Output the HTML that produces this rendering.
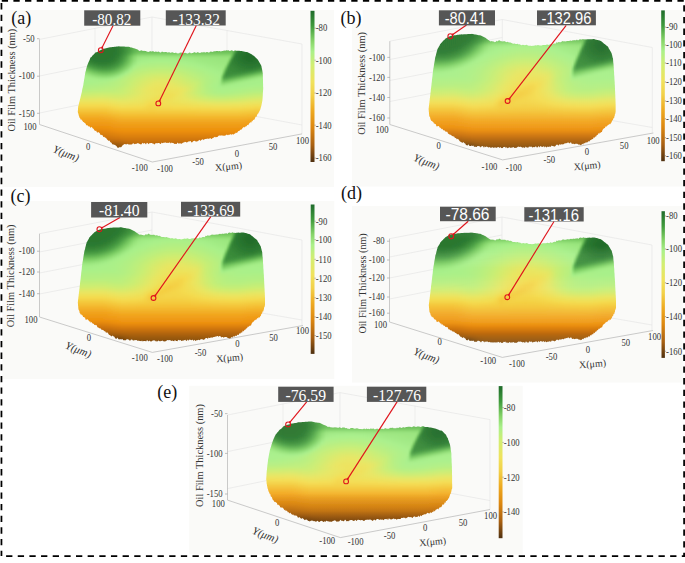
<!DOCTYPE html>
<html><head><meta charset="utf-8"><style>
html,body{margin:0;padding:0;background:#fff;}
svg{display:block;}
</style></head><body>
<svg width="685" height="563" viewBox="0 0 685 563">
<defs>
<clipPath id="clipshort"><path d="M77.8,111.8 L77.9,110.7 L78.0,109.1 L78.1,107.6 L78.2,106.2 L78.5,105.4 L78.8,104.2 L79.1,102.8 L79.5,101.4 L79.8,100.2 L80.1,99.0 L80.4,97.9 L80.7,96.5 L81.0,95.4 L81.3,94.0 L81.6,93.0 L81.9,91.7 L82.1,90.2 L82.4,88.8 L82.7,87.8 L83.0,86.2 L83.3,84.9 L83.5,83.4 L83.7,82.3 L83.9,81.1 L84.1,79.8 L84.4,78.3 L84.6,77.1 L84.8,75.6 L85.0,74.4 L85.2,73.0 L85.5,71.8 L85.9,70.4 L86.2,69.1 L86.5,67.9 L86.9,66.6 L87.2,65.4 L87.7,64.3 L88.1,63.3 L88.6,62.1 L89.1,61.1 L89.6,60.0 L90.0,58.7 L90.5,57.5 L91.5,56.9 L92.5,55.5 L93.4,54.8 L94.4,53.8 L95.4,52.5 L96.5,52.3 L97.6,51.7 L98.7,51.0 L99.8,50.5 L101.9,49.5 L102.9,49.1 L103.9,48.8 L105.0,48.6 L106.0,48.2 L107.0,48.0 L108.0,47.7 L109.0,47.4 L110.1,47.2 L111.2,47.2 L112.3,47.0 L113.4,47.0 L114.5,46.7 L115.6,46.7 L116.7,46.5 L117.8,46.4 L118.9,46.3 L120.0,46.4 L121.1,46.4 L122.1,46.5 L123.2,46.6 L124.3,46.6 L125.4,46.7 L126.4,46.7 L127.5,46.7 L128.6,46.8 L129.7,47.1 L130.7,47.4 L131.8,47.6 L132.9,48.0 L133.9,48.2 L135.0,48.6 L136.0,49.0 L137.0,49.3 L138.0,49.8 L139.0,50.7 L140.0,51.0 L141.0,50.3 L142.0,50.5 L143.0,51.0 L144.0,50.8 L145.0,51.1 L146.0,51.1 L147.0,51.7 L148.0,51.8 L149.0,51.9 L150.0,50.9 L151.0,51.5 L152.0,51.4 L153.0,50.9 L154.0,51.8 L155.0,52.0 L156.0,51.2 L157.0,52.2 L158.0,51.6 L159.0,51.8 L160.0,52.5 L161.0,52.4 L162.0,51.6 L163.0,52.0 L164.0,52.2 L165.0,52.1 L166.0,52.0 L167.0,52.2 L168.0,52.8 L169.0,52.0 L170.0,52.7 L171.0,52.7 L172.0,52.2 L173.0,52.6 L174.0,53.0 L175.0,52.9 L176.0,52.4 L177.0,53.5 L178.0,53.3 L179.0,53.6 L180.0,52.6 L181.0,52.8 L182.0,52.6 L183.0,53.5 L184.0,52.9 L185.0,52.8 L186.0,53.1 L187.0,53.6 L188.0,53.4 L189.0,52.7 L190.0,52.5 L191.0,53.4 L192.0,53.0 L193.0,53.1 L194.0,52.3 L195.0,52.2 L196.0,52.9 L197.0,52.6 L198.0,52.1 L199.0,53.1 L200.0,52.7 L201.0,52.8 L202.0,51.9 L203.0,52.8 L204.0,51.8 L205.0,52.7 L206.0,52.2 L207.0,52.0 L208.0,52.2 L209.0,52.7 L210.0,51.8 L211.1,51.6 L212.2,52.0 L213.3,51.5 L214.4,51.3 L215.4,51.2 L216.5,51.0 L217.6,51.1 L218.7,51.2 L219.8,51.1 L220.9,51.5 L222.0,50.9 L223.0,51.1 L224.1,50.6 L225.2,50.8 L226.3,50.3 L227.3,50.5 L228.4,50.2 L229.5,51.0 L230.6,50.8 L231.7,50.3 L232.8,50.7 L233.9,51.2 L234.9,50.2 L236.0,50.8 L237.1,50.7 L238.2,50.7 L239.3,50.8 L240.4,50.9 L241.5,51.1 L242.6,51.3 L243.8,51.6 L244.9,51.7 L246.0,52.0 L247.1,52.1 L248.1,52.6 L249.1,53.1 L250.1,53.6 L251.0,54.1 L252.0,54.6 L253.0,55.4 L254.0,55.8 L255.0,56.9 L255.9,57.8 L256.9,58.8 L257.9,59.7 L258.6,60.9 L259.2,61.9 L259.9,63.3 L260.5,64.3 L261.2,65.5 L261.5,66.5 L261.7,67.7 L262.0,69.1 L262.3,70.5 L262.5,71.7 L262.8,73.4 L262.8,74.4 L262.9,75.7 L262.9,76.9 L262.9,78.1 L263.0,79.2 L263.0,80.1 L263.0,81.8 L263.0,83.0 L263.1,84.1 L263.1,85.3 L263.1,86.6 L263.2,87.4 L263.2,89.0 L263.1,90.1 L263.0,91.2 L262.9,92.7 L262.8,94.2 L262.8,95.2 L262.7,96.8 L262.6,98.3 L262.5,99.3 L262.4,100.5 L262.1,102.0 L261.8,103.6 L261.5,105.1 L261.2,106.4 L260.9,106.7 L260.7,108.5 L260.4,108.4 L260.2,110.1 L259.9,110.5 L259.5,110.8 L259.1,112.3 L258.8,112.3 L258.3,113.6 L257.8,113.7 L257.3,114.4 L256.9,115.6 L256.4,117.0 L255.9,116.4 L255.4,117.3 L254.9,118.6 L254.3,119.7 L253.7,119.7 L253.1,120.0 L252.5,121.6 L252.0,120.6 L251.4,122.5 L250.8,122.2 L250.2,122.5 L249.6,123.1 L248.9,123.9 L248.2,125.3 L247.4,124.7 L246.7,125.9 L246.0,126.5 L245.3,126.5 L244.5,127.4 L243.8,127.0 L243.1,127.6 L242.4,128.3 L241.7,129.6 L240.9,129.6 L240.2,129.9 L239.5,130.8 L238.8,131.1 L238.1,131.3 L237.4,132.6 L236.6,132.9 L235.9,132.6 L235.2,133.6 L234.4,133.7 L233.6,134.5 L232.8,134.4 L232.0,133.8 L231.2,135.2 L230.5,133.9 L229.7,134.6 L228.9,135.3 L228.1,134.4 L227.3,135.2 L226.4,134.4 L225.5,135.6 L224.7,135.7 L223.8,135.5 L222.9,136.0 L222.0,135.1 L221.2,135.8 L220.3,135.6 L219.4,135.6 L218.5,135.8 L217.7,136.7 L216.8,137.3 L215.9,136.8 L215.1,137.4 L214.2,136.8 L213.4,138.0 L212.6,138.1 L211.8,138.9 L211.0,138.8 L210.2,138.1 L209.5,138.4 L208.7,139.1 L207.9,138.2 L207.1,139.1 L206.3,138.8 L205.5,138.9 L204.7,138.9 L203.8,140.2 L203.0,139.3 L202.2,139.6 L201.3,140.0 L200.5,140.9 L199.7,139.7 L198.9,140.4 L198.1,140.7 L197.2,141.4 L196.4,141.4 L195.6,141.6 L194.8,140.8 L193.9,141.1 L193.1,141.2 L192.3,142.2 L191.5,142.4 L190.6,141.1 L189.8,141.3 L189.0,141.5 L188.2,141.6 L187.4,142.2 L186.6,142.5 L185.7,142.0 L184.9,141.7 L184.1,142.5 L183.3,142.5 L182.5,143.0 L181.6,143.7 L180.8,143.4 L180.0,143.2 L179.2,143.4 L178.3,143.5 L177.5,142.5 L176.7,143.9 L175.8,143.7 L175.0,143.9 L174.2,143.8 L173.3,143.1 L172.5,143.1 L171.7,142.6 L170.8,143.6 L170.0,142.6 L169.2,142.6 L168.3,142.9 L167.5,142.8 L166.7,143.1 L165.8,142.6 L165.0,142.6 L164.2,142.8 L163.3,142.7 L162.5,143.2 L161.7,142.6 L160.8,144.1 L160.0,143.7 L159.2,142.9 L158.3,143.1 L157.5,143.2 L156.7,143.3 L155.8,142.9 L155.0,144.1 L154.2,144.4 L153.3,143.5 L152.5,143.5 L151.7,142.9 L150.8,142.9 L150.0,143.3 L149.2,143.2 L148.4,144.2 L147.6,143.0 L146.8,142.8 L146.0,144.4 L145.2,143.6 L144.4,143.0 L143.6,143.7 L142.8,142.8 L142.0,143.6 L141.2,144.4 L140.4,144.2 L139.6,143.9 L138.8,143.2 L138.0,143.4 L137.2,143.1 L136.3,144.1 L135.5,143.7 L134.7,144.2 L133.8,143.4 L133.0,143.3 L132.2,144.3 L131.3,144.6 L130.5,144.4 L129.7,144.4 L128.8,144.4 L128.0,144.3 L127.2,143.7 L126.4,144.4 L125.6,144.3 L124.8,144.0 L124.0,144.2 L123.2,145.1 L122.4,145.5 L121.6,146.7 L120.8,147.6 L120.0,146.8 L119.2,147.6 L118.3,147.8 L117.5,147.8 L116.8,146.4 L116.1,145.7 L115.4,145.3 L114.7,144.9 L114.0,144.5 L113.4,144.6 L112.8,144.6 L112.1,143.9 L111.5,142.7 L110.9,142.4 L110.2,142.1 L109.6,140.4 L109.0,140.8 L108.4,140.7 L107.7,140.0 L107.1,139.4 L106.4,138.5 L105.8,137.5 L105.1,138.0 L104.5,136.7 L103.8,137.0 L103.2,136.8 L102.5,135.3 L101.8,134.8 L101.0,135.3 L100.3,134.4 L99.6,132.9 L98.9,132.4 L98.1,131.9 L97.4,132.7 L96.7,132.0 L96.1,130.4 L95.4,131.1 L94.8,130.8 L94.1,129.8 L93.5,128.7 L92.8,128.6 L92.2,127.4 L91.5,126.7 L90.7,127.9 L90.0,126.9 L89.2,126.2 L88.5,126.5 L87.7,125.2 L87.0,125.5 L86.2,124.9 L85.5,123.5 L84.7,123.1 L84.2,122.6 L83.6,121.9 L83.1,121.9 L82.5,120.7 L82.0,120.4 L81.4,119.3 L80.9,120.1 L80.3,118.5 L79.8,118.1 L79.5,117.6 L79.3,117.3 L79.0,115.7 L78.8,115.8 L78.5,114.3 L78.3,113.6 L78.0,112.8 L77.8,112.0 Z"/></clipPath>
<clipPath id="clipe"><path d="M78.2,103.4 L78.3,102.5 L78.4,101.0 L78.5,99.7 L78.5,98.9 L78.6,97.4 L78.7,96.4 L78.8,95.0 L79.0,93.9 L79.1,92.4 L79.3,90.9 L79.4,89.5 L79.6,88.5 L79.7,87.2 L79.9,86.0 L80.0,84.3 L80.2,83.3 L80.5,81.8 L80.7,80.6 L81.0,79.1 L81.2,77.8 L81.5,76.6 L81.7,75.5 L82.0,73.8 L82.4,72.8 L82.7,71.8 L83.1,70.7 L83.5,69.1 L83.9,67.9 L84.2,67.1 L84.6,65.9 L85.1,64.6 L85.6,63.2 L86.0,62.6 L86.5,61.2 L87.0,60.3 L87.5,59.1 L88.4,58.2 L89.3,56.8 L90.1,56.1 L91.0,54.9 L91.9,54.0 L92.9,53.3 L94.0,52.4 L95.0,51.2 L96.0,50.4 L97.2,50.0 L98.3,49.6 L99.5,49.1 L101.7,48.6 L102.8,48.2 L103.8,48.0 L104.8,47.9 L105.9,47.6 L106.9,47.4 L107.9,47.3 L109.0,47.1 L110.0,46.7 L111.0,46.6 L112.1,46.6 L113.2,46.6 L114.2,46.4 L115.2,46.4 L116.3,46.4 L117.3,46.2 L118.4,46.1 L119.4,46.1 L120.5,46.0 L121.5,45.8 L122.6,45.8 L123.6,46.0 L124.7,46.1 L125.7,46.3 L126.8,46.6 L127.8,46.8 L128.9,47.0 L129.9,47.2 L131.0,47.2 L132.0,47.5 L133.0,47.9 L134.0,48.5 L135.0,48.9 L136.0,49.3 L137.0,49.7 L138.0,50.2 L139.0,50.6 L140.0,51.6 L141.0,50.8 L142.0,51.7 L143.0,51.7 L144.0,51.9 L145.0,52.0 L146.0,51.9 L147.0,51.7 L148.0,51.8 L149.1,51.9 L150.1,52.4 L151.2,51.7 L152.3,51.9 L153.3,52.6 L154.4,52.0 L155.5,51.9 L156.5,51.9 L157.6,52.6 L158.6,52.3 L159.7,53.2 L160.7,53.1 L161.7,53.3 L162.7,52.5 L163.8,52.3 L164.8,52.4 L165.8,52.9 L166.9,53.2 L167.9,52.9 L168.9,52.7 L169.9,53.0 L171.0,53.3 L172.0,53.4 L173.1,53.5 L174.1,53.6 L175.2,53.4 L176.2,52.8 L177.3,53.7 L178.3,53.0 L179.4,53.4 L180.5,53.2 L181.5,53.6 L182.6,53.0 L183.6,53.1 L184.7,53.1 L185.7,53.0 L186.8,53.9 L187.8,53.4 L188.8,53.1 L189.8,53.1 L190.9,53.8 L191.9,53.2 L192.9,52.8 L193.9,53.4 L194.9,53.2 L195.9,53.6 L197.0,52.5 L198.0,52.9 L199.0,53.2 L200.0,53.2 L201.0,53.2 L202.0,52.1 L203.0,52.3 L204.0,52.1 L205.0,52.1 L206.0,53.0 L207.0,52.4 L208.0,52.8 L209.0,52.0 L210.0,52.6 L211.0,52.0 L212.0,51.7 L213.0,52.2 L214.0,52.4 L215.0,51.3 L216.0,51.8 L217.0,51.8 L218.0,51.3 L219.0,51.4 L220.0,51.1 L221.0,51.1 L222.0,51.2 L223.0,51.5 L224.0,51.6 L225.0,51.0 L226.0,50.7 L227.0,51.1 L228.1,51.5 L229.1,50.9 L230.2,51.0 L231.2,50.8 L232.2,51.5 L233.3,51.2 L234.3,50.6 L235.4,50.6 L236.4,51.1 L237.5,51.3 L238.5,51.4 L239.6,51.5 L240.7,51.7 L241.7,51.9 L242.8,52.0 L243.9,52.2 L244.9,52.3 L246.0,52.6 L247.0,52.8 L248.0,53.2 L249.0,53.6 L250.0,53.9 L251.0,54.4 L252.0,54.8 L253.0,55.0 L254.0,55.2 L255.2,56.3 L256.3,57.6 L257.5,58.7 L258.1,59.3 L258.6,60.7 L259.2,61.9 L259.8,62.5 L260.2,64.2 L260.7,65.1 L261.1,66.6 L261.6,67.8 L262.0,69.1 L262.2,70.1 L262.4,71.4 L262.6,72.6 L262.7,73.8 L262.9,75.1 L263.1,76.2 L263.3,77.4 L263.4,78.4 L263.4,80.0 L263.4,81.2 L263.5,82.3 L263.6,83.8 L263.6,85.1 L263.6,86.2 L263.7,87.3 L263.8,88.7 L263.8,89.7 L263.9,91.0 L263.9,92.4 L263.9,93.5 L264.0,95.0 L264.0,96.2 L264.0,97.2 L264.0,98.8 L264.1,99.7 L264.1,101.4 L264.1,102.6 L264.1,103.7 L264.1,104.7 L264.1,106.2 L264.1,107.4 L264.2,108.9 L264.2,109.7 L264.2,111.4 L264.2,112.4 L264.0,113.5 L263.8,113.3 L263.6,114.3 L263.4,115.3 L263.1,116.9 L262.9,117.0 L262.7,118.3 L262.5,118.2 L262.1,119.0 L261.7,120.1 L261.3,121.5 L261.0,122.2 L260.6,122.9 L260.2,123.0 L259.8,124.1 L259.2,124.7 L258.6,125.3 L258.0,125.3 L257.3,127.3 L256.7,126.7 L256.1,128.7 L255.5,129.2 L254.9,128.3 L254.2,129.7 L253.6,130.9 L252.9,131.8 L252.3,131.5 L251.6,131.8 L251.0,132.3 L250.3,133.9 L249.5,133.0 L248.8,134.0 L248.1,133.6 L247.4,134.7 L246.6,135.8 L245.9,134.7 L245.2,136.3 L244.5,136.1 L243.7,137.1 L243.0,137.1 L242.2,136.6 L241.4,138.0 L240.6,137.6 L239.8,137.1 L239.0,137.3 L238.2,138.4 L237.5,138.6 L236.7,138.7 L235.9,138.7 L235.1,139.3 L234.3,139.5 L233.5,140.7 L232.7,139.4 L231.9,140.8 L231.0,141.0 L230.2,139.9 L229.4,141.4 L228.6,141.2 L227.8,141.6 L226.9,140.7 L226.1,141.0 L225.3,141.1 L224.5,142.3 L223.6,141.7 L222.8,141.4 L222.0,141.7 L221.2,141.5 L220.4,141.2 L219.6,141.4 L218.8,142.7 L218.0,141.8 L217.2,143.0 L216.4,141.9 L215.6,142.0 L214.8,142.5 L214.0,142.1 L213.2,142.5 L212.4,143.5 L211.6,143.5 L210.8,143.5 L210.0,143.2 L209.2,143.7 L208.3,143.8 L207.5,143.2 L206.7,143.6 L205.8,142.5 L205.0,143.7 L204.2,143.2 L203.3,143.8 L202.5,143.6 L201.7,143.1 L200.8,142.7 L200.0,144.3 L199.2,142.9 L198.3,143.6 L197.5,143.4 L196.7,143.4 L195.8,144.2 L195.0,144.6 L194.2,143.4 L193.4,144.1 L192.5,143.6 L191.7,144.1 L190.9,143.8 L190.1,143.5 L189.2,143.5 L188.4,143.6 L187.6,144.9 L186.8,144.2 L185.9,143.8 L185.1,145.0 L184.3,145.2 L183.5,144.3 L182.6,143.8 L181.8,143.9 L181.0,143.8 L180.2,144.2 L179.3,143.8 L178.5,144.1 L177.7,144.2 L176.8,144.7 L176.0,145.3 L175.2,145.0 L174.3,144.5 L173.5,144.5 L172.7,144.7 L171.8,144.5 L171.0,144.4 L170.2,144.0 L169.3,144.4 L168.5,145.5 L167.7,144.1 L166.8,144.8 L166.0,145.0 L165.2,145.4 L164.3,144.4 L163.5,144.5 L162.7,144.4 L161.8,144.7 L161.0,144.8 L160.2,145.7 L159.3,145.5 L158.5,145.6 L157.6,144.2 L156.8,144.2 L156.0,145.4 L155.1,145.7 L154.3,145.0 L153.5,145.2 L152.6,144.2 L151.8,144.9 L151.0,145.9 L150.1,145.7 L149.3,145.8 L148.4,146.0 L147.6,144.9 L146.7,144.6 L145.9,144.8 L145.1,145.4 L144.2,145.7 L143.4,146.2 L142.5,145.9 L141.7,145.8 L140.8,146.0 L140.0,145.5 L139.2,145.7 L138.3,144.9 L137.5,146.2 L136.7,145.3 L135.9,146.5 L135.0,146.0 L134.2,145.5 L133.4,145.2 L132.5,145.4 L131.7,146.1 L130.9,146.3 L130.1,145.3 L129.2,145.2 L128.4,146.0 L127.6,146.0 L126.8,145.6 L125.9,145.2 L125.1,145.7 L124.3,144.6 L123.5,145.0 L122.6,145.2 L121.8,145.9 L121.0,145.2 L120.2,145.4 L119.4,144.5 L118.6,143.9 L117.8,143.7 L117.0,144.7 L116.2,144.0 L115.4,143.1 L114.6,142.4 L113.8,143.0 L113.0,142.9 L112.2,142.2 L111.5,141.5 L110.7,141.9 L109.9,142.0 L109.1,140.4 L108.3,139.8 L107.6,139.9 L106.8,139.7 L106.0,139.8 L105.2,138.6 L104.5,139.2 L103.7,138.7 L103.0,137.9 L102.2,136.9 L101.5,137.8 L100.7,136.3 L100.0,136.8 L99.2,135.3 L98.5,134.8 L97.8,135.3 L97.1,134.0 L96.4,134.7 L95.8,133.4 L95.1,132.4 L94.4,132.0 L93.7,131.8 L93.0,131.8 L92.3,131.7 L91.6,129.8 L90.9,129.6 L90.2,128.8 L89.6,129.5 L88.9,127.5 L88.2,126.8 L87.5,126.3 L87.0,126.1 L86.5,126.3 L86.0,125.6 L85.5,124.6 L85.0,124.4 L84.5,123.6 L84.0,121.9 L83.5,121.0 L83.1,121.5 L82.7,120.4 L82.3,118.4 L81.8,118.7 L81.4,117.4 L81.0,116.6 L80.6,115.8 L80.2,114.7 L80.0,113.6 L79.8,113.3 L79.6,112.6 L79.5,112.8 L79.3,110.5 L79.1,111.1 L78.9,109.0 L78.8,108.4 L78.7,108.4 L78.6,107.5 L78.5,106.0 L78.4,104.5 L78.3,104.4 L78.2,103.6 Z"/></clipPath>
<filter id="vbshort" x="-5%" y="-5%" width="110%" height="110%"><feGaussianBlur stdDeviation="0.4 1.1"/></filter>
<linearGradient id="sshort0" gradientUnits="userSpaceOnUse" x1="74" y1="0" x2="268" y2="0"><stop offset="0.000" stop-color="#318034"/><stop offset="0.021" stop-color="#2b7930"/><stop offset="0.041" stop-color="#2a772f"/><stop offset="0.062" stop-color="#2a772f"/><stop offset="0.082" stop-color="#2a772f"/><stop offset="0.103" stop-color="#2a772f"/><stop offset="0.124" stop-color="#2a772f"/><stop offset="0.144" stop-color="#2a772f"/><stop offset="0.165" stop-color="#2a772f"/><stop offset="0.186" stop-color="#2a772f"/><stop offset="0.206" stop-color="#2a7830"/><stop offset="0.227" stop-color="#2e7c32"/><stop offset="0.247" stop-color="#378838"/><stop offset="0.268" stop-color="#439640"/><stop offset="0.289" stop-color="#51a549"/><stop offset="0.309" stop-color="#60b352"/><stop offset="0.330" stop-color="#67ba56"/><stop offset="0.351" stop-color="#67ba56"/><stop offset="0.371" stop-color="#67ba56"/><stop offset="0.392" stop-color="#67ba56"/><stop offset="0.412" stop-color="#67ba56"/><stop offset="0.433" stop-color="#67ba56"/><stop offset="0.454" stop-color="#67ba56"/><stop offset="0.474" stop-color="#67ba56"/><stop offset="0.495" stop-color="#67ba56"/><stop offset="0.515" stop-color="#67ba56"/><stop offset="0.536" stop-color="#67ba56"/><stop offset="0.557" stop-color="#67ba56"/><stop offset="0.577" stop-color="#67ba56"/><stop offset="0.598" stop-color="#67ba56"/><stop offset="0.619" stop-color="#67ba56"/><stop offset="0.639" stop-color="#67b956"/><stop offset="0.660" stop-color="#67b956"/><stop offset="0.680" stop-color="#67b956"/><stop offset="0.701" stop-color="#66b956"/><stop offset="0.722" stop-color="#66b956"/><stop offset="0.732" stop-color="#66b956"/><stop offset="0.742" stop-color="#66b956"/><stop offset="0.753" stop-color="#66b956"/><stop offset="0.763" stop-color="#66b956"/><stop offset="0.773" stop-color="#66b956"/><stop offset="0.784" stop-color="#66b956"/><stop offset="0.794" stop-color="#66b956"/><stop offset="0.804" stop-color="#66b956"/><stop offset="0.814" stop-color="#66b956"/><stop offset="0.825" stop-color="#66b956"/><stop offset="0.835" stop-color="#66b956"/><stop offset="0.845" stop-color="#5aad4e"/><stop offset="0.856" stop-color="#40923d"/><stop offset="0.876" stop-color="#307f33"/><stop offset="0.897" stop-color="#2e7d32"/><stop offset="0.918" stop-color="#2e7d32"/><stop offset="0.938" stop-color="#307f33"/><stop offset="0.959" stop-color="#328235"/><stop offset="0.979" stop-color="#358637"/><stop offset="1.000" stop-color="#388938"/></linearGradient>
<linearGradient id="sshort1" gradientUnits="userSpaceOnUse" x1="74" y1="0" x2="268" y2="0"><stop offset="0.000" stop-color="#328235"/><stop offset="0.021" stop-color="#2c7a31"/><stop offset="0.041" stop-color="#2a772f"/><stop offset="0.062" stop-color="#2a772f"/><stop offset="0.082" stop-color="#2a772f"/><stop offset="0.103" stop-color="#2a772f"/><stop offset="0.124" stop-color="#2a772f"/><stop offset="0.144" stop-color="#2a772f"/><stop offset="0.165" stop-color="#2a772f"/><stop offset="0.186" stop-color="#2a772f"/><stop offset="0.206" stop-color="#2a7730"/><stop offset="0.227" stop-color="#2d7c31"/><stop offset="0.247" stop-color="#368637"/><stop offset="0.268" stop-color="#41943f"/><stop offset="0.289" stop-color="#4fa347"/><stop offset="0.309" stop-color="#5fb251"/><stop offset="0.330" stop-color="#68ba56"/><stop offset="0.351" stop-color="#68bb57"/><stop offset="0.371" stop-color="#68bb57"/><stop offset="0.392" stop-color="#68bb57"/><stop offset="0.412" stop-color="#68bb57"/><stop offset="0.433" stop-color="#68bb57"/><stop offset="0.454" stop-color="#68bb57"/><stop offset="0.474" stop-color="#68bb57"/><stop offset="0.495" stop-color="#68bb57"/><stop offset="0.515" stop-color="#68bb57"/><stop offset="0.536" stop-color="#68bb57"/><stop offset="0.557" stop-color="#68bb57"/><stop offset="0.577" stop-color="#68bb57"/><stop offset="0.598" stop-color="#68bb57"/><stop offset="0.619" stop-color="#68bb57"/><stop offset="0.639" stop-color="#68ba57"/><stop offset="0.660" stop-color="#68ba56"/><stop offset="0.680" stop-color="#67ba56"/><stop offset="0.701" stop-color="#67ba56"/><stop offset="0.722" stop-color="#67ba56"/><stop offset="0.732" stop-color="#67ba56"/><stop offset="0.742" stop-color="#67ba56"/><stop offset="0.753" stop-color="#67ba56"/><stop offset="0.763" stop-color="#67ba56"/><stop offset="0.773" stop-color="#67ba56"/><stop offset="0.784" stop-color="#67ba56"/><stop offset="0.794" stop-color="#67ba56"/><stop offset="0.804" stop-color="#67ba56"/><stop offset="0.814" stop-color="#67ba56"/><stop offset="0.825" stop-color="#67ba56"/><stop offset="0.835" stop-color="#63b654"/><stop offset="0.845" stop-color="#479b42"/><stop offset="0.856" stop-color="#338335"/><stop offset="0.876" stop-color="#2d7b31"/><stop offset="0.897" stop-color="#2c7930"/><stop offset="0.918" stop-color="#2c7930"/><stop offset="0.938" stop-color="#2d7b31"/><stop offset="0.959" stop-color="#2f7e33"/><stop offset="0.979" stop-color="#338335"/><stop offset="1.000" stop-color="#378738"/></linearGradient>
<linearGradient id="sshort2" gradientUnits="userSpaceOnUse" x1="74" y1="0" x2="268" y2="0"><stop offset="0.000" stop-color="#358536"/><stop offset="0.021" stop-color="#2d7b31"/><stop offset="0.041" stop-color="#2a772f"/><stop offset="0.062" stop-color="#2a772f"/><stop offset="0.082" stop-color="#2a772f"/><stop offset="0.103" stop-color="#2a772f"/><stop offset="0.124" stop-color="#2a772f"/><stop offset="0.144" stop-color="#2a772f"/><stop offset="0.165" stop-color="#2a772f"/><stop offset="0.186" stop-color="#2a772f"/><stop offset="0.206" stop-color="#2a772f"/><stop offset="0.227" stop-color="#2d7b31"/><stop offset="0.247" stop-color="#358536"/><stop offset="0.268" stop-color="#40933e"/><stop offset="0.289" stop-color="#4ea246"/><stop offset="0.309" stop-color="#5fb251"/><stop offset="0.330" stop-color="#68bb57"/><stop offset="0.351" stop-color="#6abc58"/><stop offset="0.371" stop-color="#6abc58"/><stop offset="0.392" stop-color="#6abc58"/><stop offset="0.412" stop-color="#6abd58"/><stop offset="0.433" stop-color="#6abd58"/><stop offset="0.454" stop-color="#6abd58"/><stop offset="0.474" stop-color="#6abd58"/><stop offset="0.495" stop-color="#6abd58"/><stop offset="0.515" stop-color="#6abc58"/><stop offset="0.536" stop-color="#6abc58"/><stop offset="0.557" stop-color="#6abc58"/><stop offset="0.577" stop-color="#69bc58"/><stop offset="0.598" stop-color="#69bc57"/><stop offset="0.619" stop-color="#69bc57"/><stop offset="0.639" stop-color="#69bc57"/><stop offset="0.660" stop-color="#69bb57"/><stop offset="0.680" stop-color="#69bb57"/><stop offset="0.701" stop-color="#68bb57"/><stop offset="0.722" stop-color="#68bb57"/><stop offset="0.732" stop-color="#68bb57"/><stop offset="0.742" stop-color="#68bb57"/><stop offset="0.753" stop-color="#68bb57"/><stop offset="0.763" stop-color="#68bb57"/><stop offset="0.773" stop-color="#68bb57"/><stop offset="0.784" stop-color="#68bb57"/><stop offset="0.794" stop-color="#68bb57"/><stop offset="0.804" stop-color="#68bb57"/><stop offset="0.814" stop-color="#68bb57"/><stop offset="0.825" stop-color="#68bb57"/><stop offset="0.835" stop-color="#54a84a"/><stop offset="0.845" stop-color="#398a39"/><stop offset="0.856" stop-color="#2d7b31"/><stop offset="0.876" stop-color="#2a7830"/><stop offset="0.897" stop-color="#29762f"/><stop offset="0.918" stop-color="#29762f"/><stop offset="0.938" stop-color="#2a7830"/><stop offset="0.959" stop-color="#2d7b31"/><stop offset="0.979" stop-color="#318034"/><stop offset="1.000" stop-color="#358537"/></linearGradient>
<linearGradient id="sshort3" gradientUnits="userSpaceOnUse" x1="74" y1="0" x2="268" y2="0"><stop offset="0.000" stop-color="#388938"/><stop offset="0.021" stop-color="#2e7d32"/><stop offset="0.041" stop-color="#2b7830"/><stop offset="0.062" stop-color="#2a772f"/><stop offset="0.082" stop-color="#2a772f"/><stop offset="0.103" stop-color="#2a772f"/><stop offset="0.124" stop-color="#2a772f"/><stop offset="0.144" stop-color="#2a772f"/><stop offset="0.165" stop-color="#2a772f"/><stop offset="0.186" stop-color="#2a772f"/><stop offset="0.206" stop-color="#2a772f"/><stop offset="0.227" stop-color="#2d7b31"/><stop offset="0.247" stop-color="#348436"/><stop offset="0.268" stop-color="#40923e"/><stop offset="0.289" stop-color="#4da146"/><stop offset="0.309" stop-color="#5eb251"/><stop offset="0.330" stop-color="#69bc58"/><stop offset="0.351" stop-color="#6bbe59"/><stop offset="0.371" stop-color="#6bbe59"/><stop offset="0.392" stop-color="#6cbe59"/><stop offset="0.412" stop-color="#6cbe59"/><stop offset="0.433" stop-color="#6cbe59"/><stop offset="0.454" stop-color="#6cbe59"/><stop offset="0.474" stop-color="#6cbe59"/><stop offset="0.495" stop-color="#6cbe59"/><stop offset="0.515" stop-color="#6cbe59"/><stop offset="0.536" stop-color="#6bbe59"/><stop offset="0.557" stop-color="#6bbe59"/><stop offset="0.577" stop-color="#6bbd59"/><stop offset="0.598" stop-color="#6bbd58"/><stop offset="0.619" stop-color="#6abd58"/><stop offset="0.639" stop-color="#6abd58"/><stop offset="0.660" stop-color="#6abd58"/><stop offset="0.680" stop-color="#6abc58"/><stop offset="0.701" stop-color="#69bc58"/><stop offset="0.722" stop-color="#69bc58"/><stop offset="0.732" stop-color="#69bc58"/><stop offset="0.742" stop-color="#69bc57"/><stop offset="0.753" stop-color="#69bc57"/><stop offset="0.763" stop-color="#69bc57"/><stop offset="0.773" stop-color="#69bc57"/><stop offset="0.784" stop-color="#69bc57"/><stop offset="0.794" stop-color="#69bc57"/><stop offset="0.804" stop-color="#69bc57"/><stop offset="0.814" stop-color="#69bc57"/><stop offset="0.825" stop-color="#61b452"/><stop offset="0.835" stop-color="#43953f"/><stop offset="0.845" stop-color="#2e7c32"/><stop offset="0.856" stop-color="#2b7930"/><stop offset="0.876" stop-color="#28742e"/><stop offset="0.897" stop-color="#26722d"/><stop offset="0.918" stop-color="#26722d"/><stop offset="0.938" stop-color="#28742e"/><stop offset="0.959" stop-color="#2b7930"/><stop offset="0.979" stop-color="#2e7d32"/><stop offset="1.000" stop-color="#348436"/></linearGradient>
<linearGradient id="sshort4" gradientUnits="userSpaceOnUse" x1="74" y1="0" x2="268" y2="0"><stop offset="0.000" stop-color="#3e8f3c"/><stop offset="0.021" stop-color="#328235"/><stop offset="0.041" stop-color="#2c7a31"/><stop offset="0.062" stop-color="#2a772f"/><stop offset="0.082" stop-color="#2a772f"/><stop offset="0.103" stop-color="#2a772f"/><stop offset="0.124" stop-color="#2a772f"/><stop offset="0.144" stop-color="#2a772f"/><stop offset="0.165" stop-color="#2a772f"/><stop offset="0.186" stop-color="#2a772f"/><stop offset="0.206" stop-color="#2a7730"/><stop offset="0.227" stop-color="#2d7c31"/><stop offset="0.247" stop-color="#368637"/><stop offset="0.268" stop-color="#42953f"/><stop offset="0.289" stop-color="#53a74a"/><stop offset="0.309" stop-color="#66b956"/><stop offset="0.330" stop-color="#73c55d"/><stop offset="0.351" stop-color="#75c75f"/><stop offset="0.371" stop-color="#76c85f"/><stop offset="0.392" stop-color="#76c85f"/><stop offset="0.412" stop-color="#76c860"/><stop offset="0.433" stop-color="#76c860"/><stop offset="0.454" stop-color="#76c860"/><stop offset="0.474" stop-color="#76c860"/><stop offset="0.495" stop-color="#76c860"/><stop offset="0.515" stop-color="#76c85f"/><stop offset="0.536" stop-color="#76c85f"/><stop offset="0.557" stop-color="#75c75f"/><stop offset="0.577" stop-color="#75c75f"/><stop offset="0.598" stop-color="#74c75f"/><stop offset="0.619" stop-color="#74c65e"/><stop offset="0.639" stop-color="#74c65e"/><stop offset="0.660" stop-color="#73c65e"/><stop offset="0.680" stop-color="#73c55e"/><stop offset="0.701" stop-color="#73c55e"/><stop offset="0.722" stop-color="#73c55d"/><stop offset="0.732" stop-color="#73c55d"/><stop offset="0.742" stop-color="#73c55d"/><stop offset="0.753" stop-color="#72c55d"/><stop offset="0.763" stop-color="#72c55d"/><stop offset="0.773" stop-color="#72c55d"/><stop offset="0.784" stop-color="#72c55d"/><stop offset="0.794" stop-color="#72c55d"/><stop offset="0.804" stop-color="#72c55d"/><stop offset="0.814" stop-color="#71c45d"/><stop offset="0.825" stop-color="#54a84a"/><stop offset="0.835" stop-color="#358637"/><stop offset="0.845" stop-color="#2b7930"/><stop offset="0.856" stop-color="#29762f"/><stop offset="0.876" stop-color="#26722d"/><stop offset="0.897" stop-color="#246f2c"/><stop offset="0.918" stop-color="#246f2c"/><stop offset="0.938" stop-color="#26722d"/><stop offset="0.959" stop-color="#29762f"/><stop offset="0.979" stop-color="#2d7c31"/><stop offset="1.000" stop-color="#328235"/></linearGradient>
<linearGradient id="sshort5" gradientUnits="userSpaceOnUse" x1="74" y1="0" x2="268" y2="0"><stop offset="0.000" stop-color="#479b42"/><stop offset="0.021" stop-color="#398a39"/><stop offset="0.041" stop-color="#2e7d32"/><stop offset="0.062" stop-color="#2b7830"/><stop offset="0.082" stop-color="#2a772f"/><stop offset="0.103" stop-color="#2a772f"/><stop offset="0.124" stop-color="#2a772f"/><stop offset="0.144" stop-color="#2a772f"/><stop offset="0.165" stop-color="#2a772f"/><stop offset="0.186" stop-color="#2a772f"/><stop offset="0.206" stop-color="#2b7830"/><stop offset="0.227" stop-color="#2e7d32"/><stop offset="0.247" stop-color="#3a8b3a"/><stop offset="0.268" stop-color="#489c43"/><stop offset="0.289" stop-color="#60b352"/><stop offset="0.309" stop-color="#76c960"/><stop offset="0.330" stop-color="#86d66d"/><stop offset="0.351" stop-color="#8ad870"/><stop offset="0.371" stop-color="#8ad970"/><stop offset="0.392" stop-color="#8bd971"/><stop offset="0.412" stop-color="#8bd971"/><stop offset="0.433" stop-color="#8bda71"/><stop offset="0.454" stop-color="#8bda71"/><stop offset="0.474" stop-color="#8bda71"/><stop offset="0.495" stop-color="#8bd971"/><stop offset="0.515" stop-color="#8bd971"/><stop offset="0.536" stop-color="#8ad970"/><stop offset="0.557" stop-color="#8ad870"/><stop offset="0.577" stop-color="#89d86f"/><stop offset="0.598" stop-color="#89d86f"/><stop offset="0.619" stop-color="#88d76e"/><stop offset="0.639" stop-color="#88d76e"/><stop offset="0.660" stop-color="#87d66d"/><stop offset="0.680" stop-color="#87d66d"/><stop offset="0.701" stop-color="#86d66d"/><stop offset="0.722" stop-color="#86d56c"/><stop offset="0.732" stop-color="#86d56c"/><stop offset="0.742" stop-color="#86d56c"/><stop offset="0.753" stop-color="#86d56c"/><stop offset="0.763" stop-color="#86d56c"/><stop offset="0.773" stop-color="#85d56c"/><stop offset="0.784" stop-color="#85d56c"/><stop offset="0.794" stop-color="#85d56c"/><stop offset="0.804" stop-color="#85d56c"/><stop offset="0.814" stop-color="#73c65e"/><stop offset="0.825" stop-color="#459840"/><stop offset="0.835" stop-color="#2d7b31"/><stop offset="0.845" stop-color="#2a7830"/><stop offset="0.856" stop-color="#28752e"/><stop offset="0.876" stop-color="#25702c"/><stop offset="0.897" stop-color="#236d2b"/><stop offset="0.918" stop-color="#236d2b"/><stop offset="0.938" stop-color="#25702c"/><stop offset="0.959" stop-color="#28752e"/><stop offset="0.979" stop-color="#2c7b31"/><stop offset="1.000" stop-color="#318134"/></linearGradient>
<linearGradient id="sshort6" gradientUnits="userSpaceOnUse" x1="74" y1="0" x2="268" y2="0"><stop offset="0.000" stop-color="#58ab4c"/><stop offset="0.021" stop-color="#42953f"/><stop offset="0.041" stop-color="#358536"/><stop offset="0.062" stop-color="#2c7b31"/><stop offset="0.082" stop-color="#2a772f"/><stop offset="0.103" stop-color="#2a772f"/><stop offset="0.124" stop-color="#2a772f"/><stop offset="0.144" stop-color="#2a772f"/><stop offset="0.165" stop-color="#2a772f"/><stop offset="0.186" stop-color="#2a772f"/><stop offset="0.206" stop-color="#2c7930"/><stop offset="0.227" stop-color="#318134"/><stop offset="0.247" stop-color="#3e903c"/><stop offset="0.268" stop-color="#51a448"/><stop offset="0.289" stop-color="#6dbf5a"/><stop offset="0.309" stop-color="#86d66d"/><stop offset="0.330" stop-color="#98e37c"/><stop offset="0.351" stop-color="#9ce780"/><stop offset="0.371" stop-color="#9de780"/><stop offset="0.392" stop-color="#9ee881"/><stop offset="0.412" stop-color="#9ee881"/><stop offset="0.433" stop-color="#9ee882"/><stop offset="0.454" stop-color="#9ee882"/><stop offset="0.474" stop-color="#9ee882"/><stop offset="0.495" stop-color="#9ee881"/><stop offset="0.515" stop-color="#9ee881"/><stop offset="0.536" stop-color="#9de780"/><stop offset="0.557" stop-color="#9ce780"/><stop offset="0.577" stop-color="#9be67f"/><stop offset="0.598" stop-color="#9be67e"/><stop offset="0.619" stop-color="#9ae57e"/><stop offset="0.639" stop-color="#99e47d"/><stop offset="0.660" stop-color="#98e47c"/><stop offset="0.680" stop-color="#98e37c"/><stop offset="0.701" stop-color="#97e37b"/><stop offset="0.722" stop-color="#97e37b"/><stop offset="0.732" stop-color="#97e27b"/><stop offset="0.742" stop-color="#97e27b"/><stop offset="0.753" stop-color="#96e27b"/><stop offset="0.763" stop-color="#96e27b"/><stop offset="0.773" stop-color="#96e27a"/><stop offset="0.784" stop-color="#96e27a"/><stop offset="0.794" stop-color="#96e27a"/><stop offset="0.804" stop-color="#91de76"/><stop offset="0.814" stop-color="#61b452"/><stop offset="0.825" stop-color="#368637"/><stop offset="0.835" stop-color="#2c7a31"/><stop offset="0.845" stop-color="#2a7730"/><stop offset="0.856" stop-color="#28742e"/><stop offset="0.876" stop-color="#256f2c"/><stop offset="0.897" stop-color="#226c2a"/><stop offset="0.918" stop-color="#226c2a"/><stop offset="0.938" stop-color="#256f2c"/><stop offset="0.959" stop-color="#28742e"/><stop offset="0.979" stop-color="#2c7a31"/><stop offset="1.000" stop-color="#318134"/></linearGradient>
<linearGradient id="sshort7" gradientUnits="userSpaceOnUse" x1="74" y1="0" x2="268" y2="0"><stop offset="0.000" stop-color="#65b855"/><stop offset="0.021" stop-color="#4b9f45"/><stop offset="0.041" stop-color="#3c8e3b"/><stop offset="0.062" stop-color="#318034"/><stop offset="0.082" stop-color="#2c7a31"/><stop offset="0.103" stop-color="#2a7730"/><stop offset="0.124" stop-color="#2a772f"/><stop offset="0.144" stop-color="#2a772f"/><stop offset="0.165" stop-color="#2a772f"/><stop offset="0.186" stop-color="#2b7830"/><stop offset="0.206" stop-color="#2d7b31"/><stop offset="0.227" stop-color="#358536"/><stop offset="0.247" stop-color="#42943f"/><stop offset="0.268" stop-color="#57aa4c"/><stop offset="0.289" stop-color="#72c55d"/><stop offset="0.309" stop-color="#8cda72"/><stop offset="0.330" stop-color="#9ee881"/><stop offset="0.351" stop-color="#a2eb85"/><stop offset="0.371" stop-color="#a3ec86"/><stop offset="0.392" stop-color="#a4ed86"/><stop offset="0.412" stop-color="#a4ed87"/><stop offset="0.433" stop-color="#a5ee87"/><stop offset="0.454" stop-color="#a5ee87"/><stop offset="0.474" stop-color="#a5ee87"/><stop offset="0.495" stop-color="#a4ed87"/><stop offset="0.515" stop-color="#a4ed86"/><stop offset="0.536" stop-color="#a3ec86"/><stop offset="0.557" stop-color="#a2eb85"/><stop offset="0.577" stop-color="#a1eb84"/><stop offset="0.598" stop-color="#a0ea83"/><stop offset="0.619" stop-color="#9fe982"/><stop offset="0.639" stop-color="#9ee881"/><stop offset="0.660" stop-color="#9de780"/><stop offset="0.680" stop-color="#9ce780"/><stop offset="0.701" stop-color="#9be67f"/><stop offset="0.722" stop-color="#9be67f"/><stop offset="0.732" stop-color="#9be57e"/><stop offset="0.742" stop-color="#9ae57e"/><stop offset="0.753" stop-color="#9ae57e"/><stop offset="0.763" stop-color="#9ae57e"/><stop offset="0.773" stop-color="#9ae57e"/><stop offset="0.784" stop-color="#9ae57e"/><stop offset="0.794" stop-color="#9ae57d"/><stop offset="0.804" stop-color="#7bcd63"/><stop offset="0.814" stop-color="#459841"/><stop offset="0.825" stop-color="#2e7d32"/><stop offset="0.835" stop-color="#2c7b31"/><stop offset="0.845" stop-color="#2a7830"/><stop offset="0.856" stop-color="#28752e"/><stop offset="0.876" stop-color="#25702c"/><stop offset="0.897" stop-color="#236d2b"/><stop offset="0.918" stop-color="#236d2b"/><stop offset="0.938" stop-color="#25702c"/><stop offset="0.959" stop-color="#28752e"/><stop offset="0.979" stop-color="#2c7b31"/><stop offset="1.000" stop-color="#318134"/></linearGradient>
<linearGradient id="sshort8" gradientUnits="userSpaceOnUse" x1="74" y1="0" x2="268" y2="0"><stop offset="0.000" stop-color="#72c55d"/><stop offset="0.021" stop-color="#59ad4e"/><stop offset="0.041" stop-color="#459841"/><stop offset="0.062" stop-color="#388939"/><stop offset="0.082" stop-color="#2f7f33"/><stop offset="0.103" stop-color="#2c7a31"/><stop offset="0.124" stop-color="#2b7830"/><stop offset="0.144" stop-color="#2a7830"/><stop offset="0.165" stop-color="#2b7830"/><stop offset="0.186" stop-color="#2c7a31"/><stop offset="0.206" stop-color="#307f33"/><stop offset="0.227" stop-color="#398a39"/><stop offset="0.247" stop-color="#469a42"/><stop offset="0.268" stop-color="#5db150"/><stop offset="0.289" stop-color="#78ca61"/><stop offset="0.309" stop-color="#91de76"/><stop offset="0.330" stop-color="#a2eb85"/><stop offset="0.351" stop-color="#a6ee88"/><stop offset="0.371" stop-color="#a7ef89"/><stop offset="0.392" stop-color="#a8f08a"/><stop offset="0.412" stop-color="#a9f089"/><stop offset="0.433" stop-color="#a9f089"/><stop offset="0.454" stop-color="#a9f089"/><stop offset="0.474" stop-color="#a9f089"/><stop offset="0.495" stop-color="#a9f089"/><stop offset="0.515" stop-color="#a8f08a"/><stop offset="0.536" stop-color="#a7ef89"/><stop offset="0.557" stop-color="#a6ee88"/><stop offset="0.577" stop-color="#a5ed87"/><stop offset="0.598" stop-color="#a3ec86"/><stop offset="0.619" stop-color="#a2eb85"/><stop offset="0.639" stop-color="#a0ea83"/><stop offset="0.660" stop-color="#9fe982"/><stop offset="0.680" stop-color="#9ee881"/><stop offset="0.701" stop-color="#9de881"/><stop offset="0.722" stop-color="#9ce780"/><stop offset="0.732" stop-color="#9ce780"/><stop offset="0.742" stop-color="#9ce67f"/><stop offset="0.753" stop-color="#9be67f"/><stop offset="0.763" stop-color="#9be67f"/><stop offset="0.773" stop-color="#9be67f"/><stop offset="0.784" stop-color="#9be67f"/><stop offset="0.794" stop-color="#91de76"/><stop offset="0.804" stop-color="#5eb150"/><stop offset="0.814" stop-color="#378838"/><stop offset="0.825" stop-color="#2f7f33"/><stop offset="0.835" stop-color="#2d7c31"/><stop offset="0.845" stop-color="#2b7930"/><stop offset="0.856" stop-color="#29762f"/><stop offset="0.876" stop-color="#26722d"/><stop offset="0.897" stop-color="#246f2c"/><stop offset="0.918" stop-color="#246f2c"/><stop offset="0.938" stop-color="#26722d"/><stop offset="0.959" stop-color="#29762f"/><stop offset="0.979" stop-color="#2d7c31"/><stop offset="1.000" stop-color="#328235"/></linearGradient>
<linearGradient id="sshort9" gradientUnits="userSpaceOnUse" x1="74" y1="0" x2="268" y2="0"><stop offset="0.000" stop-color="#80d067"/><stop offset="0.021" stop-color="#68bb57"/><stop offset="0.041" stop-color="#51a548"/><stop offset="0.062" stop-color="#41943e"/><stop offset="0.082" stop-color="#378838"/><stop offset="0.103" stop-color="#318034"/><stop offset="0.124" stop-color="#2d7c32"/><stop offset="0.144" stop-color="#2d7b31"/><stop offset="0.165" stop-color="#2d7c31"/><stop offset="0.186" stop-color="#2f7f33"/><stop offset="0.206" stop-color="#368637"/><stop offset="0.227" stop-color="#3f913d"/><stop offset="0.247" stop-color="#4da146"/><stop offset="0.268" stop-color="#66b955"/><stop offset="0.289" stop-color="#80d067"/><stop offset="0.309" stop-color="#98e37c"/><stop offset="0.330" stop-color="#a7ef89"/><stop offset="0.351" stop-color="#aaf089"/><stop offset="0.371" stop-color="#abf088"/><stop offset="0.392" stop-color="#acf087"/><stop offset="0.412" stop-color="#adf087"/><stop offset="0.433" stop-color="#adf087"/><stop offset="0.454" stop-color="#adf086"/><stop offset="0.474" stop-color="#adf087"/><stop offset="0.495" stop-color="#adf087"/><stop offset="0.515" stop-color="#acf087"/><stop offset="0.536" stop-color="#abf088"/><stop offset="0.557" stop-color="#aaf089"/><stop offset="0.577" stop-color="#a9f08a"/><stop offset="0.598" stop-color="#a7ef89"/><stop offset="0.619" stop-color="#a5ee87"/><stop offset="0.639" stop-color="#a3ec86"/><stop offset="0.660" stop-color="#a2eb85"/><stop offset="0.680" stop-color="#a0ea83"/><stop offset="0.701" stop-color="#9fe982"/><stop offset="0.722" stop-color="#9ee881"/><stop offset="0.732" stop-color="#9ee881"/><stop offset="0.742" stop-color="#9de881"/><stop offset="0.753" stop-color="#9de780"/><stop offset="0.763" stop-color="#9de780"/><stop offset="0.773" stop-color="#9ce780"/><stop offset="0.784" stop-color="#9ce780"/><stop offset="0.794" stop-color="#7acc62"/><stop offset="0.804" stop-color="#469941"/><stop offset="0.814" stop-color="#348436"/><stop offset="0.825" stop-color="#318034"/><stop offset="0.835" stop-color="#2e7d32"/><stop offset="0.845" stop-color="#2d7b31"/><stop offset="0.856" stop-color="#2b7930"/><stop offset="0.876" stop-color="#28742e"/><stop offset="0.897" stop-color="#26722d"/><stop offset="0.918" stop-color="#26722d"/><stop offset="0.938" stop-color="#28742e"/><stop offset="0.959" stop-color="#2b7930"/><stop offset="0.979" stop-color="#2e7d32"/><stop offset="1.000" stop-color="#348436"/></linearGradient>
<linearGradient id="sshort10" gradientUnits="userSpaceOnUse" x1="74" y1="0" x2="268" y2="0"><stop offset="0.000" stop-color="#8cda72"/><stop offset="0.021" stop-color="#77ca60"/><stop offset="0.041" stop-color="#62b553"/><stop offset="0.062" stop-color="#4ca046"/><stop offset="0.082" stop-color="#41933e"/><stop offset="0.103" stop-color="#398a39"/><stop offset="0.124" stop-color="#348536"/><stop offset="0.144" stop-color="#328235"/><stop offset="0.165" stop-color="#338335"/><stop offset="0.186" stop-color="#368737"/><stop offset="0.206" stop-color="#3d8e3b"/><stop offset="0.227" stop-color="#469941"/><stop offset="0.247" stop-color="#58ab4d"/><stop offset="0.268" stop-color="#70c25c"/><stop offset="0.289" stop-color="#89d86f"/><stop offset="0.309" stop-color="#a0ea83"/><stop offset="0.330" stop-color="#acf088"/><stop offset="0.351" stop-color="#aef086"/><stop offset="0.371" stop-color="#aff085"/><stop offset="0.392" stop-color="#b0ef84"/><stop offset="0.412" stop-color="#b1ef84"/><stop offset="0.433" stop-color="#b2ef83"/><stop offset="0.454" stop-color="#b2ef83"/><stop offset="0.474" stop-color="#b2ef83"/><stop offset="0.495" stop-color="#b1ef84"/><stop offset="0.515" stop-color="#b0ef84"/><stop offset="0.536" stop-color="#aff085"/><stop offset="0.557" stop-color="#aef086"/><stop offset="0.577" stop-color="#acf087"/><stop offset="0.598" stop-color="#aaf088"/><stop offset="0.619" stop-color="#a9f089"/><stop offset="0.639" stop-color="#a7ef89"/><stop offset="0.660" stop-color="#a5ee87"/><stop offset="0.680" stop-color="#a3ec86"/><stop offset="0.701" stop-color="#a1eb84"/><stop offset="0.722" stop-color="#a0ea83"/><stop offset="0.732" stop-color="#a0e983"/><stop offset="0.742" stop-color="#9fe982"/><stop offset="0.753" stop-color="#9fe982"/><stop offset="0.763" stop-color="#9ee882"/><stop offset="0.773" stop-color="#9ee881"/><stop offset="0.784" stop-color="#92df77"/><stop offset="0.794" stop-color="#5fb251"/><stop offset="0.804" stop-color="#3a8c3a"/><stop offset="0.814" stop-color="#358537"/><stop offset="0.825" stop-color="#338335"/><stop offset="0.835" stop-color="#318034"/><stop offset="0.845" stop-color="#2e7d32"/><stop offset="0.856" stop-color="#2d7b31"/><stop offset="0.876" stop-color="#2a7830"/><stop offset="0.897" stop-color="#29762f"/><stop offset="0.918" stop-color="#29762f"/><stop offset="0.938" stop-color="#2a7830"/><stop offset="0.959" stop-color="#2d7b31"/><stop offset="0.979" stop-color="#318034"/><stop offset="1.000" stop-color="#358537"/></linearGradient>
<linearGradient id="sshort11" gradientUnits="userSpaceOnUse" x1="74" y1="0" x2="268" y2="0"><stop offset="0.000" stop-color="#97e37b"/><stop offset="0.021" stop-color="#87d66d"/><stop offset="0.041" stop-color="#72c55d"/><stop offset="0.062" stop-color="#5fb251"/><stop offset="0.082" stop-color="#4da146"/><stop offset="0.103" stop-color="#449640"/><stop offset="0.124" stop-color="#3e903c"/><stop offset="0.144" stop-color="#3b8d3b"/><stop offset="0.165" stop-color="#3c8d3b"/><stop offset="0.186" stop-color="#3f913d"/><stop offset="0.206" stop-color="#459841"/><stop offset="0.227" stop-color="#51a548"/><stop offset="0.247" stop-color="#65b855"/><stop offset="0.268" stop-color="#7bcd63"/><stop offset="0.289" stop-color="#94e079"/><stop offset="0.309" stop-color="#a8f08a"/><stop offset="0.330" stop-color="#b0f085"/><stop offset="0.351" stop-color="#b2ef83"/><stop offset="0.371" stop-color="#b4ef82"/><stop offset="0.392" stop-color="#b5ef81"/><stop offset="0.412" stop-color="#b6ef80"/><stop offset="0.433" stop-color="#b7ef80"/><stop offset="0.454" stop-color="#b7ef7f"/><stop offset="0.474" stop-color="#b7ef80"/><stop offset="0.495" stop-color="#b6ef80"/><stop offset="0.515" stop-color="#b5ef81"/><stop offset="0.536" stop-color="#b4ef82"/><stop offset="0.557" stop-color="#b2ef83"/><stop offset="0.577" stop-color="#b0f085"/><stop offset="0.598" stop-color="#aef086"/><stop offset="0.619" stop-color="#acf087"/><stop offset="0.639" stop-color="#aaf089"/><stop offset="0.660" stop-color="#a8f08a"/><stop offset="0.680" stop-color="#a6ee88"/><stop offset="0.701" stop-color="#a4ed87"/><stop offset="0.722" stop-color="#a3ec85"/><stop offset="0.732" stop-color="#a2eb85"/><stop offset="0.742" stop-color="#a1eb84"/><stop offset="0.753" stop-color="#a1ea84"/><stop offset="0.763" stop-color="#a0ea83"/><stop offset="0.773" stop-color="#9fe982"/><stop offset="0.784" stop-color="#7bcd63"/><stop offset="0.794" stop-color="#479a42"/><stop offset="0.804" stop-color="#388938"/><stop offset="0.814" stop-color="#378738"/><stop offset="0.825" stop-color="#358536"/><stop offset="0.835" stop-color="#338335"/><stop offset="0.845" stop-color="#318134"/><stop offset="0.856" stop-color="#2f7e33"/><stop offset="0.876" stop-color="#2d7b31"/><stop offset="0.897" stop-color="#2c7930"/><stop offset="0.918" stop-color="#2c7930"/><stop offset="0.938" stop-color="#2d7b31"/><stop offset="0.959" stop-color="#2f7f33"/><stop offset="0.979" stop-color="#358637"/><stop offset="1.000" stop-color="#3c8e3b"/></linearGradient>
<linearGradient id="sshort12" gradientUnits="userSpaceOnUse" x1="74" y1="0" x2="268" y2="0"><stop offset="0.000" stop-color="#9fe982"/><stop offset="0.021" stop-color="#94e078"/><stop offset="0.041" stop-color="#83d36a"/><stop offset="0.062" stop-color="#71c35c"/><stop offset="0.082" stop-color="#60b352"/><stop offset="0.103" stop-color="#52a649"/><stop offset="0.124" stop-color="#499d43"/><stop offset="0.144" stop-color="#469941"/><stop offset="0.165" stop-color="#469941"/><stop offset="0.186" stop-color="#499c43"/><stop offset="0.206" stop-color="#52a549"/><stop offset="0.227" stop-color="#60b352"/><stop offset="0.247" stop-color="#73c55e"/><stop offset="0.268" stop-color="#89d86f"/><stop offset="0.289" stop-color="#a0e983"/><stop offset="0.309" stop-color="#aff085"/><stop offset="0.330" stop-color="#b4ef82"/><stop offset="0.351" stop-color="#b7ef80"/><stop offset="0.371" stop-color="#b9ef7e"/><stop offset="0.392" stop-color="#bbef7d"/><stop offset="0.412" stop-color="#bcef7c"/><stop offset="0.433" stop-color="#bdef7b"/><stop offset="0.454" stop-color="#bdef7b"/><stop offset="0.474" stop-color="#bdef7b"/><stop offset="0.495" stop-color="#bcef7c"/><stop offset="0.515" stop-color="#bbef7d"/><stop offset="0.536" stop-color="#b9ef7e"/><stop offset="0.557" stop-color="#b7ef80"/><stop offset="0.577" stop-color="#b4ef82"/><stop offset="0.598" stop-color="#b2ef83"/><stop offset="0.619" stop-color="#aff085"/><stop offset="0.639" stop-color="#adf087"/><stop offset="0.660" stop-color="#abf088"/><stop offset="0.680" stop-color="#a9f089"/><stop offset="0.701" stop-color="#a7ef89"/><stop offset="0.722" stop-color="#a5ee87"/><stop offset="0.732" stop-color="#a4ed87"/><stop offset="0.742" stop-color="#a3ec86"/><stop offset="0.753" stop-color="#a3ec85"/><stop offset="0.763" stop-color="#a2eb85"/><stop offset="0.773" stop-color="#95e179"/><stop offset="0.784" stop-color="#61b452"/><stop offset="0.794" stop-color="#3d8f3c"/><stop offset="0.804" stop-color="#398a39"/><stop offset="0.814" stop-color="#388938"/><stop offset="0.825" stop-color="#378738"/><stop offset="0.835" stop-color="#358637"/><stop offset="0.845" stop-color="#348436"/><stop offset="0.856" stop-color="#328235"/><stop offset="0.876" stop-color="#307f33"/><stop offset="0.897" stop-color="#2e7d32"/><stop offset="0.918" stop-color="#2f7e33"/><stop offset="0.938" stop-color="#338335"/><stop offset="0.959" stop-color="#3a8b3a"/><stop offset="0.979" stop-color="#41943e"/><stop offset="1.000" stop-color="#499d43"/></linearGradient>
<linearGradient id="sshort13" gradientUnits="userSpaceOnUse" x1="74" y1="0" x2="268" y2="0"><stop offset="0.000" stop-color="#a2ec85"/><stop offset="0.021" stop-color="#9ee881"/><stop offset="0.041" stop-color="#92df77"/><stop offset="0.062" stop-color="#82d369"/><stop offset="0.082" stop-color="#73c55e"/><stop offset="0.103" stop-color="#66b956"/><stop offset="0.124" stop-color="#5cb050"/><stop offset="0.144" stop-color="#57aa4c"/><stop offset="0.165" stop-color="#56aa4c"/><stop offset="0.186" stop-color="#5aae4e"/><stop offset="0.206" stop-color="#63b654"/><stop offset="0.227" stop-color="#71c35c"/><stop offset="0.247" stop-color="#83d36a"/><stop offset="0.268" stop-color="#98e37c"/><stop offset="0.289" stop-color="#aaf088"/><stop offset="0.309" stop-color="#b5ef81"/><stop offset="0.330" stop-color="#b9ef7e"/><stop offset="0.351" stop-color="#bcef7c"/><stop offset="0.371" stop-color="#beef7b"/><stop offset="0.392" stop-color="#c1ee79"/><stop offset="0.412" stop-color="#c2ee78"/><stop offset="0.433" stop-color="#c3ee77"/><stop offset="0.454" stop-color="#c4ee77"/><stop offset="0.474" stop-color="#c3ee77"/><stop offset="0.495" stop-color="#c2ee78"/><stop offset="0.515" stop-color="#c1ee79"/><stop offset="0.536" stop-color="#beef7b"/><stop offset="0.557" stop-color="#bcef7c"/><stop offset="0.577" stop-color="#b9ef7e"/><stop offset="0.598" stop-color="#b6ef80"/><stop offset="0.619" stop-color="#b3ef83"/><stop offset="0.639" stop-color="#b0ef84"/><stop offset="0.660" stop-color="#adf086"/><stop offset="0.680" stop-color="#abf088"/><stop offset="0.701" stop-color="#a9f089"/><stop offset="0.722" stop-color="#a7f089"/><stop offset="0.732" stop-color="#a6ef89"/><stop offset="0.742" stop-color="#a5ee88"/><stop offset="0.753" stop-color="#a5ed87"/><stop offset="0.763" stop-color="#a4ed86"/><stop offset="0.773" stop-color="#83d36a"/><stop offset="0.784" stop-color="#4ca045"/><stop offset="0.794" stop-color="#3a8c3a"/><stop offset="0.804" stop-color="#3a8b3a"/><stop offset="0.814" stop-color="#398a39"/><stop offset="0.825" stop-color="#388939"/><stop offset="0.835" stop-color="#378838"/><stop offset="0.845" stop-color="#368737"/><stop offset="0.856" stop-color="#358637"/><stop offset="0.876" stop-color="#358536"/><stop offset="0.897" stop-color="#378738"/><stop offset="0.918" stop-color="#3b8c3a"/><stop offset="0.938" stop-color="#41943e"/><stop offset="0.959" stop-color="#499d43"/><stop offset="0.979" stop-color="#56a94b"/><stop offset="1.000" stop-color="#63b654"/></linearGradient>
<linearGradient id="sshort14" gradientUnits="userSpaceOnUse" x1="74" y1="0" x2="268" y2="0"><stop offset="0.000" stop-color="#a4ed86"/><stop offset="0.021" stop-color="#a4ed86"/><stop offset="0.041" stop-color="#9ee881"/><stop offset="0.062" stop-color="#93df77"/><stop offset="0.082" stop-color="#86d56c"/><stop offset="0.103" stop-color="#79cb62"/><stop offset="0.124" stop-color="#71c35c"/><stop offset="0.144" stop-color="#6bbe59"/><stop offset="0.165" stop-color="#6abd58"/><stop offset="0.186" stop-color="#6ec05a"/><stop offset="0.206" stop-color="#76c85f"/><stop offset="0.227" stop-color="#83d36a"/><stop offset="0.247" stop-color="#93e078"/><stop offset="0.268" stop-color="#a6ee88"/><stop offset="0.289" stop-color="#b2ef83"/><stop offset="0.309" stop-color="#baef7e"/><stop offset="0.330" stop-color="#beef7b"/><stop offset="0.351" stop-color="#c1ee79"/><stop offset="0.371" stop-color="#c4ee77"/><stop offset="0.392" stop-color="#c7ee75"/><stop offset="0.412" stop-color="#c9ee74"/><stop offset="0.433" stop-color="#caed73"/><stop offset="0.454" stop-color="#caed73"/><stop offset="0.474" stop-color="#caed73"/><stop offset="0.495" stop-color="#c9ee74"/><stop offset="0.515" stop-color="#c7ee75"/><stop offset="0.536" stop-color="#c4ee77"/><stop offset="0.557" stop-color="#c1ee79"/><stop offset="0.577" stop-color="#beef7b"/><stop offset="0.598" stop-color="#baef7e"/><stop offset="0.619" stop-color="#b7ef80"/><stop offset="0.639" stop-color="#b3ef82"/><stop offset="0.660" stop-color="#b0ef84"/><stop offset="0.680" stop-color="#aef086"/><stop offset="0.701" stop-color="#abf088"/><stop offset="0.722" stop-color="#a9f089"/><stop offset="0.732" stop-color="#a8f08a"/><stop offset="0.742" stop-color="#a8f08a"/><stop offset="0.753" stop-color="#a7ef89"/><stop offset="0.763" stop-color="#9fe982"/><stop offset="0.773" stop-color="#6dc05a"/><stop offset="0.784" stop-color="#41943f"/><stop offset="0.794" stop-color="#3b8c3a"/><stop offset="0.804" stop-color="#3b8c3a"/><stop offset="0.814" stop-color="#3a8b3a"/><stop offset="0.825" stop-color="#3a8c3a"/><stop offset="0.835" stop-color="#3b8c3a"/><stop offset="0.845" stop-color="#3c8d3b"/><stop offset="0.856" stop-color="#3d8e3b"/><stop offset="0.876" stop-color="#40923e"/><stop offset="0.897" stop-color="#459841"/><stop offset="0.918" stop-color="#4ca045"/><stop offset="0.938" stop-color="#58ac4d"/><stop offset="0.959" stop-color="#66b855"/><stop offset="0.979" stop-color="#72c45d"/><stop offset="1.000" stop-color="#7ecf66"/></linearGradient>
<linearGradient id="sshort15" gradientUnits="userSpaceOnUse" x1="74" y1="0" x2="268" y2="0"><stop offset="0.000" stop-color="#a5ee87"/><stop offset="0.021" stop-color="#a5ee88"/><stop offset="0.041" stop-color="#a5ed87"/><stop offset="0.062" stop-color="#9fe982"/><stop offset="0.082" stop-color="#96e27a"/><stop offset="0.103" stop-color="#8cda72"/><stop offset="0.124" stop-color="#84d46b"/><stop offset="0.144" stop-color="#7fd067"/><stop offset="0.165" stop-color="#7ecf66"/><stop offset="0.186" stop-color="#81d268"/><stop offset="0.206" stop-color="#89d86f"/><stop offset="0.227" stop-color="#95e179"/><stop offset="0.247" stop-color="#a4ec86"/><stop offset="0.268" stop-color="#b0f085"/><stop offset="0.289" stop-color="#b9ef7e"/><stop offset="0.309" stop-color="#beef7b"/><stop offset="0.330" stop-color="#c3ee78"/><stop offset="0.351" stop-color="#c6ee75"/><stop offset="0.371" stop-color="#caee73"/><stop offset="0.392" stop-color="#cded71"/><stop offset="0.412" stop-color="#cfec70"/><stop offset="0.433" stop-color="#d1ec6f"/><stop offset="0.454" stop-color="#d1ec6f"/><stop offset="0.474" stop-color="#d1ec6f"/><stop offset="0.495" stop-color="#cfec70"/><stop offset="0.515" stop-color="#cded71"/><stop offset="0.536" stop-color="#caee73"/><stop offset="0.557" stop-color="#c6ee75"/><stop offset="0.577" stop-color="#c2ee78"/><stop offset="0.598" stop-color="#beef7b"/><stop offset="0.619" stop-color="#baef7d"/><stop offset="0.639" stop-color="#b7ef80"/><stop offset="0.660" stop-color="#b3ef82"/><stop offset="0.680" stop-color="#b0f085"/><stop offset="0.701" stop-color="#adf086"/><stop offset="0.722" stop-color="#abf088"/><stop offset="0.732" stop-color="#aaf089"/><stop offset="0.742" stop-color="#a9f089"/><stop offset="0.753" stop-color="#a8f08a"/><stop offset="0.763" stop-color="#90dd75"/><stop offset="0.773" stop-color="#58ab4d"/><stop offset="0.784" stop-color="#3d8f3c"/><stop offset="0.794" stop-color="#3e903c"/><stop offset="0.804" stop-color="#3f913d"/><stop offset="0.814" stop-color="#41933e"/><stop offset="0.825" stop-color="#43953f"/><stop offset="0.835" stop-color="#459841"/><stop offset="0.845" stop-color="#479a42"/><stop offset="0.856" stop-color="#499d44"/><stop offset="0.876" stop-color="#53a649"/><stop offset="0.897" stop-color="#5eb150"/><stop offset="0.918" stop-color="#6abc58"/><stop offset="0.938" stop-color="#76c85f"/><stop offset="0.959" stop-color="#82d269"/><stop offset="0.979" stop-color="#8ddb72"/><stop offset="1.000" stop-color="#96e27b"/></linearGradient>
<linearGradient id="sshort16" gradientUnits="userSpaceOnUse" x1="74" y1="0" x2="268" y2="0"><stop offset="0.000" stop-color="#a6ee88"/><stop offset="0.021" stop-color="#a6ef88"/><stop offset="0.041" stop-color="#a6ef89"/><stop offset="0.062" stop-color="#a6ef88"/><stop offset="0.082" stop-color="#a2eb85"/><stop offset="0.103" stop-color="#9ce67f"/><stop offset="0.124" stop-color="#96e27a"/><stop offset="0.144" stop-color="#92df77"/><stop offset="0.165" stop-color="#92df77"/><stop offset="0.186" stop-color="#95e179"/><stop offset="0.206" stop-color="#9be67f"/><stop offset="0.227" stop-color="#a6ee88"/><stop offset="0.247" stop-color="#aff085"/><stop offset="0.268" stop-color="#b8ef7f"/><stop offset="0.289" stop-color="#beef7b"/><stop offset="0.309" stop-color="#c3ee78"/><stop offset="0.330" stop-color="#c7ee75"/><stop offset="0.351" stop-color="#cced72"/><stop offset="0.371" stop-color="#d0ec70"/><stop offset="0.392" stop-color="#d3eb6e"/><stop offset="0.412" stop-color="#d6eb6c"/><stop offset="0.433" stop-color="#d7ea6b"/><stop offset="0.454" stop-color="#d8ea6b"/><stop offset="0.474" stop-color="#d7ea6b"/><stop offset="0.495" stop-color="#d6eb6c"/><stop offset="0.515" stop-color="#d3eb6e"/><stop offset="0.536" stop-color="#d0ec70"/><stop offset="0.557" stop-color="#cced72"/><stop offset="0.577" stop-color="#c7ee75"/><stop offset="0.598" stop-color="#c3ee78"/><stop offset="0.619" stop-color="#beef7b"/><stop offset="0.639" stop-color="#baef7e"/><stop offset="0.660" stop-color="#b6ef81"/><stop offset="0.680" stop-color="#b2ef83"/><stop offset="0.701" stop-color="#aff085"/><stop offset="0.722" stop-color="#acf087"/><stop offset="0.732" stop-color="#abf088"/><stop offset="0.742" stop-color="#aaf088"/><stop offset="0.753" stop-color="#a8f08a"/><stop offset="0.763" stop-color="#7dce65"/><stop offset="0.773" stop-color="#4da146"/><stop offset="0.784" stop-color="#459841"/><stop offset="0.794" stop-color="#479b42"/><stop offset="0.804" stop-color="#4a9e44"/><stop offset="0.814" stop-color="#4fa347"/><stop offset="0.825" stop-color="#54a74a"/><stop offset="0.835" stop-color="#59ac4d"/><stop offset="0.845" stop-color="#5eb151"/><stop offset="0.856" stop-color="#64b754"/><stop offset="0.876" stop-color="#6fc15b"/><stop offset="0.897" stop-color="#7acc62"/><stop offset="0.918" stop-color="#86d56c"/><stop offset="0.938" stop-color="#91de76"/><stop offset="0.959" stop-color="#99e57d"/><stop offset="0.979" stop-color="#a0ea83"/><stop offset="1.000" stop-color="#a4ed86"/></linearGradient>
<linearGradient id="sshort17" gradientUnits="userSpaceOnUse" x1="74" y1="0" x2="268" y2="0"><stop offset="0.000" stop-color="#a7ef89"/><stop offset="0.021" stop-color="#a7ef89"/><stop offset="0.041" stop-color="#a7ef89"/><stop offset="0.062" stop-color="#a8f08a"/><stop offset="0.082" stop-color="#a8f08a"/><stop offset="0.103" stop-color="#a6ef89"/><stop offset="0.124" stop-color="#a4ed86"/><stop offset="0.144" stop-color="#a2eb85"/><stop offset="0.165" stop-color="#a2eb85"/><stop offset="0.186" stop-color="#a5ed87"/><stop offset="0.206" stop-color="#aaf089"/><stop offset="0.227" stop-color="#b0f085"/><stop offset="0.247" stop-color="#b6ef80"/><stop offset="0.268" stop-color="#bdef7c"/><stop offset="0.289" stop-color="#c2ee78"/><stop offset="0.309" stop-color="#c7ee75"/><stop offset="0.330" stop-color="#cced72"/><stop offset="0.351" stop-color="#d0ec6f"/><stop offset="0.371" stop-color="#d5eb6d"/><stop offset="0.392" stop-color="#d9ea6b"/><stop offset="0.412" stop-color="#dce969"/><stop offset="0.433" stop-color="#dde968"/><stop offset="0.454" stop-color="#dee968"/><stop offset="0.474" stop-color="#dde968"/><stop offset="0.495" stop-color="#dce969"/><stop offset="0.515" stop-color="#d9ea6b"/><stop offset="0.536" stop-color="#d5eb6d"/><stop offset="0.557" stop-color="#d0ec6f"/><stop offset="0.577" stop-color="#cbed72"/><stop offset="0.598" stop-color="#c7ee75"/><stop offset="0.619" stop-color="#c2ee78"/><stop offset="0.639" stop-color="#beef7b"/><stop offset="0.660" stop-color="#b8ef7f"/><stop offset="0.680" stop-color="#b4ef82"/><stop offset="0.701" stop-color="#b0f085"/><stop offset="0.722" stop-color="#adf086"/><stop offset="0.732" stop-color="#acf087"/><stop offset="0.742" stop-color="#abf088"/><stop offset="0.753" stop-color="#a5ed87"/><stop offset="0.763" stop-color="#7ccd64"/><stop offset="0.773" stop-color="#5aad4e"/><stop offset="0.784" stop-color="#58ab4d"/><stop offset="0.794" stop-color="#5db050"/><stop offset="0.804" stop-color="#63b654"/><stop offset="0.814" stop-color="#68bb57"/><stop offset="0.825" stop-color="#6ec15b"/><stop offset="0.835" stop-color="#74c65e"/><stop offset="0.845" stop-color="#79cb61"/><stop offset="0.856" stop-color="#7fd066"/><stop offset="0.876" stop-color="#8ad970"/><stop offset="0.897" stop-color="#94e079"/><stop offset="0.918" stop-color="#9ce780"/><stop offset="0.938" stop-color="#a2eb85"/><stop offset="0.959" stop-color="#a5ee88"/><stop offset="0.979" stop-color="#a6ee88"/><stop offset="1.000" stop-color="#a6ee88"/></linearGradient>
<linearGradient id="sshort18" gradientUnits="userSpaceOnUse" x1="74" y1="0" x2="268" y2="0"><stop offset="0.000" stop-color="#a8f08a"/><stop offset="0.021" stop-color="#a8f08a"/><stop offset="0.041" stop-color="#a8f08a"/><stop offset="0.062" stop-color="#a9f08a"/><stop offset="0.082" stop-color="#a9f089"/><stop offset="0.103" stop-color="#aaf089"/><stop offset="0.124" stop-color="#aaf088"/><stop offset="0.144" stop-color="#abf088"/><stop offset="0.165" stop-color="#acf088"/><stop offset="0.186" stop-color="#aef086"/><stop offset="0.206" stop-color="#b1ef84"/><stop offset="0.227" stop-color="#b6ef81"/><stop offset="0.247" stop-color="#bbef7d"/><stop offset="0.268" stop-color="#bfef7a"/><stop offset="0.289" stop-color="#c4ee76"/><stop offset="0.309" stop-color="#caee73"/><stop offset="0.330" stop-color="#cfec70"/><stop offset="0.351" stop-color="#d5eb6d"/><stop offset="0.371" stop-color="#d9ea6a"/><stop offset="0.392" stop-color="#dde968"/><stop offset="0.412" stop-color="#e1e866"/><stop offset="0.433" stop-color="#e3e765"/><stop offset="0.454" stop-color="#e3e765"/><stop offset="0.474" stop-color="#e3e765"/><stop offset="0.495" stop-color="#e1e866"/><stop offset="0.515" stop-color="#dde968"/><stop offset="0.536" stop-color="#d9ea6a"/><stop offset="0.557" stop-color="#d4eb6d"/><stop offset="0.577" stop-color="#cfec70"/><stop offset="0.598" stop-color="#cbed73"/><stop offset="0.619" stop-color="#c6ee75"/><stop offset="0.639" stop-color="#c2ee78"/><stop offset="0.660" stop-color="#bbef7d"/><stop offset="0.680" stop-color="#b4ef81"/><stop offset="0.701" stop-color="#b0ef84"/><stop offset="0.722" stop-color="#adf086"/><stop offset="0.732" stop-color="#acf087"/><stop offset="0.742" stop-color="#abf088"/><stop offset="0.753" stop-color="#a2eb85"/><stop offset="0.763" stop-color="#82d269"/><stop offset="0.773" stop-color="#6ec15b"/><stop offset="0.784" stop-color="#72c45d"/><stop offset="0.794" stop-color="#77c960"/><stop offset="0.804" stop-color="#7dce65"/><stop offset="0.814" stop-color="#83d36a"/><stop offset="0.825" stop-color="#88d76f"/><stop offset="0.835" stop-color="#8edb73"/><stop offset="0.845" stop-color="#93df77"/><stop offset="0.856" stop-color="#97e37b"/><stop offset="0.876" stop-color="#9fe982"/><stop offset="0.897" stop-color="#a4ed87"/><stop offset="0.918" stop-color="#a6ef89"/><stop offset="0.938" stop-color="#a7ef89"/><stop offset="0.959" stop-color="#a7ef89"/><stop offset="0.979" stop-color="#a7ef89"/><stop offset="1.000" stop-color="#a7ef89"/></linearGradient>
<linearGradient id="sshort19" gradientUnits="userSpaceOnUse" x1="74" y1="0" x2="268" y2="0"><stop offset="0.000" stop-color="#a8f08a"/><stop offset="0.021" stop-color="#a8f08a"/><stop offset="0.041" stop-color="#a9f089"/><stop offset="0.062" stop-color="#a9f089"/><stop offset="0.082" stop-color="#aaf089"/><stop offset="0.103" stop-color="#abf088"/><stop offset="0.124" stop-color="#acf087"/><stop offset="0.144" stop-color="#adf086"/><stop offset="0.165" stop-color="#aff085"/><stop offset="0.186" stop-color="#b2ef83"/><stop offset="0.206" stop-color="#b5ef81"/><stop offset="0.227" stop-color="#b8ef7f"/><stop offset="0.247" stop-color="#bcef7c"/><stop offset="0.268" stop-color="#c1ee79"/><stop offset="0.289" stop-color="#c7ee75"/><stop offset="0.309" stop-color="#cded71"/><stop offset="0.330" stop-color="#d2eb6e"/><stop offset="0.351" stop-color="#d8ea6b"/><stop offset="0.371" stop-color="#dde968"/><stop offset="0.392" stop-color="#e1e866"/><stop offset="0.412" stop-color="#e5e764"/><stop offset="0.433" stop-color="#e7e663"/><stop offset="0.454" stop-color="#e8e662"/><stop offset="0.474" stop-color="#e7e663"/><stop offset="0.495" stop-color="#e5e764"/><stop offset="0.515" stop-color="#e1e866"/><stop offset="0.536" stop-color="#dde968"/><stop offset="0.557" stop-color="#d8ea6b"/><stop offset="0.577" stop-color="#d3eb6e"/><stop offset="0.598" stop-color="#cfec70"/><stop offset="0.619" stop-color="#cbed73"/><stop offset="0.639" stop-color="#c6ee76"/><stop offset="0.660" stop-color="#bcef7c"/><stop offset="0.680" stop-color="#b5ef81"/><stop offset="0.701" stop-color="#b0ef84"/><stop offset="0.722" stop-color="#adf087"/><stop offset="0.732" stop-color="#acf088"/><stop offset="0.742" stop-color="#aaf088"/><stop offset="0.753" stop-color="#a1eb84"/><stop offset="0.763" stop-color="#8edc73"/><stop offset="0.773" stop-color="#87d66d"/><stop offset="0.784" stop-color="#8cda71"/><stop offset="0.794" stop-color="#91de76"/><stop offset="0.804" stop-color="#95e17a"/><stop offset="0.814" stop-color="#9ae57d"/><stop offset="0.825" stop-color="#9de881"/><stop offset="0.835" stop-color="#a1ea84"/><stop offset="0.845" stop-color="#a3ec86"/><stop offset="0.856" stop-color="#a5ee87"/><stop offset="0.876" stop-color="#a7ef89"/><stop offset="0.897" stop-color="#a7ef89"/><stop offset="0.918" stop-color="#a7ef89"/><stop offset="0.938" stop-color="#a7f089"/><stop offset="0.959" stop-color="#a7f089"/><stop offset="0.979" stop-color="#a7f089"/><stop offset="1.000" stop-color="#a7f089"/></linearGradient>
<linearGradient id="sshort20" gradientUnits="userSpaceOnUse" x1="74" y1="0" x2="268" y2="0"><stop offset="0.000" stop-color="#acf087"/><stop offset="0.021" stop-color="#acf087"/><stop offset="0.041" stop-color="#adf087"/><stop offset="0.062" stop-color="#adf086"/><stop offset="0.082" stop-color="#aef086"/><stop offset="0.103" stop-color="#aff085"/><stop offset="0.124" stop-color="#b0f085"/><stop offset="0.144" stop-color="#b1ef84"/><stop offset="0.165" stop-color="#b3ef83"/><stop offset="0.186" stop-color="#b4ef82"/><stop offset="0.206" stop-color="#b6ef80"/><stop offset="0.227" stop-color="#b9ef7e"/><stop offset="0.247" stop-color="#beef7b"/><stop offset="0.268" stop-color="#c3ee77"/><stop offset="0.289" stop-color="#c9ee74"/><stop offset="0.309" stop-color="#cfec70"/><stop offset="0.330" stop-color="#d5eb6d"/><stop offset="0.351" stop-color="#dbe96a"/><stop offset="0.371" stop-color="#e0e867"/><stop offset="0.392" stop-color="#e4e764"/><stop offset="0.412" stop-color="#e8e662"/><stop offset="0.433" stop-color="#e9e561"/><stop offset="0.454" stop-color="#e9e560"/><stop offset="0.474" stop-color="#e9e561"/><stop offset="0.495" stop-color="#e8e662"/><stop offset="0.515" stop-color="#e5e764"/><stop offset="0.536" stop-color="#e0e866"/><stop offset="0.557" stop-color="#dce969"/><stop offset="0.577" stop-color="#d8ea6b"/><stop offset="0.598" stop-color="#d3eb6e"/><stop offset="0.619" stop-color="#ceed71"/><stop offset="0.639" stop-color="#c6ee75"/><stop offset="0.660" stop-color="#bdef7c"/><stop offset="0.680" stop-color="#b4ef81"/><stop offset="0.701" stop-color="#b0f085"/><stop offset="0.722" stop-color="#acf087"/><stop offset="0.732" stop-color="#abf088"/><stop offset="0.742" stop-color="#a9f089"/><stop offset="0.753" stop-color="#a3ec86"/><stop offset="0.763" stop-color="#9ce67f"/><stop offset="0.773" stop-color="#9ce67f"/><stop offset="0.784" stop-color="#9fe982"/><stop offset="0.794" stop-color="#a2eb84"/><stop offset="0.804" stop-color="#a4ed86"/><stop offset="0.814" stop-color="#a5ee88"/><stop offset="0.825" stop-color="#a6ee88"/><stop offset="0.835" stop-color="#a6ef88"/><stop offset="0.845" stop-color="#a6ef89"/><stop offset="0.856" stop-color="#a7ef89"/><stop offset="0.876" stop-color="#a7ef89"/><stop offset="0.897" stop-color="#a8f08a"/><stop offset="0.918" stop-color="#a8f08a"/><stop offset="0.938" stop-color="#a9f089"/><stop offset="0.959" stop-color="#a9f089"/><stop offset="0.979" stop-color="#a9f089"/><stop offset="1.000" stop-color="#a9f089"/></linearGradient>
<linearGradient id="sshort21" gradientUnits="userSpaceOnUse" x1="74" y1="0" x2="268" y2="0"><stop offset="0.000" stop-color="#b0ef84"/><stop offset="0.021" stop-color="#b0ef84"/><stop offset="0.041" stop-color="#b1ef84"/><stop offset="0.062" stop-color="#b1ef84"/><stop offset="0.082" stop-color="#b2ef83"/><stop offset="0.103" stop-color="#b3ef83"/><stop offset="0.124" stop-color="#b4ef82"/><stop offset="0.144" stop-color="#b5ef81"/><stop offset="0.165" stop-color="#b7ef80"/><stop offset="0.186" stop-color="#b8ef7f"/><stop offset="0.206" stop-color="#baef7d"/><stop offset="0.227" stop-color="#bdef7c"/><stop offset="0.247" stop-color="#c1ee79"/><stop offset="0.268" stop-color="#c6ee75"/><stop offset="0.289" stop-color="#cced72"/><stop offset="0.309" stop-color="#d2ec6f"/><stop offset="0.330" stop-color="#d8ea6b"/><stop offset="0.351" stop-color="#dee968"/><stop offset="0.371" stop-color="#e3e765"/><stop offset="0.392" stop-color="#e8e662"/><stop offset="0.412" stop-color="#e9e560"/><stop offset="0.433" stop-color="#eae45e"/><stop offset="0.454" stop-color="#ebe45e"/><stop offset="0.474" stop-color="#eae45e"/><stop offset="0.495" stop-color="#eae560"/><stop offset="0.515" stop-color="#e8e661"/><stop offset="0.536" stop-color="#e6e763"/><stop offset="0.557" stop-color="#e2e765"/><stop offset="0.577" stop-color="#dee968"/><stop offset="0.598" stop-color="#d7ea6b"/><stop offset="0.619" stop-color="#cfec70"/><stop offset="0.639" stop-color="#c6ee75"/><stop offset="0.660" stop-color="#bdef7c"/><stop offset="0.680" stop-color="#b5ef81"/><stop offset="0.701" stop-color="#b0f085"/><stop offset="0.722" stop-color="#acf087"/><stop offset="0.732" stop-color="#abf088"/><stop offset="0.742" stop-color="#a9f089"/><stop offset="0.753" stop-color="#a8f08a"/><stop offset="0.763" stop-color="#a7ef89"/><stop offset="0.773" stop-color="#a7ef89"/><stop offset="0.784" stop-color="#a7ef89"/><stop offset="0.794" stop-color="#a7ef89"/><stop offset="0.804" stop-color="#a7ef89"/><stop offset="0.814" stop-color="#a7f08a"/><stop offset="0.825" stop-color="#a8f08a"/><stop offset="0.835" stop-color="#a8f08a"/><stop offset="0.845" stop-color="#a9f08a"/><stop offset="0.856" stop-color="#a9f089"/><stop offset="0.876" stop-color="#aaf089"/><stop offset="0.897" stop-color="#abf088"/><stop offset="0.918" stop-color="#acf087"/><stop offset="0.938" stop-color="#adf087"/><stop offset="0.959" stop-color="#adf087"/><stop offset="0.979" stop-color="#adf087"/><stop offset="1.000" stop-color="#adf087"/></linearGradient>
<linearGradient id="sshort22" gradientUnits="userSpaceOnUse" x1="74" y1="0" x2="268" y2="0"><stop offset="0.000" stop-color="#b4ef82"/><stop offset="0.021" stop-color="#b4ef82"/><stop offset="0.041" stop-color="#b5ef81"/><stop offset="0.062" stop-color="#b5ef81"/><stop offset="0.082" stop-color="#b6ef81"/><stop offset="0.103" stop-color="#b7ef80"/><stop offset="0.124" stop-color="#b8ef7f"/><stop offset="0.144" stop-color="#b9ef7e"/><stop offset="0.165" stop-color="#bbef7d"/><stop offset="0.186" stop-color="#bcef7c"/><stop offset="0.206" stop-color="#beef7b"/><stop offset="0.227" stop-color="#c1ee79"/><stop offset="0.247" stop-color="#c5ee76"/><stop offset="0.268" stop-color="#caee73"/><stop offset="0.289" stop-color="#cfec70"/><stop offset="0.309" stop-color="#d5eb6c"/><stop offset="0.330" stop-color="#dce969"/><stop offset="0.351" stop-color="#e2e866"/><stop offset="0.371" stop-color="#e7e663"/><stop offset="0.392" stop-color="#eae560"/><stop offset="0.412" stop-color="#ebe35d"/><stop offset="0.433" stop-color="#ece35c"/><stop offset="0.454" stop-color="#ece25b"/><stop offset="0.474" stop-color="#ece25c"/><stop offset="0.495" stop-color="#ece35c"/><stop offset="0.515" stop-color="#ebe45e"/><stop offset="0.536" stop-color="#eae45f"/><stop offset="0.557" stop-color="#e8e662"/><stop offset="0.577" stop-color="#e2e765"/><stop offset="0.598" stop-color="#daea6a"/><stop offset="0.619" stop-color="#d0ec70"/><stop offset="0.639" stop-color="#c6ee75"/><stop offset="0.660" stop-color="#beef7b"/><stop offset="0.680" stop-color="#b7ef80"/><stop offset="0.701" stop-color="#b2ef83"/><stop offset="0.722" stop-color="#aef086"/><stop offset="0.732" stop-color="#acf087"/><stop offset="0.742" stop-color="#abf088"/><stop offset="0.753" stop-color="#aaf088"/><stop offset="0.763" stop-color="#aaf089"/><stop offset="0.773" stop-color="#aaf089"/><stop offset="0.784" stop-color="#aaf089"/><stop offset="0.794" stop-color="#aaf089"/><stop offset="0.804" stop-color="#aaf089"/><stop offset="0.814" stop-color="#aaf088"/><stop offset="0.825" stop-color="#abf088"/><stop offset="0.835" stop-color="#abf088"/><stop offset="0.845" stop-color="#acf087"/><stop offset="0.856" stop-color="#acf087"/><stop offset="0.876" stop-color="#aef086"/><stop offset="0.897" stop-color="#aff085"/><stop offset="0.918" stop-color="#b0f085"/><stop offset="0.938" stop-color="#b0ef84"/><stop offset="0.959" stop-color="#b1ef84"/><stop offset="0.979" stop-color="#b1ef84"/><stop offset="1.000" stop-color="#b1ef84"/></linearGradient>
<linearGradient id="sshort23" gradientUnits="userSpaceOnUse" x1="74" y1="0" x2="268" y2="0"><stop offset="0.000" stop-color="#bbef7d"/><stop offset="0.021" stop-color="#bbef7d"/><stop offset="0.041" stop-color="#bbef7d"/><stop offset="0.062" stop-color="#bbef7d"/><stop offset="0.082" stop-color="#bcef7c"/><stop offset="0.103" stop-color="#bdef7c"/><stop offset="0.124" stop-color="#beef7b"/><stop offset="0.144" stop-color="#bfef7a"/><stop offset="0.165" stop-color="#c0ef7a"/><stop offset="0.186" stop-color="#c0ef7a"/><stop offset="0.206" stop-color="#c1ee79"/><stop offset="0.227" stop-color="#c4ee77"/><stop offset="0.247" stop-color="#c7ee74"/><stop offset="0.268" stop-color="#cced72"/><stop offset="0.289" stop-color="#d2ec6e"/><stop offset="0.309" stop-color="#d8ea6b"/><stop offset="0.330" stop-color="#dde968"/><stop offset="0.351" stop-color="#e3e765"/><stop offset="0.371" stop-color="#e8e662"/><stop offset="0.392" stop-color="#eae45f"/><stop offset="0.412" stop-color="#ece35d"/><stop offset="0.433" stop-color="#ede25b"/><stop offset="0.454" stop-color="#ede25a"/><stop offset="0.474" stop-color="#ede25a"/><stop offset="0.495" stop-color="#ede25a"/><stop offset="0.515" stop-color="#ede25b"/><stop offset="0.536" stop-color="#ece35c"/><stop offset="0.557" stop-color="#e9e560"/><stop offset="0.577" stop-color="#e3e765"/><stop offset="0.598" stop-color="#d9ea6b"/><stop offset="0.619" stop-color="#cfec70"/><stop offset="0.639" stop-color="#c6ee75"/><stop offset="0.660" stop-color="#bfef7a"/><stop offset="0.680" stop-color="#b8ef7f"/><stop offset="0.701" stop-color="#b3ef82"/><stop offset="0.722" stop-color="#aff085"/><stop offset="0.732" stop-color="#aef086"/><stop offset="0.742" stop-color="#adf087"/><stop offset="0.753" stop-color="#acf087"/><stop offset="0.763" stop-color="#acf087"/><stop offset="0.773" stop-color="#acf087"/><stop offset="0.784" stop-color="#acf087"/><stop offset="0.794" stop-color="#acf087"/><stop offset="0.804" stop-color="#adf087"/><stop offset="0.814" stop-color="#adf087"/><stop offset="0.825" stop-color="#aef086"/><stop offset="0.835" stop-color="#aef086"/><stop offset="0.845" stop-color="#aff085"/><stop offset="0.856" stop-color="#b0f085"/><stop offset="0.876" stop-color="#b1ef84"/><stop offset="0.897" stop-color="#b2ef83"/><stop offset="0.918" stop-color="#b4ef82"/><stop offset="0.938" stop-color="#b4ef82"/><stop offset="0.959" stop-color="#b5ef81"/><stop offset="0.979" stop-color="#b5ef81"/><stop offset="1.000" stop-color="#b5ef81"/></linearGradient>
<linearGradient id="sshort24" gradientUnits="userSpaceOnUse" x1="74" y1="0" x2="268" y2="0"><stop offset="0.000" stop-color="#c4ee77"/><stop offset="0.021" stop-color="#c4ee77"/><stop offset="0.041" stop-color="#c4ee77"/><stop offset="0.062" stop-color="#c5ee76"/><stop offset="0.082" stop-color="#c5ee76"/><stop offset="0.103" stop-color="#c6ee75"/><stop offset="0.124" stop-color="#c7ee75"/><stop offset="0.144" stop-color="#c8ee74"/><stop offset="0.165" stop-color="#c8ee74"/><stop offset="0.186" stop-color="#c8ee74"/><stop offset="0.206" stop-color="#c7ee74"/><stop offset="0.227" stop-color="#c8ee74"/><stop offset="0.247" stop-color="#caee73"/><stop offset="0.268" stop-color="#ceed71"/><stop offset="0.289" stop-color="#d3eb6e"/><stop offset="0.309" stop-color="#d8ea6b"/><stop offset="0.330" stop-color="#dde968"/><stop offset="0.351" stop-color="#e3e765"/><stop offset="0.371" stop-color="#e7e662"/><stop offset="0.392" stop-color="#e9e560"/><stop offset="0.412" stop-color="#ebe45e"/><stop offset="0.433" stop-color="#ece35c"/><stop offset="0.454" stop-color="#ede25b"/><stop offset="0.474" stop-color="#eee159"/><stop offset="0.495" stop-color="#eee159"/><stop offset="0.515" stop-color="#eee15a"/><stop offset="0.536" stop-color="#ece35d"/><stop offset="0.557" stop-color="#e8e662"/><stop offset="0.577" stop-color="#dfe867"/><stop offset="0.598" stop-color="#d6ea6c"/><stop offset="0.619" stop-color="#ceec71"/><stop offset="0.639" stop-color="#c7ee75"/><stop offset="0.660" stop-color="#c0ef7a"/><stop offset="0.680" stop-color="#baef7e"/><stop offset="0.701" stop-color="#b5ef81"/><stop offset="0.722" stop-color="#b1ef84"/><stop offset="0.732" stop-color="#b0ef84"/><stop offset="0.742" stop-color="#aff085"/><stop offset="0.753" stop-color="#aff085"/><stop offset="0.763" stop-color="#aef086"/><stop offset="0.773" stop-color="#aef086"/><stop offset="0.784" stop-color="#aff085"/><stop offset="0.794" stop-color="#aff085"/><stop offset="0.804" stop-color="#b0f085"/><stop offset="0.814" stop-color="#b0ef84"/><stop offset="0.825" stop-color="#b1ef84"/><stop offset="0.835" stop-color="#b2ef83"/><stop offset="0.845" stop-color="#b3ef83"/><stop offset="0.856" stop-color="#b4ef82"/><stop offset="0.876" stop-color="#b6ef80"/><stop offset="0.897" stop-color="#b8ef7f"/><stop offset="0.918" stop-color="#baef7d"/><stop offset="0.938" stop-color="#bcef7c"/><stop offset="0.959" stop-color="#bcef7c"/><stop offset="0.979" stop-color="#bdef7c"/><stop offset="1.000" stop-color="#bdef7c"/></linearGradient>
<linearGradient id="sshort25" gradientUnits="userSpaceOnUse" x1="74" y1="0" x2="268" y2="0"><stop offset="0.000" stop-color="#cded71"/><stop offset="0.021" stop-color="#cded71"/><stop offset="0.041" stop-color="#cded71"/><stop offset="0.062" stop-color="#ceed71"/><stop offset="0.082" stop-color="#ceed71"/><stop offset="0.103" stop-color="#cfec70"/><stop offset="0.124" stop-color="#d0ec70"/><stop offset="0.144" stop-color="#d1ec6f"/><stop offset="0.165" stop-color="#d0ec6f"/><stop offset="0.186" stop-color="#d0ec70"/><stop offset="0.206" stop-color="#cfec70"/><stop offset="0.227" stop-color="#cfec70"/><stop offset="0.247" stop-color="#d0ec6f"/><stop offset="0.268" stop-color="#d4eb6d"/><stop offset="0.289" stop-color="#d8ea6b"/><stop offset="0.309" stop-color="#dde968"/><stop offset="0.330" stop-color="#e1e866"/><stop offset="0.351" stop-color="#e6e763"/><stop offset="0.371" stop-color="#e9e561"/><stop offset="0.392" stop-color="#ebe45e"/><stop offset="0.412" stop-color="#ece35c"/><stop offset="0.433" stop-color="#eee15a"/><stop offset="0.454" stop-color="#efe057"/><stop offset="0.474" stop-color="#f0df56"/><stop offset="0.495" stop-color="#f0df56"/><stop offset="0.515" stop-color="#eee158"/><stop offset="0.536" stop-color="#ece35d"/><stop offset="0.557" stop-color="#e8e662"/><stop offset="0.577" stop-color="#e1e866"/><stop offset="0.598" stop-color="#daea6a"/><stop offset="0.619" stop-color="#d3eb6e"/><stop offset="0.639" stop-color="#cced72"/><stop offset="0.660" stop-color="#c6ee75"/><stop offset="0.680" stop-color="#c1ee79"/><stop offset="0.701" stop-color="#bcef7c"/><stop offset="0.722" stop-color="#b9ef7e"/><stop offset="0.732" stop-color="#b8ef7f"/><stop offset="0.742" stop-color="#b7ef7f"/><stop offset="0.753" stop-color="#b7ef80"/><stop offset="0.763" stop-color="#b7ef80"/><stop offset="0.773" stop-color="#b7ef80"/><stop offset="0.784" stop-color="#b7ef7f"/><stop offset="0.794" stop-color="#b8ef7f"/><stop offset="0.804" stop-color="#b8ef7f"/><stop offset="0.814" stop-color="#b9ef7e"/><stop offset="0.825" stop-color="#baef7e"/><stop offset="0.835" stop-color="#bbef7d"/><stop offset="0.845" stop-color="#bcef7d"/><stop offset="0.856" stop-color="#bdef7c"/><stop offset="0.876" stop-color="#bfef7a"/><stop offset="0.897" stop-color="#c1ee79"/><stop offset="0.918" stop-color="#c3ee77"/><stop offset="0.938" stop-color="#c5ee76"/><stop offset="0.959" stop-color="#c6ee76"/><stop offset="0.979" stop-color="#c6ee76"/><stop offset="1.000" stop-color="#c6ee76"/></linearGradient>
<linearGradient id="sshort26" gradientUnits="userSpaceOnUse" x1="74" y1="0" x2="268" y2="0"><stop offset="0.000" stop-color="#d7ea6c"/><stop offset="0.021" stop-color="#d7ea6c"/><stop offset="0.041" stop-color="#d7ea6b"/><stop offset="0.062" stop-color="#d7ea6b"/><stop offset="0.082" stop-color="#d8ea6b"/><stop offset="0.103" stop-color="#d8ea6b"/><stop offset="0.124" stop-color="#d9ea6a"/><stop offset="0.144" stop-color="#daea6a"/><stop offset="0.165" stop-color="#d9ea6a"/><stop offset="0.186" stop-color="#d7ea6b"/><stop offset="0.206" stop-color="#d6ea6c"/><stop offset="0.227" stop-color="#d6eb6c"/><stop offset="0.247" stop-color="#d7ea6c"/><stop offset="0.268" stop-color="#d9ea6a"/><stop offset="0.289" stop-color="#dde968"/><stop offset="0.309" stop-color="#e1e866"/><stop offset="0.330" stop-color="#e4e764"/><stop offset="0.351" stop-color="#e8e662"/><stop offset="0.371" stop-color="#eae45f"/><stop offset="0.392" stop-color="#ece35d"/><stop offset="0.412" stop-color="#ede15a"/><stop offset="0.433" stop-color="#efe057"/><stop offset="0.454" stop-color="#f1df55"/><stop offset="0.474" stop-color="#f1de54"/><stop offset="0.495" stop-color="#f0df56"/><stop offset="0.515" stop-color="#eee159"/><stop offset="0.536" stop-color="#ebe45e"/><stop offset="0.557" stop-color="#e8e662"/><stop offset="0.577" stop-color="#e3e765"/><stop offset="0.598" stop-color="#dde968"/><stop offset="0.619" stop-color="#d8ea6b"/><stop offset="0.639" stop-color="#d2eb6e"/><stop offset="0.660" stop-color="#cded71"/><stop offset="0.680" stop-color="#c9ee74"/><stop offset="0.701" stop-color="#c5ee76"/><stop offset="0.722" stop-color="#c2ee78"/><stop offset="0.732" stop-color="#c1ee79"/><stop offset="0.742" stop-color="#c1ee79"/><stop offset="0.753" stop-color="#c0ee79"/><stop offset="0.763" stop-color="#c0ee79"/><stop offset="0.773" stop-color="#c0ee79"/><stop offset="0.784" stop-color="#c1ee79"/><stop offset="0.794" stop-color="#c1ee79"/><stop offset="0.804" stop-color="#c2ee78"/><stop offset="0.814" stop-color="#c3ee78"/><stop offset="0.825" stop-color="#c3ee77"/><stop offset="0.835" stop-color="#c4ee77"/><stop offset="0.845" stop-color="#c5ee76"/><stop offset="0.856" stop-color="#c6ee75"/><stop offset="0.876" stop-color="#c8ee74"/><stop offset="0.897" stop-color="#cbed73"/><stop offset="0.918" stop-color="#cded71"/><stop offset="0.938" stop-color="#ceec71"/><stop offset="0.959" stop-color="#cfec70"/><stop offset="0.979" stop-color="#cfec70"/><stop offset="1.000" stop-color="#cfec70"/></linearGradient>
<linearGradient id="sshort27" gradientUnits="userSpaceOnUse" x1="74" y1="0" x2="268" y2="0"><stop offset="0.000" stop-color="#e2e866"/><stop offset="0.021" stop-color="#e2e865"/><stop offset="0.041" stop-color="#e2e865"/><stop offset="0.062" stop-color="#e2e765"/><stop offset="0.082" stop-color="#e3e765"/><stop offset="0.103" stop-color="#e3e765"/><stop offset="0.124" stop-color="#e4e764"/><stop offset="0.144" stop-color="#e4e764"/><stop offset="0.165" stop-color="#e3e765"/><stop offset="0.186" stop-color="#e1e866"/><stop offset="0.206" stop-color="#dfe867"/><stop offset="0.227" stop-color="#dde968"/><stop offset="0.247" stop-color="#dde968"/><stop offset="0.268" stop-color="#dfe867"/><stop offset="0.289" stop-color="#e2e866"/><stop offset="0.309" stop-color="#e5e764"/><stop offset="0.330" stop-color="#e8e662"/><stop offset="0.351" stop-color="#e9e560"/><stop offset="0.371" stop-color="#ebe35d"/><stop offset="0.392" stop-color="#ede25a"/><stop offset="0.412" stop-color="#f0e057"/><stop offset="0.433" stop-color="#f1de54"/><stop offset="0.454" stop-color="#f2de53"/><stop offset="0.474" stop-color="#f1df55"/><stop offset="0.495" stop-color="#efe058"/><stop offset="0.515" stop-color="#ede25b"/><stop offset="0.536" stop-color="#ebe45e"/><stop offset="0.557" stop-color="#e9e561"/><stop offset="0.577" stop-color="#e6e763"/><stop offset="0.598" stop-color="#e2e866"/><stop offset="0.619" stop-color="#dde968"/><stop offset="0.639" stop-color="#d9ea6a"/><stop offset="0.660" stop-color="#d5eb6d"/><stop offset="0.680" stop-color="#d1ec6f"/><stop offset="0.701" stop-color="#ceed71"/><stop offset="0.722" stop-color="#cced72"/><stop offset="0.732" stop-color="#cbed72"/><stop offset="0.742" stop-color="#caed73"/><stop offset="0.753" stop-color="#caed73"/><stop offset="0.763" stop-color="#caed73"/><stop offset="0.773" stop-color="#caed73"/><stop offset="0.784" stop-color="#cbed72"/><stop offset="0.794" stop-color="#cbed72"/><stop offset="0.804" stop-color="#cced72"/><stop offset="0.814" stop-color="#cced72"/><stop offset="0.825" stop-color="#cded71"/><stop offset="0.835" stop-color="#ceed71"/><stop offset="0.845" stop-color="#cfec70"/><stop offset="0.856" stop-color="#d0ec70"/><stop offset="0.876" stop-color="#d2eb6e"/><stop offset="0.897" stop-color="#d5eb6d"/><stop offset="0.918" stop-color="#d7ea6c"/><stop offset="0.938" stop-color="#d9ea6b"/><stop offset="0.959" stop-color="#d9ea6a"/><stop offset="0.979" stop-color="#d9ea6a"/><stop offset="1.000" stop-color="#d9ea6a"/></linearGradient>
<linearGradient id="sshort28" gradientUnits="userSpaceOnUse" x1="74" y1="0" x2="268" y2="0"><stop offset="0.000" stop-color="#eae45f"/><stop offset="0.021" stop-color="#eae45f"/><stop offset="0.041" stop-color="#eae45f"/><stop offset="0.062" stop-color="#eae45f"/><stop offset="0.082" stop-color="#eae45f"/><stop offset="0.103" stop-color="#eae45e"/><stop offset="0.124" stop-color="#ebe45e"/><stop offset="0.144" stop-color="#ebe45e"/><stop offset="0.165" stop-color="#eae45f"/><stop offset="0.186" stop-color="#e9e560"/><stop offset="0.206" stop-color="#e8e662"/><stop offset="0.227" stop-color="#e6e763"/><stop offset="0.247" stop-color="#e5e764"/><stop offset="0.268" stop-color="#e6e663"/><stop offset="0.289" stop-color="#e8e662"/><stop offset="0.309" stop-color="#e9e560"/><stop offset="0.330" stop-color="#eae45f"/><stop offset="0.351" stop-color="#ebe35d"/><stop offset="0.371" stop-color="#eee159"/><stop offset="0.392" stop-color="#f1df55"/><stop offset="0.412" stop-color="#f3dd52"/><stop offset="0.433" stop-color="#f3dd51"/><stop offset="0.454" stop-color="#f2dd53"/><stop offset="0.474" stop-color="#f1df55"/><stop offset="0.495" stop-color="#efe058"/><stop offset="0.515" stop-color="#ede25a"/><stop offset="0.536" stop-color="#ece35c"/><stop offset="0.557" stop-color="#ebe45e"/><stop offset="0.577" stop-color="#eae560"/><stop offset="0.598" stop-color="#e8e662"/><stop offset="0.619" stop-color="#e5e764"/><stop offset="0.639" stop-color="#e2e866"/><stop offset="0.660" stop-color="#dfe867"/><stop offset="0.680" stop-color="#dce969"/><stop offset="0.701" stop-color="#d9ea6a"/><stop offset="0.722" stop-color="#d8ea6b"/><stop offset="0.732" stop-color="#d7ea6c"/><stop offset="0.742" stop-color="#d7ea6c"/><stop offset="0.753" stop-color="#d7ea6c"/><stop offset="0.763" stop-color="#d7ea6c"/><stop offset="0.773" stop-color="#d7ea6c"/><stop offset="0.784" stop-color="#d7ea6c"/><stop offset="0.794" stop-color="#d7ea6b"/><stop offset="0.804" stop-color="#d8ea6b"/><stop offset="0.814" stop-color="#d8ea6b"/><stop offset="0.825" stop-color="#d9ea6b"/><stop offset="0.835" stop-color="#d9ea6a"/><stop offset="0.845" stop-color="#dae96a"/><stop offset="0.856" stop-color="#dbe969"/><stop offset="0.876" stop-color="#dde968"/><stop offset="0.897" stop-color="#e0e867"/><stop offset="0.918" stop-color="#e2e865"/><stop offset="0.938" stop-color="#e4e764"/><stop offset="0.959" stop-color="#e4e764"/><stop offset="0.979" stop-color="#e4e764"/><stop offset="1.000" stop-color="#e4e764"/></linearGradient>
<linearGradient id="sshort29" gradientUnits="userSpaceOnUse" x1="74" y1="0" x2="268" y2="0"><stop offset="0.000" stop-color="#efe057"/><stop offset="0.021" stop-color="#efe057"/><stop offset="0.041" stop-color="#efe057"/><stop offset="0.062" stop-color="#efe057"/><stop offset="0.082" stop-color="#efe057"/><stop offset="0.103" stop-color="#efe057"/><stop offset="0.124" stop-color="#efe057"/><stop offset="0.144" stop-color="#f0e057"/><stop offset="0.165" stop-color="#efe058"/><stop offset="0.186" stop-color="#eee15a"/><stop offset="0.206" stop-color="#ece35c"/><stop offset="0.227" stop-color="#ebe35d"/><stop offset="0.247" stop-color="#ebe45e"/><stop offset="0.268" stop-color="#ebe45e"/><stop offset="0.289" stop-color="#ebe35d"/><stop offset="0.309" stop-color="#ece25c"/><stop offset="0.330" stop-color="#ede25b"/><stop offset="0.351" stop-color="#eee159"/><stop offset="0.371" stop-color="#f1df55"/><stop offset="0.392" stop-color="#f4db4f"/><stop offset="0.412" stop-color="#f4db4f"/><stop offset="0.433" stop-color="#f4dc50"/><stop offset="0.454" stop-color="#f2dd53"/><stop offset="0.474" stop-color="#f1df55"/><stop offset="0.495" stop-color="#f0e057"/><stop offset="0.515" stop-color="#efe058"/><stop offset="0.536" stop-color="#eee159"/><stop offset="0.557" stop-color="#ede25a"/><stop offset="0.577" stop-color="#ece25b"/><stop offset="0.598" stop-color="#ebe35d"/><stop offset="0.619" stop-color="#eae45e"/><stop offset="0.639" stop-color="#e9e560"/><stop offset="0.660" stop-color="#e8e661"/><stop offset="0.680" stop-color="#e7e663"/><stop offset="0.701" stop-color="#e5e764"/><stop offset="0.722" stop-color="#e4e764"/><stop offset="0.732" stop-color="#e3e765"/><stop offset="0.742" stop-color="#e3e765"/><stop offset="0.753" stop-color="#e3e765"/><stop offset="0.763" stop-color="#e3e765"/><stop offset="0.773" stop-color="#e3e765"/><stop offset="0.784" stop-color="#e3e765"/><stop offset="0.794" stop-color="#e4e764"/><stop offset="0.804" stop-color="#e4e764"/><stop offset="0.814" stop-color="#e4e764"/><stop offset="0.825" stop-color="#e5e764"/><stop offset="0.835" stop-color="#e5e764"/><stop offset="0.845" stop-color="#e6e763"/><stop offset="0.856" stop-color="#e7e663"/><stop offset="0.876" stop-color="#e8e662"/><stop offset="0.897" stop-color="#e9e560"/><stop offset="0.918" stop-color="#eae45f"/><stop offset="0.938" stop-color="#ebe45e"/><stop offset="0.959" stop-color="#ebe35d"/><stop offset="0.979" stop-color="#ebe35d"/><stop offset="1.000" stop-color="#ebe35d"/></linearGradient>
<linearGradient id="sshort30" gradientUnits="userSpaceOnUse" x1="74" y1="0" x2="268" y2="0"><stop offset="0.000" stop-color="#f4dc50"/><stop offset="0.021" stop-color="#f4dc50"/><stop offset="0.041" stop-color="#f4dc50"/><stop offset="0.062" stop-color="#f4dc50"/><stop offset="0.082" stop-color="#f4dc50"/><stop offset="0.103" stop-color="#f4dc50"/><stop offset="0.124" stop-color="#f4db4f"/><stop offset="0.144" stop-color="#f4db4f"/><stop offset="0.165" stop-color="#f4dc51"/><stop offset="0.186" stop-color="#f2de53"/><stop offset="0.206" stop-color="#f1df55"/><stop offset="0.227" stop-color="#efe057"/><stop offset="0.247" stop-color="#efe158"/><stop offset="0.268" stop-color="#efe058"/><stop offset="0.289" stop-color="#efe057"/><stop offset="0.309" stop-color="#f0e057"/><stop offset="0.330" stop-color="#f0df56"/><stop offset="0.351" stop-color="#f1df55"/><stop offset="0.371" stop-color="#f4dc51"/><stop offset="0.392" stop-color="#f4d74b"/><stop offset="0.412" stop-color="#f4d94d"/><stop offset="0.433" stop-color="#f4db4f"/><stop offset="0.454" stop-color="#f3dd51"/><stop offset="0.474" stop-color="#f2dd53"/><stop offset="0.495" stop-color="#f2de53"/><stop offset="0.515" stop-color="#f1de54"/><stop offset="0.536" stop-color="#f1df55"/><stop offset="0.557" stop-color="#f0df55"/><stop offset="0.577" stop-color="#f0df56"/><stop offset="0.598" stop-color="#efe057"/><stop offset="0.619" stop-color="#eee158"/><stop offset="0.639" stop-color="#eee159"/><stop offset="0.660" stop-color="#ede25a"/><stop offset="0.680" stop-color="#ece25b"/><stop offset="0.701" stop-color="#ece35c"/><stop offset="0.722" stop-color="#ece35d"/><stop offset="0.732" stop-color="#ebe35d"/><stop offset="0.742" stop-color="#ebe35d"/><stop offset="0.753" stop-color="#ebe35d"/><stop offset="0.763" stop-color="#ebe35d"/><stop offset="0.773" stop-color="#ebe35d"/><stop offset="0.784" stop-color="#ebe35d"/><stop offset="0.794" stop-color="#ece35d"/><stop offset="0.804" stop-color="#ece35d"/><stop offset="0.814" stop-color="#ece35c"/><stop offset="0.825" stop-color="#ece35c"/><stop offset="0.835" stop-color="#ece35c"/><stop offset="0.845" stop-color="#ece35c"/><stop offset="0.856" stop-color="#ece25b"/><stop offset="0.876" stop-color="#ede25a"/><stop offset="0.897" stop-color="#eee159"/><stop offset="0.918" stop-color="#efe057"/><stop offset="0.938" stop-color="#f0df56"/><stop offset="0.959" stop-color="#f0df56"/><stop offset="0.979" stop-color="#f0df56"/><stop offset="1.000" stop-color="#f0df56"/></linearGradient>
<linearGradient id="sshort31" gradientUnits="userSpaceOnUse" x1="74" y1="0" x2="268" y2="0"><stop offset="0.000" stop-color="#f4d448"/><stop offset="0.021" stop-color="#f4d448"/><stop offset="0.041" stop-color="#f4d448"/><stop offset="0.062" stop-color="#f4d448"/><stop offset="0.082" stop-color="#f4d448"/><stop offset="0.103" stop-color="#f4d448"/><stop offset="0.124" stop-color="#f4d448"/><stop offset="0.144" stop-color="#f4d448"/><stop offset="0.165" stop-color="#f4d549"/><stop offset="0.186" stop-color="#f4d74b"/><stop offset="0.206" stop-color="#f4da4e"/><stop offset="0.227" stop-color="#f4dc50"/><stop offset="0.247" stop-color="#f3dd52"/><stop offset="0.268" stop-color="#f3dd52"/><stop offset="0.289" stop-color="#f3dd51"/><stop offset="0.309" stop-color="#f4dc51"/><stop offset="0.330" stop-color="#f4dc50"/><stop offset="0.351" stop-color="#f4db4f"/><stop offset="0.371" stop-color="#f4d84c"/><stop offset="0.392" stop-color="#f4d448"/><stop offset="0.412" stop-color="#f4d64a"/><stop offset="0.433" stop-color="#f4d84c"/><stop offset="0.454" stop-color="#f4da4e"/><stop offset="0.474" stop-color="#f4da4e"/><stop offset="0.495" stop-color="#f4da4e"/><stop offset="0.515" stop-color="#f4db4f"/><stop offset="0.536" stop-color="#f4db4f"/><stop offset="0.557" stop-color="#f4dc50"/><stop offset="0.577" stop-color="#f4dc50"/><stop offset="0.598" stop-color="#f3dd51"/><stop offset="0.619" stop-color="#f3dd52"/><stop offset="0.639" stop-color="#f2dd52"/><stop offset="0.660" stop-color="#f2de53"/><stop offset="0.680" stop-color="#f1de54"/><stop offset="0.701" stop-color="#f1de54"/><stop offset="0.722" stop-color="#f1df55"/><stop offset="0.732" stop-color="#f1df55"/><stop offset="0.742" stop-color="#f1df55"/><stop offset="0.753" stop-color="#f1df55"/><stop offset="0.763" stop-color="#f1df55"/><stop offset="0.773" stop-color="#f1df55"/><stop offset="0.784" stop-color="#f1df55"/><stop offset="0.794" stop-color="#f1df55"/><stop offset="0.804" stop-color="#f1df55"/><stop offset="0.814" stop-color="#f1de54"/><stop offset="0.825" stop-color="#f1de54"/><stop offset="0.835" stop-color="#f1de54"/><stop offset="0.845" stop-color="#f1de54"/><stop offset="0.856" stop-color="#f2de54"/><stop offset="0.876" stop-color="#f2dd52"/><stop offset="0.897" stop-color="#f3dd51"/><stop offset="0.918" stop-color="#f4dc50"/><stop offset="0.938" stop-color="#f4da4e"/><stop offset="0.959" stop-color="#f4da4e"/><stop offset="0.979" stop-color="#f4da4e"/><stop offset="1.000" stop-color="#f4da4e"/></linearGradient>
<linearGradient id="sshort32" gradientUnits="userSpaceOnUse" x1="74" y1="0" x2="268" y2="0"><stop offset="0.000" stop-color="#f4cc40"/><stop offset="0.021" stop-color="#f4cc40"/><stop offset="0.041" stop-color="#f4cc40"/><stop offset="0.062" stop-color="#f4cc40"/><stop offset="0.082" stop-color="#f4cc40"/><stop offset="0.103" stop-color="#f4cc40"/><stop offset="0.124" stop-color="#f4cc40"/><stop offset="0.144" stop-color="#f4cc40"/><stop offset="0.165" stop-color="#f4cd41"/><stop offset="0.186" stop-color="#f4d044"/><stop offset="0.206" stop-color="#f4d246"/><stop offset="0.227" stop-color="#f4d549"/><stop offset="0.247" stop-color="#f4d64a"/><stop offset="0.268" stop-color="#f4d64a"/><stop offset="0.289" stop-color="#f4d64a"/><stop offset="0.309" stop-color="#f4d64a"/><stop offset="0.330" stop-color="#f4d549"/><stop offset="0.351" stop-color="#f4d549"/><stop offset="0.371" stop-color="#f4d347"/><stop offset="0.392" stop-color="#f4d246"/><stop offset="0.412" stop-color="#f4d347"/><stop offset="0.433" stop-color="#f4d448"/><stop offset="0.454" stop-color="#f4d448"/><stop offset="0.474" stop-color="#f4d448"/><stop offset="0.495" stop-color="#f4d448"/><stop offset="0.515" stop-color="#f4d549"/><stop offset="0.536" stop-color="#f4d549"/><stop offset="0.557" stop-color="#f4d549"/><stop offset="0.577" stop-color="#f4d64a"/><stop offset="0.598" stop-color="#f4d64a"/><stop offset="0.619" stop-color="#f4d74b"/><stop offset="0.639" stop-color="#f4d74b"/><stop offset="0.660" stop-color="#f4d84c"/><stop offset="0.680" stop-color="#f4d84c"/><stop offset="0.701" stop-color="#f4d84c"/><stop offset="0.722" stop-color="#f4d94d"/><stop offset="0.732" stop-color="#f4d94d"/><stop offset="0.742" stop-color="#f4d94d"/><stop offset="0.753" stop-color="#f4d94d"/><stop offset="0.763" stop-color="#f4d94d"/><stop offset="0.773" stop-color="#f4d94d"/><stop offset="0.784" stop-color="#f4d94d"/><stop offset="0.794" stop-color="#f4d94d"/><stop offset="0.804" stop-color="#f4d94d"/><stop offset="0.814" stop-color="#f4d84c"/><stop offset="0.825" stop-color="#f4d84c"/><stop offset="0.835" stop-color="#f4d84c"/><stop offset="0.845" stop-color="#f4d84c"/><stop offset="0.856" stop-color="#f4d84c"/><stop offset="0.876" stop-color="#f4d64a"/><stop offset="0.897" stop-color="#f4d549"/><stop offset="0.918" stop-color="#f4d448"/><stop offset="0.938" stop-color="#f4d246"/><stop offset="0.959" stop-color="#f4d246"/><stop offset="0.979" stop-color="#f4d246"/><stop offset="1.000" stop-color="#f4d246"/></linearGradient>
<linearGradient id="sshort33" gradientUnits="userSpaceOnUse" x1="74" y1="0" x2="268" y2="0"><stop offset="0.000" stop-color="#f4c438"/><stop offset="0.021" stop-color="#f4c438"/><stop offset="0.041" stop-color="#f4c438"/><stop offset="0.062" stop-color="#f4c438"/><stop offset="0.082" stop-color="#f4c438"/><stop offset="0.103" stop-color="#f4c438"/><stop offset="0.124" stop-color="#f4c438"/><stop offset="0.144" stop-color="#f4c438"/><stop offset="0.165" stop-color="#f4c539"/><stop offset="0.186" stop-color="#f4c83c"/><stop offset="0.206" stop-color="#f4cb3f"/><stop offset="0.227" stop-color="#f4cd41"/><stop offset="0.247" stop-color="#f4cf43"/><stop offset="0.268" stop-color="#f4cf43"/><stop offset="0.289" stop-color="#f4cf43"/><stop offset="0.309" stop-color="#f4cf43"/><stop offset="0.330" stop-color="#f4ce42"/><stop offset="0.351" stop-color="#f4ce42"/><stop offset="0.371" stop-color="#f4ce42"/><stop offset="0.392" stop-color="#f4cd41"/><stop offset="0.412" stop-color="#f4cd41"/><stop offset="0.433" stop-color="#f4ce42"/><stop offset="0.454" stop-color="#f4ce42"/><stop offset="0.474" stop-color="#f4ce42"/><stop offset="0.495" stop-color="#f4ce42"/><stop offset="0.515" stop-color="#f4ce42"/><stop offset="0.536" stop-color="#f4ce42"/><stop offset="0.557" stop-color="#f4ce42"/><stop offset="0.577" stop-color="#f4cf43"/><stop offset="0.598" stop-color="#f4cf43"/><stop offset="0.619" stop-color="#f4cf43"/><stop offset="0.639" stop-color="#f4cf43"/><stop offset="0.660" stop-color="#f4d044"/><stop offset="0.680" stop-color="#f4d044"/><stop offset="0.701" stop-color="#f4d044"/><stop offset="0.722" stop-color="#f4d044"/><stop offset="0.732" stop-color="#f4d044"/><stop offset="0.742" stop-color="#f4d044"/><stop offset="0.753" stop-color="#f4d044"/><stop offset="0.763" stop-color="#f4d044"/><stop offset="0.773" stop-color="#f4d044"/><stop offset="0.784" stop-color="#f4d044"/><stop offset="0.794" stop-color="#f4d044"/><stop offset="0.804" stop-color="#f4d044"/><stop offset="0.814" stop-color="#f4d044"/><stop offset="0.825" stop-color="#f4d044"/><stop offset="0.835" stop-color="#f4d044"/><stop offset="0.845" stop-color="#f4d044"/><stop offset="0.856" stop-color="#f4cf43"/><stop offset="0.876" stop-color="#f4ce42"/><stop offset="0.897" stop-color="#f4cd41"/><stop offset="0.918" stop-color="#f4cb3f"/><stop offset="0.938" stop-color="#f4ca3e"/><stop offset="0.959" stop-color="#f4ca3e"/><stop offset="0.979" stop-color="#f4ca3e"/><stop offset="1.000" stop-color="#f4ca3e"/></linearGradient>
<linearGradient id="sshort34" gradientUnits="userSpaceOnUse" x1="74" y1="0" x2="268" y2="0"><stop offset="0.000" stop-color="#f3bc31"/><stop offset="0.021" stop-color="#f3bc31"/><stop offset="0.041" stop-color="#f3bc31"/><stop offset="0.062" stop-color="#f3bc31"/><stop offset="0.082" stop-color="#f3bc31"/><stop offset="0.103" stop-color="#f3bc31"/><stop offset="0.124" stop-color="#f3bc31"/><stop offset="0.144" stop-color="#f4bc32"/><stop offset="0.165" stop-color="#f4be33"/><stop offset="0.186" stop-color="#f4c035"/><stop offset="0.206" stop-color="#f4c337"/><stop offset="0.227" stop-color="#f4c539"/><stop offset="0.247" stop-color="#f4c73b"/><stop offset="0.268" stop-color="#f4c73b"/><stop offset="0.289" stop-color="#f4c73b"/><stop offset="0.309" stop-color="#f4c73b"/><stop offset="0.330" stop-color="#f4c73b"/><stop offset="0.351" stop-color="#f4c73b"/><stop offset="0.371" stop-color="#f4c73b"/><stop offset="0.392" stop-color="#f4c73b"/><stop offset="0.412" stop-color="#f4c73b"/><stop offset="0.433" stop-color="#f4c73b"/><stop offset="0.454" stop-color="#f4c73b"/><stop offset="0.474" stop-color="#f4c73b"/><stop offset="0.495" stop-color="#f4c73b"/><stop offset="0.515" stop-color="#f4c73b"/><stop offset="0.536" stop-color="#f4c73b"/><stop offset="0.557" stop-color="#f4c73b"/><stop offset="0.577" stop-color="#f4c73b"/><stop offset="0.598" stop-color="#f4c73b"/><stop offset="0.619" stop-color="#f4c73b"/><stop offset="0.639" stop-color="#f4c83c"/><stop offset="0.660" stop-color="#f4c83c"/><stop offset="0.680" stop-color="#f4c83c"/><stop offset="0.701" stop-color="#f4c83c"/><stop offset="0.722" stop-color="#f4c83c"/><stop offset="0.732" stop-color="#f4c83c"/><stop offset="0.742" stop-color="#f4c83c"/><stop offset="0.753" stop-color="#f4c83c"/><stop offset="0.763" stop-color="#f4c83c"/><stop offset="0.773" stop-color="#f4c83c"/><stop offset="0.784" stop-color="#f4c83c"/><stop offset="0.794" stop-color="#f4c83c"/><stop offset="0.804" stop-color="#f4c83c"/><stop offset="0.814" stop-color="#f4c83c"/><stop offset="0.825" stop-color="#f4c83c"/><stop offset="0.835" stop-color="#f4c83c"/><stop offset="0.845" stop-color="#f4c83c"/><stop offset="0.856" stop-color="#f4c73b"/><stop offset="0.876" stop-color="#f4c63a"/><stop offset="0.897" stop-color="#f4c539"/><stop offset="0.918" stop-color="#f4c338"/><stop offset="0.938" stop-color="#f4c237"/><stop offset="0.959" stop-color="#f4c236"/><stop offset="0.979" stop-color="#f4c236"/><stop offset="1.000" stop-color="#f4c236"/></linearGradient>
<linearGradient id="sshort35" gradientUnits="userSpaceOnUse" x1="74" y1="0" x2="268" y2="0"><stop offset="0.000" stop-color="#f3b42b"/><stop offset="0.021" stop-color="#f3b42b"/><stop offset="0.041" stop-color="#f3b42b"/><stop offset="0.062" stop-color="#f3b42b"/><stop offset="0.082" stop-color="#f3b42b"/><stop offset="0.103" stop-color="#f3b42b"/><stop offset="0.124" stop-color="#f3b42b"/><stop offset="0.144" stop-color="#f3b42b"/><stop offset="0.165" stop-color="#f3b62c"/><stop offset="0.186" stop-color="#f3b82e"/><stop offset="0.206" stop-color="#f3bb31"/><stop offset="0.227" stop-color="#f4bd33"/><stop offset="0.247" stop-color="#f4bf34"/><stop offset="0.268" stop-color="#f4c034"/><stop offset="0.289" stop-color="#f4c034"/><stop offset="0.309" stop-color="#f4c034"/><stop offset="0.330" stop-color="#f4bf34"/><stop offset="0.351" stop-color="#f4bf34"/><stop offset="0.371" stop-color="#f4bf34"/><stop offset="0.392" stop-color="#f4bf34"/><stop offset="0.412" stop-color="#f4bf34"/><stop offset="0.433" stop-color="#f4bf34"/><stop offset="0.454" stop-color="#f4bf34"/><stop offset="0.474" stop-color="#f4bf34"/><stop offset="0.495" stop-color="#f4bf34"/><stop offset="0.515" stop-color="#f4bf34"/><stop offset="0.536" stop-color="#f4bf34"/><stop offset="0.557" stop-color="#f4bf34"/><stop offset="0.577" stop-color="#f4bf34"/><stop offset="0.598" stop-color="#f4c034"/><stop offset="0.619" stop-color="#f4c034"/><stop offset="0.639" stop-color="#f4c035"/><stop offset="0.660" stop-color="#f4c035"/><stop offset="0.680" stop-color="#f4c035"/><stop offset="0.701" stop-color="#f4c035"/><stop offset="0.722" stop-color="#f4c035"/><stop offset="0.732" stop-color="#f4c035"/><stop offset="0.742" stop-color="#f4c035"/><stop offset="0.753" stop-color="#f4c035"/><stop offset="0.763" stop-color="#f4c035"/><stop offset="0.773" stop-color="#f4c035"/><stop offset="0.784" stop-color="#f4c035"/><stop offset="0.794" stop-color="#f4c035"/><stop offset="0.804" stop-color="#f4c035"/><stop offset="0.814" stop-color="#f4c035"/><stop offset="0.825" stop-color="#f4c035"/><stop offset="0.835" stop-color="#f4c035"/><stop offset="0.845" stop-color="#f4c035"/><stop offset="0.856" stop-color="#f4bf34"/><stop offset="0.876" stop-color="#f4be33"/><stop offset="0.897" stop-color="#f4bd32"/><stop offset="0.918" stop-color="#f3bb31"/><stop offset="0.938" stop-color="#f3ba30"/><stop offset="0.959" stop-color="#f3ba30"/><stop offset="0.979" stop-color="#f3ba30"/><stop offset="1.000" stop-color="#f3ba30"/></linearGradient>
<linearGradient id="sshort36" gradientUnits="userSpaceOnUse" x1="74" y1="0" x2="268" y2="0"><stop offset="0.000" stop-color="#f2ac24"/><stop offset="0.021" stop-color="#f2ac24"/><stop offset="0.041" stop-color="#f2ac24"/><stop offset="0.062" stop-color="#f2ac24"/><stop offset="0.082" stop-color="#f2ac24"/><stop offset="0.103" stop-color="#f2ac24"/><stop offset="0.124" stop-color="#f2ac24"/><stop offset="0.144" stop-color="#f3ac25"/><stop offset="0.165" stop-color="#f3ae26"/><stop offset="0.186" stop-color="#f3b028"/><stop offset="0.206" stop-color="#f3b32a"/><stop offset="0.227" stop-color="#f3b62c"/><stop offset="0.247" stop-color="#f3b72e"/><stop offset="0.268" stop-color="#f3b82e"/><stop offset="0.289" stop-color="#f3b82e"/><stop offset="0.309" stop-color="#f3b82e"/><stop offset="0.330" stop-color="#f3b82e"/><stop offset="0.351" stop-color="#f3b82e"/><stop offset="0.371" stop-color="#f3b82e"/><stop offset="0.392" stop-color="#f3b82e"/><stop offset="0.412" stop-color="#f3b82e"/><stop offset="0.433" stop-color="#f3b82e"/><stop offset="0.454" stop-color="#f3b82e"/><stop offset="0.474" stop-color="#f3b82e"/><stop offset="0.495" stop-color="#f3b82e"/><stop offset="0.515" stop-color="#f3b82e"/><stop offset="0.536" stop-color="#f3b82e"/><stop offset="0.557" stop-color="#f3b82e"/><stop offset="0.577" stop-color="#f3b82e"/><stop offset="0.598" stop-color="#f3b82e"/><stop offset="0.619" stop-color="#f3b82e"/><stop offset="0.639" stop-color="#f3b82e"/><stop offset="0.660" stop-color="#f3b82e"/><stop offset="0.680" stop-color="#f3b82e"/><stop offset="0.701" stop-color="#f3b82e"/><stop offset="0.722" stop-color="#f3b82e"/><stop offset="0.732" stop-color="#f3b82e"/><stop offset="0.742" stop-color="#f3b82e"/><stop offset="0.753" stop-color="#f3b82e"/><stop offset="0.763" stop-color="#f3b82e"/><stop offset="0.773" stop-color="#f3b82e"/><stop offset="0.784" stop-color="#f3b82e"/><stop offset="0.794" stop-color="#f3b82e"/><stop offset="0.804" stop-color="#f3b82e"/><stop offset="0.814" stop-color="#f3b82e"/><stop offset="0.825" stop-color="#f3b82e"/><stop offset="0.835" stop-color="#f3b82e"/><stop offset="0.845" stop-color="#f3b82e"/><stop offset="0.856" stop-color="#f3b72e"/><stop offset="0.876" stop-color="#f3b62d"/><stop offset="0.897" stop-color="#f3b52c"/><stop offset="0.918" stop-color="#f3b32b"/><stop offset="0.938" stop-color="#f3b22a"/><stop offset="0.959" stop-color="#f3b229"/><stop offset="0.979" stop-color="#f3b229"/><stop offset="1.000" stop-color="#f3b229"/></linearGradient>
<linearGradient id="sshort37" gradientUnits="userSpaceOnUse" x1="74" y1="0" x2="268" y2="0"><stop offset="0.000" stop-color="#f2a51e"/><stop offset="0.021" stop-color="#f2a51e"/><stop offset="0.041" stop-color="#f2a51e"/><stop offset="0.062" stop-color="#f2a51e"/><stop offset="0.082" stop-color="#f2a51e"/><stop offset="0.103" stop-color="#f2a51e"/><stop offset="0.124" stop-color="#f2a51e"/><stop offset="0.144" stop-color="#f2a51f"/><stop offset="0.165" stop-color="#f2a620"/><stop offset="0.186" stop-color="#f2a821"/><stop offset="0.206" stop-color="#f2ab24"/><stop offset="0.227" stop-color="#f3ae26"/><stop offset="0.247" stop-color="#f3af27"/><stop offset="0.268" stop-color="#f3b028"/><stop offset="0.289" stop-color="#f3b028"/><stop offset="0.309" stop-color="#f3b028"/><stop offset="0.330" stop-color="#f3b028"/><stop offset="0.351" stop-color="#f3b028"/><stop offset="0.371" stop-color="#f3b028"/><stop offset="0.392" stop-color="#f3b028"/><stop offset="0.412" stop-color="#f3b028"/><stop offset="0.433" stop-color="#f3b028"/><stop offset="0.454" stop-color="#f3b028"/><stop offset="0.474" stop-color="#f3b028"/><stop offset="0.495" stop-color="#f3b028"/><stop offset="0.515" stop-color="#f3b028"/><stop offset="0.536" stop-color="#f3b028"/><stop offset="0.557" stop-color="#f3b028"/><stop offset="0.577" stop-color="#f3b028"/><stop offset="0.598" stop-color="#f3b028"/><stop offset="0.619" stop-color="#f3b028"/><stop offset="0.639" stop-color="#f3b028"/><stop offset="0.660" stop-color="#f3b028"/><stop offset="0.680" stop-color="#f3b028"/><stop offset="0.701" stop-color="#f3b028"/><stop offset="0.722" stop-color="#f3b028"/><stop offset="0.732" stop-color="#f3b028"/><stop offset="0.742" stop-color="#f3b028"/><stop offset="0.753" stop-color="#f3b028"/><stop offset="0.763" stop-color="#f3b028"/><stop offset="0.773" stop-color="#f3b028"/><stop offset="0.784" stop-color="#f3b028"/><stop offset="0.794" stop-color="#f3b028"/><stop offset="0.804" stop-color="#f3b028"/><stop offset="0.814" stop-color="#f3b028"/><stop offset="0.825" stop-color="#f3b028"/><stop offset="0.835" stop-color="#f3b028"/><stop offset="0.845" stop-color="#f3b028"/><stop offset="0.856" stop-color="#f3af27"/><stop offset="0.876" stop-color="#f3ae26"/><stop offset="0.897" stop-color="#f3ad25"/><stop offset="0.918" stop-color="#f2ab24"/><stop offset="0.938" stop-color="#f2aa23"/><stop offset="0.959" stop-color="#f2aa23"/><stop offset="0.979" stop-color="#f2aa23"/><stop offset="1.000" stop-color="#f2aa23"/></linearGradient>
<linearGradient id="sshort38" gradientUnits="userSpaceOnUse" x1="74" y1="0" x2="268" y2="0"><stop offset="0.000" stop-color="#f1a01a"/><stop offset="0.021" stop-color="#f1a01a"/><stop offset="0.041" stop-color="#f1a01a"/><stop offset="0.062" stop-color="#f1a01a"/><stop offset="0.082" stop-color="#f1a01a"/><stop offset="0.103" stop-color="#f1a01a"/><stop offset="0.124" stop-color="#f1a01a"/><stop offset="0.144" stop-color="#f1a01b"/><stop offset="0.165" stop-color="#f1a11b"/><stop offset="0.186" stop-color="#f1a21c"/><stop offset="0.206" stop-color="#f2a41e"/><stop offset="0.227" stop-color="#f2a620"/><stop offset="0.247" stop-color="#f2a821"/><stop offset="0.268" stop-color="#f2a821"/><stop offset="0.289" stop-color="#f2a821"/><stop offset="0.309" stop-color="#f2a821"/><stop offset="0.330" stop-color="#f2a821"/><stop offset="0.351" stop-color="#f2a821"/><stop offset="0.371" stop-color="#f2a821"/><stop offset="0.392" stop-color="#f2a821"/><stop offset="0.412" stop-color="#f2a821"/><stop offset="0.433" stop-color="#f2a821"/><stop offset="0.454" stop-color="#f2a821"/><stop offset="0.474" stop-color="#f2a821"/><stop offset="0.495" stop-color="#f2a821"/><stop offset="0.515" stop-color="#f2a821"/><stop offset="0.536" stop-color="#f2a821"/><stop offset="0.557" stop-color="#f2a821"/><stop offset="0.577" stop-color="#f2a821"/><stop offset="0.598" stop-color="#f2a821"/><stop offset="0.619" stop-color="#f2a821"/><stop offset="0.639" stop-color="#f2a821"/><stop offset="0.660" stop-color="#f2a821"/><stop offset="0.680" stop-color="#f2a821"/><stop offset="0.701" stop-color="#f2a821"/><stop offset="0.722" stop-color="#f2a821"/><stop offset="0.732" stop-color="#f2a821"/><stop offset="0.742" stop-color="#f2a821"/><stop offset="0.753" stop-color="#f2a821"/><stop offset="0.763" stop-color="#f2a821"/><stop offset="0.773" stop-color="#f2a821"/><stop offset="0.784" stop-color="#f2a821"/><stop offset="0.794" stop-color="#f2a821"/><stop offset="0.804" stop-color="#f2a821"/><stop offset="0.814" stop-color="#f2a821"/><stop offset="0.825" stop-color="#f2a821"/><stop offset="0.835" stop-color="#f2a821"/><stop offset="0.845" stop-color="#f2a821"/><stop offset="0.856" stop-color="#f2a721"/><stop offset="0.876" stop-color="#f2a620"/><stop offset="0.897" stop-color="#f2a51f"/><stop offset="0.918" stop-color="#f2a41e"/><stop offset="0.938" stop-color="#f2a31e"/><stop offset="0.959" stop-color="#f2a31d"/><stop offset="0.979" stop-color="#f2a31d"/><stop offset="1.000" stop-color="#f2a31d"/></linearGradient>
<linearGradient id="sshort39" gradientUnits="userSpaceOnUse" x1="74" y1="0" x2="268" y2="0"><stop offset="0.000" stop-color="#f09b17"/><stop offset="0.021" stop-color="#f09b17"/><stop offset="0.041" stop-color="#f09b17"/><stop offset="0.062" stop-color="#f09b17"/><stop offset="0.082" stop-color="#f09b17"/><stop offset="0.103" stop-color="#f09b17"/><stop offset="0.124" stop-color="#f09b17"/><stop offset="0.144" stop-color="#f09b17"/><stop offset="0.165" stop-color="#f09c17"/><stop offset="0.186" stop-color="#f09d19"/><stop offset="0.206" stop-color="#f19f1a"/><stop offset="0.227" stop-color="#f1a11b"/><stop offset="0.247" stop-color="#f1a21c"/><stop offset="0.268" stop-color="#f1a21c"/><stop offset="0.289" stop-color="#f1a21c"/><stop offset="0.309" stop-color="#f1a21c"/><stop offset="0.330" stop-color="#f1a21c"/><stop offset="0.351" stop-color="#f1a21c"/><stop offset="0.371" stop-color="#f1a21c"/><stop offset="0.392" stop-color="#f1a21c"/><stop offset="0.412" stop-color="#f1a21c"/><stop offset="0.433" stop-color="#f1a21c"/><stop offset="0.454" stop-color="#f1a21c"/><stop offset="0.474" stop-color="#f1a21c"/><stop offset="0.495" stop-color="#f1a21c"/><stop offset="0.515" stop-color="#f1a21c"/><stop offset="0.536" stop-color="#f1a21c"/><stop offset="0.557" stop-color="#f1a21c"/><stop offset="0.577" stop-color="#f1a21c"/><stop offset="0.598" stop-color="#f1a21c"/><stop offset="0.619" stop-color="#f1a21c"/><stop offset="0.639" stop-color="#f1a21c"/><stop offset="0.660" stop-color="#f1a21c"/><stop offset="0.680" stop-color="#f1a21c"/><stop offset="0.701" stop-color="#f1a21c"/><stop offset="0.722" stop-color="#f1a21c"/><stop offset="0.732" stop-color="#f1a21c"/><stop offset="0.742" stop-color="#f1a21c"/><stop offset="0.753" stop-color="#f1a21c"/><stop offset="0.763" stop-color="#f1a21c"/><stop offset="0.773" stop-color="#f1a21c"/><stop offset="0.784" stop-color="#f1a21c"/><stop offset="0.794" stop-color="#f1a21c"/><stop offset="0.804" stop-color="#f1a21c"/><stop offset="0.814" stop-color="#f1a21c"/><stop offset="0.825" stop-color="#f1a21c"/><stop offset="0.835" stop-color="#f1a21c"/><stop offset="0.845" stop-color="#f1a21c"/><stop offset="0.856" stop-color="#f1a21c"/><stop offset="0.876" stop-color="#f1a11c"/><stop offset="0.897" stop-color="#f1a01b"/><stop offset="0.918" stop-color="#f19f1a"/><stop offset="0.938" stop-color="#f19f1a"/><stop offset="0.959" stop-color="#f09e19"/><stop offset="0.979" stop-color="#f09e19"/><stop offset="1.000" stop-color="#f09e19"/></linearGradient>
<linearGradient id="sshort40" gradientUnits="userSpaceOnUse" x1="74" y1="0" x2="268" y2="0"><stop offset="0.000" stop-color="#ee9613"/><stop offset="0.021" stop-color="#ee9613"/><stop offset="0.041" stop-color="#ee9613"/><stop offset="0.062" stop-color="#ee9613"/><stop offset="0.082" stop-color="#ee9613"/><stop offset="0.103" stop-color="#ee9613"/><stop offset="0.124" stop-color="#ee9613"/><stop offset="0.144" stop-color="#ee9613"/><stop offset="0.165" stop-color="#ef9714"/><stop offset="0.186" stop-color="#ef9915"/><stop offset="0.206" stop-color="#ef9a16"/><stop offset="0.227" stop-color="#f09c17"/><stop offset="0.247" stop-color="#f09d18"/><stop offset="0.268" stop-color="#f09d19"/><stop offset="0.289" stop-color="#f09d19"/><stop offset="0.309" stop-color="#f09d19"/><stop offset="0.330" stop-color="#f09d19"/><stop offset="0.351" stop-color="#f09d19"/><stop offset="0.371" stop-color="#f09d19"/><stop offset="0.392" stop-color="#f09d19"/><stop offset="0.412" stop-color="#f09d19"/><stop offset="0.433" stop-color="#f09d19"/><stop offset="0.454" stop-color="#f09d19"/><stop offset="0.474" stop-color="#f09d19"/><stop offset="0.495" stop-color="#f09d19"/><stop offset="0.515" stop-color="#f09d19"/><stop offset="0.536" stop-color="#f09d19"/><stop offset="0.557" stop-color="#f09d19"/><stop offset="0.577" stop-color="#f09d19"/><stop offset="0.598" stop-color="#f09d19"/><stop offset="0.619" stop-color="#f09d19"/><stop offset="0.639" stop-color="#f09d19"/><stop offset="0.660" stop-color="#f09d19"/><stop offset="0.680" stop-color="#f09d19"/><stop offset="0.701" stop-color="#f09d19"/><stop offset="0.722" stop-color="#f09d19"/><stop offset="0.732" stop-color="#f09d19"/><stop offset="0.742" stop-color="#f09d19"/><stop offset="0.753" stop-color="#f09d19"/><stop offset="0.763" stop-color="#f09d19"/><stop offset="0.773" stop-color="#f09d19"/><stop offset="0.784" stop-color="#f09d19"/><stop offset="0.794" stop-color="#f09d19"/><stop offset="0.804" stop-color="#f09d19"/><stop offset="0.814" stop-color="#f09d19"/><stop offset="0.825" stop-color="#f09d19"/><stop offset="0.835" stop-color="#f09d19"/><stop offset="0.845" stop-color="#f09d18"/><stop offset="0.856" stop-color="#f09d18"/><stop offset="0.876" stop-color="#f09c18"/><stop offset="0.897" stop-color="#f09b17"/><stop offset="0.918" stop-color="#ef9b16"/><stop offset="0.938" stop-color="#ef9a16"/><stop offset="0.959" stop-color="#ef9a16"/><stop offset="0.979" stop-color="#ef9a16"/><stop offset="1.000" stop-color="#ef9a16"/></linearGradient>
<linearGradient id="sshort41" gradientUnits="userSpaceOnUse" x1="74" y1="0" x2="268" y2="0"><stop offset="0.000" stop-color="#ed920f"/><stop offset="0.021" stop-color="#ed920f"/><stop offset="0.041" stop-color="#ed920f"/><stop offset="0.062" stop-color="#ed920f"/><stop offset="0.082" stop-color="#ed920f"/><stop offset="0.103" stop-color="#ed920f"/><stop offset="0.124" stop-color="#ed920f"/><stop offset="0.144" stop-color="#ed920f"/><stop offset="0.165" stop-color="#ed9310"/><stop offset="0.186" stop-color="#ee9411"/><stop offset="0.206" stop-color="#ee9612"/><stop offset="0.227" stop-color="#ef9714"/><stop offset="0.247" stop-color="#ef9814"/><stop offset="0.268" stop-color="#ef9915"/><stop offset="0.289" stop-color="#ef9915"/><stop offset="0.309" stop-color="#ef9915"/><stop offset="0.330" stop-color="#ef9915"/><stop offset="0.351" stop-color="#ef9915"/><stop offset="0.371" stop-color="#ef9915"/><stop offset="0.392" stop-color="#ef9915"/><stop offset="0.412" stop-color="#ef9915"/><stop offset="0.433" stop-color="#ef9915"/><stop offset="0.454" stop-color="#ef9915"/><stop offset="0.474" stop-color="#ef9915"/><stop offset="0.495" stop-color="#ef9915"/><stop offset="0.515" stop-color="#ef9915"/><stop offset="0.536" stop-color="#ef9915"/><stop offset="0.557" stop-color="#ef9915"/><stop offset="0.577" stop-color="#ef9915"/><stop offset="0.598" stop-color="#ef9915"/><stop offset="0.619" stop-color="#ef9915"/><stop offset="0.639" stop-color="#ef9915"/><stop offset="0.660" stop-color="#ef9915"/><stop offset="0.680" stop-color="#ef9915"/><stop offset="0.701" stop-color="#ef9915"/><stop offset="0.722" stop-color="#ef9915"/><stop offset="0.732" stop-color="#ef9915"/><stop offset="0.742" stop-color="#ef9915"/><stop offset="0.753" stop-color="#ef9915"/><stop offset="0.763" stop-color="#ef9915"/><stop offset="0.773" stop-color="#ef9915"/><stop offset="0.784" stop-color="#ef9915"/><stop offset="0.794" stop-color="#ef9915"/><stop offset="0.804" stop-color="#ef9915"/><stop offset="0.814" stop-color="#ef9915"/><stop offset="0.825" stop-color="#ef9915"/><stop offset="0.835" stop-color="#ef9915"/><stop offset="0.845" stop-color="#ef9815"/><stop offset="0.856" stop-color="#ef9814"/><stop offset="0.876" stop-color="#ef9814"/><stop offset="0.897" stop-color="#ee9713"/><stop offset="0.918" stop-color="#ee9612"/><stop offset="0.938" stop-color="#ee9512"/><stop offset="0.959" stop-color="#ee9512"/><stop offset="0.979" stop-color="#ee9512"/><stop offset="1.000" stop-color="#ee9512"/></linearGradient>
<linearGradient id="sshort42" gradientUnits="userSpaceOnUse" x1="74" y1="0" x2="268" y2="0"><stop offset="0.000" stop-color="#ea8d0c"/><stop offset="0.021" stop-color="#ea8d0c"/><stop offset="0.041" stop-color="#ea8d0c"/><stop offset="0.062" stop-color="#ea8d0c"/><stop offset="0.082" stop-color="#ea8d0c"/><stop offset="0.103" stop-color="#ea8d0c"/><stop offset="0.124" stop-color="#ea8d0c"/><stop offset="0.144" stop-color="#eb8d0c"/><stop offset="0.165" stop-color="#ec8e0c"/><stop offset="0.186" stop-color="#ec900d"/><stop offset="0.206" stop-color="#ed910f"/><stop offset="0.227" stop-color="#ed9310"/><stop offset="0.247" stop-color="#ee9411"/><stop offset="0.268" stop-color="#ee9411"/><stop offset="0.289" stop-color="#ee9411"/><stop offset="0.309" stop-color="#ee9411"/><stop offset="0.330" stop-color="#ee9411"/><stop offset="0.351" stop-color="#ee9411"/><stop offset="0.371" stop-color="#ee9411"/><stop offset="0.392" stop-color="#ee9411"/><stop offset="0.412" stop-color="#ee9411"/><stop offset="0.433" stop-color="#ee9411"/><stop offset="0.454" stop-color="#ee9411"/><stop offset="0.474" stop-color="#ee9411"/><stop offset="0.495" stop-color="#ee9411"/><stop offset="0.515" stop-color="#ee9411"/><stop offset="0.536" stop-color="#ee9411"/><stop offset="0.557" stop-color="#ee9411"/><stop offset="0.577" stop-color="#ee9411"/><stop offset="0.598" stop-color="#ee9411"/><stop offset="0.619" stop-color="#ee9411"/><stop offset="0.639" stop-color="#ee9411"/><stop offset="0.660" stop-color="#ee9411"/><stop offset="0.680" stop-color="#ee9411"/><stop offset="0.701" stop-color="#ee9411"/><stop offset="0.722" stop-color="#ee9411"/><stop offset="0.732" stop-color="#ee9411"/><stop offset="0.742" stop-color="#ee9411"/><stop offset="0.753" stop-color="#ee9411"/><stop offset="0.763" stop-color="#ee9411"/><stop offset="0.773" stop-color="#ee9411"/><stop offset="0.784" stop-color="#ee9411"/><stop offset="0.794" stop-color="#ee9411"/><stop offset="0.804" stop-color="#ee9411"/><stop offset="0.814" stop-color="#ee9411"/><stop offset="0.825" stop-color="#ee9411"/><stop offset="0.835" stop-color="#ee9411"/><stop offset="0.845" stop-color="#ee9411"/><stop offset="0.856" stop-color="#ee9411"/><stop offset="0.876" stop-color="#ed9310"/><stop offset="0.897" stop-color="#ed920f"/><stop offset="0.918" stop-color="#ed910f"/><stop offset="0.938" stop-color="#ed910e"/><stop offset="0.959" stop-color="#ed910e"/><stop offset="0.979" stop-color="#ed910e"/><stop offset="1.000" stop-color="#ed910e"/></linearGradient>
<linearGradient id="sshort43" gradientUnits="userSpaceOnUse" x1="74" y1="0" x2="268" y2="0"><stop offset="0.000" stop-color="#e3860d"/><stop offset="0.021" stop-color="#e3860d"/><stop offset="0.041" stop-color="#e3860d"/><stop offset="0.062" stop-color="#e3860d"/><stop offset="0.082" stop-color="#e3860d"/><stop offset="0.103" stop-color="#e3860d"/><stop offset="0.124" stop-color="#e3860d"/><stop offset="0.144" stop-color="#e3870d"/><stop offset="0.165" stop-color="#e5880d"/><stop offset="0.186" stop-color="#e78a0d"/><stop offset="0.206" stop-color="#ea8c0c"/><stop offset="0.227" stop-color="#ec8e0c"/><stop offset="0.247" stop-color="#ec8f0d"/><stop offset="0.268" stop-color="#ec8f0d"/><stop offset="0.289" stop-color="#ec8f0d"/><stop offset="0.309" stop-color="#ec8f0d"/><stop offset="0.330" stop-color="#ec8f0d"/><stop offset="0.351" stop-color="#ec8f0d"/><stop offset="0.371" stop-color="#ec8f0d"/><stop offset="0.392" stop-color="#ec8f0d"/><stop offset="0.412" stop-color="#ec8f0d"/><stop offset="0.433" stop-color="#ec8f0d"/><stop offset="0.454" stop-color="#ec8f0d"/><stop offset="0.474" stop-color="#ec8f0d"/><stop offset="0.495" stop-color="#ec8f0d"/><stop offset="0.515" stop-color="#ec8f0d"/><stop offset="0.536" stop-color="#ec8f0d"/><stop offset="0.557" stop-color="#ec8f0d"/><stop offset="0.577" stop-color="#ec8f0d"/><stop offset="0.598" stop-color="#ec8f0d"/><stop offset="0.619" stop-color="#ec8f0d"/><stop offset="0.639" stop-color="#ec8f0d"/><stop offset="0.660" stop-color="#ec8f0d"/><stop offset="0.680" stop-color="#ec8f0d"/><stop offset="0.701" stop-color="#ec8f0d"/><stop offset="0.722" stop-color="#ec8f0d"/><stop offset="0.732" stop-color="#ec8f0d"/><stop offset="0.742" stop-color="#ec8f0d"/><stop offset="0.753" stop-color="#ec8f0d"/><stop offset="0.763" stop-color="#ec8f0d"/><stop offset="0.773" stop-color="#ec8f0d"/><stop offset="0.784" stop-color="#ec8f0d"/><stop offset="0.794" stop-color="#ec8f0d"/><stop offset="0.804" stop-color="#ec8f0d"/><stop offset="0.814" stop-color="#ec8f0d"/><stop offset="0.825" stop-color="#ec8f0d"/><stop offset="0.835" stop-color="#ec8f0d"/><stop offset="0.845" stop-color="#ec8f0d"/><stop offset="0.856" stop-color="#ec8f0d"/><stop offset="0.876" stop-color="#ec8e0c"/><stop offset="0.897" stop-color="#eb8d0c"/><stop offset="0.918" stop-color="#ea8c0c"/><stop offset="0.938" stop-color="#e98c0c"/><stop offset="0.959" stop-color="#e98b0c"/><stop offset="0.979" stop-color="#e98b0c"/><stop offset="1.000" stop-color="#e98b0c"/></linearGradient>
<linearGradient id="sshort44" gradientUnits="userSpaceOnUse" x1="74" y1="0" x2="268" y2="0"><stop offset="0.000" stop-color="#dc810e"/><stop offset="0.021" stop-color="#dc810e"/><stop offset="0.041" stop-color="#dc810e"/><stop offset="0.062" stop-color="#dc810e"/><stop offset="0.082" stop-color="#dc810e"/><stop offset="0.103" stop-color="#dc810e"/><stop offset="0.124" stop-color="#dc810e"/><stop offset="0.144" stop-color="#dc810e"/><stop offset="0.165" stop-color="#de820e"/><stop offset="0.186" stop-color="#e0840d"/><stop offset="0.206" stop-color="#e2860d"/><stop offset="0.227" stop-color="#e5880d"/><stop offset="0.247" stop-color="#e6890d"/><stop offset="0.268" stop-color="#e78a0d"/><stop offset="0.289" stop-color="#e78a0d"/><stop offset="0.309" stop-color="#e78a0d"/><stop offset="0.330" stop-color="#e78a0d"/><stop offset="0.351" stop-color="#e78a0d"/><stop offset="0.371" stop-color="#e78a0d"/><stop offset="0.392" stop-color="#e78a0d"/><stop offset="0.412" stop-color="#e78a0d"/><stop offset="0.433" stop-color="#e78a0d"/><stop offset="0.454" stop-color="#e78a0d"/><stop offset="0.474" stop-color="#e78a0d"/><stop offset="0.495" stop-color="#e78a0d"/><stop offset="0.515" stop-color="#e78a0d"/><stop offset="0.536" stop-color="#e78a0d"/><stop offset="0.557" stop-color="#e78a0d"/><stop offset="0.577" stop-color="#e78a0d"/><stop offset="0.598" stop-color="#e78a0d"/><stop offset="0.619" stop-color="#e78a0d"/><stop offset="0.639" stop-color="#e78a0d"/><stop offset="0.660" stop-color="#e78a0d"/><stop offset="0.680" stop-color="#e78a0d"/><stop offset="0.701" stop-color="#e78a0d"/><stop offset="0.722" stop-color="#e78a0d"/><stop offset="0.732" stop-color="#e78a0d"/><stop offset="0.742" stop-color="#e78a0d"/><stop offset="0.753" stop-color="#e78a0d"/><stop offset="0.763" stop-color="#e78a0d"/><stop offset="0.773" stop-color="#e78a0d"/><stop offset="0.784" stop-color="#e78a0d"/><stop offset="0.794" stop-color="#e78a0d"/><stop offset="0.804" stop-color="#e78a0d"/><stop offset="0.814" stop-color="#e78a0d"/><stop offset="0.825" stop-color="#e78a0d"/><stop offset="0.835" stop-color="#e78a0d"/><stop offset="0.845" stop-color="#e7890d"/><stop offset="0.856" stop-color="#e6890d"/><stop offset="0.876" stop-color="#e5880d"/><stop offset="0.897" stop-color="#e4870d"/><stop offset="0.918" stop-color="#e3860d"/><stop offset="0.938" stop-color="#e2850d"/><stop offset="0.959" stop-color="#e1850d"/><stop offset="0.979" stop-color="#e1850d"/><stop offset="1.000" stop-color="#e1850d"/></linearGradient>
<linearGradient id="sshort45" gradientUnits="userSpaceOnUse" x1="74" y1="0" x2="268" y2="0"><stop offset="0.000" stop-color="#d57b0f"/><stop offset="0.021" stop-color="#d57b0f"/><stop offset="0.041" stop-color="#d57b0f"/><stop offset="0.062" stop-color="#d57b0f"/><stop offset="0.082" stop-color="#d57b0f"/><stop offset="0.103" stop-color="#d57b0f"/><stop offset="0.124" stop-color="#d57b0f"/><stop offset="0.144" stop-color="#d67b0e"/><stop offset="0.165" stop-color="#d77c0e"/><stop offset="0.186" stop-color="#d97e0e"/><stop offset="0.206" stop-color="#db800e"/><stop offset="0.227" stop-color="#de820e"/><stop offset="0.247" stop-color="#df830d"/><stop offset="0.268" stop-color="#e0840d"/><stop offset="0.289" stop-color="#e0840d"/><stop offset="0.309" stop-color="#e0840d"/><stop offset="0.330" stop-color="#e0840d"/><stop offset="0.351" stop-color="#e0840d"/><stop offset="0.371" stop-color="#e0840d"/><stop offset="0.392" stop-color="#e0840d"/><stop offset="0.412" stop-color="#e0840d"/><stop offset="0.433" stop-color="#e0840d"/><stop offset="0.454" stop-color="#e0840d"/><stop offset="0.474" stop-color="#e0840d"/><stop offset="0.495" stop-color="#e0840d"/><stop offset="0.515" stop-color="#e0840d"/><stop offset="0.536" stop-color="#e0840d"/><stop offset="0.557" stop-color="#e0840d"/><stop offset="0.577" stop-color="#e0840d"/><stop offset="0.598" stop-color="#e0840d"/><stop offset="0.619" stop-color="#e0840d"/><stop offset="0.639" stop-color="#e0840d"/><stop offset="0.660" stop-color="#e0840d"/><stop offset="0.680" stop-color="#e0840d"/><stop offset="0.701" stop-color="#e0840d"/><stop offset="0.722" stop-color="#e0840d"/><stop offset="0.732" stop-color="#e0840d"/><stop offset="0.742" stop-color="#e0840d"/><stop offset="0.753" stop-color="#e0840d"/><stop offset="0.763" stop-color="#e0840d"/><stop offset="0.773" stop-color="#e0840d"/><stop offset="0.784" stop-color="#e0840d"/><stop offset="0.794" stop-color="#e0840d"/><stop offset="0.804" stop-color="#e0840d"/><stop offset="0.814" stop-color="#e0840d"/><stop offset="0.825" stop-color="#e0840d"/><stop offset="0.835" stop-color="#e0840d"/><stop offset="0.845" stop-color="#df840d"/><stop offset="0.856" stop-color="#df830d"/><stop offset="0.876" stop-color="#de820e"/><stop offset="0.897" stop-color="#dd810e"/><stop offset="0.918" stop-color="#dc800e"/><stop offset="0.938" stop-color="#db800e"/><stop offset="0.959" stop-color="#db7f0e"/><stop offset="0.979" stop-color="#db7f0e"/><stop offset="1.000" stop-color="#db7f0e"/></linearGradient>
<linearGradient id="sshort46" gradientUnits="userSpaceOnUse" x1="74" y1="0" x2="268" y2="0"><stop offset="0.000" stop-color="#cf760f"/><stop offset="0.021" stop-color="#cf760f"/><stop offset="0.041" stop-color="#cf760f"/><stop offset="0.062" stop-color="#cf760f"/><stop offset="0.082" stop-color="#cf760f"/><stop offset="0.103" stop-color="#cf760f"/><stop offset="0.124" stop-color="#cf760f"/><stop offset="0.144" stop-color="#cf760f"/><stop offset="0.165" stop-color="#d0770f"/><stop offset="0.186" stop-color="#d2780f"/><stop offset="0.206" stop-color="#d47a0f"/><stop offset="0.227" stop-color="#d77c0e"/><stop offset="0.247" stop-color="#d87e0e"/><stop offset="0.268" stop-color="#d97e0e"/><stop offset="0.289" stop-color="#d97e0e"/><stop offset="0.309" stop-color="#d97e0e"/><stop offset="0.330" stop-color="#d97e0e"/><stop offset="0.351" stop-color="#d97e0e"/><stop offset="0.371" stop-color="#d97e0e"/><stop offset="0.392" stop-color="#d97e0e"/><stop offset="0.412" stop-color="#d97e0e"/><stop offset="0.433" stop-color="#d97e0e"/><stop offset="0.454" stop-color="#d97e0e"/><stop offset="0.474" stop-color="#d97e0e"/><stop offset="0.495" stop-color="#d97e0e"/><stop offset="0.515" stop-color="#d97e0e"/><stop offset="0.536" stop-color="#d97e0e"/><stop offset="0.557" stop-color="#d97e0e"/><stop offset="0.577" stop-color="#d97e0e"/><stop offset="0.598" stop-color="#d97e0e"/><stop offset="0.619" stop-color="#d97e0e"/><stop offset="0.639" stop-color="#d97e0e"/><stop offset="0.660" stop-color="#d97e0e"/><stop offset="0.680" stop-color="#d97e0e"/><stop offset="0.701" stop-color="#d97e0e"/><stop offset="0.722" stop-color="#d97e0e"/><stop offset="0.732" stop-color="#d97e0e"/><stop offset="0.742" stop-color="#d97e0e"/><stop offset="0.753" stop-color="#d97e0e"/><stop offset="0.763" stop-color="#d97e0e"/><stop offset="0.773" stop-color="#d97e0e"/><stop offset="0.784" stop-color="#d97e0e"/><stop offset="0.794" stop-color="#d97e0e"/><stop offset="0.804" stop-color="#d97e0e"/><stop offset="0.814" stop-color="#d97e0e"/><stop offset="0.825" stop-color="#d97e0e"/><stop offset="0.835" stop-color="#d97e0e"/><stop offset="0.845" stop-color="#d97e0e"/><stop offset="0.856" stop-color="#d87e0e"/><stop offset="0.876" stop-color="#d77d0e"/><stop offset="0.897" stop-color="#d67c0e"/><stop offset="0.918" stop-color="#d57b0f"/><stop offset="0.938" stop-color="#d47a0f"/><stop offset="0.959" stop-color="#d47a0f"/><stop offset="0.979" stop-color="#d47a0f"/><stop offset="1.000" stop-color="#d47a0f"/></linearGradient>
<linearGradient id="sshort47" gradientUnits="userSpaceOnUse" x1="74" y1="0" x2="268" y2="0"><stop offset="0.000" stop-color="#c77010"/><stop offset="0.021" stop-color="#c77010"/><stop offset="0.041" stop-color="#c77010"/><stop offset="0.062" stop-color="#c77010"/><stop offset="0.082" stop-color="#c77010"/><stop offset="0.103" stop-color="#c77010"/><stop offset="0.124" stop-color="#c77010"/><stop offset="0.144" stop-color="#c77010"/><stop offset="0.165" stop-color="#c97010"/><stop offset="0.186" stop-color="#ca7210"/><stop offset="0.206" stop-color="#cc7310"/><stop offset="0.227" stop-color="#ce750f"/><stop offset="0.247" stop-color="#d0770f"/><stop offset="0.268" stop-color="#d1780f"/><stop offset="0.289" stop-color="#d2780f"/><stop offset="0.309" stop-color="#d2780f"/><stop offset="0.330" stop-color="#d2780f"/><stop offset="0.351" stop-color="#d2780f"/><stop offset="0.371" stop-color="#d2780f"/><stop offset="0.392" stop-color="#d2780f"/><stop offset="0.412" stop-color="#d2780f"/><stop offset="0.433" stop-color="#d2780f"/><stop offset="0.454" stop-color="#d2780f"/><stop offset="0.474" stop-color="#d2780f"/><stop offset="0.495" stop-color="#d2780f"/><stop offset="0.515" stop-color="#d2780f"/><stop offset="0.536" stop-color="#d2780f"/><stop offset="0.557" stop-color="#d2780f"/><stop offset="0.577" stop-color="#d2780f"/><stop offset="0.598" stop-color="#d2780f"/><stop offset="0.619" stop-color="#d2780f"/><stop offset="0.639" stop-color="#d2780f"/><stop offset="0.660" stop-color="#d2780f"/><stop offset="0.680" stop-color="#d2780f"/><stop offset="0.701" stop-color="#d2780f"/><stop offset="0.722" stop-color="#d2780f"/><stop offset="0.732" stop-color="#d2780f"/><stop offset="0.742" stop-color="#d2780f"/><stop offset="0.753" stop-color="#d2780f"/><stop offset="0.763" stop-color="#d2780f"/><stop offset="0.773" stop-color="#d2780f"/><stop offset="0.784" stop-color="#d2780f"/><stop offset="0.794" stop-color="#d2780f"/><stop offset="0.804" stop-color="#d2780f"/><stop offset="0.814" stop-color="#d2780f"/><stop offset="0.825" stop-color="#d2780f"/><stop offset="0.835" stop-color="#d2780f"/><stop offset="0.845" stop-color="#d2780f"/><stop offset="0.856" stop-color="#d2780f"/><stop offset="0.876" stop-color="#d1770f"/><stop offset="0.897" stop-color="#cf760f"/><stop offset="0.918" stop-color="#ce750f"/><stop offset="0.938" stop-color="#cd740f"/><stop offset="0.959" stop-color="#cd740f"/><stop offset="0.979" stop-color="#cd740f"/><stop offset="1.000" stop-color="#cd740f"/></linearGradient>
<linearGradient id="sshort48" gradientUnits="userSpaceOnUse" x1="74" y1="0" x2="268" y2="0"><stop offset="0.000" stop-color="#bd6a10"/><stop offset="0.021" stop-color="#bd6a10"/><stop offset="0.041" stop-color="#bd6a10"/><stop offset="0.062" stop-color="#bd6a10"/><stop offset="0.082" stop-color="#bd6a10"/><stop offset="0.103" stop-color="#bd6a10"/><stop offset="0.124" stop-color="#bd6a10"/><stop offset="0.144" stop-color="#bc6a10"/><stop offset="0.165" stop-color="#bc6a10"/><stop offset="0.186" stop-color="#bd6a10"/><stop offset="0.206" stop-color="#bd6b10"/><stop offset="0.227" stop-color="#c06c10"/><stop offset="0.247" stop-color="#c46e10"/><stop offset="0.268" stop-color="#c87010"/><stop offset="0.289" stop-color="#ca7210"/><stop offset="0.309" stop-color="#cb7210"/><stop offset="0.330" stop-color="#cb7310"/><stop offset="0.351" stop-color="#cb7310"/><stop offset="0.371" stop-color="#cb7310"/><stop offset="0.392" stop-color="#cb7310"/><stop offset="0.412" stop-color="#cb7310"/><stop offset="0.433" stop-color="#cb7310"/><stop offset="0.454" stop-color="#cb7310"/><stop offset="0.474" stop-color="#cb7310"/><stop offset="0.495" stop-color="#cb7310"/><stop offset="0.515" stop-color="#cb7310"/><stop offset="0.536" stop-color="#cb7310"/><stop offset="0.557" stop-color="#cb7310"/><stop offset="0.577" stop-color="#cb7310"/><stop offset="0.598" stop-color="#cb7310"/><stop offset="0.619" stop-color="#cb7310"/><stop offset="0.639" stop-color="#cb7310"/><stop offset="0.660" stop-color="#cb7310"/><stop offset="0.680" stop-color="#cb7310"/><stop offset="0.701" stop-color="#cb7310"/><stop offset="0.722" stop-color="#cb7310"/><stop offset="0.732" stop-color="#cb7310"/><stop offset="0.742" stop-color="#cb7310"/><stop offset="0.753" stop-color="#cb7310"/><stop offset="0.763" stop-color="#cb7310"/><stop offset="0.773" stop-color="#cb7310"/><stop offset="0.784" stop-color="#cb7310"/><stop offset="0.794" stop-color="#cb7310"/><stop offset="0.804" stop-color="#cb7310"/><stop offset="0.814" stop-color="#cb7310"/><stop offset="0.825" stop-color="#cb7310"/><stop offset="0.835" stop-color="#cb7310"/><stop offset="0.845" stop-color="#cb7210"/><stop offset="0.856" stop-color="#cb7210"/><stop offset="0.876" stop-color="#ca7110"/><stop offset="0.897" stop-color="#c87010"/><stop offset="0.918" stop-color="#c76f10"/><stop offset="0.938" stop-color="#c56f10"/><stop offset="0.959" stop-color="#c56e10"/><stop offset="0.979" stop-color="#c56e10"/><stop offset="1.000" stop-color="#c56e10"/></linearGradient>
<linearGradient id="sshort49" gradientUnits="userSpaceOnUse" x1="74" y1="0" x2="268" y2="0"><stop offset="0.000" stop-color="#b16410"/><stop offset="0.021" stop-color="#b16410"/><stop offset="0.041" stop-color="#b16410"/><stop offset="0.062" stop-color="#b16410"/><stop offset="0.082" stop-color="#b16410"/><stop offset="0.103" stop-color="#b16410"/><stop offset="0.124" stop-color="#b06410"/><stop offset="0.144" stop-color="#af6310"/><stop offset="0.165" stop-color="#ae630f"/><stop offset="0.186" stop-color="#ac620f"/><stop offset="0.206" stop-color="#a9610f"/><stop offset="0.227" stop-color="#ab620f"/><stop offset="0.247" stop-color="#b26510"/><stop offset="0.268" stop-color="#b96910"/><stop offset="0.289" stop-color="#be6b10"/><stop offset="0.309" stop-color="#c16d10"/><stop offset="0.330" stop-color="#c26d10"/><stop offset="0.351" stop-color="#c26d10"/><stop offset="0.371" stop-color="#c26d10"/><stop offset="0.392" stop-color="#c26d10"/><stop offset="0.412" stop-color="#c26d10"/><stop offset="0.433" stop-color="#c26d10"/><stop offset="0.454" stop-color="#c26d10"/><stop offset="0.474" stop-color="#c26d10"/><stop offset="0.495" stop-color="#c26d10"/><stop offset="0.515" stop-color="#c26d10"/><stop offset="0.536" stop-color="#c26d10"/><stop offset="0.557" stop-color="#c26d10"/><stop offset="0.577" stop-color="#c26d10"/><stop offset="0.598" stop-color="#c26d10"/><stop offset="0.619" stop-color="#c26d10"/><stop offset="0.639" stop-color="#c26d10"/><stop offset="0.660" stop-color="#c26d10"/><stop offset="0.680" stop-color="#c26d10"/><stop offset="0.701" stop-color="#c26d10"/><stop offset="0.722" stop-color="#c26d10"/><stop offset="0.732" stop-color="#c26d10"/><stop offset="0.742" stop-color="#c26d10"/><stop offset="0.753" stop-color="#c26d10"/><stop offset="0.763" stop-color="#c26d10"/><stop offset="0.773" stop-color="#c26d10"/><stop offset="0.784" stop-color="#c26d10"/><stop offset="0.794" stop-color="#c26d10"/><stop offset="0.804" stop-color="#c26d10"/><stop offset="0.814" stop-color="#c26d10"/><stop offset="0.825" stop-color="#c26d10"/><stop offset="0.835" stop-color="#c26d10"/><stop offset="0.845" stop-color="#c26d10"/><stop offset="0.856" stop-color="#c16d10"/><stop offset="0.876" stop-color="#c06c10"/><stop offset="0.897" stop-color="#be6b10"/><stop offset="0.918" stop-color="#bc6a10"/><stop offset="0.938" stop-color="#bb6910"/><stop offset="0.959" stop-color="#ba6910"/><stop offset="0.979" stop-color="#ba6910"/><stop offset="1.000" stop-color="#ba6910"/></linearGradient>
<linearGradient id="sshort50" gradientUnits="userSpaceOnUse" x1="74" y1="0" x2="268" y2="0"><stop offset="0.000" stop-color="#a35d0f"/><stop offset="0.021" stop-color="#a35d0f"/><stop offset="0.041" stop-color="#a35d0f"/><stop offset="0.062" stop-color="#a35d0f"/><stop offset="0.082" stop-color="#a35d0f"/><stop offset="0.103" stop-color="#a25d0f"/><stop offset="0.124" stop-color="#a25d0f"/><stop offset="0.144" stop-color="#a05c0f"/><stop offset="0.165" stop-color="#9e5b0f"/><stop offset="0.186" stop-color="#9a590f"/><stop offset="0.206" stop-color="#97580f"/><stop offset="0.227" stop-color="#9a590f"/><stop offset="0.247" stop-color="#a35d0f"/><stop offset="0.268" stop-color="#ac620f"/><stop offset="0.289" stop-color="#b36510"/><stop offset="0.309" stop-color="#b66710"/><stop offset="0.330" stop-color="#b76810"/><stop offset="0.351" stop-color="#b86810"/><stop offset="0.371" stop-color="#b86810"/><stop offset="0.392" stop-color="#b86810"/><stop offset="0.412" stop-color="#b86810"/><stop offset="0.433" stop-color="#b86810"/><stop offset="0.454" stop-color="#b86810"/><stop offset="0.474" stop-color="#b86810"/><stop offset="0.495" stop-color="#b86810"/><stop offset="0.515" stop-color="#b86810"/><stop offset="0.536" stop-color="#b86810"/><stop offset="0.557" stop-color="#b86810"/><stop offset="0.577" stop-color="#b86810"/><stop offset="0.598" stop-color="#b86810"/><stop offset="0.619" stop-color="#b86810"/><stop offset="0.639" stop-color="#b86810"/><stop offset="0.660" stop-color="#b86810"/><stop offset="0.680" stop-color="#b86810"/><stop offset="0.701" stop-color="#b86810"/><stop offset="0.722" stop-color="#b86810"/><stop offset="0.732" stop-color="#b86810"/><stop offset="0.742" stop-color="#b86810"/><stop offset="0.753" stop-color="#b86810"/><stop offset="0.763" stop-color="#b86810"/><stop offset="0.773" stop-color="#b86810"/><stop offset="0.784" stop-color="#b86810"/><stop offset="0.794" stop-color="#b86810"/><stop offset="0.804" stop-color="#b86810"/><stop offset="0.814" stop-color="#b86810"/><stop offset="0.825" stop-color="#b86810"/><stop offset="0.835" stop-color="#b86810"/><stop offset="0.845" stop-color="#b76810"/><stop offset="0.856" stop-color="#b76710"/><stop offset="0.876" stop-color="#b56610"/><stop offset="0.897" stop-color="#b26510"/><stop offset="0.918" stop-color="#b06410"/><stop offset="0.938" stop-color="#ae630f"/><stop offset="0.959" stop-color="#ad630f"/><stop offset="0.979" stop-color="#ad630f"/><stop offset="1.000" stop-color="#ad630f"/></linearGradient>
<linearGradient id="sshort51" gradientUnits="userSpaceOnUse" x1="74" y1="0" x2="268" y2="0"><stop offset="0.000" stop-color="#95560f"/><stop offset="0.021" stop-color="#95560f"/><stop offset="0.041" stop-color="#95560f"/><stop offset="0.062" stop-color="#95560f"/><stop offset="0.082" stop-color="#95560f"/><stop offset="0.103" stop-color="#94560f"/><stop offset="0.124" stop-color="#94560f"/><stop offset="0.144" stop-color="#92550f"/><stop offset="0.165" stop-color="#91540f"/><stop offset="0.186" stop-color="#8e530f"/><stop offset="0.206" stop-color="#8d520f"/><stop offset="0.227" stop-color="#91540f"/><stop offset="0.247" stop-color="#99590f"/><stop offset="0.268" stop-color="#a15c0f"/><stop offset="0.289" stop-color="#a65f0f"/><stop offset="0.309" stop-color="#a9600f"/><stop offset="0.330" stop-color="#a9610f"/><stop offset="0.351" stop-color="#aa610f"/><stop offset="0.371" stop-color="#aa610f"/><stop offset="0.392" stop-color="#aa610f"/><stop offset="0.412" stop-color="#aa610f"/><stop offset="0.433" stop-color="#aa610f"/><stop offset="0.454" stop-color="#aa610f"/><stop offset="0.474" stop-color="#aa610f"/><stop offset="0.495" stop-color="#aa610f"/><stop offset="0.515" stop-color="#aa610f"/><stop offset="0.536" stop-color="#aa610f"/><stop offset="0.557" stop-color="#aa610f"/><stop offset="0.577" stop-color="#aa610f"/><stop offset="0.598" stop-color="#aa610f"/><stop offset="0.619" stop-color="#aa610f"/><stop offset="0.639" stop-color="#aa610f"/><stop offset="0.660" stop-color="#aa610f"/><stop offset="0.680" stop-color="#aa610f"/><stop offset="0.701" stop-color="#aa610f"/><stop offset="0.722" stop-color="#aa610f"/><stop offset="0.732" stop-color="#aa610f"/><stop offset="0.742" stop-color="#aa610f"/><stop offset="0.753" stop-color="#aa610f"/><stop offset="0.763" stop-color="#aa610f"/><stop offset="0.773" stop-color="#aa610f"/><stop offset="0.784" stop-color="#aa610f"/><stop offset="0.794" stop-color="#aa610f"/><stop offset="0.804" stop-color="#aa610f"/><stop offset="0.814" stop-color="#aa610f"/><stop offset="0.825" stop-color="#aa610f"/><stop offset="0.835" stop-color="#aa610f"/><stop offset="0.845" stop-color="#a9610f"/><stop offset="0.856" stop-color="#a9600f"/><stop offset="0.876" stop-color="#a75f0f"/><stop offset="0.897" stop-color="#a45e0f"/><stop offset="0.918" stop-color="#a25d0f"/><stop offset="0.938" stop-color="#a05c0f"/><stop offset="0.959" stop-color="#9f5c0f"/><stop offset="0.979" stop-color="#9f5c0f"/><stop offset="1.000" stop-color="#9f5c0f"/></linearGradient>
<linearGradient id="sshort52" gradientUnits="userSpaceOnUse" x1="74" y1="0" x2="268" y2="0"><stop offset="0.000" stop-color="#824c0e"/><stop offset="0.021" stop-color="#824c0e"/><stop offset="0.041" stop-color="#824c0e"/><stop offset="0.062" stop-color="#824c0e"/><stop offset="0.082" stop-color="#824c0e"/><stop offset="0.103" stop-color="#824c0e"/><stop offset="0.124" stop-color="#814c0e"/><stop offset="0.144" stop-color="#814c0e"/><stop offset="0.165" stop-color="#824c0e"/><stop offset="0.186" stop-color="#844d0e"/><stop offset="0.206" stop-color="#874f0e"/><stop offset="0.227" stop-color="#8c520f"/><stop offset="0.247" stop-color="#93550f"/><stop offset="0.268" stop-color="#97580f"/><stop offset="0.289" stop-color="#9a590f"/><stop offset="0.309" stop-color="#9b5a0f"/><stop offset="0.330" stop-color="#9b5a0f"/><stop offset="0.351" stop-color="#9c5a0f"/><stop offset="0.371" stop-color="#9c5a0f"/><stop offset="0.392" stop-color="#9c5a0f"/><stop offset="0.412" stop-color="#9c5a0f"/><stop offset="0.433" stop-color="#9c5a0f"/><stop offset="0.454" stop-color="#9c5a0f"/><stop offset="0.474" stop-color="#9c5a0f"/><stop offset="0.495" stop-color="#9c5a0f"/><stop offset="0.515" stop-color="#9c5a0f"/><stop offset="0.536" stop-color="#9c5a0f"/><stop offset="0.557" stop-color="#9c5a0f"/><stop offset="0.577" stop-color="#9c5a0f"/><stop offset="0.598" stop-color="#9c5a0f"/><stop offset="0.619" stop-color="#9c5a0f"/><stop offset="0.639" stop-color="#9c5a0f"/><stop offset="0.660" stop-color="#9c5a0f"/><stop offset="0.680" stop-color="#9c5a0f"/><stop offset="0.701" stop-color="#9c5a0f"/><stop offset="0.722" stop-color="#9c5a0f"/><stop offset="0.732" stop-color="#9c5a0f"/><stop offset="0.742" stop-color="#9c5a0f"/><stop offset="0.753" stop-color="#9c5a0f"/><stop offset="0.763" stop-color="#9c5a0f"/><stop offset="0.773" stop-color="#9c5a0f"/><stop offset="0.784" stop-color="#9c5a0f"/><stop offset="0.794" stop-color="#9c5a0f"/><stop offset="0.804" stop-color="#9c5a0f"/><stop offset="0.814" stop-color="#9c5a0f"/><stop offset="0.825" stop-color="#9c5a0f"/><stop offset="0.835" stop-color="#9c5a0f"/><stop offset="0.845" stop-color="#9b5a0f"/><stop offset="0.856" stop-color="#9a590f"/><stop offset="0.876" stop-color="#98580f"/><stop offset="0.897" stop-color="#96570f"/><stop offset="0.918" stop-color="#93560f"/><stop offset="0.938" stop-color="#91540f"/><stop offset="0.959" stop-color="#90540f"/><stop offset="0.979" stop-color="#90540f"/><stop offset="1.000" stop-color="#90540f"/></linearGradient>
<g id="fieldshort" filter="url(#vbshort)">
<rect x="74" y="44" width="194" height="2.3" fill="url(#sshort0)"/>
<rect x="74" y="46.0" width="194" height="2.3" fill="url(#sshort1)"/>
<rect x="74" y="48.0" width="194" height="2.3" fill="url(#sshort2)"/>
<rect x="74" y="50.0" width="194" height="2.3" fill="url(#sshort3)"/>
<rect x="74" y="52.0" width="194" height="2.3" fill="url(#sshort4)"/>
<rect x="74" y="54.0" width="194" height="2.3" fill="url(#sshort5)"/>
<rect x="74" y="56.0" width="194" height="2.3" fill="url(#sshort6)"/>
<rect x="74" y="58.0" width="194" height="2.3" fill="url(#sshort7)"/>
<rect x="74" y="60.0" width="194" height="2.3" fill="url(#sshort8)"/>
<rect x="74" y="62.0" width="194" height="2.3" fill="url(#sshort9)"/>
<rect x="74" y="64.0" width="194" height="2.3" fill="url(#sshort10)"/>
<rect x="74" y="66.0" width="194" height="2.3" fill="url(#sshort11)"/>
<rect x="74" y="68.0" width="194" height="2.3" fill="url(#sshort12)"/>
<rect x="74" y="70.0" width="194" height="2.3" fill="url(#sshort13)"/>
<rect x="74" y="72.0" width="194" height="2.3" fill="url(#sshort14)"/>
<rect x="74" y="74.0" width="194" height="2.3" fill="url(#sshort15)"/>
<rect x="74" y="76.0" width="194" height="2.3" fill="url(#sshort16)"/>
<rect x="74" y="78.0" width="194" height="2.3" fill="url(#sshort17)"/>
<rect x="74" y="80.0" width="194" height="2.3" fill="url(#sshort18)"/>
<rect x="74" y="82.0" width="194" height="2.3" fill="url(#sshort19)"/>
<rect x="74" y="84.0" width="194" height="2.3" fill="url(#sshort20)"/>
<rect x="74" y="86.0" width="194" height="2.3" fill="url(#sshort21)"/>
<rect x="74" y="88.0" width="194" height="2.3" fill="url(#sshort22)"/>
<rect x="74" y="90.0" width="194" height="2.3" fill="url(#sshort23)"/>
<rect x="74" y="92.0" width="194" height="2.3" fill="url(#sshort24)"/>
<rect x="74" y="94.0" width="194" height="2.3" fill="url(#sshort25)"/>
<rect x="74" y="96.0" width="194" height="2.3" fill="url(#sshort26)"/>
<rect x="74" y="98.0" width="194" height="2.3" fill="url(#sshort27)"/>
<rect x="74" y="100.0" width="194" height="2.3" fill="url(#sshort28)"/>
<rect x="74" y="102.0" width="194" height="2.3" fill="url(#sshort29)"/>
<rect x="74" y="104.0" width="194" height="2.3" fill="url(#sshort30)"/>
<rect x="74" y="106.0" width="194" height="2.3" fill="url(#sshort31)"/>
<rect x="74" y="108.0" width="194" height="2.3" fill="url(#sshort32)"/>
<rect x="74" y="110.0" width="194" height="2.3" fill="url(#sshort33)"/>
<rect x="74" y="112.0" width="194" height="2.3" fill="url(#sshort34)"/>
<rect x="74" y="114.0" width="194" height="2.3" fill="url(#sshort35)"/>
<rect x="74" y="116.0" width="194" height="2.3" fill="url(#sshort36)"/>
<rect x="74" y="118.0" width="194" height="2.3" fill="url(#sshort37)"/>
<rect x="74" y="120.0" width="194" height="2.3" fill="url(#sshort38)"/>
<rect x="74" y="122.0" width="194" height="2.3" fill="url(#sshort39)"/>
<rect x="74" y="124.0" width="194" height="2.3" fill="url(#sshort40)"/>
<rect x="74" y="126.0" width="194" height="2.3" fill="url(#sshort41)"/>
<rect x="74" y="128.0" width="194" height="2.3" fill="url(#sshort42)"/>
<rect x="74" y="130.0" width="194" height="2.3" fill="url(#sshort43)"/>
<rect x="74" y="132.0" width="194" height="2.3" fill="url(#sshort44)"/>
<rect x="74" y="134.0" width="194" height="2.3" fill="url(#sshort45)"/>
<rect x="74" y="136.0" width="194" height="2.3" fill="url(#sshort46)"/>
<rect x="74" y="138.0" width="194" height="2.3" fill="url(#sshort47)"/>
<rect x="74" y="140.0" width="194" height="2.3" fill="url(#sshort48)"/>
<rect x="74" y="142.0" width="194" height="2.3" fill="url(#sshort49)"/>
<rect x="74" y="144.0" width="194" height="2.3" fill="url(#sshort50)"/>
<rect x="74" y="146.0" width="194" height="2.3" fill="url(#sshort51)"/>
<rect x="74" y="148.0" width="194" height="2.3" fill="url(#sshort52)"/>
</g>
<clipPath id="cliptall"><path d="M77.8,302.4 L78.0,300.9 L78.1,299.6 L78.3,298.4 L78.4,296.9 L78.6,296.0 L78.7,294.5 L78.9,293.5 L79.0,292.0 L79.2,290.9 L79.3,289.6 L79.5,288.5 L79.6,287.2 L79.7,285.9 L79.9,285.1 L80.0,283.7 L80.1,282.4 L80.3,281.3 L80.4,280.2 L80.6,279.0 L80.7,277.9 L80.8,276.7 L81.0,275.3 L81.1,274.4 L81.2,273.1 L81.4,271.5 L81.5,270.7 L81.7,269.5 L81.8,268.2 L81.9,266.7 L82.1,265.8 L82.2,264.5 L82.4,262.9 L82.6,261.7 L82.8,261.0 L83.0,259.6 L83.2,258.2 L83.4,256.9 L83.6,255.8 L83.8,254.6 L84.0,253.7 L84.2,252.2 L84.4,250.9 L84.7,250.0 L85.1,248.7 L85.4,247.1 L85.7,246.2 L86.0,244.8 L86.4,243.6 L86.7,242.3 L87.4,241.3 L88.0,240.1 L88.7,239.1 L89.3,237.6 L90.0,236.8 L90.9,235.8 L91.8,235.0 L92.6,234.0 L93.5,233.3 L94.4,232.2 L95.7,231.4 L97.0,230.7 L98.3,229.9 L100.6,229.2 L101.7,229.1 L102.7,229.0 L103.8,228.7 L104.8,228.7 L105.8,228.4 L106.9,228.2 L107.9,228.1 L109.0,228.0 L110.0,227.8 L111.0,227.7 L112.0,227.8 L113.0,227.6 L114.0,227.6 L115.0,227.6 L116.1,227.6 L117.1,227.5 L118.1,227.5 L119.1,227.4 L120.1,227.3 L121.1,227.2 L122.1,227.5 L123.1,227.7 L124.1,227.9 L125.1,228.0 L126.0,228.2 L127.0,228.4 L128.0,228.6 L129.0,228.7 L130.0,228.9 L131.0,229.5 L132.0,229.9 L133.0,230.4 L134.0,230.9 L135.0,231.5 L135.8,232.2 L136.6,232.7 L137.4,233.3 L138.2,233.7 L139.0,234.4 L140.0,234.8 L141.0,234.5 L142.0,234.9 L143.0,234.9 L144.0,235.6 L145.0,235.1 L146.0,234.1 L147.0,234.9 L148.0,233.7 L149.0,233.8 L150.0,234.7 L151.0,234.7 L152.0,234.9 L153.0,234.7 L154.2,234.7 L155.3,235.6 L156.4,235.2 L157.6,235.6 L158.6,236.0 L159.7,235.8 L160.7,236.4 L161.7,237.0 L162.8,237.1 L163.8,237.0 L164.8,237.3 L165.9,237.3 L166.9,237.1 L167.9,237.8 L169.0,237.7 L170.0,238.3 L171.0,238.6 L172.0,238.1 L173.0,238.4 L174.0,238.7 L175.0,238.4 L176.0,238.2 L177.0,238.9 L178.0,239.2 L179.0,239.1 L180.0,239.1 L181.0,239.4 L182.0,239.2 L183.0,239.1 L184.0,238.8 L185.0,238.6 L186.0,239.0 L187.0,238.3 L188.0,238.6 L189.0,239.0 L190.0,238.9 L191.0,238.8 L192.0,238.3 L193.0,238.4 L194.1,238.3 L195.1,238.4 L196.2,238.0 L197.2,238.2 L198.3,238.4 L199.3,237.4 L200.4,237.8 L201.4,237.8 L202.5,237.1 L203.6,236.9 L204.6,237.2 L205.7,235.7 L206.8,236.1 L207.8,235.3 L208.9,235.7 L210.0,235.6 L211.0,235.0 L212.0,234.4 L213.0,234.8 L214.0,234.7 L215.0,234.8 L216.1,234.4 L217.1,234.4 L218.1,234.5 L219.1,234.1 L220.1,233.8 L221.1,234.3 L222.1,233.4 L223.1,233.9 L224.1,233.4 L225.1,233.8 L226.1,232.9 L227.2,233.9 L228.2,233.1 L229.2,232.6 L230.2,232.8 L231.2,232.9 L232.2,232.3 L233.2,232.8 L234.2,232.7 L235.2,233.0 L236.2,232.7 L237.2,232.7 L238.3,232.6 L239.3,232.7 L240.3,232.7 L241.3,232.6 L242.3,232.5 L243.3,232.5 L244.4,232.8 L245.5,233.1 L246.7,233.3 L247.8,233.7 L248.9,234.0 L250.0,234.3 L250.8,235.0 L251.7,235.7 L252.5,236.3 L253.3,237.1 L254.2,237.7 L255.0,238.4 L255.9,239.1 L256.7,239.7 L257.4,240.5 L258.0,241.9 L258.7,242.8 L259.4,244.1 L260.0,245.2 L260.7,246.3 L261.1,247.9 L261.4,248.9 L261.8,250.8 L262.2,252.0 L262.3,253.4 L262.4,254.8 L262.5,256.2 L262.7,257.3 L262.8,258.6 L262.9,260.3 L263.0,260.9 L263.0,262.5 L263.1,263.7 L263.2,264.5 L263.3,266.1 L263.3,267.3 L263.4,268.7 L263.5,269.5 L263.6,271.1 L263.6,272.0 L263.7,273.2 L263.8,274.6 L263.9,275.3 L263.9,276.9 L264.0,278.1 L264.1,279.2 L264.1,280.7 L264.2,281.7 L264.2,283.0 L264.3,284.3 L264.4,285.7 L264.4,286.6 L264.5,288.0 L264.6,289.2 L264.6,290.5 L264.7,291.9 L264.8,292.9 L264.8,294.4 L264.9,295.4 L264.9,296.8 L265.0,297.9 L265.0,299.4 L265.0,301.1 L265.0,302.3 L265.0,303.8 L265.0,305.0 L264.7,306.3 L264.5,307.3 L264.2,307.1 L263.9,309.4 L263.7,309.4 L263.4,311.1 L263.0,311.8 L262.6,311.3 L262.2,313.1 L261.9,314.1 L261.5,313.4 L261.1,314.7 L260.7,316.2 L260.3,315.9 L259.6,317.7 L258.8,317.1 L258.1,318.5 L257.4,317.9 L256.7,319.0 L255.9,320.2 L255.2,319.5 L254.6,320.3 L254.0,321.3 L253.4,321.7 L252.9,321.8 L252.3,322.7 L251.7,323.4 L251.1,325.3 L250.5,325.4 L249.8,326.3 L249.2,325.6 L248.6,327.1 L247.9,326.5 L247.3,327.7 L246.6,328.4 L246.0,328.5 L245.4,329.8 L244.7,329.8 L244.1,330.4 L243.4,331.4 L242.8,330.6 L242.2,332.6 L241.5,332.5 L240.9,332.6 L240.2,333.7 L239.4,333.3 L238.7,335.0 L238.0,334.7 L237.3,334.8 L236.5,335.9 L235.8,335.8 L235.0,335.7 L234.1,337.0 L233.2,336.1 L232.4,337.8 L231.5,337.1 L230.7,338.1 L229.8,338.7 L229.0,338.0 L228.1,338.2 L227.2,337.6 L226.4,337.1 L225.5,337.1 L224.6,337.1 L223.8,337.7 L222.9,337.1 L222.0,337.1 L221.1,337.5 L220.3,336.0 L219.4,335.9 L218.6,336.8 L217.7,335.9 L216.9,336.0 L216.1,336.7 L215.2,336.4 L214.4,337.0 L213.5,336.9 L212.7,337.6 L211.9,337.8 L211.0,337.3 L210.2,338.1 L209.4,338.0 L208.6,337.6 L207.8,339.1 L207.1,338.1 L206.3,338.1 L205.5,338.2 L204.7,339.3 L203.9,339.8 L203.1,339.8 L202.4,339.3 L201.6,339.3 L200.8,339.0 L200.0,340.2 L199.2,340.1 L198.4,339.8 L197.5,340.3 L196.7,340.0 L195.9,340.9 L195.1,340.5 L194.2,339.7 L193.4,340.9 L192.6,339.4 L191.8,340.3 L191.0,340.1 L190.2,339.8 L189.4,339.5 L188.6,340.8 L187.8,339.5 L187.0,340.4 L186.2,341.1 L185.4,339.8 L184.6,339.9 L183.8,340.6 L183.0,340.4 L182.2,340.7 L181.4,341.0 L180.6,339.9 L179.8,340.2 L179.0,340.2 L178.2,339.8 L177.4,341.2 L176.6,341.0 L175.8,340.9 L175.0,339.8 L174.2,341.2 L173.3,341.1 L172.5,340.6 L171.7,341.1 L170.9,340.6 L170.0,340.2 L169.2,340.1 L168.4,340.3 L167.5,340.0 L166.7,340.5 L165.9,341.2 L165.1,341.2 L164.2,341.4 L163.4,341.2 L162.6,340.5 L161.7,341.0 L160.9,340.8 L160.1,341.4 L159.3,341.0 L158.4,340.6 L157.6,341.2 L156.8,341.8 L156.0,340.5 L155.1,341.6 L154.3,340.1 L153.5,340.5 L152.7,340.4 L151.9,341.3 L151.0,341.6 L150.2,341.2 L149.4,340.5 L148.6,341.4 L147.7,340.5 L146.9,340.3 L146.1,341.4 L145.3,340.9 L144.5,341.0 L143.6,340.9 L142.8,341.4 L142.0,340.5 L141.2,341.2 L140.4,340.9 L139.6,341.1 L138.8,340.4 L138.0,340.9 L137.2,340.6 L136.4,340.1 L135.6,340.0 L134.8,340.6 L134.0,339.7 L133.2,341.1 L132.4,339.8 L131.6,339.5 L130.8,339.7 L130.0,341.0 L129.2,340.0 L128.3,339.6 L127.5,339.3 L126.7,339.3 L125.8,340.3 L125.0,340.2 L124.1,340.2 L123.3,340.2 L122.5,338.9 L121.7,339.5 L120.9,338.9 L120.1,339.5 L119.3,339.3 L118.4,339.2 L117.6,337.6 L116.8,338.8 L116.0,338.6 L115.2,338.5 L114.4,336.8 L113.7,336.6 L113.0,336.0 L112.3,335.5 L111.6,336.4 L110.9,335.9 L110.2,335.2 L109.5,335.1 L108.8,334.4 L108.2,333.4 L107.5,332.6 L106.8,332.2 L106.1,332.9 L105.4,331.6 L104.7,331.3 L104.0,331.1 L103.3,330.0 L102.6,329.9 L101.9,329.4 L101.2,329.7 L100.6,328.6 L99.9,328.0 L99.2,328.6 L98.5,327.4 L97.8,327.5 L97.1,326.6 L96.5,325.1 L95.8,325.2 L95.1,324.8 L94.4,324.9 L93.7,323.7 L92.9,323.8 L92.2,323.1 L91.5,322.1 L90.7,322.7 L90.0,321.0 L89.3,321.7 L88.5,320.2 L87.8,319.4 L87.1,319.3 L86.3,319.8 L85.6,319.7 L85.0,317.4 L84.4,317.6 L83.7,317.0 L83.1,316.9 L82.5,315.3 L81.9,315.2 L81.2,314.3 L80.6,314.5 L80.0,312.9 L79.7,313.2 L79.4,311.2 L79.0,310.2 L78.7,310.1 L78.4,308.9 L78.3,307.4 L78.2,307.5 L78.2,305.7 L78.1,306.0 L78.0,305.0 L78.0,304.4 L77.9,303.3 L77.8,302.2 Z"/></clipPath>
<filter id="vbtall" x="-5%" y="-5%" width="110%" height="110%"><feGaussianBlur stdDeviation="0.4 1.1"/></filter>
<linearGradient id="stall0" gradientUnits="userSpaceOnUse" x1="74" y1="0" x2="268" y2="0"><stop offset="0.000" stop-color="#2c7b31"/><stop offset="0.021" stop-color="#2a7730"/><stop offset="0.041" stop-color="#2a772f"/><stop offset="0.062" stop-color="#2a772f"/><stop offset="0.082" stop-color="#2a772f"/><stop offset="0.103" stop-color="#2a772f"/><stop offset="0.124" stop-color="#2a772f"/><stop offset="0.144" stop-color="#2a772f"/><stop offset="0.165" stop-color="#2a772f"/><stop offset="0.186" stop-color="#2a772f"/><stop offset="0.206" stop-color="#2a772f"/><stop offset="0.227" stop-color="#2a772f"/><stop offset="0.247" stop-color="#2c7a31"/><stop offset="0.268" stop-color="#308034"/><stop offset="0.289" stop-color="#398a39"/><stop offset="0.309" stop-color="#439640"/><stop offset="0.330" stop-color="#4ea247"/><stop offset="0.351" stop-color="#5caf4f"/><stop offset="0.371" stop-color="#65b855"/><stop offset="0.392" stop-color="#67ba56"/><stop offset="0.412" stop-color="#68ba57"/><stop offset="0.433" stop-color="#68bb57"/><stop offset="0.454" stop-color="#68bb57"/><stop offset="0.474" stop-color="#68bb57"/><stop offset="0.495" stop-color="#68bb57"/><stop offset="0.515" stop-color="#68bb57"/><stop offset="0.536" stop-color="#68bb57"/><stop offset="0.557" stop-color="#68bb57"/><stop offset="0.577" stop-color="#68bb57"/><stop offset="0.598" stop-color="#68bb57"/><stop offset="0.619" stop-color="#68bb57"/><stop offset="0.639" stop-color="#68ba57"/><stop offset="0.660" stop-color="#67ba56"/><stop offset="0.680" stop-color="#67ba56"/><stop offset="0.701" stop-color="#67ba56"/><stop offset="0.722" stop-color="#67ba56"/><stop offset="0.732" stop-color="#67ba56"/><stop offset="0.742" stop-color="#67b956"/><stop offset="0.753" stop-color="#67b956"/><stop offset="0.763" stop-color="#66b956"/><stop offset="0.773" stop-color="#66b956"/><stop offset="0.784" stop-color="#66b956"/><stop offset="0.794" stop-color="#66b956"/><stop offset="0.804" stop-color="#66b956"/><stop offset="0.814" stop-color="#66b956"/><stop offset="0.825" stop-color="#66b956"/><stop offset="0.835" stop-color="#66b956"/><stop offset="0.845" stop-color="#60b352"/><stop offset="0.856" stop-color="#469a42"/><stop offset="0.876" stop-color="#328134"/><stop offset="0.897" stop-color="#308033"/><stop offset="0.918" stop-color="#308033"/><stop offset="0.938" stop-color="#328134"/><stop offset="0.959" stop-color="#348436"/><stop offset="0.979" stop-color="#368737"/><stop offset="1.000" stop-color="#398a39"/></linearGradient>
<linearGradient id="stall1" gradientUnits="userSpaceOnUse" x1="74" y1="0" x2="268" y2="0"><stop offset="0.000" stop-color="#2c7a31"/><stop offset="0.021" stop-color="#2a772f"/><stop offset="0.041" stop-color="#2a772f"/><stop offset="0.062" stop-color="#2a772f"/><stop offset="0.082" stop-color="#2a772f"/><stop offset="0.103" stop-color="#2a772f"/><stop offset="0.124" stop-color="#2a772f"/><stop offset="0.144" stop-color="#2a772f"/><stop offset="0.165" stop-color="#2a772f"/><stop offset="0.186" stop-color="#2a772f"/><stop offset="0.206" stop-color="#2a772f"/><stop offset="0.227" stop-color="#2a7730"/><stop offset="0.247" stop-color="#2c7b31"/><stop offset="0.268" stop-color="#328235"/><stop offset="0.289" stop-color="#3b8d3a"/><stop offset="0.309" stop-color="#459841"/><stop offset="0.330" stop-color="#51a549"/><stop offset="0.351" stop-color="#5fb251"/><stop offset="0.371" stop-color="#67ba56"/><stop offset="0.392" stop-color="#69bc57"/><stop offset="0.412" stop-color="#69bc58"/><stop offset="0.433" stop-color="#6abc58"/><stop offset="0.454" stop-color="#6abc58"/><stop offset="0.474" stop-color="#6abd58"/><stop offset="0.495" stop-color="#6abd58"/><stop offset="0.515" stop-color="#6abd58"/><stop offset="0.536" stop-color="#6abd58"/><stop offset="0.557" stop-color="#6abd58"/><stop offset="0.577" stop-color="#6abd58"/><stop offset="0.598" stop-color="#6abc58"/><stop offset="0.619" stop-color="#6abc58"/><stop offset="0.639" stop-color="#69bc58"/><stop offset="0.660" stop-color="#69bc57"/><stop offset="0.680" stop-color="#69bb57"/><stop offset="0.701" stop-color="#68bb57"/><stop offset="0.722" stop-color="#68bb57"/><stop offset="0.732" stop-color="#68bb57"/><stop offset="0.742" stop-color="#68bb57"/><stop offset="0.753" stop-color="#68ba57"/><stop offset="0.763" stop-color="#68ba56"/><stop offset="0.773" stop-color="#67ba56"/><stop offset="0.784" stop-color="#67ba56"/><stop offset="0.794" stop-color="#67ba56"/><stop offset="0.804" stop-color="#67ba56"/><stop offset="0.814" stop-color="#67ba56"/><stop offset="0.825" stop-color="#67ba56"/><stop offset="0.835" stop-color="#67b956"/><stop offset="0.845" stop-color="#51a448"/><stop offset="0.856" stop-color="#398a39"/><stop offset="0.876" stop-color="#2e7d32"/><stop offset="0.897" stop-color="#2d7b31"/><stop offset="0.918" stop-color="#2d7b31"/><stop offset="0.938" stop-color="#2e7d32"/><stop offset="0.959" stop-color="#318034"/><stop offset="0.979" stop-color="#348436"/><stop offset="1.000" stop-color="#378838"/></linearGradient>
<linearGradient id="stall2" gradientUnits="userSpaceOnUse" x1="74" y1="0" x2="268" y2="0"><stop offset="0.000" stop-color="#2c7a30"/><stop offset="0.021" stop-color="#2a772f"/><stop offset="0.041" stop-color="#2a772f"/><stop offset="0.062" stop-color="#2a772f"/><stop offset="0.082" stop-color="#2a772f"/><stop offset="0.103" stop-color="#2a772f"/><stop offset="0.124" stop-color="#2a772f"/><stop offset="0.144" stop-color="#2a772f"/><stop offset="0.165" stop-color="#2a772f"/><stop offset="0.186" stop-color="#2a772f"/><stop offset="0.206" stop-color="#2a772f"/><stop offset="0.227" stop-color="#2b7830"/><stop offset="0.247" stop-color="#2d7c31"/><stop offset="0.268" stop-color="#348436"/><stop offset="0.289" stop-color="#3e8f3c"/><stop offset="0.309" stop-color="#489b42"/><stop offset="0.330" stop-color="#56a94b"/><stop offset="0.351" stop-color="#62b553"/><stop offset="0.371" stop-color="#69bc58"/><stop offset="0.392" stop-color="#6bbd58"/><stop offset="0.412" stop-color="#6bbe59"/><stop offset="0.433" stop-color="#6bbe59"/><stop offset="0.454" stop-color="#6cbe59"/><stop offset="0.474" stop-color="#6cbf59"/><stop offset="0.495" stop-color="#6cbf59"/><stop offset="0.515" stop-color="#6cbf59"/><stop offset="0.536" stop-color="#6cbf59"/><stop offset="0.557" stop-color="#6cbf59"/><stop offset="0.577" stop-color="#6cbf59"/><stop offset="0.598" stop-color="#6cbe59"/><stop offset="0.619" stop-color="#6bbe59"/><stop offset="0.639" stop-color="#6bbe59"/><stop offset="0.660" stop-color="#6bbd58"/><stop offset="0.680" stop-color="#6abd58"/><stop offset="0.701" stop-color="#6abc58"/><stop offset="0.722" stop-color="#69bc58"/><stop offset="0.732" stop-color="#69bc57"/><stop offset="0.742" stop-color="#69bc57"/><stop offset="0.753" stop-color="#69bc57"/><stop offset="0.763" stop-color="#69bb57"/><stop offset="0.773" stop-color="#69bb57"/><stop offset="0.784" stop-color="#68bb57"/><stop offset="0.794" stop-color="#68bb57"/><stop offset="0.804" stop-color="#68bb57"/><stop offset="0.814" stop-color="#68bb57"/><stop offset="0.825" stop-color="#68bb57"/><stop offset="0.835" stop-color="#5db150"/><stop offset="0.845" stop-color="#41933e"/><stop offset="0.856" stop-color="#2e7d32"/><stop offset="0.876" stop-color="#2c7930"/><stop offset="0.897" stop-color="#2a7830"/><stop offset="0.918" stop-color="#2a7830"/><stop offset="0.938" stop-color="#2c7930"/><stop offset="0.959" stop-color="#2e7c32"/><stop offset="0.979" stop-color="#328134"/><stop offset="1.000" stop-color="#368637"/></linearGradient>
<linearGradient id="stall3" gradientUnits="userSpaceOnUse" x1="74" y1="0" x2="268" y2="0"><stop offset="0.000" stop-color="#2c7a30"/><stop offset="0.021" stop-color="#2a772f"/><stop offset="0.041" stop-color="#2a772f"/><stop offset="0.062" stop-color="#2a772f"/><stop offset="0.082" stop-color="#2a772f"/><stop offset="0.103" stop-color="#2a772f"/><stop offset="0.124" stop-color="#2a772f"/><stop offset="0.144" stop-color="#2a772f"/><stop offset="0.165" stop-color="#2a772f"/><stop offset="0.186" stop-color="#2a772f"/><stop offset="0.206" stop-color="#2a772f"/><stop offset="0.227" stop-color="#2b7930"/><stop offset="0.247" stop-color="#2f7e32"/><stop offset="0.268" stop-color="#378838"/><stop offset="0.289" stop-color="#41933e"/><stop offset="0.309" stop-color="#4b9f45"/><stop offset="0.330" stop-color="#5aae4e"/><stop offset="0.351" stop-color="#66b955"/><stop offset="0.371" stop-color="#6cbe59"/><stop offset="0.392" stop-color="#6cbf59"/><stop offset="0.412" stop-color="#6dc05a"/><stop offset="0.433" stop-color="#6dc05a"/><stop offset="0.454" stop-color="#6ec05a"/><stop offset="0.474" stop-color="#6ec15b"/><stop offset="0.495" stop-color="#6fc15b"/><stop offset="0.515" stop-color="#6fc15b"/><stop offset="0.536" stop-color="#6fc15b"/><stop offset="0.557" stop-color="#6fc15b"/><stop offset="0.577" stop-color="#6ec15b"/><stop offset="0.598" stop-color="#6ec05a"/><stop offset="0.619" stop-color="#6dc05a"/><stop offset="0.639" stop-color="#6dc05a"/><stop offset="0.660" stop-color="#6cbf59"/><stop offset="0.680" stop-color="#6cbe59"/><stop offset="0.701" stop-color="#6bbe59"/><stop offset="0.722" stop-color="#6bbd58"/><stop offset="0.732" stop-color="#6bbd58"/><stop offset="0.742" stop-color="#6abd58"/><stop offset="0.753" stop-color="#6abd58"/><stop offset="0.763" stop-color="#6abd58"/><stop offset="0.773" stop-color="#6abc58"/><stop offset="0.784" stop-color="#6abc58"/><stop offset="0.794" stop-color="#69bc58"/><stop offset="0.804" stop-color="#69bc58"/><stop offset="0.814" stop-color="#69bc57"/><stop offset="0.825" stop-color="#67ba56"/><stop offset="0.835" stop-color="#4a9e44"/><stop offset="0.845" stop-color="#338335"/><stop offset="0.856" stop-color="#2c7a31"/><stop offset="0.876" stop-color="#29762f"/><stop offset="0.897" stop-color="#28742e"/><stop offset="0.918" stop-color="#28742e"/><stop offset="0.938" stop-color="#29762f"/><stop offset="0.959" stop-color="#2c7a31"/><stop offset="0.979" stop-color="#2f7e33"/><stop offset="1.000" stop-color="#348436"/></linearGradient>
<linearGradient id="stall4" gradientUnits="userSpaceOnUse" x1="74" y1="0" x2="268" y2="0"><stop offset="0.000" stop-color="#2c7a31"/><stop offset="0.021" stop-color="#2a772f"/><stop offset="0.041" stop-color="#2a772f"/><stop offset="0.062" stop-color="#2a772f"/><stop offset="0.082" stop-color="#2a772f"/><stop offset="0.103" stop-color="#2a772f"/><stop offset="0.124" stop-color="#2a772f"/><stop offset="0.144" stop-color="#2a772f"/><stop offset="0.165" stop-color="#2a772f"/><stop offset="0.186" stop-color="#2a772f"/><stop offset="0.206" stop-color="#2a7830"/><stop offset="0.227" stop-color="#2c7b31"/><stop offset="0.247" stop-color="#328235"/><stop offset="0.268" stop-color="#3b8c3a"/><stop offset="0.289" stop-color="#459841"/><stop offset="0.309" stop-color="#53a649"/><stop offset="0.330" stop-color="#61b553"/><stop offset="0.351" stop-color="#6cbf59"/><stop offset="0.371" stop-color="#70c25c"/><stop offset="0.392" stop-color="#71c35c"/><stop offset="0.412" stop-color="#72c45d"/><stop offset="0.433" stop-color="#72c55d"/><stop offset="0.454" stop-color="#73c55e"/><stop offset="0.474" stop-color="#73c65e"/><stop offset="0.495" stop-color="#74c65e"/><stop offset="0.515" stop-color="#74c65e"/><stop offset="0.536" stop-color="#74c65e"/><stop offset="0.557" stop-color="#74c65e"/><stop offset="0.577" stop-color="#73c65e"/><stop offset="0.598" stop-color="#73c55e"/><stop offset="0.619" stop-color="#72c55d"/><stop offset="0.639" stop-color="#72c45d"/><stop offset="0.660" stop-color="#71c35c"/><stop offset="0.680" stop-color="#70c25c"/><stop offset="0.701" stop-color="#6fc25b"/><stop offset="0.722" stop-color="#6fc15b"/><stop offset="0.732" stop-color="#6ec15b"/><stop offset="0.742" stop-color="#6ec15b"/><stop offset="0.753" stop-color="#6ec05a"/><stop offset="0.763" stop-color="#6ec05a"/><stop offset="0.773" stop-color="#6dc05a"/><stop offset="0.784" stop-color="#6dc05a"/><stop offset="0.794" stop-color="#6dbf5a"/><stop offset="0.804" stop-color="#6dbf5a"/><stop offset="0.814" stop-color="#6dbf5a"/><stop offset="0.825" stop-color="#5baf4f"/><stop offset="0.835" stop-color="#3c8d3b"/><stop offset="0.845" stop-color="#2c7a31"/><stop offset="0.856" stop-color="#2a7730"/><stop offset="0.876" stop-color="#27732e"/><stop offset="0.897" stop-color="#25702c"/><stop offset="0.918" stop-color="#25702c"/><stop offset="0.938" stop-color="#27732e"/><stop offset="0.959" stop-color="#2a7730"/><stop offset="0.979" stop-color="#2d7c32"/><stop offset="1.000" stop-color="#338335"/></linearGradient>
<linearGradient id="stall5" gradientUnits="userSpaceOnUse" x1="74" y1="0" x2="268" y2="0"><stop offset="0.000" stop-color="#2d7b31"/><stop offset="0.021" stop-color="#2a7830"/><stop offset="0.041" stop-color="#2a772f"/><stop offset="0.062" stop-color="#2a772f"/><stop offset="0.082" stop-color="#2a772f"/><stop offset="0.103" stop-color="#2a772f"/><stop offset="0.124" stop-color="#2a772f"/><stop offset="0.144" stop-color="#2a772f"/><stop offset="0.165" stop-color="#2a772f"/><stop offset="0.186" stop-color="#2a772f"/><stop offset="0.206" stop-color="#2b7930"/><stop offset="0.227" stop-color="#2e7d32"/><stop offset="0.247" stop-color="#378838"/><stop offset="0.268" stop-color="#41943e"/><stop offset="0.289" stop-color="#4ea247"/><stop offset="0.309" stop-color="#61b452"/><stop offset="0.330" stop-color="#70c25c"/><stop offset="0.351" stop-color="#7acc62"/><stop offset="0.371" stop-color="#7dcf65"/><stop offset="0.392" stop-color="#7ecf66"/><stop offset="0.412" stop-color="#7fd067"/><stop offset="0.433" stop-color="#80d167"/><stop offset="0.454" stop-color="#81d268"/><stop offset="0.474" stop-color="#82d269"/><stop offset="0.495" stop-color="#82d269"/><stop offset="0.515" stop-color="#82d369"/><stop offset="0.536" stop-color="#82d369"/><stop offset="0.557" stop-color="#82d269"/><stop offset="0.577" stop-color="#82d269"/><stop offset="0.598" stop-color="#81d268"/><stop offset="0.619" stop-color="#80d167"/><stop offset="0.639" stop-color="#7fd067"/><stop offset="0.660" stop-color="#7ecf66"/><stop offset="0.680" stop-color="#7dcf65"/><stop offset="0.701" stop-color="#7cce64"/><stop offset="0.722" stop-color="#7bcd63"/><stop offset="0.732" stop-color="#7bcd63"/><stop offset="0.742" stop-color="#7bcc62"/><stop offset="0.753" stop-color="#7acc62"/><stop offset="0.763" stop-color="#7acc62"/><stop offset="0.773" stop-color="#7acc62"/><stop offset="0.784" stop-color="#79cb62"/><stop offset="0.794" stop-color="#79cb61"/><stop offset="0.804" stop-color="#79cb61"/><stop offset="0.814" stop-color="#75c75f"/><stop offset="0.825" stop-color="#4fa347"/><stop offset="0.835" stop-color="#328134"/><stop offset="0.845" stop-color="#2b7930"/><stop offset="0.856" stop-color="#29762f"/><stop offset="0.876" stop-color="#26712d"/><stop offset="0.897" stop-color="#246e2b"/><stop offset="0.918" stop-color="#246e2b"/><stop offset="0.938" stop-color="#26712d"/><stop offset="0.959" stop-color="#29762f"/><stop offset="0.979" stop-color="#2d7b31"/><stop offset="1.000" stop-color="#328235"/></linearGradient>
<linearGradient id="stall6" gradientUnits="userSpaceOnUse" x1="74" y1="0" x2="268" y2="0"><stop offset="0.000" stop-color="#2e7d32"/><stop offset="0.021" stop-color="#2b7930"/><stop offset="0.041" stop-color="#2a772f"/><stop offset="0.062" stop-color="#2a772f"/><stop offset="0.082" stop-color="#2a772f"/><stop offset="0.103" stop-color="#2a772f"/><stop offset="0.124" stop-color="#2a772f"/><stop offset="0.144" stop-color="#2a772f"/><stop offset="0.165" stop-color="#2a772f"/><stop offset="0.186" stop-color="#2b7830"/><stop offset="0.206" stop-color="#2d7b31"/><stop offset="0.227" stop-color="#348436"/><stop offset="0.247" stop-color="#3e903c"/><stop offset="0.268" stop-color="#4a9e44"/><stop offset="0.289" stop-color="#5fb251"/><stop offset="0.309" stop-color="#73c55e"/><stop offset="0.330" stop-color="#83d36a"/><stop offset="0.351" stop-color="#8ddb73"/><stop offset="0.371" stop-color="#8fdd75"/><stop offset="0.392" stop-color="#91de76"/><stop offset="0.412" stop-color="#92df77"/><stop offset="0.433" stop-color="#93e078"/><stop offset="0.454" stop-color="#94e079"/><stop offset="0.474" stop-color="#95e179"/><stop offset="0.495" stop-color="#95e17a"/><stop offset="0.515" stop-color="#96e27a"/><stop offset="0.536" stop-color="#96e27a"/><stop offset="0.557" stop-color="#95e17a"/><stop offset="0.577" stop-color="#95e179"/><stop offset="0.598" stop-color="#94e079"/><stop offset="0.619" stop-color="#93e078"/><stop offset="0.639" stop-color="#92df77"/><stop offset="0.660" stop-color="#91de76"/><stop offset="0.680" stop-color="#8fdd75"/><stop offset="0.701" stop-color="#8edc74"/><stop offset="0.722" stop-color="#8ddb73"/><stop offset="0.732" stop-color="#8cda72"/><stop offset="0.742" stop-color="#8cda72"/><stop offset="0.753" stop-color="#8cda71"/><stop offset="0.763" stop-color="#8bd971"/><stop offset="0.773" stop-color="#8bd971"/><stop offset="0.784" stop-color="#8ad970"/><stop offset="0.794" stop-color="#8ad970"/><stop offset="0.804" stop-color="#8ad870"/><stop offset="0.814" stop-color="#73c55e"/><stop offset="0.825" stop-color="#43953f"/><stop offset="0.835" stop-color="#2c7b31"/><stop offset="0.845" stop-color="#2a7830"/><stop offset="0.856" stop-color="#28752e"/><stop offset="0.876" stop-color="#25702c"/><stop offset="0.897" stop-color="#236c2b"/><stop offset="0.918" stop-color="#236c2b"/><stop offset="0.938" stop-color="#25702c"/><stop offset="0.959" stop-color="#28752e"/><stop offset="0.979" stop-color="#2c7a31"/><stop offset="1.000" stop-color="#318134"/></linearGradient>
<linearGradient id="stall7" gradientUnits="userSpaceOnUse" x1="74" y1="0" x2="268" y2="0"><stop offset="0.000" stop-color="#308033"/><stop offset="0.021" stop-color="#2c7a31"/><stop offset="0.041" stop-color="#2a7730"/><stop offset="0.062" stop-color="#2a772f"/><stop offset="0.082" stop-color="#2a772f"/><stop offset="0.103" stop-color="#2a772f"/><stop offset="0.124" stop-color="#2a772f"/><stop offset="0.144" stop-color="#2a772f"/><stop offset="0.165" stop-color="#2a7730"/><stop offset="0.186" stop-color="#2c7a31"/><stop offset="0.206" stop-color="#318034"/><stop offset="0.227" stop-color="#3a8b3a"/><stop offset="0.247" stop-color="#469941"/><stop offset="0.268" stop-color="#59ad4e"/><stop offset="0.289" stop-color="#70c25c"/><stop offset="0.309" stop-color="#85d46b"/><stop offset="0.330" stop-color="#95e179"/><stop offset="0.351" stop-color="#9de780"/><stop offset="0.371" stop-color="#9ee881"/><stop offset="0.392" stop-color="#a0e983"/><stop offset="0.412" stop-color="#a1eb84"/><stop offset="0.433" stop-color="#a3ec85"/><stop offset="0.454" stop-color="#a4ed86"/><stop offset="0.474" stop-color="#a5ee87"/><stop offset="0.495" stop-color="#a6ee88"/><stop offset="0.515" stop-color="#a6ee88"/><stop offset="0.536" stop-color="#a6ee88"/><stop offset="0.557" stop-color="#a6ee88"/><stop offset="0.577" stop-color="#a5ee87"/><stop offset="0.598" stop-color="#a4ed86"/><stop offset="0.619" stop-color="#a3ec85"/><stop offset="0.639" stop-color="#a1eb84"/><stop offset="0.660" stop-color="#a0e983"/><stop offset="0.680" stop-color="#9ee881"/><stop offset="0.701" stop-color="#9de780"/><stop offset="0.722" stop-color="#9be67f"/><stop offset="0.732" stop-color="#9be67e"/><stop offset="0.742" stop-color="#9ae57e"/><stop offset="0.753" stop-color="#9ae57d"/><stop offset="0.763" stop-color="#99e47d"/><stop offset="0.773" stop-color="#99e47d"/><stop offset="0.784" stop-color="#98e47c"/><stop offset="0.794" stop-color="#98e37c"/><stop offset="0.804" stop-color="#93df77"/><stop offset="0.814" stop-color="#63b653"/><stop offset="0.825" stop-color="#368737"/><stop offset="0.835" stop-color="#2c7a31"/><stop offset="0.845" stop-color="#2a7730"/><stop offset="0.856" stop-color="#28742e"/><stop offset="0.876" stop-color="#256f2c"/><stop offset="0.897" stop-color="#226c2a"/><stop offset="0.918" stop-color="#226c2a"/><stop offset="0.938" stop-color="#256f2c"/><stop offset="0.959" stop-color="#28742e"/><stop offset="0.979" stop-color="#2c7a31"/><stop offset="1.000" stop-color="#318134"/></linearGradient>
<linearGradient id="stall8" gradientUnits="userSpaceOnUse" x1="74" y1="0" x2="268" y2="0"><stop offset="0.000" stop-color="#338336"/><stop offset="0.021" stop-color="#2d7c31"/><stop offset="0.041" stop-color="#2b7930"/><stop offset="0.062" stop-color="#2a772f"/><stop offset="0.082" stop-color="#2a772f"/><stop offset="0.103" stop-color="#2a772f"/><stop offset="0.124" stop-color="#2a772f"/><stop offset="0.144" stop-color="#2a7830"/><stop offset="0.165" stop-color="#2c7930"/><stop offset="0.186" stop-color="#2e7d32"/><stop offset="0.206" stop-color="#368737"/><stop offset="0.227" stop-color="#41933e"/><stop offset="0.247" stop-color="#4fa347"/><stop offset="0.268" stop-color="#65b855"/><stop offset="0.289" stop-color="#7bcd63"/><stop offset="0.309" stop-color="#8fdd74"/><stop offset="0.330" stop-color="#9de781"/><stop offset="0.351" stop-color="#a2eb85"/><stop offset="0.371" stop-color="#a4ed86"/><stop offset="0.392" stop-color="#a5ee88"/><stop offset="0.412" stop-color="#a7ef89"/><stop offset="0.433" stop-color="#a9f08a"/><stop offset="0.454" stop-color="#aaf089"/><stop offset="0.474" stop-color="#aaf088"/><stop offset="0.495" stop-color="#abf088"/><stop offset="0.515" stop-color="#abf088"/><stop offset="0.536" stop-color="#abf088"/><stop offset="0.557" stop-color="#abf088"/><stop offset="0.577" stop-color="#aaf088"/><stop offset="0.598" stop-color="#aaf089"/><stop offset="0.619" stop-color="#a9f08a"/><stop offset="0.639" stop-color="#a7ef89"/><stop offset="0.660" stop-color="#a5ee88"/><stop offset="0.680" stop-color="#a4ed86"/><stop offset="0.701" stop-color="#a2eb85"/><stop offset="0.722" stop-color="#a0ea83"/><stop offset="0.732" stop-color="#9fe983"/><stop offset="0.742" stop-color="#9fe982"/><stop offset="0.753" stop-color="#9ee881"/><stop offset="0.763" stop-color="#9de881"/><stop offset="0.773" stop-color="#9de780"/><stop offset="0.784" stop-color="#9ce780"/><stop offset="0.794" stop-color="#9ce77f"/><stop offset="0.804" stop-color="#83d36a"/><stop offset="0.814" stop-color="#499d43"/><stop offset="0.825" stop-color="#2f7e32"/><stop offset="0.835" stop-color="#2c7a31"/><stop offset="0.845" stop-color="#2a7830"/><stop offset="0.856" stop-color="#28752e"/><stop offset="0.876" stop-color="#25702c"/><stop offset="0.897" stop-color="#236c2b"/><stop offset="0.918" stop-color="#236c2b"/><stop offset="0.938" stop-color="#25702c"/><stop offset="0.959" stop-color="#28752e"/><stop offset="0.979" stop-color="#2c7a31"/><stop offset="1.000" stop-color="#318134"/></linearGradient>
<linearGradient id="stall9" gradientUnits="userSpaceOnUse" x1="74" y1="0" x2="268" y2="0"><stop offset="0.000" stop-color="#378838"/><stop offset="0.021" stop-color="#307f33"/><stop offset="0.041" stop-color="#2d7b31"/><stop offset="0.062" stop-color="#2b7930"/><stop offset="0.082" stop-color="#2b7830"/><stop offset="0.103" stop-color="#2a7830"/><stop offset="0.124" stop-color="#2b7830"/><stop offset="0.144" stop-color="#2c7a31"/><stop offset="0.165" stop-color="#2e7d32"/><stop offset="0.186" stop-color="#348436"/><stop offset="0.206" stop-color="#3d8e3b"/><stop offset="0.227" stop-color="#479b42"/><stop offset="0.247" stop-color="#5aae4e"/><stop offset="0.268" stop-color="#70c25c"/><stop offset="0.289" stop-color="#85d56c"/><stop offset="0.309" stop-color="#97e37b"/><stop offset="0.330" stop-color="#a2eb84"/><stop offset="0.351" stop-color="#a4ed87"/><stop offset="0.371" stop-color="#a6ef89"/><stop offset="0.392" stop-color="#a8f08a"/><stop offset="0.412" stop-color="#aaf089"/><stop offset="0.433" stop-color="#abf088"/><stop offset="0.454" stop-color="#adf087"/><stop offset="0.474" stop-color="#aef086"/><stop offset="0.495" stop-color="#aef086"/><stop offset="0.515" stop-color="#aff085"/><stop offset="0.536" stop-color="#aff085"/><stop offset="0.557" stop-color="#aef086"/><stop offset="0.577" stop-color="#aef086"/><stop offset="0.598" stop-color="#adf087"/><stop offset="0.619" stop-color="#abf088"/><stop offset="0.639" stop-color="#aaf089"/><stop offset="0.660" stop-color="#a8f08a"/><stop offset="0.680" stop-color="#a6ef89"/><stop offset="0.701" stop-color="#a4ed87"/><stop offset="0.722" stop-color="#a2ec85"/><stop offset="0.732" stop-color="#a1eb84"/><stop offset="0.742" stop-color="#a1ea84"/><stop offset="0.753" stop-color="#a0ea83"/><stop offset="0.763" stop-color="#9fe982"/><stop offset="0.773" stop-color="#9ee982"/><stop offset="0.784" stop-color="#9ee881"/><stop offset="0.794" stop-color="#99e57d"/><stop offset="0.804" stop-color="#6abd58"/><stop offset="0.814" stop-color="#3b8d3b"/><stop offset="0.825" stop-color="#2f7e33"/><stop offset="0.835" stop-color="#2d7b31"/><stop offset="0.845" stop-color="#2b7830"/><stop offset="0.856" stop-color="#29762f"/><stop offset="0.876" stop-color="#26712d"/><stop offset="0.897" stop-color="#246e2b"/><stop offset="0.918" stop-color="#246e2b"/><stop offset="0.938" stop-color="#26712d"/><stop offset="0.959" stop-color="#29762f"/><stop offset="0.979" stop-color="#2d7b31"/><stop offset="1.000" stop-color="#328235"/></linearGradient>
<linearGradient id="stall10" gradientUnits="userSpaceOnUse" x1="74" y1="0" x2="268" y2="0"><stop offset="0.000" stop-color="#3c8d3b"/><stop offset="0.021" stop-color="#348436"/><stop offset="0.041" stop-color="#2f7e33"/><stop offset="0.062" stop-color="#2d7b31"/><stop offset="0.082" stop-color="#2c7a31"/><stop offset="0.103" stop-color="#2c7a31"/><stop offset="0.124" stop-color="#2d7b31"/><stop offset="0.144" stop-color="#2e7e32"/><stop offset="0.165" stop-color="#338335"/><stop offset="0.186" stop-color="#3b8c3a"/><stop offset="0.206" stop-color="#449740"/><stop offset="0.227" stop-color="#52a649"/><stop offset="0.247" stop-color="#66b956"/><stop offset="0.268" stop-color="#7bcd63"/><stop offset="0.289" stop-color="#8fdc74"/><stop offset="0.309" stop-color="#9ee881"/><stop offset="0.330" stop-color="#a5ed87"/><stop offset="0.351" stop-color="#a7ef89"/><stop offset="0.371" stop-color="#a9f089"/><stop offset="0.392" stop-color="#abf088"/><stop offset="0.412" stop-color="#adf087"/><stop offset="0.433" stop-color="#aef086"/><stop offset="0.454" stop-color="#b0f085"/><stop offset="0.474" stop-color="#b1ef84"/><stop offset="0.495" stop-color="#b2ef83"/><stop offset="0.515" stop-color="#b2ef83"/><stop offset="0.536" stop-color="#b2ef83"/><stop offset="0.557" stop-color="#b2ef83"/><stop offset="0.577" stop-color="#b1ef84"/><stop offset="0.598" stop-color="#b0f085"/><stop offset="0.619" stop-color="#aef086"/><stop offset="0.639" stop-color="#adf087"/><stop offset="0.660" stop-color="#abf088"/><stop offset="0.680" stop-color="#a9f089"/><stop offset="0.701" stop-color="#a7ef89"/><stop offset="0.722" stop-color="#a5ed87"/><stop offset="0.732" stop-color="#a4ed86"/><stop offset="0.742" stop-color="#a3ec85"/><stop offset="0.753" stop-color="#a2eb85"/><stop offset="0.763" stop-color="#a1ea84"/><stop offset="0.773" stop-color="#a0ea83"/><stop offset="0.784" stop-color="#9fe982"/><stop offset="0.794" stop-color="#8bda71"/><stop offset="0.804" stop-color="#52a649"/><stop offset="0.814" stop-color="#348436"/><stop offset="0.825" stop-color="#307f33"/><stop offset="0.835" stop-color="#2d7c32"/><stop offset="0.845" stop-color="#2c7a31"/><stop offset="0.856" stop-color="#2a772f"/><stop offset="0.876" stop-color="#27732d"/><stop offset="0.897" stop-color="#25702c"/><stop offset="0.918" stop-color="#25702c"/><stop offset="0.938" stop-color="#27732d"/><stop offset="0.959" stop-color="#2a772f"/><stop offset="0.979" stop-color="#2d7c32"/><stop offset="1.000" stop-color="#338335"/></linearGradient>
<linearGradient id="stall11" gradientUnits="userSpaceOnUse" x1="74" y1="0" x2="268" y2="0"><stop offset="0.000" stop-color="#41933e"/><stop offset="0.021" stop-color="#398b39"/><stop offset="0.041" stop-color="#348436"/><stop offset="0.062" stop-color="#318034"/><stop offset="0.082" stop-color="#2f7e33"/><stop offset="0.103" stop-color="#2f7f33"/><stop offset="0.124" stop-color="#318134"/><stop offset="0.144" stop-color="#358536"/><stop offset="0.165" stop-color="#3a8c3a"/><stop offset="0.186" stop-color="#42953f"/><stop offset="0.206" stop-color="#4da146"/><stop offset="0.227" stop-color="#5fb251"/><stop offset="0.247" stop-color="#73c55d"/><stop offset="0.268" stop-color="#86d66d"/><stop offset="0.289" stop-color="#98e37c"/><stop offset="0.309" stop-color="#a3ec86"/><stop offset="0.330" stop-color="#a7f089"/><stop offset="0.351" stop-color="#a9f089"/><stop offset="0.371" stop-color="#abf088"/><stop offset="0.392" stop-color="#aef086"/><stop offset="0.412" stop-color="#b0f085"/><stop offset="0.433" stop-color="#b1ef83"/><stop offset="0.454" stop-color="#b3ef82"/><stop offset="0.474" stop-color="#b5ef81"/><stop offset="0.495" stop-color="#b6ef81"/><stop offset="0.515" stop-color="#b6ef80"/><stop offset="0.536" stop-color="#b6ef80"/><stop offset="0.557" stop-color="#b6ef81"/><stop offset="0.577" stop-color="#b5ef81"/><stop offset="0.598" stop-color="#b3ef82"/><stop offset="0.619" stop-color="#b1ef83"/><stop offset="0.639" stop-color="#b0f085"/><stop offset="0.660" stop-color="#aef086"/><stop offset="0.680" stop-color="#abf088"/><stop offset="0.701" stop-color="#a9f089"/><stop offset="0.722" stop-color="#a7f089"/><stop offset="0.732" stop-color="#a6ef88"/><stop offset="0.742" stop-color="#a5ee87"/><stop offset="0.753" stop-color="#a4ed86"/><stop offset="0.763" stop-color="#a3ec86"/><stop offset="0.773" stop-color="#a2eb85"/><stop offset="0.784" stop-color="#a0ea83"/><stop offset="0.794" stop-color="#76c85f"/><stop offset="0.804" stop-color="#42953f"/><stop offset="0.814" stop-color="#348436"/><stop offset="0.825" stop-color="#318134"/><stop offset="0.835" stop-color="#2f7e32"/><stop offset="0.845" stop-color="#2d7b31"/><stop offset="0.856" stop-color="#2b7930"/><stop offset="0.876" stop-color="#29752f"/><stop offset="0.897" stop-color="#27732e"/><stop offset="0.918" stop-color="#27732e"/><stop offset="0.938" stop-color="#29752f"/><stop offset="0.959" stop-color="#2b7930"/><stop offset="0.979" stop-color="#2f7e32"/><stop offset="1.000" stop-color="#348436"/></linearGradient>
<linearGradient id="stall12" gradientUnits="userSpaceOnUse" x1="74" y1="0" x2="268" y2="0"><stop offset="0.000" stop-color="#479a42"/><stop offset="0.021" stop-color="#40923d"/><stop offset="0.041" stop-color="#3a8b3a"/><stop offset="0.062" stop-color="#378838"/><stop offset="0.082" stop-color="#368637"/><stop offset="0.103" stop-color="#368637"/><stop offset="0.124" stop-color="#388939"/><stop offset="0.144" stop-color="#3c8e3b"/><stop offset="0.165" stop-color="#43953f"/><stop offset="0.186" stop-color="#4b9f44"/><stop offset="0.206" stop-color="#5bae4f"/><stop offset="0.227" stop-color="#6dbf5a"/><stop offset="0.247" stop-color="#7fd067"/><stop offset="0.268" stop-color="#92de76"/><stop offset="0.289" stop-color="#a0ea83"/><stop offset="0.309" stop-color="#a8f08a"/><stop offset="0.330" stop-color="#aaf089"/><stop offset="0.351" stop-color="#acf087"/><stop offset="0.371" stop-color="#aef086"/><stop offset="0.392" stop-color="#b1ef84"/><stop offset="0.412" stop-color="#b3ef82"/><stop offset="0.433" stop-color="#b5ef81"/><stop offset="0.454" stop-color="#b7ef80"/><stop offset="0.474" stop-color="#b9ef7e"/><stop offset="0.495" stop-color="#baef7e"/><stop offset="0.515" stop-color="#baef7d"/><stop offset="0.536" stop-color="#baef7d"/><stop offset="0.557" stop-color="#baef7e"/><stop offset="0.577" stop-color="#b9ef7e"/><stop offset="0.598" stop-color="#b7ef80"/><stop offset="0.619" stop-color="#b5ef81"/><stop offset="0.639" stop-color="#b3ef82"/><stop offset="0.660" stop-color="#b1ef84"/><stop offset="0.680" stop-color="#aef086"/><stop offset="0.701" stop-color="#acf087"/><stop offset="0.722" stop-color="#aaf089"/><stop offset="0.732" stop-color="#a9f08a"/><stop offset="0.742" stop-color="#a8f08a"/><stop offset="0.753" stop-color="#a6ef89"/><stop offset="0.763" stop-color="#a5ee88"/><stop offset="0.773" stop-color="#a4ed87"/><stop offset="0.784" stop-color="#95e17a"/><stop offset="0.794" stop-color="#5eb151"/><stop offset="0.804" stop-color="#3a8b3a"/><stop offset="0.814" stop-color="#358537"/><stop offset="0.825" stop-color="#338335"/><stop offset="0.835" stop-color="#318034"/><stop offset="0.845" stop-color="#2e7d32"/><stop offset="0.856" stop-color="#2d7b31"/><stop offset="0.876" stop-color="#2b7830"/><stop offset="0.897" stop-color="#29762f"/><stop offset="0.918" stop-color="#29762f"/><stop offset="0.938" stop-color="#2b7830"/><stop offset="0.959" stop-color="#2d7b31"/><stop offset="0.979" stop-color="#318034"/><stop offset="1.000" stop-color="#358637"/></linearGradient>
<linearGradient id="stall13" gradientUnits="userSpaceOnUse" x1="74" y1="0" x2="268" y2="0"><stop offset="0.000" stop-color="#50a448"/><stop offset="0.021" stop-color="#479a42"/><stop offset="0.041" stop-color="#42943f"/><stop offset="0.062" stop-color="#3f913d"/><stop offset="0.082" stop-color="#3d8f3c"/><stop offset="0.103" stop-color="#3e903c"/><stop offset="0.124" stop-color="#41933e"/><stop offset="0.144" stop-color="#459941"/><stop offset="0.165" stop-color="#4da146"/><stop offset="0.186" stop-color="#5bae4e"/><stop offset="0.206" stop-color="#6abd58"/><stop offset="0.227" stop-color="#7bcd63"/><stop offset="0.247" stop-color="#8dda72"/><stop offset="0.268" stop-color="#9ce77f"/><stop offset="0.289" stop-color="#a6ef89"/><stop offset="0.309" stop-color="#aaf089"/><stop offset="0.330" stop-color="#acf087"/><stop offset="0.351" stop-color="#aff086"/><stop offset="0.371" stop-color="#b1ef84"/><stop offset="0.392" stop-color="#b4ef82"/><stop offset="0.412" stop-color="#b7ef80"/><stop offset="0.433" stop-color="#b9ef7e"/><stop offset="0.454" stop-color="#bcef7d"/><stop offset="0.474" stop-color="#bdef7b"/><stop offset="0.495" stop-color="#bfef7a"/><stop offset="0.515" stop-color="#bfef7a"/><stop offset="0.536" stop-color="#bfef7a"/><stop offset="0.557" stop-color="#bfef7a"/><stop offset="0.577" stop-color="#bdef7b"/><stop offset="0.598" stop-color="#bcef7d"/><stop offset="0.619" stop-color="#b9ef7e"/><stop offset="0.639" stop-color="#b7ef80"/><stop offset="0.660" stop-color="#b4ef82"/><stop offset="0.680" stop-color="#b1ef84"/><stop offset="0.701" stop-color="#aff086"/><stop offset="0.722" stop-color="#acf087"/><stop offset="0.732" stop-color="#abf088"/><stop offset="0.742" stop-color="#aaf089"/><stop offset="0.753" stop-color="#a9f08a"/><stop offset="0.763" stop-color="#a8f08a"/><stop offset="0.773" stop-color="#a6ef88"/><stop offset="0.784" stop-color="#80d067"/><stop offset="0.794" stop-color="#489c43"/><stop offset="0.804" stop-color="#388938"/><stop offset="0.814" stop-color="#378737"/><stop offset="0.825" stop-color="#358536"/><stop offset="0.835" stop-color="#338335"/><stop offset="0.845" stop-color="#318034"/><stop offset="0.856" stop-color="#2f7e33"/><stop offset="0.876" stop-color="#2d7b31"/><stop offset="0.897" stop-color="#2c7930"/><stop offset="0.918" stop-color="#2c7930"/><stop offset="0.938" stop-color="#2d7b31"/><stop offset="0.959" stop-color="#2f7e33"/><stop offset="0.979" stop-color="#358537"/><stop offset="1.000" stop-color="#3c8d3b"/></linearGradient>
<linearGradient id="stall14" gradientUnits="userSpaceOnUse" x1="74" y1="0" x2="268" y2="0"><stop offset="0.000" stop-color="#5db150"/><stop offset="0.021" stop-color="#53a74a"/><stop offset="0.041" stop-color="#4b9f45"/><stop offset="0.062" stop-color="#489b43"/><stop offset="0.082" stop-color="#479a42"/><stop offset="0.103" stop-color="#489c43"/><stop offset="0.124" stop-color="#4c9f45"/><stop offset="0.144" stop-color="#54a74a"/><stop offset="0.165" stop-color="#5fb251"/><stop offset="0.186" stop-color="#6cbe59"/><stop offset="0.206" stop-color="#7acc62"/><stop offset="0.227" stop-color="#8ad970"/><stop offset="0.247" stop-color="#99e47d"/><stop offset="0.268" stop-color="#a5ed87"/><stop offset="0.289" stop-color="#aaf089"/><stop offset="0.309" stop-color="#acf087"/><stop offset="0.330" stop-color="#aff085"/><stop offset="0.351" stop-color="#b2ef83"/><stop offset="0.371" stop-color="#b5ef81"/><stop offset="0.392" stop-color="#b8ef7f"/><stop offset="0.412" stop-color="#bbef7d"/><stop offset="0.433" stop-color="#beef7b"/><stop offset="0.454" stop-color="#c1ee79"/><stop offset="0.474" stop-color="#c3ee78"/><stop offset="0.495" stop-color="#c4ee77"/><stop offset="0.515" stop-color="#c5ee76"/><stop offset="0.536" stop-color="#c5ee76"/><stop offset="0.557" stop-color="#c4ee77"/><stop offset="0.577" stop-color="#c3ee78"/><stop offset="0.598" stop-color="#c1ee79"/><stop offset="0.619" stop-color="#beef7b"/><stop offset="0.639" stop-color="#bbef7d"/><stop offset="0.660" stop-color="#b8ef7f"/><stop offset="0.680" stop-color="#b5ef81"/><stop offset="0.701" stop-color="#b1ef83"/><stop offset="0.722" stop-color="#aff085"/><stop offset="0.732" stop-color="#adf086"/><stop offset="0.742" stop-color="#acf087"/><stop offset="0.753" stop-color="#abf088"/><stop offset="0.763" stop-color="#aaf089"/><stop offset="0.773" stop-color="#9de881"/><stop offset="0.784" stop-color="#66b955"/><stop offset="0.794" stop-color="#3e903c"/><stop offset="0.804" stop-color="#398a39"/><stop offset="0.814" stop-color="#388938"/><stop offset="0.825" stop-color="#378738"/><stop offset="0.835" stop-color="#358537"/><stop offset="0.845" stop-color="#348436"/><stop offset="0.856" stop-color="#328235"/><stop offset="0.876" stop-color="#2f7f33"/><stop offset="0.897" stop-color="#2e7d32"/><stop offset="0.918" stop-color="#2e7d32"/><stop offset="0.938" stop-color="#328235"/><stop offset="0.959" stop-color="#388939"/><stop offset="0.979" stop-color="#40923e"/><stop offset="1.000" stop-color="#489b42"/></linearGradient>
<linearGradient id="stall15" gradientUnits="userSpaceOnUse" x1="74" y1="0" x2="268" y2="0"><stop offset="0.000" stop-color="#6bbe59"/><stop offset="0.021" stop-color="#62b553"/><stop offset="0.041" stop-color="#5bae4f"/><stop offset="0.062" stop-color="#57aa4c"/><stop offset="0.082" stop-color="#56aa4c"/><stop offset="0.103" stop-color="#58ac4d"/><stop offset="0.124" stop-color="#5eb150"/><stop offset="0.144" stop-color="#66b855"/><stop offset="0.165" stop-color="#70c25c"/><stop offset="0.186" stop-color="#7cce64"/><stop offset="0.206" stop-color="#8ad970"/><stop offset="0.227" stop-color="#98e37c"/><stop offset="0.247" stop-color="#a3ec86"/><stop offset="0.268" stop-color="#a9f089"/><stop offset="0.289" stop-color="#acf087"/><stop offset="0.309" stop-color="#aef086"/><stop offset="0.330" stop-color="#b1ef84"/><stop offset="0.351" stop-color="#b5ef81"/><stop offset="0.371" stop-color="#b8ef7f"/><stop offset="0.392" stop-color="#bcef7c"/><stop offset="0.412" stop-color="#bfef7a"/><stop offset="0.433" stop-color="#c3ee78"/><stop offset="0.454" stop-color="#c6ee75"/><stop offset="0.474" stop-color="#c8ee74"/><stop offset="0.495" stop-color="#caee73"/><stop offset="0.515" stop-color="#cbed72"/><stop offset="0.536" stop-color="#cbed72"/><stop offset="0.557" stop-color="#caee73"/><stop offset="0.577" stop-color="#c8ee74"/><stop offset="0.598" stop-color="#c6ee76"/><stop offset="0.619" stop-color="#c3ee78"/><stop offset="0.639" stop-color="#bfef7a"/><stop offset="0.660" stop-color="#bcef7c"/><stop offset="0.680" stop-color="#b8ef7f"/><stop offset="0.701" stop-color="#b5ef81"/><stop offset="0.722" stop-color="#b1ef84"/><stop offset="0.732" stop-color="#b0f085"/><stop offset="0.742" stop-color="#aef086"/><stop offset="0.753" stop-color="#adf087"/><stop offset="0.763" stop-color="#acf087"/><stop offset="0.773" stop-color="#8ddb73"/><stop offset="0.784" stop-color="#51a549"/><stop offset="0.794" stop-color="#3a8c3a"/><stop offset="0.804" stop-color="#3a8b3a"/><stop offset="0.814" stop-color="#398a39"/><stop offset="0.825" stop-color="#388938"/><stop offset="0.835" stop-color="#378838"/><stop offset="0.845" stop-color="#368637"/><stop offset="0.856" stop-color="#358536"/><stop offset="0.876" stop-color="#338336"/><stop offset="0.897" stop-color="#358536"/><stop offset="0.918" stop-color="#398939"/><stop offset="0.938" stop-color="#3f913d"/><stop offset="0.959" stop-color="#469a42"/><stop offset="0.979" stop-color="#51a549"/><stop offset="1.000" stop-color="#5fb251"/></linearGradient>
<linearGradient id="stall16" gradientUnits="userSpaceOnUse" x1="74" y1="0" x2="268" y2="0"><stop offset="0.000" stop-color="#79cb61"/><stop offset="0.021" stop-color="#71c35c"/><stop offset="0.041" stop-color="#6bbe59"/><stop offset="0.062" stop-color="#68bb57"/><stop offset="0.082" stop-color="#68ba57"/><stop offset="0.103" stop-color="#6abd58"/><stop offset="0.124" stop-color="#6fc25b"/><stop offset="0.144" stop-color="#77c960"/><stop offset="0.165" stop-color="#81d268"/><stop offset="0.186" stop-color="#8ddb72"/><stop offset="0.206" stop-color="#98e47c"/><stop offset="0.227" stop-color="#a2ec85"/><stop offset="0.247" stop-color="#a9f089"/><stop offset="0.268" stop-color="#abf088"/><stop offset="0.289" stop-color="#aef086"/><stop offset="0.309" stop-color="#b1ef84"/><stop offset="0.330" stop-color="#b4ef82"/><stop offset="0.351" stop-color="#b8ef7f"/><stop offset="0.371" stop-color="#bcef7c"/><stop offset="0.392" stop-color="#c0ef7a"/><stop offset="0.412" stop-color="#c4ee77"/><stop offset="0.433" stop-color="#c8ee74"/><stop offset="0.454" stop-color="#cbed72"/><stop offset="0.474" stop-color="#ceed71"/><stop offset="0.495" stop-color="#d0ec70"/><stop offset="0.515" stop-color="#d1ec6f"/><stop offset="0.536" stop-color="#d1ec6f"/><stop offset="0.557" stop-color="#d0ec70"/><stop offset="0.577" stop-color="#ceed71"/><stop offset="0.598" stop-color="#cbed72"/><stop offset="0.619" stop-color="#c8ee74"/><stop offset="0.639" stop-color="#c4ee77"/><stop offset="0.660" stop-color="#c0ef7a"/><stop offset="0.680" stop-color="#bcef7d"/><stop offset="0.701" stop-color="#b8ef7f"/><stop offset="0.722" stop-color="#b4ef82"/><stop offset="0.732" stop-color="#b2ef83"/><stop offset="0.742" stop-color="#b1ef84"/><stop offset="0.753" stop-color="#aff085"/><stop offset="0.763" stop-color="#abf088"/><stop offset="0.773" stop-color="#78ca60"/><stop offset="0.784" stop-color="#449740"/><stop offset="0.794" stop-color="#3b8c3a"/><stop offset="0.804" stop-color="#3a8c3a"/><stop offset="0.814" stop-color="#3a8b3a"/><stop offset="0.825" stop-color="#398b39"/><stop offset="0.835" stop-color="#398a39"/><stop offset="0.845" stop-color="#3a8b3a"/><stop offset="0.856" stop-color="#3a8c3a"/><stop offset="0.876" stop-color="#3d8f3c"/><stop offset="0.897" stop-color="#41943e"/><stop offset="0.918" stop-color="#479b42"/><stop offset="0.938" stop-color="#52a549"/><stop offset="0.959" stop-color="#5fb251"/><stop offset="0.979" stop-color="#6cbe59"/><stop offset="1.000" stop-color="#78ca61"/></linearGradient>
<linearGradient id="stall17" gradientUnits="userSpaceOnUse" x1="74" y1="0" x2="268" y2="0"><stop offset="0.000" stop-color="#87d66d"/><stop offset="0.021" stop-color="#80d167"/><stop offset="0.041" stop-color="#7bcd63"/><stop offset="0.062" stop-color="#79cb61"/><stop offset="0.082" stop-color="#79cb61"/><stop offset="0.103" stop-color="#7bcd63"/><stop offset="0.124" stop-color="#81d168"/><stop offset="0.144" stop-color="#88d76e"/><stop offset="0.165" stop-color="#91de76"/><stop offset="0.186" stop-color="#9ae57e"/><stop offset="0.206" stop-color="#a3ec86"/><stop offset="0.227" stop-color="#a9f089"/><stop offset="0.247" stop-color="#abf088"/><stop offset="0.268" stop-color="#adf087"/><stop offset="0.289" stop-color="#b0f085"/><stop offset="0.309" stop-color="#b3ef82"/><stop offset="0.330" stop-color="#b7ef80"/><stop offset="0.351" stop-color="#bbef7d"/><stop offset="0.371" stop-color="#bfef7a"/><stop offset="0.392" stop-color="#c4ee77"/><stop offset="0.412" stop-color="#c8ee74"/><stop offset="0.433" stop-color="#cded71"/><stop offset="0.454" stop-color="#d1ec6f"/><stop offset="0.474" stop-color="#d4eb6d"/><stop offset="0.495" stop-color="#d6eb6c"/><stop offset="0.515" stop-color="#d7ea6c"/><stop offset="0.536" stop-color="#d7ea6c"/><stop offset="0.557" stop-color="#d6eb6c"/><stop offset="0.577" stop-color="#d4eb6e"/><stop offset="0.598" stop-color="#d0ec6f"/><stop offset="0.619" stop-color="#cded71"/><stop offset="0.639" stop-color="#c8ee74"/><stop offset="0.660" stop-color="#c4ee77"/><stop offset="0.680" stop-color="#bfef7a"/><stop offset="0.701" stop-color="#bbef7d"/><stop offset="0.722" stop-color="#b7ef80"/><stop offset="0.732" stop-color="#b5ef81"/><stop offset="0.742" stop-color="#b3ef83"/><stop offset="0.753" stop-color="#b1ef84"/><stop offset="0.763" stop-color="#9fe982"/><stop offset="0.773" stop-color="#61b453"/><stop offset="0.784" stop-color="#3d8f3c"/><stop offset="0.794" stop-color="#3c8e3b"/><stop offset="0.804" stop-color="#3d8f3c"/><stop offset="0.814" stop-color="#3e903c"/><stop offset="0.825" stop-color="#40923d"/><stop offset="0.835" stop-color="#41943e"/><stop offset="0.845" stop-color="#439640"/><stop offset="0.856" stop-color="#469941"/><stop offset="0.876" stop-color="#4b9f45"/><stop offset="0.897" stop-color="#56a94b"/><stop offset="0.918" stop-color="#61b453"/><stop offset="0.938" stop-color="#6ec05a"/><stop offset="0.959" stop-color="#7acc62"/><stop offset="0.979" stop-color="#86d56c"/><stop offset="1.000" stop-color="#90dd75"/></linearGradient>
<linearGradient id="stall18" gradientUnits="userSpaceOnUse" x1="74" y1="0" x2="268" y2="0"><stop offset="0.000" stop-color="#94e078"/><stop offset="0.021" stop-color="#8edc74"/><stop offset="0.041" stop-color="#8bd970"/><stop offset="0.062" stop-color="#89d86f"/><stop offset="0.082" stop-color="#89d86f"/><stop offset="0.103" stop-color="#8cda72"/><stop offset="0.124" stop-color="#91de76"/><stop offset="0.144" stop-color="#97e37b"/><stop offset="0.165" stop-color="#9ee881"/><stop offset="0.186" stop-color="#a5ed87"/><stop offset="0.206" stop-color="#a9f089"/><stop offset="0.227" stop-color="#abf088"/><stop offset="0.247" stop-color="#acf087"/><stop offset="0.268" stop-color="#aff085"/><stop offset="0.289" stop-color="#b2ef83"/><stop offset="0.309" stop-color="#b5ef81"/><stop offset="0.330" stop-color="#baef7e"/><stop offset="0.351" stop-color="#beef7b"/><stop offset="0.371" stop-color="#c3ee77"/><stop offset="0.392" stop-color="#c8ee74"/><stop offset="0.412" stop-color="#cded71"/><stop offset="0.433" stop-color="#d2ec6f"/><stop offset="0.454" stop-color="#d6eb6c"/><stop offset="0.474" stop-color="#d9ea6a"/><stop offset="0.495" stop-color="#dce969"/><stop offset="0.515" stop-color="#dde968"/><stop offset="0.536" stop-color="#dde968"/><stop offset="0.557" stop-color="#dbe969"/><stop offset="0.577" stop-color="#d9ea6a"/><stop offset="0.598" stop-color="#d6eb6c"/><stop offset="0.619" stop-color="#d2ec6f"/><stop offset="0.639" stop-color="#cded71"/><stop offset="0.660" stop-color="#c8ee74"/><stop offset="0.680" stop-color="#c2ee78"/><stop offset="0.701" stop-color="#beef7b"/><stop offset="0.722" stop-color="#b9ef7e"/><stop offset="0.732" stop-color="#b7ef80"/><stop offset="0.742" stop-color="#b5ef81"/><stop offset="0.753" stop-color="#b3ef83"/><stop offset="0.763" stop-color="#8ddb72"/><stop offset="0.773" stop-color="#52a649"/><stop offset="0.784" stop-color="#42943f"/><stop offset="0.794" stop-color="#449740"/><stop offset="0.804" stop-color="#469941"/><stop offset="0.814" stop-color="#499c43"/><stop offset="0.825" stop-color="#4ca045"/><stop offset="0.835" stop-color="#51a548"/><stop offset="0.845" stop-color="#56a94b"/><stop offset="0.856" stop-color="#5bae4f"/><stop offset="0.876" stop-color="#66b955"/><stop offset="0.897" stop-color="#71c35c"/><stop offset="0.918" stop-color="#7cce64"/><stop offset="0.938" stop-color="#88d76e"/><stop offset="0.959" stop-color="#92df77"/><stop offset="0.979" stop-color="#9be67e"/><stop offset="1.000" stop-color="#a1ea84"/></linearGradient>
<linearGradient id="stall19" gradientUnits="userSpaceOnUse" x1="74" y1="0" x2="268" y2="0"><stop offset="0.000" stop-color="#9ee881"/><stop offset="0.021" stop-color="#9ae57e"/><stop offset="0.041" stop-color="#98e37c"/><stop offset="0.062" stop-color="#97e27b"/><stop offset="0.082" stop-color="#97e37c"/><stop offset="0.103" stop-color="#9ae57e"/><stop offset="0.124" stop-color="#9de881"/><stop offset="0.144" stop-color="#a2eb85"/><stop offset="0.165" stop-color="#a6ef89"/><stop offset="0.186" stop-color="#a9f089"/><stop offset="0.206" stop-color="#aaf088"/><stop offset="0.227" stop-color="#acf087"/><stop offset="0.247" stop-color="#aef086"/><stop offset="0.268" stop-color="#b1ef84"/><stop offset="0.289" stop-color="#b4ef82"/><stop offset="0.309" stop-color="#b8ef7f"/><stop offset="0.330" stop-color="#bcef7c"/><stop offset="0.351" stop-color="#c1ee79"/><stop offset="0.371" stop-color="#c6ee75"/><stop offset="0.392" stop-color="#cced72"/><stop offset="0.412" stop-color="#d1ec6f"/><stop offset="0.433" stop-color="#d6ea6c"/><stop offset="0.454" stop-color="#dbe969"/><stop offset="0.474" stop-color="#dfe867"/><stop offset="0.495" stop-color="#e1e866"/><stop offset="0.515" stop-color="#e2e765"/><stop offset="0.536" stop-color="#e2e765"/><stop offset="0.557" stop-color="#e1e866"/><stop offset="0.577" stop-color="#dee867"/><stop offset="0.598" stop-color="#dbe969"/><stop offset="0.619" stop-color="#d7ea6c"/><stop offset="0.639" stop-color="#d3eb6e"/><stop offset="0.660" stop-color="#cced72"/><stop offset="0.680" stop-color="#c6ee76"/><stop offset="0.701" stop-color="#c0ee79"/><stop offset="0.722" stop-color="#bbef7d"/><stop offset="0.732" stop-color="#b9ef7e"/><stop offset="0.742" stop-color="#b7ef80"/><stop offset="0.753" stop-color="#b1ef84"/><stop offset="0.763" stop-color="#84d46b"/><stop offset="0.773" stop-color="#57aa4c"/><stop offset="0.784" stop-color="#50a448"/><stop offset="0.794" stop-color="#55a94b"/><stop offset="0.804" stop-color="#5aae4e"/><stop offset="0.814" stop-color="#60b352"/><stop offset="0.825" stop-color="#65b855"/><stop offset="0.835" stop-color="#6bbd58"/><stop offset="0.845" stop-color="#70c25c"/><stop offset="0.856" stop-color="#75c85f"/><stop offset="0.876" stop-color="#80d168"/><stop offset="0.897" stop-color="#8bda71"/><stop offset="0.918" stop-color="#95e179"/><stop offset="0.938" stop-color="#9de780"/><stop offset="0.959" stop-color="#a2ec85"/><stop offset="0.979" stop-color="#a5ee88"/><stop offset="1.000" stop-color="#a6ee88"/></linearGradient>
<linearGradient id="stall20" gradientUnits="userSpaceOnUse" x1="74" y1="0" x2="268" y2="0"><stop offset="0.000" stop-color="#a5ed87"/><stop offset="0.021" stop-color="#a3ec86"/><stop offset="0.041" stop-color="#a2eb84"/><stop offset="0.062" stop-color="#a1eb84"/><stop offset="0.082" stop-color="#a2eb85"/><stop offset="0.103" stop-color="#a4ec86"/><stop offset="0.124" stop-color="#a6ee88"/><stop offset="0.144" stop-color="#a8f08a"/><stop offset="0.165" stop-color="#a9f089"/><stop offset="0.186" stop-color="#aaf089"/><stop offset="0.206" stop-color="#abf088"/><stop offset="0.227" stop-color="#adf087"/><stop offset="0.247" stop-color="#aff085"/><stop offset="0.268" stop-color="#b2ef83"/><stop offset="0.289" stop-color="#b5ef81"/><stop offset="0.309" stop-color="#baef7e"/><stop offset="0.330" stop-color="#beef7b"/><stop offset="0.351" stop-color="#c4ee77"/><stop offset="0.371" stop-color="#c9ee73"/><stop offset="0.392" stop-color="#cfec70"/><stop offset="0.412" stop-color="#d5eb6d"/><stop offset="0.433" stop-color="#dae96a"/><stop offset="0.454" stop-color="#dfe867"/><stop offset="0.474" stop-color="#e3e765"/><stop offset="0.495" stop-color="#e6e763"/><stop offset="0.515" stop-color="#e7e662"/><stop offset="0.536" stop-color="#e7e662"/><stop offset="0.557" stop-color="#e6e763"/><stop offset="0.577" stop-color="#e3e765"/><stop offset="0.598" stop-color="#e0e866"/><stop offset="0.619" stop-color="#dde968"/><stop offset="0.639" stop-color="#d9ea6a"/><stop offset="0.660" stop-color="#d0ec6f"/><stop offset="0.680" stop-color="#c8ee74"/><stop offset="0.701" stop-color="#c2ee78"/><stop offset="0.722" stop-color="#bcef7c"/><stop offset="0.732" stop-color="#baef7e"/><stop offset="0.742" stop-color="#b8ef7f"/><stop offset="0.753" stop-color="#aff085"/><stop offset="0.763" stop-color="#88d76e"/><stop offset="0.773" stop-color="#69bb57"/><stop offset="0.784" stop-color="#6abc58"/><stop offset="0.794" stop-color="#6fc25b"/><stop offset="0.804" stop-color="#75c75f"/><stop offset="0.814" stop-color="#7acc62"/><stop offset="0.825" stop-color="#80d067"/><stop offset="0.835" stop-color="#85d56c"/><stop offset="0.845" stop-color="#8ad970"/><stop offset="0.856" stop-color="#8fdd75"/><stop offset="0.876" stop-color="#98e47c"/><stop offset="0.897" stop-color="#9fe983"/><stop offset="0.918" stop-color="#a5ed87"/><stop offset="0.938" stop-color="#a7ef89"/><stop offset="0.959" stop-color="#a7ef89"/><stop offset="0.979" stop-color="#a7ef89"/><stop offset="1.000" stop-color="#a6ef89"/></linearGradient>
<linearGradient id="stall21" gradientUnits="userSpaceOnUse" x1="74" y1="0" x2="268" y2="0"><stop offset="0.000" stop-color="#a7ef89"/><stop offset="0.021" stop-color="#a7ef89"/><stop offset="0.041" stop-color="#a6ef89"/><stop offset="0.062" stop-color="#a6ef88"/><stop offset="0.082" stop-color="#a7ef89"/><stop offset="0.103" stop-color="#a8f08a"/><stop offset="0.124" stop-color="#a9f08a"/><stop offset="0.144" stop-color="#a9f089"/><stop offset="0.165" stop-color="#aaf089"/><stop offset="0.186" stop-color="#abf088"/><stop offset="0.206" stop-color="#acf087"/><stop offset="0.227" stop-color="#aef086"/><stop offset="0.247" stop-color="#b0f085"/><stop offset="0.268" stop-color="#b3ef83"/><stop offset="0.289" stop-color="#b6ef80"/><stop offset="0.309" stop-color="#bbef7d"/><stop offset="0.330" stop-color="#c0ef7a"/><stop offset="0.351" stop-color="#c5ee76"/><stop offset="0.371" stop-color="#cbed72"/><stop offset="0.392" stop-color="#d2ec6f"/><stop offset="0.412" stop-color="#d8ea6b"/><stop offset="0.433" stop-color="#dde968"/><stop offset="0.454" stop-color="#e2e765"/><stop offset="0.474" stop-color="#e6e663"/><stop offset="0.495" stop-color="#e9e661"/><stop offset="0.515" stop-color="#e9e560"/><stop offset="0.536" stop-color="#e9e560"/><stop offset="0.557" stop-color="#e9e561"/><stop offset="0.577" stop-color="#e7e662"/><stop offset="0.598" stop-color="#e5e764"/><stop offset="0.619" stop-color="#e2e865"/><stop offset="0.639" stop-color="#dee867"/><stop offset="0.660" stop-color="#d3eb6e"/><stop offset="0.680" stop-color="#c9ee73"/><stop offset="0.701" stop-color="#c3ee78"/><stop offset="0.722" stop-color="#bdef7c"/><stop offset="0.732" stop-color="#baef7d"/><stop offset="0.742" stop-color="#b8ef7f"/><stop offset="0.753" stop-color="#aef086"/><stop offset="0.763" stop-color="#8fdd74"/><stop offset="0.773" stop-color="#7bcc62"/><stop offset="0.784" stop-color="#7fd066"/><stop offset="0.794" stop-color="#84d46b"/><stop offset="0.804" stop-color="#89d86f"/><stop offset="0.814" stop-color="#8fdc74"/><stop offset="0.825" stop-color="#93e078"/><stop offset="0.835" stop-color="#98e37c"/><stop offset="0.845" stop-color="#9ce67f"/><stop offset="0.856" stop-color="#9fe982"/><stop offset="0.876" stop-color="#a5ed87"/><stop offset="0.897" stop-color="#a8f08a"/><stop offset="0.918" stop-color="#a8f08a"/><stop offset="0.938" stop-color="#a8f08a"/><stop offset="0.959" stop-color="#a7f089"/><stop offset="0.979" stop-color="#a7ef89"/><stop offset="1.000" stop-color="#a7ef89"/></linearGradient>
<linearGradient id="stall22" gradientUnits="userSpaceOnUse" x1="74" y1="0" x2="268" y2="0"><stop offset="0.000" stop-color="#a8f08a"/><stop offset="0.021" stop-color="#a8f08a"/><stop offset="0.041" stop-color="#a8f08a"/><stop offset="0.062" stop-color="#a8f08a"/><stop offset="0.082" stop-color="#a8f08a"/><stop offset="0.103" stop-color="#a9f08a"/><stop offset="0.124" stop-color="#a9f089"/><stop offset="0.144" stop-color="#aaf089"/><stop offset="0.165" stop-color="#aaf088"/><stop offset="0.186" stop-color="#abf088"/><stop offset="0.206" stop-color="#acf087"/><stop offset="0.227" stop-color="#aef086"/><stop offset="0.247" stop-color="#b1ef84"/><stop offset="0.268" stop-color="#b4ef82"/><stop offset="0.289" stop-color="#b8ef7f"/><stop offset="0.309" stop-color="#bcef7c"/><stop offset="0.330" stop-color="#c1ee79"/><stop offset="0.351" stop-color="#c7ee75"/><stop offset="0.371" stop-color="#cded71"/><stop offset="0.392" stop-color="#d4eb6d"/><stop offset="0.412" stop-color="#daea6a"/><stop offset="0.433" stop-color="#e0e867"/><stop offset="0.454" stop-color="#e5e764"/><stop offset="0.474" stop-color="#e9e561"/><stop offset="0.495" stop-color="#eae45f"/><stop offset="0.515" stop-color="#ebe45e"/><stop offset="0.536" stop-color="#ebe45e"/><stop offset="0.557" stop-color="#eae45f"/><stop offset="0.577" stop-color="#eae560"/><stop offset="0.598" stop-color="#e9e561"/><stop offset="0.619" stop-color="#e7e663"/><stop offset="0.639" stop-color="#e2e765"/><stop offset="0.660" stop-color="#d6eb6c"/><stop offset="0.680" stop-color="#caed73"/><stop offset="0.701" stop-color="#c3ee77"/><stop offset="0.722" stop-color="#bdef7b"/><stop offset="0.732" stop-color="#bbef7d"/><stop offset="0.742" stop-color="#b8ef7f"/><stop offset="0.753" stop-color="#aff085"/><stop offset="0.763" stop-color="#9ae57d"/><stop offset="0.773" stop-color="#8fdd74"/><stop offset="0.784" stop-color="#94e078"/><stop offset="0.794" stop-color="#98e37c"/><stop offset="0.804" stop-color="#9ce780"/><stop offset="0.814" stop-color="#a0ea83"/><stop offset="0.825" stop-color="#a3ec86"/><stop offset="0.835" stop-color="#a5ee88"/><stop offset="0.845" stop-color="#a8f08a"/><stop offset="0.856" stop-color="#a9f089"/><stop offset="0.876" stop-color="#a9f089"/><stop offset="0.897" stop-color="#a9f089"/><stop offset="0.918" stop-color="#a8f08a"/><stop offset="0.938" stop-color="#a8f08a"/><stop offset="0.959" stop-color="#a8f08a"/><stop offset="0.979" stop-color="#a8f08a"/><stop offset="1.000" stop-color="#a8f08a"/></linearGradient>
<linearGradient id="stall23" gradientUnits="userSpaceOnUse" x1="74" y1="0" x2="268" y2="0"><stop offset="0.000" stop-color="#abf088"/><stop offset="0.021" stop-color="#abf088"/><stop offset="0.041" stop-color="#abf088"/><stop offset="0.062" stop-color="#abf088"/><stop offset="0.082" stop-color="#abf088"/><stop offset="0.103" stop-color="#abf088"/><stop offset="0.124" stop-color="#acf088"/><stop offset="0.144" stop-color="#acf087"/><stop offset="0.165" stop-color="#acf087"/><stop offset="0.186" stop-color="#acf087"/><stop offset="0.206" stop-color="#adf087"/><stop offset="0.227" stop-color="#aff085"/><stop offset="0.247" stop-color="#b1ef84"/><stop offset="0.268" stop-color="#b5ef81"/><stop offset="0.289" stop-color="#b8ef7f"/><stop offset="0.309" stop-color="#bdef7b"/><stop offset="0.330" stop-color="#c3ee78"/><stop offset="0.351" stop-color="#c8ee74"/><stop offset="0.371" stop-color="#cfec70"/><stop offset="0.392" stop-color="#d5eb6c"/><stop offset="0.412" stop-color="#dce969"/><stop offset="0.433" stop-color="#e2e765"/><stop offset="0.454" stop-color="#e8e662"/><stop offset="0.474" stop-color="#eae55f"/><stop offset="0.495" stop-color="#ebe35d"/><stop offset="0.515" stop-color="#ece35c"/><stop offset="0.536" stop-color="#ece35c"/><stop offset="0.557" stop-color="#ece35c"/><stop offset="0.577" stop-color="#ece35c"/><stop offset="0.598" stop-color="#ebe35d"/><stop offset="0.619" stop-color="#e9e560"/><stop offset="0.639" stop-color="#e4e764"/><stop offset="0.660" stop-color="#d7ea6c"/><stop offset="0.680" stop-color="#cbed72"/><stop offset="0.701" stop-color="#c3ee77"/><stop offset="0.722" stop-color="#bdef7b"/><stop offset="0.732" stop-color="#baef7d"/><stop offset="0.742" stop-color="#b8ef7f"/><stop offset="0.753" stop-color="#b0f085"/><stop offset="0.763" stop-color="#a5ee88"/><stop offset="0.773" stop-color="#a2eb84"/><stop offset="0.784" stop-color="#a5ed87"/><stop offset="0.794" stop-color="#a7f08a"/><stop offset="0.804" stop-color="#a9f089"/><stop offset="0.814" stop-color="#aaf088"/><stop offset="0.825" stop-color="#abf088"/><stop offset="0.835" stop-color="#abf088"/><stop offset="0.845" stop-color="#abf088"/><stop offset="0.856" stop-color="#aaf088"/><stop offset="0.876" stop-color="#aaf089"/><stop offset="0.897" stop-color="#a9f089"/><stop offset="0.918" stop-color="#a9f089"/><stop offset="0.938" stop-color="#a9f08a"/><stop offset="0.959" stop-color="#a8f08a"/><stop offset="0.979" stop-color="#a8f08a"/><stop offset="1.000" stop-color="#a8f08a"/></linearGradient>
<linearGradient id="stall24" gradientUnits="userSpaceOnUse" x1="74" y1="0" x2="268" y2="0"><stop offset="0.000" stop-color="#adf086"/><stop offset="0.021" stop-color="#adf086"/><stop offset="0.041" stop-color="#adf086"/><stop offset="0.062" stop-color="#aef086"/><stop offset="0.082" stop-color="#aef086"/><stop offset="0.103" stop-color="#aef086"/><stop offset="0.124" stop-color="#aef086"/><stop offset="0.144" stop-color="#aff085"/><stop offset="0.165" stop-color="#aff085"/><stop offset="0.186" stop-color="#aff085"/><stop offset="0.206" stop-color="#aff085"/><stop offset="0.227" stop-color="#b0f085"/><stop offset="0.247" stop-color="#b2ef83"/><stop offset="0.268" stop-color="#b5ef81"/><stop offset="0.289" stop-color="#b9ef7e"/><stop offset="0.309" stop-color="#beef7b"/><stop offset="0.330" stop-color="#c4ee77"/><stop offset="0.351" stop-color="#caee73"/><stop offset="0.371" stop-color="#d0ec6f"/><stop offset="0.392" stop-color="#d7ea6c"/><stop offset="0.412" stop-color="#dee968"/><stop offset="0.433" stop-color="#e4e764"/><stop offset="0.454" stop-color="#e9e561"/><stop offset="0.474" stop-color="#ebe45e"/><stop offset="0.495" stop-color="#ece35c"/><stop offset="0.515" stop-color="#ede25a"/><stop offset="0.536" stop-color="#eee159"/><stop offset="0.557" stop-color="#eee159"/><stop offset="0.577" stop-color="#eee159"/><stop offset="0.598" stop-color="#ede25a"/><stop offset="0.619" stop-color="#eae45e"/><stop offset="0.639" stop-color="#e4e764"/><stop offset="0.660" stop-color="#d7ea6c"/><stop offset="0.680" stop-color="#cbed72"/><stop offset="0.701" stop-color="#c3ee77"/><stop offset="0.722" stop-color="#bdef7c"/><stop offset="0.732" stop-color="#baef7e"/><stop offset="0.742" stop-color="#b7ef7f"/><stop offset="0.753" stop-color="#b2ef83"/><stop offset="0.763" stop-color="#adf086"/><stop offset="0.773" stop-color="#adf087"/><stop offset="0.784" stop-color="#adf086"/><stop offset="0.794" stop-color="#aef086"/><stop offset="0.804" stop-color="#adf086"/><stop offset="0.814" stop-color="#adf087"/><stop offset="0.825" stop-color="#acf087"/><stop offset="0.835" stop-color="#abf088"/><stop offset="0.845" stop-color="#abf088"/><stop offset="0.856" stop-color="#aaf088"/><stop offset="0.876" stop-color="#aaf089"/><stop offset="0.897" stop-color="#aaf088"/><stop offset="0.918" stop-color="#abf088"/><stop offset="0.938" stop-color="#abf088"/><stop offset="0.959" stop-color="#abf088"/><stop offset="0.979" stop-color="#abf088"/><stop offset="1.000" stop-color="#abf088"/></linearGradient>
<linearGradient id="stall25" gradientUnits="userSpaceOnUse" x1="74" y1="0" x2="268" y2="0"><stop offset="0.000" stop-color="#b0ef84"/><stop offset="0.021" stop-color="#b0ef84"/><stop offset="0.041" stop-color="#b0ef84"/><stop offset="0.062" stop-color="#b0ef84"/><stop offset="0.082" stop-color="#b1ef84"/><stop offset="0.103" stop-color="#b1ef84"/><stop offset="0.124" stop-color="#b1ef84"/><stop offset="0.144" stop-color="#b2ef83"/><stop offset="0.165" stop-color="#b2ef83"/><stop offset="0.186" stop-color="#b2ef83"/><stop offset="0.206" stop-color="#b2ef83"/><stop offset="0.227" stop-color="#b3ef83"/><stop offset="0.247" stop-color="#b5ef81"/><stop offset="0.268" stop-color="#b8ef7f"/><stop offset="0.289" stop-color="#bcef7c"/><stop offset="0.309" stop-color="#c1ee79"/><stop offset="0.330" stop-color="#c6ee75"/><stop offset="0.351" stop-color="#cded71"/><stop offset="0.371" stop-color="#d3eb6e"/><stop offset="0.392" stop-color="#dae96a"/><stop offset="0.412" stop-color="#e1e866"/><stop offset="0.433" stop-color="#e7e662"/><stop offset="0.454" stop-color="#eae45f"/><stop offset="0.474" stop-color="#ece25c"/><stop offset="0.495" stop-color="#eee159"/><stop offset="0.515" stop-color="#efe057"/><stop offset="0.536" stop-color="#f0df55"/><stop offset="0.557" stop-color="#f1de54"/><stop offset="0.577" stop-color="#f1df55"/><stop offset="0.598" stop-color="#efe058"/><stop offset="0.619" stop-color="#ebe35d"/><stop offset="0.639" stop-color="#e4e764"/><stop offset="0.660" stop-color="#d7ea6b"/><stop offset="0.680" stop-color="#cced72"/><stop offset="0.701" stop-color="#c4ee76"/><stop offset="0.722" stop-color="#beef7b"/><stop offset="0.732" stop-color="#bbef7d"/><stop offset="0.742" stop-color="#b8ef7f"/><stop offset="0.753" stop-color="#b5ef81"/><stop offset="0.763" stop-color="#b3ef82"/><stop offset="0.773" stop-color="#b2ef83"/><stop offset="0.784" stop-color="#b1ef84"/><stop offset="0.794" stop-color="#b0f085"/><stop offset="0.804" stop-color="#aff085"/><stop offset="0.814" stop-color="#aef086"/><stop offset="0.825" stop-color="#aef086"/><stop offset="0.835" stop-color="#adf086"/><stop offset="0.845" stop-color="#adf087"/><stop offset="0.856" stop-color="#adf087"/><stop offset="0.876" stop-color="#adf087"/><stop offset="0.897" stop-color="#adf087"/><stop offset="0.918" stop-color="#adf086"/><stop offset="0.938" stop-color="#aef086"/><stop offset="0.959" stop-color="#aef086"/><stop offset="0.979" stop-color="#adf086"/><stop offset="1.000" stop-color="#adf086"/></linearGradient>
<linearGradient id="stall26" gradientUnits="userSpaceOnUse" x1="74" y1="0" x2="268" y2="0"><stop offset="0.000" stop-color="#b3ef83"/><stop offset="0.021" stop-color="#b3ef82"/><stop offset="0.041" stop-color="#b3ef82"/><stop offset="0.062" stop-color="#b3ef82"/><stop offset="0.082" stop-color="#b3ef82"/><stop offset="0.103" stop-color="#b4ef82"/><stop offset="0.124" stop-color="#b4ef82"/><stop offset="0.144" stop-color="#b4ef81"/><stop offset="0.165" stop-color="#b5ef81"/><stop offset="0.186" stop-color="#b5ef81"/><stop offset="0.206" stop-color="#b5ef81"/><stop offset="0.227" stop-color="#b6ef81"/><stop offset="0.247" stop-color="#b7ef7f"/><stop offset="0.268" stop-color="#bbef7d"/><stop offset="0.289" stop-color="#bfef7a"/><stop offset="0.309" stop-color="#c4ee77"/><stop offset="0.330" stop-color="#c9ee73"/><stop offset="0.351" stop-color="#d0ec70"/><stop offset="0.371" stop-color="#d6ea6c"/><stop offset="0.392" stop-color="#dde968"/><stop offset="0.412" stop-color="#e4e764"/><stop offset="0.433" stop-color="#e9e560"/><stop offset="0.454" stop-color="#ece35c"/><stop offset="0.474" stop-color="#eee159"/><stop offset="0.495" stop-color="#f0df56"/><stop offset="0.515" stop-color="#f2de53"/><stop offset="0.536" stop-color="#f3dc51"/><stop offset="0.557" stop-color="#f4dc50"/><stop offset="0.577" stop-color="#f3dd51"/><stop offset="0.598" stop-color="#f0df56"/><stop offset="0.619" stop-color="#ebe35d"/><stop offset="0.639" stop-color="#e4e764"/><stop offset="0.660" stop-color="#d8ea6b"/><stop offset="0.680" stop-color="#ceec71"/><stop offset="0.701" stop-color="#c6ee75"/><stop offset="0.722" stop-color="#bfef7a"/><stop offset="0.732" stop-color="#bcef7c"/><stop offset="0.742" stop-color="#baef7e"/><stop offset="0.753" stop-color="#b8ef7f"/><stop offset="0.763" stop-color="#b6ef81"/><stop offset="0.773" stop-color="#b4ef82"/><stop offset="0.784" stop-color="#b3ef83"/><stop offset="0.794" stop-color="#b2ef83"/><stop offset="0.804" stop-color="#b1ef84"/><stop offset="0.814" stop-color="#b0ef84"/><stop offset="0.825" stop-color="#b0f085"/><stop offset="0.835" stop-color="#aff085"/><stop offset="0.845" stop-color="#aff085"/><stop offset="0.856" stop-color="#aff085"/><stop offset="0.876" stop-color="#aff085"/><stop offset="0.897" stop-color="#b0f085"/><stop offset="0.918" stop-color="#b0ef84"/><stop offset="0.938" stop-color="#b0ef84"/><stop offset="0.959" stop-color="#b0ef84"/><stop offset="0.979" stop-color="#b0ef84"/><stop offset="1.000" stop-color="#b0ef84"/></linearGradient>
<linearGradient id="stall27" gradientUnits="userSpaceOnUse" x1="74" y1="0" x2="268" y2="0"><stop offset="0.000" stop-color="#b6ef81"/><stop offset="0.021" stop-color="#b6ef81"/><stop offset="0.041" stop-color="#b6ef81"/><stop offset="0.062" stop-color="#b6ef80"/><stop offset="0.082" stop-color="#b6ef80"/><stop offset="0.103" stop-color="#b6ef80"/><stop offset="0.124" stop-color="#b7ef80"/><stop offset="0.144" stop-color="#b7ef80"/><stop offset="0.165" stop-color="#b7ef7f"/><stop offset="0.186" stop-color="#b7ef7f"/><stop offset="0.206" stop-color="#b8ef7f"/><stop offset="0.227" stop-color="#b8ef7f"/><stop offset="0.247" stop-color="#baef7d"/><stop offset="0.268" stop-color="#beef7b"/><stop offset="0.289" stop-color="#c2ee78"/><stop offset="0.309" stop-color="#c7ee75"/><stop offset="0.330" stop-color="#cced72"/><stop offset="0.351" stop-color="#d3eb6e"/><stop offset="0.371" stop-color="#d9ea6a"/><stop offset="0.392" stop-color="#e0e866"/><stop offset="0.412" stop-color="#e7e662"/><stop offset="0.433" stop-color="#ebe45e"/><stop offset="0.454" stop-color="#ede25a"/><stop offset="0.474" stop-color="#f0df56"/><stop offset="0.495" stop-color="#f2dd52"/><stop offset="0.515" stop-color="#f4db4f"/><stop offset="0.536" stop-color="#f4d84c"/><stop offset="0.557" stop-color="#f4d84c"/><stop offset="0.577" stop-color="#f4dc50"/><stop offset="0.598" stop-color="#f0df56"/><stop offset="0.619" stop-color="#ebe35d"/><stop offset="0.639" stop-color="#e4e764"/><stop offset="0.660" stop-color="#d9ea6a"/><stop offset="0.680" stop-color="#d0ec70"/><stop offset="0.701" stop-color="#c8ee74"/><stop offset="0.722" stop-color="#c1ee79"/><stop offset="0.732" stop-color="#beef7b"/><stop offset="0.742" stop-color="#bbef7d"/><stop offset="0.753" stop-color="#b9ef7e"/><stop offset="0.763" stop-color="#b7ef80"/><stop offset="0.773" stop-color="#b6ef81"/><stop offset="0.784" stop-color="#b4ef81"/><stop offset="0.794" stop-color="#b3ef82"/><stop offset="0.804" stop-color="#b3ef83"/><stop offset="0.814" stop-color="#b2ef83"/><stop offset="0.825" stop-color="#b2ef83"/><stop offset="0.835" stop-color="#b2ef83"/><stop offset="0.845" stop-color="#b1ef84"/><stop offset="0.856" stop-color="#b1ef84"/><stop offset="0.876" stop-color="#b2ef83"/><stop offset="0.897" stop-color="#b2ef83"/><stop offset="0.918" stop-color="#b3ef83"/><stop offset="0.938" stop-color="#b3ef82"/><stop offset="0.959" stop-color="#b3ef82"/><stop offset="0.979" stop-color="#b3ef82"/><stop offset="1.000" stop-color="#b3ef83"/></linearGradient>
<linearGradient id="stall28" gradientUnits="userSpaceOnUse" x1="74" y1="0" x2="268" y2="0"><stop offset="0.000" stop-color="#bcef7c"/><stop offset="0.021" stop-color="#bcef7c"/><stop offset="0.041" stop-color="#bcef7c"/><stop offset="0.062" stop-color="#bcef7c"/><stop offset="0.082" stop-color="#bcef7c"/><stop offset="0.103" stop-color="#bdef7c"/><stop offset="0.124" stop-color="#bdef7b"/><stop offset="0.144" stop-color="#beef7b"/><stop offset="0.165" stop-color="#bdef7c"/><stop offset="0.186" stop-color="#bbef7d"/><stop offset="0.206" stop-color="#baef7d"/><stop offset="0.227" stop-color="#bbef7d"/><stop offset="0.247" stop-color="#bdef7c"/><stop offset="0.268" stop-color="#c0ee79"/><stop offset="0.289" stop-color="#c4ee77"/><stop offset="0.309" stop-color="#c9ee73"/><stop offset="0.330" stop-color="#cfec70"/><stop offset="0.351" stop-color="#d5eb6d"/><stop offset="0.371" stop-color="#dce969"/><stop offset="0.392" stop-color="#e3e765"/><stop offset="0.412" stop-color="#e9e561"/><stop offset="0.433" stop-color="#ece35c"/><stop offset="0.454" stop-color="#efe058"/><stop offset="0.474" stop-color="#f2de53"/><stop offset="0.495" stop-color="#f4da4e"/><stop offset="0.515" stop-color="#f4d64a"/><stop offset="0.536" stop-color="#f4d448"/><stop offset="0.557" stop-color="#f4d64a"/><stop offset="0.577" stop-color="#f4dc50"/><stop offset="0.598" stop-color="#f0e057"/><stop offset="0.619" stop-color="#ebe45e"/><stop offset="0.639" stop-color="#e4e764"/><stop offset="0.660" stop-color="#dae96a"/><stop offset="0.680" stop-color="#d1ec6f"/><stop offset="0.701" stop-color="#c9ee73"/><stop offset="0.722" stop-color="#c2ee78"/><stop offset="0.732" stop-color="#bfef7a"/><stop offset="0.742" stop-color="#bdef7c"/><stop offset="0.753" stop-color="#bbef7d"/><stop offset="0.763" stop-color="#b9ef7e"/><stop offset="0.773" stop-color="#b7ef7f"/><stop offset="0.784" stop-color="#b6ef80"/><stop offset="0.794" stop-color="#b5ef81"/><stop offset="0.804" stop-color="#b5ef81"/><stop offset="0.814" stop-color="#b4ef82"/><stop offset="0.825" stop-color="#b4ef82"/><stop offset="0.835" stop-color="#b4ef82"/><stop offset="0.845" stop-color="#b4ef82"/><stop offset="0.856" stop-color="#b4ef82"/><stop offset="0.876" stop-color="#b4ef82"/><stop offset="0.897" stop-color="#b5ef81"/><stop offset="0.918" stop-color="#b5ef81"/><stop offset="0.938" stop-color="#b6ef81"/><stop offset="0.959" stop-color="#b6ef80"/><stop offset="0.979" stop-color="#b6ef81"/><stop offset="1.000" stop-color="#b6ef81"/></linearGradient>
<linearGradient id="stall29" gradientUnits="userSpaceOnUse" x1="74" y1="0" x2="268" y2="0"><stop offset="0.000" stop-color="#c3ee78"/><stop offset="0.021" stop-color="#c3ee78"/><stop offset="0.041" stop-color="#c3ee78"/><stop offset="0.062" stop-color="#c3ee78"/><stop offset="0.082" stop-color="#c3ee77"/><stop offset="0.103" stop-color="#c3ee77"/><stop offset="0.124" stop-color="#c4ee77"/><stop offset="0.144" stop-color="#c4ee77"/><stop offset="0.165" stop-color="#c3ee77"/><stop offset="0.186" stop-color="#c1ee79"/><stop offset="0.206" stop-color="#c0ef7a"/><stop offset="0.227" stop-color="#bfef7a"/><stop offset="0.247" stop-color="#c0ef7a"/><stop offset="0.268" stop-color="#c3ee78"/><stop offset="0.289" stop-color="#c7ee75"/><stop offset="0.309" stop-color="#cbed72"/><stop offset="0.330" stop-color="#d1ec6f"/><stop offset="0.351" stop-color="#d7ea6c"/><stop offset="0.371" stop-color="#dee968"/><stop offset="0.392" stop-color="#e4e764"/><stop offset="0.412" stop-color="#eae560"/><stop offset="0.433" stop-color="#ede25b"/><stop offset="0.454" stop-color="#f0df56"/><stop offset="0.474" stop-color="#f4dc50"/><stop offset="0.495" stop-color="#f4d64a"/><stop offset="0.515" stop-color="#f4d347"/><stop offset="0.536" stop-color="#f4d347"/><stop offset="0.557" stop-color="#f4d74b"/><stop offset="0.577" stop-color="#f3dd52"/><stop offset="0.598" stop-color="#efe158"/><stop offset="0.619" stop-color="#eae45e"/><stop offset="0.639" stop-color="#e4e764"/><stop offset="0.660" stop-color="#dbe969"/><stop offset="0.680" stop-color="#d2eb6e"/><stop offset="0.701" stop-color="#caed73"/><stop offset="0.722" stop-color="#c3ee77"/><stop offset="0.732" stop-color="#c1ee79"/><stop offset="0.742" stop-color="#beef7b"/><stop offset="0.753" stop-color="#bcef7c"/><stop offset="0.763" stop-color="#baef7d"/><stop offset="0.773" stop-color="#b9ef7e"/><stop offset="0.784" stop-color="#b8ef7f"/><stop offset="0.794" stop-color="#b7ef7f"/><stop offset="0.804" stop-color="#b7ef80"/><stop offset="0.814" stop-color="#b6ef80"/><stop offset="0.825" stop-color="#b6ef80"/><stop offset="0.835" stop-color="#b6ef80"/><stop offset="0.845" stop-color="#b6ef80"/><stop offset="0.856" stop-color="#b6ef80"/><stop offset="0.876" stop-color="#b8ef7f"/><stop offset="0.897" stop-color="#b9ef7e"/><stop offset="0.918" stop-color="#bbef7d"/><stop offset="0.938" stop-color="#bcef7c"/><stop offset="0.959" stop-color="#bcef7c"/><stop offset="0.979" stop-color="#bcef7c"/><stop offset="1.000" stop-color="#bcef7c"/></linearGradient>
<linearGradient id="stall30" gradientUnits="userSpaceOnUse" x1="74" y1="0" x2="268" y2="0"><stop offset="0.000" stop-color="#c9ee73"/><stop offset="0.021" stop-color="#c9ee73"/><stop offset="0.041" stop-color="#c9ee73"/><stop offset="0.062" stop-color="#c9ee73"/><stop offset="0.082" stop-color="#c9ee73"/><stop offset="0.103" stop-color="#caee73"/><stop offset="0.124" stop-color="#caed73"/><stop offset="0.144" stop-color="#caed73"/><stop offset="0.165" stop-color="#c9ee73"/><stop offset="0.186" stop-color="#c8ee74"/><stop offset="0.206" stop-color="#c6ee75"/><stop offset="0.227" stop-color="#c5ee76"/><stop offset="0.247" stop-color="#c5ee76"/><stop offset="0.268" stop-color="#c8ee74"/><stop offset="0.289" stop-color="#cced72"/><stop offset="0.309" stop-color="#d0ec6f"/><stop offset="0.330" stop-color="#d6eb6c"/><stop offset="0.351" stop-color="#dce969"/><stop offset="0.371" stop-color="#e2e865"/><stop offset="0.392" stop-color="#e8e662"/><stop offset="0.412" stop-color="#ebe35d"/><stop offset="0.433" stop-color="#efe057"/><stop offset="0.454" stop-color="#f3dd51"/><stop offset="0.474" stop-color="#f4d74b"/><stop offset="0.495" stop-color="#f4d145"/><stop offset="0.515" stop-color="#f4d044"/><stop offset="0.536" stop-color="#f4d246"/><stop offset="0.557" stop-color="#f4d84c"/><stop offset="0.577" stop-color="#f3dd52"/><stop offset="0.598" stop-color="#efe057"/><stop offset="0.619" stop-color="#ebe35d"/><stop offset="0.639" stop-color="#e7e662"/><stop offset="0.660" stop-color="#dfe867"/><stop offset="0.680" stop-color="#d6ea6c"/><stop offset="0.701" stop-color="#cfec70"/><stop offset="0.722" stop-color="#c8ee74"/><stop offset="0.732" stop-color="#c5ee76"/><stop offset="0.742" stop-color="#c3ee77"/><stop offset="0.753" stop-color="#c1ee79"/><stop offset="0.763" stop-color="#bfef7a"/><stop offset="0.773" stop-color="#beef7b"/><stop offset="0.784" stop-color="#bdef7b"/><stop offset="0.794" stop-color="#bdef7c"/><stop offset="0.804" stop-color="#bcef7c"/><stop offset="0.814" stop-color="#bcef7c"/><stop offset="0.825" stop-color="#bcef7c"/><stop offset="0.835" stop-color="#bcef7c"/><stop offset="0.845" stop-color="#bcef7c"/><stop offset="0.856" stop-color="#bcef7c"/><stop offset="0.876" stop-color="#beef7b"/><stop offset="0.897" stop-color="#bfef7a"/><stop offset="0.918" stop-color="#c1ee79"/><stop offset="0.938" stop-color="#c2ee78"/><stop offset="0.959" stop-color="#c2ee78"/><stop offset="0.979" stop-color="#c2ee78"/><stop offset="1.000" stop-color="#c2ee78"/></linearGradient>
<linearGradient id="stall31" gradientUnits="userSpaceOnUse" x1="74" y1="0" x2="268" y2="0"><stop offset="0.000" stop-color="#d0ec70"/><stop offset="0.021" stop-color="#d0ec70"/><stop offset="0.041" stop-color="#d0ec70"/><stop offset="0.062" stop-color="#d0ec70"/><stop offset="0.082" stop-color="#d0ec70"/><stop offset="0.103" stop-color="#d0ec6f"/><stop offset="0.124" stop-color="#d1ec6f"/><stop offset="0.144" stop-color="#d1ec6f"/><stop offset="0.165" stop-color="#d0ec70"/><stop offset="0.186" stop-color="#ceed71"/><stop offset="0.206" stop-color="#cced72"/><stop offset="0.227" stop-color="#cbed72"/><stop offset="0.247" stop-color="#cbed72"/><stop offset="0.268" stop-color="#ceed71"/><stop offset="0.289" stop-color="#d1ec6f"/><stop offset="0.309" stop-color="#d6eb6c"/><stop offset="0.330" stop-color="#dbe96a"/><stop offset="0.351" stop-color="#e0e866"/><stop offset="0.371" stop-color="#e6e663"/><stop offset="0.392" stop-color="#eae45f"/><stop offset="0.412" stop-color="#eee159"/><stop offset="0.433" stop-color="#f2de53"/><stop offset="0.454" stop-color="#f4d84c"/><stop offset="0.474" stop-color="#f4d246"/><stop offset="0.495" stop-color="#f4ce42"/><stop offset="0.515" stop-color="#f4d044"/><stop offset="0.536" stop-color="#f4d448"/><stop offset="0.557" stop-color="#f4d94d"/><stop offset="0.577" stop-color="#f3dd52"/><stop offset="0.598" stop-color="#f0e056"/><stop offset="0.619" stop-color="#ede25b"/><stop offset="0.639" stop-color="#e9e560"/><stop offset="0.660" stop-color="#e3e765"/><stop offset="0.680" stop-color="#dbe969"/><stop offset="0.701" stop-color="#d3eb6e"/><stop offset="0.722" stop-color="#cded71"/><stop offset="0.732" stop-color="#cbed72"/><stop offset="0.742" stop-color="#c9ee74"/><stop offset="0.753" stop-color="#c7ee75"/><stop offset="0.763" stop-color="#c5ee76"/><stop offset="0.773" stop-color="#c4ee77"/><stop offset="0.784" stop-color="#c3ee77"/><stop offset="0.794" stop-color="#c3ee78"/><stop offset="0.804" stop-color="#c2ee78"/><stop offset="0.814" stop-color="#c2ee78"/><stop offset="0.825" stop-color="#c2ee78"/><stop offset="0.835" stop-color="#c2ee78"/><stop offset="0.845" stop-color="#c2ee78"/><stop offset="0.856" stop-color="#c3ee78"/><stop offset="0.876" stop-color="#c4ee77"/><stop offset="0.897" stop-color="#c6ee75"/><stop offset="0.918" stop-color="#c7ee74"/><stop offset="0.938" stop-color="#c9ee74"/><stop offset="0.959" stop-color="#c9ee73"/><stop offset="0.979" stop-color="#c9ee74"/><stop offset="1.000" stop-color="#c9ee74"/></linearGradient>
<linearGradient id="stall32" gradientUnits="userSpaceOnUse" x1="74" y1="0" x2="268" y2="0"><stop offset="0.000" stop-color="#d9ea6a"/><stop offset="0.021" stop-color="#d9ea6a"/><stop offset="0.041" stop-color="#d9ea6a"/><stop offset="0.062" stop-color="#d9ea6a"/><stop offset="0.082" stop-color="#d9ea6a"/><stop offset="0.103" stop-color="#daea6a"/><stop offset="0.124" stop-color="#daea6a"/><stop offset="0.144" stop-color="#dae96a"/><stop offset="0.165" stop-color="#d9ea6b"/><stop offset="0.186" stop-color="#d6ea6c"/><stop offset="0.206" stop-color="#d4eb6d"/><stop offset="0.227" stop-color="#d2eb6e"/><stop offset="0.247" stop-color="#d3eb6e"/><stop offset="0.268" stop-color="#d5eb6d"/><stop offset="0.289" stop-color="#d8ea6b"/><stop offset="0.309" stop-color="#dce969"/><stop offset="0.330" stop-color="#e0e866"/><stop offset="0.351" stop-color="#e5e763"/><stop offset="0.371" stop-color="#eae560"/><stop offset="0.392" stop-color="#ede25a"/><stop offset="0.412" stop-color="#f1de54"/><stop offset="0.433" stop-color="#f4d94d"/><stop offset="0.454" stop-color="#f4d246"/><stop offset="0.474" stop-color="#f4ce42"/><stop offset="0.495" stop-color="#f4cf43"/><stop offset="0.515" stop-color="#f4d246"/><stop offset="0.536" stop-color="#f4d64a"/><stop offset="0.557" stop-color="#f4da4e"/><stop offset="0.577" stop-color="#f3dd51"/><stop offset="0.598" stop-color="#f1df55"/><stop offset="0.619" stop-color="#eee159"/><stop offset="0.639" stop-color="#ebe45e"/><stop offset="0.660" stop-color="#e7e662"/><stop offset="0.680" stop-color="#e0e866"/><stop offset="0.701" stop-color="#daea6a"/><stop offset="0.722" stop-color="#d4eb6d"/><stop offset="0.732" stop-color="#d2ec6e"/><stop offset="0.742" stop-color="#d0ec70"/><stop offset="0.753" stop-color="#ceec70"/><stop offset="0.763" stop-color="#cded71"/><stop offset="0.773" stop-color="#cced72"/><stop offset="0.784" stop-color="#cbed72"/><stop offset="0.794" stop-color="#cbed72"/><stop offset="0.804" stop-color="#caed73"/><stop offset="0.814" stop-color="#caed73"/><stop offset="0.825" stop-color="#caed73"/><stop offset="0.835" stop-color="#caed73"/><stop offset="0.845" stop-color="#caed73"/><stop offset="0.856" stop-color="#cbed72"/><stop offset="0.876" stop-color="#cced72"/><stop offset="0.897" stop-color="#ceed71"/><stop offset="0.918" stop-color="#d0ec70"/><stop offset="0.938" stop-color="#d1ec6f"/><stop offset="0.959" stop-color="#d1ec6f"/><stop offset="0.979" stop-color="#d1ec6f"/><stop offset="1.000" stop-color="#d1ec6f"/></linearGradient>
<linearGradient id="stall33" gradientUnits="userSpaceOnUse" x1="74" y1="0" x2="268" y2="0"><stop offset="0.000" stop-color="#e3e765"/><stop offset="0.021" stop-color="#e3e765"/><stop offset="0.041" stop-color="#e3e765"/><stop offset="0.062" stop-color="#e4e765"/><stop offset="0.082" stop-color="#e4e764"/><stop offset="0.103" stop-color="#e4e764"/><stop offset="0.124" stop-color="#e4e764"/><stop offset="0.144" stop-color="#e4e764"/><stop offset="0.165" stop-color="#e3e765"/><stop offset="0.186" stop-color="#e0e866"/><stop offset="0.206" stop-color="#dde968"/><stop offset="0.227" stop-color="#dbe969"/><stop offset="0.247" stop-color="#dbe96a"/><stop offset="0.268" stop-color="#dce969"/><stop offset="0.289" stop-color="#dfe867"/><stop offset="0.309" stop-color="#e2e765"/><stop offset="0.330" stop-color="#e6e663"/><stop offset="0.351" stop-color="#e9e560"/><stop offset="0.371" stop-color="#ede25b"/><stop offset="0.392" stop-color="#f1de54"/><stop offset="0.412" stop-color="#f4d94d"/><stop offset="0.433" stop-color="#f4d246"/><stop offset="0.454" stop-color="#f4cf43"/><stop offset="0.474" stop-color="#f4cf43"/><stop offset="0.495" stop-color="#f4d246"/><stop offset="0.515" stop-color="#f4d549"/><stop offset="0.536" stop-color="#f4d84c"/><stop offset="0.557" stop-color="#f4da4e"/><stop offset="0.577" stop-color="#f4dc51"/><stop offset="0.598" stop-color="#f2de53"/><stop offset="0.619" stop-color="#efe057"/><stop offset="0.639" stop-color="#ede25b"/><stop offset="0.660" stop-color="#eae45f"/><stop offset="0.680" stop-color="#e6e663"/><stop offset="0.701" stop-color="#e1e866"/><stop offset="0.722" stop-color="#dce969"/><stop offset="0.732" stop-color="#dae96a"/><stop offset="0.742" stop-color="#d8ea6b"/><stop offset="0.753" stop-color="#d7ea6c"/><stop offset="0.763" stop-color="#d6eb6c"/><stop offset="0.773" stop-color="#d5eb6d"/><stop offset="0.784" stop-color="#d4eb6d"/><stop offset="0.794" stop-color="#d4eb6d"/><stop offset="0.804" stop-color="#d3eb6e"/><stop offset="0.814" stop-color="#d3eb6e"/><stop offset="0.825" stop-color="#d3eb6e"/><stop offset="0.835" stop-color="#d3eb6e"/><stop offset="0.845" stop-color="#d3eb6e"/><stop offset="0.856" stop-color="#d4eb6d"/><stop offset="0.876" stop-color="#d6eb6c"/><stop offset="0.897" stop-color="#d8ea6b"/><stop offset="0.918" stop-color="#d9ea6a"/><stop offset="0.938" stop-color="#dbe969"/><stop offset="0.959" stop-color="#dbe969"/><stop offset="0.979" stop-color="#dbe969"/><stop offset="1.000" stop-color="#dbe969"/></linearGradient>
<linearGradient id="stall34" gradientUnits="userSpaceOnUse" x1="74" y1="0" x2="268" y2="0"><stop offset="0.000" stop-color="#ebe45e"/><stop offset="0.021" stop-color="#ebe45e"/><stop offset="0.041" stop-color="#ebe45e"/><stop offset="0.062" stop-color="#ebe45e"/><stop offset="0.082" stop-color="#ebe45e"/><stop offset="0.103" stop-color="#ebe45e"/><stop offset="0.124" stop-color="#ebe45e"/><stop offset="0.144" stop-color="#ebe45e"/><stop offset="0.165" stop-color="#eae45f"/><stop offset="0.186" stop-color="#e9e561"/><stop offset="0.206" stop-color="#e7e662"/><stop offset="0.227" stop-color="#e5e764"/><stop offset="0.247" stop-color="#e4e764"/><stop offset="0.268" stop-color="#e5e764"/><stop offset="0.289" stop-color="#e8e662"/><stop offset="0.309" stop-color="#e9e560"/><stop offset="0.330" stop-color="#eae45e"/><stop offset="0.351" stop-color="#ece25c"/><stop offset="0.371" stop-color="#f1df55"/><stop offset="0.392" stop-color="#f4d84c"/><stop offset="0.412" stop-color="#f4d145"/><stop offset="0.433" stop-color="#f4ce42"/><stop offset="0.454" stop-color="#f4cf43"/><stop offset="0.474" stop-color="#f4d246"/><stop offset="0.495" stop-color="#f4d448"/><stop offset="0.515" stop-color="#f4d64a"/><stop offset="0.536" stop-color="#f4d74b"/><stop offset="0.557" stop-color="#f4d94d"/><stop offset="0.577" stop-color="#f4db4f"/><stop offset="0.598" stop-color="#f3dd51"/><stop offset="0.619" stop-color="#f1de54"/><stop offset="0.639" stop-color="#efe057"/><stop offset="0.660" stop-color="#ede25b"/><stop offset="0.680" stop-color="#ebe45e"/><stop offset="0.701" stop-color="#e9e561"/><stop offset="0.722" stop-color="#e5e763"/><stop offset="0.732" stop-color="#e4e764"/><stop offset="0.742" stop-color="#e2e765"/><stop offset="0.753" stop-color="#e1e866"/><stop offset="0.763" stop-color="#e0e866"/><stop offset="0.773" stop-color="#dfe867"/><stop offset="0.784" stop-color="#dfe867"/><stop offset="0.794" stop-color="#dee867"/><stop offset="0.804" stop-color="#dee868"/><stop offset="0.814" stop-color="#dee968"/><stop offset="0.825" stop-color="#dee968"/><stop offset="0.835" stop-color="#dee968"/><stop offset="0.845" stop-color="#dee968"/><stop offset="0.856" stop-color="#dee867"/><stop offset="0.876" stop-color="#e0e866"/><stop offset="0.897" stop-color="#e2e865"/><stop offset="0.918" stop-color="#e4e764"/><stop offset="0.938" stop-color="#e5e764"/><stop offset="0.959" stop-color="#e6e763"/><stop offset="0.979" stop-color="#e6e763"/><stop offset="1.000" stop-color="#e6e763"/></linearGradient>
<linearGradient id="stall35" gradientUnits="userSpaceOnUse" x1="74" y1="0" x2="268" y2="0"><stop offset="0.000" stop-color="#efe057"/><stop offset="0.021" stop-color="#efe057"/><stop offset="0.041" stop-color="#efe057"/><stop offset="0.062" stop-color="#efe057"/><stop offset="0.082" stop-color="#efe057"/><stop offset="0.103" stop-color="#efe057"/><stop offset="0.124" stop-color="#efe057"/><stop offset="0.144" stop-color="#efe057"/><stop offset="0.165" stop-color="#efe058"/><stop offset="0.186" stop-color="#ede25a"/><stop offset="0.206" stop-color="#ece35c"/><stop offset="0.227" stop-color="#ebe45e"/><stop offset="0.247" stop-color="#eae45f"/><stop offset="0.268" stop-color="#ebe45e"/><stop offset="0.289" stop-color="#ece35d"/><stop offset="0.309" stop-color="#ede25b"/><stop offset="0.330" stop-color="#eee159"/><stop offset="0.351" stop-color="#efe057"/><stop offset="0.371" stop-color="#f4db4f"/><stop offset="0.392" stop-color="#f4cf43"/><stop offset="0.412" stop-color="#f4cd41"/><stop offset="0.433" stop-color="#f4cf43"/><stop offset="0.454" stop-color="#f4d246"/><stop offset="0.474" stop-color="#f4d448"/><stop offset="0.495" stop-color="#f4d549"/><stop offset="0.515" stop-color="#f4d549"/><stop offset="0.536" stop-color="#f4d64a"/><stop offset="0.557" stop-color="#f4d74b"/><stop offset="0.577" stop-color="#f4d84c"/><stop offset="0.598" stop-color="#f4da4e"/><stop offset="0.619" stop-color="#f3dc51"/><stop offset="0.639" stop-color="#f2de53"/><stop offset="0.660" stop-color="#f0df56"/><stop offset="0.680" stop-color="#eee159"/><stop offset="0.701" stop-color="#ece25b"/><stop offset="0.722" stop-color="#ebe35d"/><stop offset="0.732" stop-color="#eae45e"/><stop offset="0.742" stop-color="#eae45f"/><stop offset="0.753" stop-color="#eae560"/><stop offset="0.763" stop-color="#e9e560"/><stop offset="0.773" stop-color="#e9e561"/><stop offset="0.784" stop-color="#e9e561"/><stop offset="0.794" stop-color="#e8e661"/><stop offset="0.804" stop-color="#e8e662"/><stop offset="0.814" stop-color="#e8e662"/><stop offset="0.825" stop-color="#e8e662"/><stop offset="0.835" stop-color="#e8e662"/><stop offset="0.845" stop-color="#e8e662"/><stop offset="0.856" stop-color="#e8e661"/><stop offset="0.876" stop-color="#e9e560"/><stop offset="0.897" stop-color="#eae45f"/><stop offset="0.918" stop-color="#ebe45e"/><stop offset="0.938" stop-color="#ebe35d"/><stop offset="0.959" stop-color="#ece35d"/><stop offset="0.979" stop-color="#ece35d"/><stop offset="1.000" stop-color="#ece35d"/></linearGradient>
<linearGradient id="stall36" gradientUnits="userSpaceOnUse" x1="74" y1="0" x2="268" y2="0"><stop offset="0.000" stop-color="#f4dc50"/><stop offset="0.021" stop-color="#f4dc50"/><stop offset="0.041" stop-color="#f4dc50"/><stop offset="0.062" stop-color="#f4dc50"/><stop offset="0.082" stop-color="#f4dc50"/><stop offset="0.103" stop-color="#f4dc50"/><stop offset="0.124" stop-color="#f4dc50"/><stop offset="0.144" stop-color="#f4dc50"/><stop offset="0.165" stop-color="#f3dd51"/><stop offset="0.186" stop-color="#f2de53"/><stop offset="0.206" stop-color="#f0df55"/><stop offset="0.227" stop-color="#efe057"/><stop offset="0.247" stop-color="#eee158"/><stop offset="0.268" stop-color="#efe058"/><stop offset="0.289" stop-color="#efe057"/><stop offset="0.309" stop-color="#f0df56"/><stop offset="0.330" stop-color="#f1de54"/><stop offset="0.351" stop-color="#f3dd52"/><stop offset="0.371" stop-color="#f4d64a"/><stop offset="0.392" stop-color="#f4cb3f"/><stop offset="0.412" stop-color="#f4cd41"/><stop offset="0.433" stop-color="#f4d044"/><stop offset="0.454" stop-color="#f4d347"/><stop offset="0.474" stop-color="#f4d448"/><stop offset="0.495" stop-color="#f4d448"/><stop offset="0.515" stop-color="#f4d347"/><stop offset="0.536" stop-color="#f4d448"/><stop offset="0.557" stop-color="#f4d448"/><stop offset="0.577" stop-color="#f4d549"/><stop offset="0.598" stop-color="#f4d74b"/><stop offset="0.619" stop-color="#f4d94d"/><stop offset="0.639" stop-color="#f4db4f"/><stop offset="0.660" stop-color="#f3dd51"/><stop offset="0.680" stop-color="#f2de53"/><stop offset="0.701" stop-color="#f0df55"/><stop offset="0.722" stop-color="#efe057"/><stop offset="0.732" stop-color="#efe058"/><stop offset="0.742" stop-color="#eee158"/><stop offset="0.753" stop-color="#eee159"/><stop offset="0.763" stop-color="#eee159"/><stop offset="0.773" stop-color="#eee15a"/><stop offset="0.784" stop-color="#ede25a"/><stop offset="0.794" stop-color="#ede25a"/><stop offset="0.804" stop-color="#ede25a"/><stop offset="0.814" stop-color="#ede25b"/><stop offset="0.825" stop-color="#ede25b"/><stop offset="0.835" stop-color="#ede25b"/><stop offset="0.845" stop-color="#ede25b"/><stop offset="0.856" stop-color="#ede25a"/><stop offset="0.876" stop-color="#eee159"/><stop offset="0.897" stop-color="#efe058"/><stop offset="0.918" stop-color="#efe057"/><stop offset="0.938" stop-color="#f0df56"/><stop offset="0.959" stop-color="#f0df56"/><stop offset="0.979" stop-color="#f0df56"/><stop offset="1.000" stop-color="#f0df56"/></linearGradient>
<linearGradient id="stall37" gradientUnits="userSpaceOnUse" x1="74" y1="0" x2="268" y2="0"><stop offset="0.000" stop-color="#f4d448"/><stop offset="0.021" stop-color="#f4d448"/><stop offset="0.041" stop-color="#f4d448"/><stop offset="0.062" stop-color="#f4d448"/><stop offset="0.082" stop-color="#f4d448"/><stop offset="0.103" stop-color="#f4d448"/><stop offset="0.124" stop-color="#f4d448"/><stop offset="0.144" stop-color="#f4d448"/><stop offset="0.165" stop-color="#f4d64a"/><stop offset="0.186" stop-color="#f4d84c"/><stop offset="0.206" stop-color="#f4da4e"/><stop offset="0.227" stop-color="#f4dc51"/><stop offset="0.247" stop-color="#f3dd52"/><stop offset="0.268" stop-color="#f3dd52"/><stop offset="0.289" stop-color="#f3dc51"/><stop offset="0.309" stop-color="#f4dc50"/><stop offset="0.330" stop-color="#f4db4f"/><stop offset="0.351" stop-color="#f4d94d"/><stop offset="0.371" stop-color="#f4d347"/><stop offset="0.392" stop-color="#f4cb3f"/><stop offset="0.412" stop-color="#f4ce42"/><stop offset="0.433" stop-color="#f4d044"/><stop offset="0.454" stop-color="#f4d145"/><stop offset="0.474" stop-color="#f4d145"/><stop offset="0.495" stop-color="#f4d145"/><stop offset="0.515" stop-color="#f4d044"/><stop offset="0.536" stop-color="#f4d145"/><stop offset="0.557" stop-color="#f4d145"/><stop offset="0.577" stop-color="#f4d246"/><stop offset="0.598" stop-color="#f4d347"/><stop offset="0.619" stop-color="#f4d448"/><stop offset="0.639" stop-color="#f4d64a"/><stop offset="0.660" stop-color="#f4d84c"/><stop offset="0.680" stop-color="#f4da4e"/><stop offset="0.701" stop-color="#f4db4f"/><stop offset="0.722" stop-color="#f4dc51"/><stop offset="0.732" stop-color="#f3dd51"/><stop offset="0.742" stop-color="#f3dd52"/><stop offset="0.753" stop-color="#f3dd52"/><stop offset="0.763" stop-color="#f2dd52"/><stop offset="0.773" stop-color="#f2dd53"/><stop offset="0.784" stop-color="#f2de53"/><stop offset="0.794" stop-color="#f2de53"/><stop offset="0.804" stop-color="#f2de53"/><stop offset="0.814" stop-color="#f2de53"/><stop offset="0.825" stop-color="#f2de54"/><stop offset="0.835" stop-color="#f2de54"/><stop offset="0.845" stop-color="#f2de53"/><stop offset="0.856" stop-color="#f2de53"/><stop offset="0.876" stop-color="#f3dd52"/><stop offset="0.897" stop-color="#f3dd51"/><stop offset="0.918" stop-color="#f4dc50"/><stop offset="0.938" stop-color="#f4db4f"/><stop offset="0.959" stop-color="#f4da4e"/><stop offset="0.979" stop-color="#f4da4e"/><stop offset="1.000" stop-color="#f4da4e"/></linearGradient>
<linearGradient id="stall38" gradientUnits="userSpaceOnUse" x1="74" y1="0" x2="268" y2="0"><stop offset="0.000" stop-color="#f4cd41"/><stop offset="0.021" stop-color="#f4cd41"/><stop offset="0.041" stop-color="#f4cd41"/><stop offset="0.062" stop-color="#f4cd41"/><stop offset="0.082" stop-color="#f4cd41"/><stop offset="0.103" stop-color="#f4cd41"/><stop offset="0.124" stop-color="#f4cd41"/><stop offset="0.144" stop-color="#f4cd41"/><stop offset="0.165" stop-color="#f4ce42"/><stop offset="0.186" stop-color="#f4d044"/><stop offset="0.206" stop-color="#f4d347"/><stop offset="0.227" stop-color="#f4d549"/><stop offset="0.247" stop-color="#f4d74b"/><stop offset="0.268" stop-color="#f4d74b"/><stop offset="0.289" stop-color="#f4d64a"/><stop offset="0.309" stop-color="#f4d549"/><stop offset="0.330" stop-color="#f4d448"/><stop offset="0.351" stop-color="#f4d347"/><stop offset="0.371" stop-color="#f4d044"/><stop offset="0.392" stop-color="#f4cc40"/><stop offset="0.412" stop-color="#f4cd41"/><stop offset="0.433" stop-color="#f4ce42"/><stop offset="0.454" stop-color="#f4ce42"/><stop offset="0.474" stop-color="#f4cd41"/><stop offset="0.495" stop-color="#f4cd41"/><stop offset="0.515" stop-color="#f4cd41"/><stop offset="0.536" stop-color="#f4cd41"/><stop offset="0.557" stop-color="#f4cd41"/><stop offset="0.577" stop-color="#f4ce42"/><stop offset="0.598" stop-color="#f4cf43"/><stop offset="0.619" stop-color="#f4d044"/><stop offset="0.639" stop-color="#f4d145"/><stop offset="0.660" stop-color="#f4d246"/><stop offset="0.680" stop-color="#f4d347"/><stop offset="0.701" stop-color="#f4d448"/><stop offset="0.722" stop-color="#f4d64a"/><stop offset="0.732" stop-color="#f4d64a"/><stop offset="0.742" stop-color="#f4d64a"/><stop offset="0.753" stop-color="#f4d74b"/><stop offset="0.763" stop-color="#f4d74b"/><stop offset="0.773" stop-color="#f4d74b"/><stop offset="0.784" stop-color="#f4d84c"/><stop offset="0.794" stop-color="#f4d84c"/><stop offset="0.804" stop-color="#f4d84c"/><stop offset="0.814" stop-color="#f4d84c"/><stop offset="0.825" stop-color="#f4d84c"/><stop offset="0.835" stop-color="#f4d84c"/><stop offset="0.845" stop-color="#f4d84c"/><stop offset="0.856" stop-color="#f4d84c"/><stop offset="0.876" stop-color="#f4d74b"/><stop offset="0.897" stop-color="#f4d549"/><stop offset="0.918" stop-color="#f4d448"/><stop offset="0.938" stop-color="#f4d347"/><stop offset="0.959" stop-color="#f4d347"/><stop offset="0.979" stop-color="#f4d347"/><stop offset="1.000" stop-color="#f4d347"/></linearGradient>
<linearGradient id="stall39" gradientUnits="userSpaceOnUse" x1="74" y1="0" x2="268" y2="0"><stop offset="0.000" stop-color="#f4c539"/><stop offset="0.021" stop-color="#f4c539"/><stop offset="0.041" stop-color="#f4c539"/><stop offset="0.062" stop-color="#f4c539"/><stop offset="0.082" stop-color="#f4c539"/><stop offset="0.103" stop-color="#f4c539"/><stop offset="0.124" stop-color="#f4c539"/><stop offset="0.144" stop-color="#f4c539"/><stop offset="0.165" stop-color="#f4c73b"/><stop offset="0.186" stop-color="#f4c93d"/><stop offset="0.206" stop-color="#f4cc40"/><stop offset="0.227" stop-color="#f4ce42"/><stop offset="0.247" stop-color="#f4d044"/><stop offset="0.268" stop-color="#f4d044"/><stop offset="0.289" stop-color="#f4cf43"/><stop offset="0.309" stop-color="#f4cf43"/><stop offset="0.330" stop-color="#f4ce42"/><stop offset="0.351" stop-color="#f4cd41"/><stop offset="0.371" stop-color="#f4cc40"/><stop offset="0.392" stop-color="#f4ca3e"/><stop offset="0.412" stop-color="#f4ca3e"/><stop offset="0.433" stop-color="#f4ca3e"/><stop offset="0.454" stop-color="#f4ca3e"/><stop offset="0.474" stop-color="#f4c93d"/><stop offset="0.495" stop-color="#f4c93d"/><stop offset="0.515" stop-color="#f4c93d"/><stop offset="0.536" stop-color="#f4c93d"/><stop offset="0.557" stop-color="#f4c93d"/><stop offset="0.577" stop-color="#f4c93d"/><stop offset="0.598" stop-color="#f4ca3e"/><stop offset="0.619" stop-color="#f4cb3f"/><stop offset="0.639" stop-color="#f4cb3f"/><stop offset="0.660" stop-color="#f4cc40"/><stop offset="0.680" stop-color="#f4cd41"/><stop offset="0.701" stop-color="#f4ce42"/><stop offset="0.722" stop-color="#f4cf43"/><stop offset="0.732" stop-color="#f4cf43"/><stop offset="0.742" stop-color="#f4cf43"/><stop offset="0.753" stop-color="#f4d044"/><stop offset="0.763" stop-color="#f4d044"/><stop offset="0.773" stop-color="#f4d044"/><stop offset="0.784" stop-color="#f4d044"/><stop offset="0.794" stop-color="#f4d044"/><stop offset="0.804" stop-color="#f4d145"/><stop offset="0.814" stop-color="#f4d145"/><stop offset="0.825" stop-color="#f4d145"/><stop offset="0.835" stop-color="#f4d145"/><stop offset="0.845" stop-color="#f4d145"/><stop offset="0.856" stop-color="#f4d044"/><stop offset="0.876" stop-color="#f4cf43"/><stop offset="0.897" stop-color="#f4ce42"/><stop offset="0.918" stop-color="#f4cd41"/><stop offset="0.938" stop-color="#f4cc40"/><stop offset="0.959" stop-color="#f4cb3f"/><stop offset="0.979" stop-color="#f4cb3f"/><stop offset="1.000" stop-color="#f4cb3f"/></linearGradient>
<linearGradient id="stall40" gradientUnits="userSpaceOnUse" x1="74" y1="0" x2="268" y2="0"><stop offset="0.000" stop-color="#f4be33"/><stop offset="0.021" stop-color="#f4be33"/><stop offset="0.041" stop-color="#f4be33"/><stop offset="0.062" stop-color="#f4be33"/><stop offset="0.082" stop-color="#f4be33"/><stop offset="0.103" stop-color="#f4be33"/><stop offset="0.124" stop-color="#f4be33"/><stop offset="0.144" stop-color="#f4be33"/><stop offset="0.165" stop-color="#f4bf34"/><stop offset="0.186" stop-color="#f4c236"/><stop offset="0.206" stop-color="#f4c438"/><stop offset="0.227" stop-color="#f4c73b"/><stop offset="0.247" stop-color="#f4c83c"/><stop offset="0.268" stop-color="#f4c93d"/><stop offset="0.289" stop-color="#f4c83c"/><stop offset="0.309" stop-color="#f4c83c"/><stop offset="0.330" stop-color="#f4c73b"/><stop offset="0.351" stop-color="#f4c73b"/><stop offset="0.371" stop-color="#f4c63a"/><stop offset="0.392" stop-color="#f4c539"/><stop offset="0.412" stop-color="#f4c539"/><stop offset="0.433" stop-color="#f4c539"/><stop offset="0.454" stop-color="#f4c438"/><stop offset="0.474" stop-color="#f4c438"/><stop offset="0.495" stop-color="#f4c438"/><stop offset="0.515" stop-color="#f4c438"/><stop offset="0.536" stop-color="#f4c438"/><stop offset="0.557" stop-color="#f4c438"/><stop offset="0.577" stop-color="#f4c438"/><stop offset="0.598" stop-color="#f4c438"/><stop offset="0.619" stop-color="#f4c539"/><stop offset="0.639" stop-color="#f4c63a"/><stop offset="0.660" stop-color="#f4c63a"/><stop offset="0.680" stop-color="#f4c73b"/><stop offset="0.701" stop-color="#f4c73b"/><stop offset="0.722" stop-color="#f4c83c"/><stop offset="0.732" stop-color="#f4c83c"/><stop offset="0.742" stop-color="#f4c83c"/><stop offset="0.753" stop-color="#f4c83c"/><stop offset="0.763" stop-color="#f4c93d"/><stop offset="0.773" stop-color="#f4c93d"/><stop offset="0.784" stop-color="#f4c93d"/><stop offset="0.794" stop-color="#f4c93d"/><stop offset="0.804" stop-color="#f4c93d"/><stop offset="0.814" stop-color="#f4c93d"/><stop offset="0.825" stop-color="#f4c93d"/><stop offset="0.835" stop-color="#f4c93d"/><stop offset="0.845" stop-color="#f4c93d"/><stop offset="0.856" stop-color="#f4c93d"/><stop offset="0.876" stop-color="#f4c83c"/><stop offset="0.897" stop-color="#f4c63a"/><stop offset="0.918" stop-color="#f4c539"/><stop offset="0.938" stop-color="#f4c438"/><stop offset="0.959" stop-color="#f4c438"/><stop offset="0.979" stop-color="#f4c438"/><stop offset="1.000" stop-color="#f4c438"/></linearGradient>
<linearGradient id="stall41" gradientUnits="userSpaceOnUse" x1="74" y1="0" x2="268" y2="0"><stop offset="0.000" stop-color="#f3b62d"/><stop offset="0.021" stop-color="#f3b62d"/><stop offset="0.041" stop-color="#f3b62d"/><stop offset="0.062" stop-color="#f3b62d"/><stop offset="0.082" stop-color="#f3b62d"/><stop offset="0.103" stop-color="#f3b62d"/><stop offset="0.124" stop-color="#f3b62d"/><stop offset="0.144" stop-color="#f3b62d"/><stop offset="0.165" stop-color="#f3b82e"/><stop offset="0.186" stop-color="#f3ba30"/><stop offset="0.206" stop-color="#f4bd32"/><stop offset="0.227" stop-color="#f4bf34"/><stop offset="0.247" stop-color="#f4c136"/><stop offset="0.268" stop-color="#f4c136"/><stop offset="0.289" stop-color="#f4c136"/><stop offset="0.309" stop-color="#f4c135"/><stop offset="0.330" stop-color="#f4c035"/><stop offset="0.351" stop-color="#f4c035"/><stop offset="0.371" stop-color="#f4c034"/><stop offset="0.392" stop-color="#f4bf34"/><stop offset="0.412" stop-color="#f4bf34"/><stop offset="0.433" stop-color="#f4be33"/><stop offset="0.454" stop-color="#f4be33"/><stop offset="0.474" stop-color="#f4be33"/><stop offset="0.495" stop-color="#f4bd33"/><stop offset="0.515" stop-color="#f4bd33"/><stop offset="0.536" stop-color="#f4bd33"/><stop offset="0.557" stop-color="#f4be33"/><stop offset="0.577" stop-color="#f4be33"/><stop offset="0.598" stop-color="#f4be33"/><stop offset="0.619" stop-color="#f4be33"/><stop offset="0.639" stop-color="#f4bf34"/><stop offset="0.660" stop-color="#f4bf34"/><stop offset="0.680" stop-color="#f4c035"/><stop offset="0.701" stop-color="#f4c035"/><stop offset="0.722" stop-color="#f4c135"/><stop offset="0.732" stop-color="#f4c135"/><stop offset="0.742" stop-color="#f4c135"/><stop offset="0.753" stop-color="#f4c136"/><stop offset="0.763" stop-color="#f4c136"/><stop offset="0.773" stop-color="#f4c136"/><stop offset="0.784" stop-color="#f4c136"/><stop offset="0.794" stop-color="#f4c236"/><stop offset="0.804" stop-color="#f4c236"/><stop offset="0.814" stop-color="#f4c236"/><stop offset="0.825" stop-color="#f4c236"/><stop offset="0.835" stop-color="#f4c236"/><stop offset="0.845" stop-color="#f4c236"/><stop offset="0.856" stop-color="#f4c136"/><stop offset="0.876" stop-color="#f4c035"/><stop offset="0.897" stop-color="#f4bf34"/><stop offset="0.918" stop-color="#f4be33"/><stop offset="0.938" stop-color="#f4bc32"/><stop offset="0.959" stop-color="#f4bc32"/><stop offset="0.979" stop-color="#f4bc32"/><stop offset="1.000" stop-color="#f4bc32"/></linearGradient>
<linearGradient id="stall42" gradientUnits="userSpaceOnUse" x1="74" y1="0" x2="268" y2="0"><stop offset="0.000" stop-color="#f3af27"/><stop offset="0.021" stop-color="#f3af27"/><stop offset="0.041" stop-color="#f3af27"/><stop offset="0.062" stop-color="#f3af27"/><stop offset="0.082" stop-color="#f3af27"/><stop offset="0.103" stop-color="#f3af27"/><stop offset="0.124" stop-color="#f3af27"/><stop offset="0.144" stop-color="#f3af27"/><stop offset="0.165" stop-color="#f3b028"/><stop offset="0.186" stop-color="#f3b32a"/><stop offset="0.206" stop-color="#f3b62c"/><stop offset="0.227" stop-color="#f3b82e"/><stop offset="0.247" stop-color="#f3ba30"/><stop offset="0.268" stop-color="#f3ba30"/><stop offset="0.289" stop-color="#f3ba30"/><stop offset="0.309" stop-color="#f3ba30"/><stop offset="0.330" stop-color="#f3ba2f"/><stop offset="0.351" stop-color="#f3b92f"/><stop offset="0.371" stop-color="#f3b92f"/><stop offset="0.392" stop-color="#f3b92f"/><stop offset="0.412" stop-color="#f3b82f"/><stop offset="0.433" stop-color="#f3b82e"/><stop offset="0.454" stop-color="#f3b82e"/><stop offset="0.474" stop-color="#f3b82e"/><stop offset="0.495" stop-color="#f3b82e"/><stop offset="0.515" stop-color="#f3b82e"/><stop offset="0.536" stop-color="#f3b82e"/><stop offset="0.557" stop-color="#f3b82e"/><stop offset="0.577" stop-color="#f3b82e"/><stop offset="0.598" stop-color="#f3b82e"/><stop offset="0.619" stop-color="#f3b82e"/><stop offset="0.639" stop-color="#f3b82f"/><stop offset="0.660" stop-color="#f3b92f"/><stop offset="0.680" stop-color="#f3b92f"/><stop offset="0.701" stop-color="#f3b92f"/><stop offset="0.722" stop-color="#f3ba30"/><stop offset="0.732" stop-color="#f3ba30"/><stop offset="0.742" stop-color="#f3ba30"/><stop offset="0.753" stop-color="#f3ba30"/><stop offset="0.763" stop-color="#f3ba30"/><stop offset="0.773" stop-color="#f3ba30"/><stop offset="0.784" stop-color="#f3ba30"/><stop offset="0.794" stop-color="#f3ba30"/><stop offset="0.804" stop-color="#f3ba30"/><stop offset="0.814" stop-color="#f3ba30"/><stop offset="0.825" stop-color="#f3ba30"/><stop offset="0.835" stop-color="#f3ba30"/><stop offset="0.845" stop-color="#f3ba30"/><stop offset="0.856" stop-color="#f3ba30"/><stop offset="0.876" stop-color="#f3b92f"/><stop offset="0.897" stop-color="#f3b72e"/><stop offset="0.918" stop-color="#f3b62d"/><stop offset="0.938" stop-color="#f3b52c"/><stop offset="0.959" stop-color="#f3b52c"/><stop offset="0.979" stop-color="#f3b52c"/><stop offset="1.000" stop-color="#f3b52c"/></linearGradient>
<linearGradient id="stall43" gradientUnits="userSpaceOnUse" x1="74" y1="0" x2="268" y2="0"><stop offset="0.000" stop-color="#f2a721"/><stop offset="0.021" stop-color="#f2a721"/><stop offset="0.041" stop-color="#f2a721"/><stop offset="0.062" stop-color="#f2a721"/><stop offset="0.082" stop-color="#f2a721"/><stop offset="0.103" stop-color="#f2a721"/><stop offset="0.124" stop-color="#f2a721"/><stop offset="0.144" stop-color="#f2a721"/><stop offset="0.165" stop-color="#f2a922"/><stop offset="0.186" stop-color="#f2ab24"/><stop offset="0.206" stop-color="#f3ae26"/><stop offset="0.227" stop-color="#f3b128"/><stop offset="0.247" stop-color="#f3b22a"/><stop offset="0.268" stop-color="#f3b32a"/><stop offset="0.289" stop-color="#f3b32a"/><stop offset="0.309" stop-color="#f3b32a"/><stop offset="0.330" stop-color="#f3b22a"/><stop offset="0.351" stop-color="#f3b22a"/><stop offset="0.371" stop-color="#f3b229"/><stop offset="0.392" stop-color="#f3b229"/><stop offset="0.412" stop-color="#f3b229"/><stop offset="0.433" stop-color="#f3b229"/><stop offset="0.454" stop-color="#f3b129"/><stop offset="0.474" stop-color="#f3b129"/><stop offset="0.495" stop-color="#f3b129"/><stop offset="0.515" stop-color="#f3b129"/><stop offset="0.536" stop-color="#f3b129"/><stop offset="0.557" stop-color="#f3b129"/><stop offset="0.577" stop-color="#f3b129"/><stop offset="0.598" stop-color="#f3b129"/><stop offset="0.619" stop-color="#f3b229"/><stop offset="0.639" stop-color="#f3b229"/><stop offset="0.660" stop-color="#f3b229"/><stop offset="0.680" stop-color="#f3b22a"/><stop offset="0.701" stop-color="#f3b22a"/><stop offset="0.722" stop-color="#f3b32a"/><stop offset="0.732" stop-color="#f3b32a"/><stop offset="0.742" stop-color="#f3b32a"/><stop offset="0.753" stop-color="#f3b32a"/><stop offset="0.763" stop-color="#f3b32a"/><stop offset="0.773" stop-color="#f3b32a"/><stop offset="0.784" stop-color="#f3b32a"/><stop offset="0.794" stop-color="#f3b32a"/><stop offset="0.804" stop-color="#f3b32a"/><stop offset="0.814" stop-color="#f3b32a"/><stop offset="0.825" stop-color="#f3b32a"/><stop offset="0.835" stop-color="#f3b32a"/><stop offset="0.845" stop-color="#f3b32a"/><stop offset="0.856" stop-color="#f3b22a"/><stop offset="0.876" stop-color="#f3b129"/><stop offset="0.897" stop-color="#f3b028"/><stop offset="0.918" stop-color="#f3af27"/><stop offset="0.938" stop-color="#f3ae26"/><stop offset="0.959" stop-color="#f3ad25"/><stop offset="0.979" stop-color="#f3ad25"/><stop offset="1.000" stop-color="#f3ad25"/></linearGradient>
<linearGradient id="stall44" gradientUnits="userSpaceOnUse" x1="74" y1="0" x2="268" y2="0"><stop offset="0.000" stop-color="#f1a21c"/><stop offset="0.021" stop-color="#f1a21c"/><stop offset="0.041" stop-color="#f1a21c"/><stop offset="0.062" stop-color="#f1a21c"/><stop offset="0.082" stop-color="#f1a21c"/><stop offset="0.103" stop-color="#f1a21c"/><stop offset="0.124" stop-color="#f1a21c"/><stop offset="0.144" stop-color="#f1a21c"/><stop offset="0.165" stop-color="#f2a31d"/><stop offset="0.186" stop-color="#f2a41e"/><stop offset="0.206" stop-color="#f2a720"/><stop offset="0.227" stop-color="#f2a922"/><stop offset="0.247" stop-color="#f2ab24"/><stop offset="0.268" stop-color="#f2ac24"/><stop offset="0.289" stop-color="#f2ab24"/><stop offset="0.309" stop-color="#f2ab24"/><stop offset="0.330" stop-color="#f2ab24"/><stop offset="0.351" stop-color="#f2ab24"/><stop offset="0.371" stop-color="#f2ab24"/><stop offset="0.392" stop-color="#f2ab24"/><stop offset="0.412" stop-color="#f2ab24"/><stop offset="0.433" stop-color="#f2ab23"/><stop offset="0.454" stop-color="#f2ab23"/><stop offset="0.474" stop-color="#f2ab23"/><stop offset="0.495" stop-color="#f2ab23"/><stop offset="0.515" stop-color="#f2ab23"/><stop offset="0.536" stop-color="#f2ab23"/><stop offset="0.557" stop-color="#f2ab23"/><stop offset="0.577" stop-color="#f2ab23"/><stop offset="0.598" stop-color="#f2ab23"/><stop offset="0.619" stop-color="#f2ab23"/><stop offset="0.639" stop-color="#f2ab24"/><stop offset="0.660" stop-color="#f2ab24"/><stop offset="0.680" stop-color="#f2ab24"/><stop offset="0.701" stop-color="#f2ab24"/><stop offset="0.722" stop-color="#f2ab24"/><stop offset="0.732" stop-color="#f2ab24"/><stop offset="0.742" stop-color="#f2ab24"/><stop offset="0.753" stop-color="#f2ab24"/><stop offset="0.763" stop-color="#f2ab24"/><stop offset="0.773" stop-color="#f2ab24"/><stop offset="0.784" stop-color="#f2ac24"/><stop offset="0.794" stop-color="#f2ac24"/><stop offset="0.804" stop-color="#f2ac24"/><stop offset="0.814" stop-color="#f2ac24"/><stop offset="0.825" stop-color="#f2ac24"/><stop offset="0.835" stop-color="#f2ac24"/><stop offset="0.845" stop-color="#f2ab24"/><stop offset="0.856" stop-color="#f2ab24"/><stop offset="0.876" stop-color="#f2aa23"/><stop offset="0.897" stop-color="#f2a922"/><stop offset="0.918" stop-color="#f2a721"/><stop offset="0.938" stop-color="#f2a620"/><stop offset="0.959" stop-color="#f2a620"/><stop offset="0.979" stop-color="#f2a620"/><stop offset="1.000" stop-color="#f2a620"/></linearGradient>
<linearGradient id="stall45" gradientUnits="userSpaceOnUse" x1="74" y1="0" x2="268" y2="0"><stop offset="0.000" stop-color="#f09d19"/><stop offset="0.021" stop-color="#f09d19"/><stop offset="0.041" stop-color="#f09d19"/><stop offset="0.062" stop-color="#f09d19"/><stop offset="0.082" stop-color="#f09d19"/><stop offset="0.103" stop-color="#f09d19"/><stop offset="0.124" stop-color="#f09d19"/><stop offset="0.144" stop-color="#f09e19"/><stop offset="0.165" stop-color="#f09e19"/><stop offset="0.186" stop-color="#f1a01b"/><stop offset="0.206" stop-color="#f1a21c"/><stop offset="0.227" stop-color="#f2a31d"/><stop offset="0.247" stop-color="#f2a41e"/><stop offset="0.268" stop-color="#f2a51f"/><stop offset="0.289" stop-color="#f2a51f"/><stop offset="0.309" stop-color="#f2a51e"/><stop offset="0.330" stop-color="#f2a51e"/><stop offset="0.351" stop-color="#f2a41e"/><stop offset="0.371" stop-color="#f2a41e"/><stop offset="0.392" stop-color="#f2a41e"/><stop offset="0.412" stop-color="#f2a41e"/><stop offset="0.433" stop-color="#f2a41e"/><stop offset="0.454" stop-color="#f2a41e"/><stop offset="0.474" stop-color="#f2a41e"/><stop offset="0.495" stop-color="#f2a41e"/><stop offset="0.515" stop-color="#f2a41e"/><stop offset="0.536" stop-color="#f2a41e"/><stop offset="0.557" stop-color="#f2a41e"/><stop offset="0.577" stop-color="#f2a41e"/><stop offset="0.598" stop-color="#f2a41e"/><stop offset="0.619" stop-color="#f2a41e"/><stop offset="0.639" stop-color="#f2a41e"/><stop offset="0.660" stop-color="#f2a41e"/><stop offset="0.680" stop-color="#f2a41e"/><stop offset="0.701" stop-color="#f2a41e"/><stop offset="0.722" stop-color="#f2a51e"/><stop offset="0.732" stop-color="#f2a51e"/><stop offset="0.742" stop-color="#f2a51e"/><stop offset="0.753" stop-color="#f2a51e"/><stop offset="0.763" stop-color="#f2a51f"/><stop offset="0.773" stop-color="#f2a51f"/><stop offset="0.784" stop-color="#f2a51f"/><stop offset="0.794" stop-color="#f2a51f"/><stop offset="0.804" stop-color="#f2a51f"/><stop offset="0.814" stop-color="#f2a51f"/><stop offset="0.825" stop-color="#f2a51f"/><stop offset="0.835" stop-color="#f2a51f"/><stop offset="0.845" stop-color="#f2a51e"/><stop offset="0.856" stop-color="#f2a41e"/><stop offset="0.876" stop-color="#f2a31e"/><stop offset="0.897" stop-color="#f2a31d"/><stop offset="0.918" stop-color="#f1a21c"/><stop offset="0.938" stop-color="#f1a11c"/><stop offset="0.959" stop-color="#f1a11c"/><stop offset="0.979" stop-color="#f1a11c"/><stop offset="1.000" stop-color="#f1a11c"/></linearGradient>
<linearGradient id="stall46" gradientUnits="userSpaceOnUse" x1="74" y1="0" x2="268" y2="0"><stop offset="0.000" stop-color="#ef9915"/><stop offset="0.021" stop-color="#ef9915"/><stop offset="0.041" stop-color="#ef9915"/><stop offset="0.062" stop-color="#ef9915"/><stop offset="0.082" stop-color="#ef9915"/><stop offset="0.103" stop-color="#ef9915"/><stop offset="0.124" stop-color="#ef9915"/><stop offset="0.144" stop-color="#ef9915"/><stop offset="0.165" stop-color="#ef9a16"/><stop offset="0.186" stop-color="#f09c17"/><stop offset="0.206" stop-color="#f09d18"/><stop offset="0.227" stop-color="#f19f1a"/><stop offset="0.247" stop-color="#f1a01b"/><stop offset="0.268" stop-color="#f1a01b"/><stop offset="0.289" stop-color="#f1a01b"/><stop offset="0.309" stop-color="#f1a01b"/><stop offset="0.330" stop-color="#f1a01b"/><stop offset="0.351" stop-color="#f1a01b"/><stop offset="0.371" stop-color="#f1a01b"/><stop offset="0.392" stop-color="#f1a01b"/><stop offset="0.412" stop-color="#f1a01b"/><stop offset="0.433" stop-color="#f1a01b"/><stop offset="0.454" stop-color="#f1a01b"/><stop offset="0.474" stop-color="#f1a01b"/><stop offset="0.495" stop-color="#f1a01b"/><stop offset="0.515" stop-color="#f1a01b"/><stop offset="0.536" stop-color="#f1a01b"/><stop offset="0.557" stop-color="#f1a01b"/><stop offset="0.577" stop-color="#f1a01b"/><stop offset="0.598" stop-color="#f1a01b"/><stop offset="0.619" stop-color="#f1a01b"/><stop offset="0.639" stop-color="#f1a01b"/><stop offset="0.660" stop-color="#f1a01b"/><stop offset="0.680" stop-color="#f1a01b"/><stop offset="0.701" stop-color="#f1a01b"/><stop offset="0.722" stop-color="#f1a01b"/><stop offset="0.732" stop-color="#f1a01b"/><stop offset="0.742" stop-color="#f1a01b"/><stop offset="0.753" stop-color="#f1a01b"/><stop offset="0.763" stop-color="#f1a01b"/><stop offset="0.773" stop-color="#f1a01b"/><stop offset="0.784" stop-color="#f1a01b"/><stop offset="0.794" stop-color="#f1a01b"/><stop offset="0.804" stop-color="#f1a01b"/><stop offset="0.814" stop-color="#f1a01b"/><stop offset="0.825" stop-color="#f1a01b"/><stop offset="0.835" stop-color="#f1a01b"/><stop offset="0.845" stop-color="#f1a01b"/><stop offset="0.856" stop-color="#f1a01b"/><stop offset="0.876" stop-color="#f19f1a"/><stop offset="0.897" stop-color="#f09e19"/><stop offset="0.918" stop-color="#f09d19"/><stop offset="0.938" stop-color="#f09d18"/><stop offset="0.959" stop-color="#f09d18"/><stop offset="0.979" stop-color="#f09d18"/><stop offset="1.000" stop-color="#f09d18"/></linearGradient>
<linearGradient id="stall47" gradientUnits="userSpaceOnUse" x1="74" y1="0" x2="268" y2="0"><stop offset="0.000" stop-color="#ee9411"/><stop offset="0.021" stop-color="#ee9411"/><stop offset="0.041" stop-color="#ee9411"/><stop offset="0.062" stop-color="#ee9411"/><stop offset="0.082" stop-color="#ee9411"/><stop offset="0.103" stop-color="#ee9411"/><stop offset="0.124" stop-color="#ee9411"/><stop offset="0.144" stop-color="#ee9411"/><stop offset="0.165" stop-color="#ee9512"/><stop offset="0.186" stop-color="#ee9713"/><stop offset="0.206" stop-color="#ef9815"/><stop offset="0.227" stop-color="#ef9a16"/><stop offset="0.247" stop-color="#f09b17"/><stop offset="0.268" stop-color="#f09b17"/><stop offset="0.289" stop-color="#f09b17"/><stop offset="0.309" stop-color="#f09b17"/><stop offset="0.330" stop-color="#f09b17"/><stop offset="0.351" stop-color="#f09b17"/><stop offset="0.371" stop-color="#f09b17"/><stop offset="0.392" stop-color="#f09b17"/><stop offset="0.412" stop-color="#f09b17"/><stop offset="0.433" stop-color="#f09b17"/><stop offset="0.454" stop-color="#f09b17"/><stop offset="0.474" stop-color="#f09b17"/><stop offset="0.495" stop-color="#f09b17"/><stop offset="0.515" stop-color="#f09b17"/><stop offset="0.536" stop-color="#f09b17"/><stop offset="0.557" stop-color="#f09b17"/><stop offset="0.577" stop-color="#f09b17"/><stop offset="0.598" stop-color="#f09b17"/><stop offset="0.619" stop-color="#f09b17"/><stop offset="0.639" stop-color="#f09b17"/><stop offset="0.660" stop-color="#f09b17"/><stop offset="0.680" stop-color="#f09b17"/><stop offset="0.701" stop-color="#f09b17"/><stop offset="0.722" stop-color="#f09b17"/><stop offset="0.732" stop-color="#f09b17"/><stop offset="0.742" stop-color="#f09b17"/><stop offset="0.753" stop-color="#f09b17"/><stop offset="0.763" stop-color="#f09b17"/><stop offset="0.773" stop-color="#f09b17"/><stop offset="0.784" stop-color="#f09b17"/><stop offset="0.794" stop-color="#f09b17"/><stop offset="0.804" stop-color="#f09b17"/><stop offset="0.814" stop-color="#f09b17"/><stop offset="0.825" stop-color="#f09b17"/><stop offset="0.835" stop-color="#f09b17"/><stop offset="0.845" stop-color="#f09b17"/><stop offset="0.856" stop-color="#f09b17"/><stop offset="0.876" stop-color="#ef9a16"/><stop offset="0.897" stop-color="#ef9915"/><stop offset="0.918" stop-color="#ef9915"/><stop offset="0.938" stop-color="#ef9814"/><stop offset="0.959" stop-color="#ef9814"/><stop offset="0.979" stop-color="#ef9814"/><stop offset="1.000" stop-color="#ef9814"/></linearGradient>
<linearGradient id="stall48" gradientUnits="userSpaceOnUse" x1="74" y1="0" x2="268" y2="0"><stop offset="0.000" stop-color="#ec8f0d"/><stop offset="0.021" stop-color="#ec8f0d"/><stop offset="0.041" stop-color="#ec8f0d"/><stop offset="0.062" stop-color="#ec8f0d"/><stop offset="0.082" stop-color="#ec8f0d"/><stop offset="0.103" stop-color="#ec8f0d"/><stop offset="0.124" stop-color="#ec8f0d"/><stop offset="0.144" stop-color="#ec8f0d"/><stop offset="0.165" stop-color="#ec900d"/><stop offset="0.186" stop-color="#ed910f"/><stop offset="0.206" stop-color="#ed9310"/><stop offset="0.227" stop-color="#ee9411"/><stop offset="0.247" stop-color="#ee9512"/><stop offset="0.268" stop-color="#ee9612"/><stop offset="0.289" stop-color="#ee9612"/><stop offset="0.309" stop-color="#ee9612"/><stop offset="0.330" stop-color="#ee9612"/><stop offset="0.351" stop-color="#ee9612"/><stop offset="0.371" stop-color="#ee9612"/><stop offset="0.392" stop-color="#ee9612"/><stop offset="0.412" stop-color="#ee9612"/><stop offset="0.433" stop-color="#ee9612"/><stop offset="0.454" stop-color="#ee9612"/><stop offset="0.474" stop-color="#ee9612"/><stop offset="0.495" stop-color="#ee9612"/><stop offset="0.515" stop-color="#ee9612"/><stop offset="0.536" stop-color="#ee9612"/><stop offset="0.557" stop-color="#ee9612"/><stop offset="0.577" stop-color="#ee9612"/><stop offset="0.598" stop-color="#ee9612"/><stop offset="0.619" stop-color="#ee9612"/><stop offset="0.639" stop-color="#ee9612"/><stop offset="0.660" stop-color="#ee9612"/><stop offset="0.680" stop-color="#ee9612"/><stop offset="0.701" stop-color="#ee9612"/><stop offset="0.722" stop-color="#ee9612"/><stop offset="0.732" stop-color="#ee9612"/><stop offset="0.742" stop-color="#ee9612"/><stop offset="0.753" stop-color="#ee9612"/><stop offset="0.763" stop-color="#ee9612"/><stop offset="0.773" stop-color="#ee9612"/><stop offset="0.784" stop-color="#ee9612"/><stop offset="0.794" stop-color="#ee9612"/><stop offset="0.804" stop-color="#ee9612"/><stop offset="0.814" stop-color="#ee9612"/><stop offset="0.825" stop-color="#ee9612"/><stop offset="0.835" stop-color="#ee9612"/><stop offset="0.845" stop-color="#ee9612"/><stop offset="0.856" stop-color="#ee9512"/><stop offset="0.876" stop-color="#ee9511"/><stop offset="0.897" stop-color="#ee9411"/><stop offset="0.918" stop-color="#ed9310"/><stop offset="0.938" stop-color="#ed9210"/><stop offset="0.959" stop-color="#ed920f"/><stop offset="0.979" stop-color="#ed920f"/><stop offset="1.000" stop-color="#ed920f"/></linearGradient>
<linearGradient id="stall49" gradientUnits="userSpaceOnUse" x1="74" y1="0" x2="268" y2="0"><stop offset="0.000" stop-color="#e3870d"/><stop offset="0.021" stop-color="#e3870d"/><stop offset="0.041" stop-color="#e3870d"/><stop offset="0.062" stop-color="#e3870d"/><stop offset="0.082" stop-color="#e3870d"/><stop offset="0.103" stop-color="#e3870d"/><stop offset="0.124" stop-color="#e3870d"/><stop offset="0.144" stop-color="#e3870d"/><stop offset="0.165" stop-color="#e5880d"/><stop offset="0.186" stop-color="#e78a0d"/><stop offset="0.206" stop-color="#ea8c0c"/><stop offset="0.227" stop-color="#ec8e0c"/><stop offset="0.247" stop-color="#ec8f0d"/><stop offset="0.268" stop-color="#ec900d"/><stop offset="0.289" stop-color="#ec900d"/><stop offset="0.309" stop-color="#ec900d"/><stop offset="0.330" stop-color="#ec900d"/><stop offset="0.351" stop-color="#ec8f0d"/><stop offset="0.371" stop-color="#ec8f0d"/><stop offset="0.392" stop-color="#ec8f0d"/><stop offset="0.412" stop-color="#ec8f0d"/><stop offset="0.433" stop-color="#ec8f0d"/><stop offset="0.454" stop-color="#ec8f0d"/><stop offset="0.474" stop-color="#ec8f0d"/><stop offset="0.495" stop-color="#ec8f0d"/><stop offset="0.515" stop-color="#ec8f0d"/><stop offset="0.536" stop-color="#ec8f0d"/><stop offset="0.557" stop-color="#ec8f0d"/><stop offset="0.577" stop-color="#ec8f0d"/><stop offset="0.598" stop-color="#ec8f0d"/><stop offset="0.619" stop-color="#ec8f0d"/><stop offset="0.639" stop-color="#ec8f0d"/><stop offset="0.660" stop-color="#ec8f0d"/><stop offset="0.680" stop-color="#ec8f0d"/><stop offset="0.701" stop-color="#ec8f0d"/><stop offset="0.722" stop-color="#ec900d"/><stop offset="0.732" stop-color="#ec900d"/><stop offset="0.742" stop-color="#ec900d"/><stop offset="0.753" stop-color="#ec900d"/><stop offset="0.763" stop-color="#ec900d"/><stop offset="0.773" stop-color="#ec900d"/><stop offset="0.784" stop-color="#ec900d"/><stop offset="0.794" stop-color="#ec900d"/><stop offset="0.804" stop-color="#ec900d"/><stop offset="0.814" stop-color="#ec900d"/><stop offset="0.825" stop-color="#ec900d"/><stop offset="0.835" stop-color="#ec900d"/><stop offset="0.845" stop-color="#ec8f0d"/><stop offset="0.856" stop-color="#ec8f0d"/><stop offset="0.876" stop-color="#ec8f0c"/><stop offset="0.897" stop-color="#ec8e0c"/><stop offset="0.918" stop-color="#ea8d0c"/><stop offset="0.938" stop-color="#e98c0c"/><stop offset="0.959" stop-color="#e98b0c"/><stop offset="0.979" stop-color="#e98b0c"/><stop offset="1.000" stop-color="#e98b0c"/></linearGradient>
<linearGradient id="stall50" gradientUnits="userSpaceOnUse" x1="74" y1="0" x2="268" y2="0"><stop offset="0.000" stop-color="#d97e0e"/><stop offset="0.021" stop-color="#d97e0e"/><stop offset="0.041" stop-color="#d97e0e"/><stop offset="0.062" stop-color="#d97e0e"/><stop offset="0.082" stop-color="#d97e0e"/><stop offset="0.103" stop-color="#d97e0e"/><stop offset="0.124" stop-color="#d97e0e"/><stop offset="0.144" stop-color="#d97e0e"/><stop offset="0.165" stop-color="#da7f0e"/><stop offset="0.186" stop-color="#dc810e"/><stop offset="0.206" stop-color="#df830d"/><stop offset="0.227" stop-color="#e2850d"/><stop offset="0.247" stop-color="#e3870d"/><stop offset="0.268" stop-color="#e4870d"/><stop offset="0.289" stop-color="#e4870d"/><stop offset="0.309" stop-color="#e4870d"/><stop offset="0.330" stop-color="#e4870d"/><stop offset="0.351" stop-color="#e4870d"/><stop offset="0.371" stop-color="#e4870d"/><stop offset="0.392" stop-color="#e4870d"/><stop offset="0.412" stop-color="#e4870d"/><stop offset="0.433" stop-color="#e4870d"/><stop offset="0.454" stop-color="#e4870d"/><stop offset="0.474" stop-color="#e4870d"/><stop offset="0.495" stop-color="#e4870d"/><stop offset="0.515" stop-color="#e4870d"/><stop offset="0.536" stop-color="#e4870d"/><stop offset="0.557" stop-color="#e4870d"/><stop offset="0.577" stop-color="#e4870d"/><stop offset="0.598" stop-color="#e4870d"/><stop offset="0.619" stop-color="#e4870d"/><stop offset="0.639" stop-color="#e4870d"/><stop offset="0.660" stop-color="#e4870d"/><stop offset="0.680" stop-color="#e4870d"/><stop offset="0.701" stop-color="#e4870d"/><stop offset="0.722" stop-color="#e4870d"/><stop offset="0.732" stop-color="#e4870d"/><stop offset="0.742" stop-color="#e4870d"/><stop offset="0.753" stop-color="#e4870d"/><stop offset="0.763" stop-color="#e4870d"/><stop offset="0.773" stop-color="#e4870d"/><stop offset="0.784" stop-color="#e4870d"/><stop offset="0.794" stop-color="#e4870d"/><stop offset="0.804" stop-color="#e4870d"/><stop offset="0.814" stop-color="#e4870d"/><stop offset="0.825" stop-color="#e4870d"/><stop offset="0.835" stop-color="#e4870d"/><stop offset="0.845" stop-color="#e4870d"/><stop offset="0.856" stop-color="#e3870d"/><stop offset="0.876" stop-color="#e2860d"/><stop offset="0.897" stop-color="#e1850d"/><stop offset="0.918" stop-color="#e0840d"/><stop offset="0.938" stop-color="#df830d"/><stop offset="0.959" stop-color="#de820e"/><stop offset="0.979" stop-color="#de820e"/><stop offset="1.000" stop-color="#de820e"/></linearGradient>
<linearGradient id="stall51" gradientUnits="userSpaceOnUse" x1="74" y1="0" x2="268" y2="0"><stop offset="0.000" stop-color="#ce750f"/><stop offset="0.021" stop-color="#ce750f"/><stop offset="0.041" stop-color="#ce750f"/><stop offset="0.062" stop-color="#ce750f"/><stop offset="0.082" stop-color="#ce750f"/><stop offset="0.103" stop-color="#ce750f"/><stop offset="0.124" stop-color="#ce750f"/><stop offset="0.144" stop-color="#ce750f"/><stop offset="0.165" stop-color="#d0760f"/><stop offset="0.186" stop-color="#d2780f"/><stop offset="0.206" stop-color="#d47a0f"/><stop offset="0.227" stop-color="#d77c0e"/><stop offset="0.247" stop-color="#d87e0e"/><stop offset="0.268" stop-color="#d97e0e"/><stop offset="0.289" stop-color="#d97e0e"/><stop offset="0.309" stop-color="#d97e0e"/><stop offset="0.330" stop-color="#d97e0e"/><stop offset="0.351" stop-color="#d97e0e"/><stop offset="0.371" stop-color="#d97e0e"/><stop offset="0.392" stop-color="#d97e0e"/><stop offset="0.412" stop-color="#d97e0e"/><stop offset="0.433" stop-color="#d97e0e"/><stop offset="0.454" stop-color="#d97e0e"/><stop offset="0.474" stop-color="#d97e0e"/><stop offset="0.495" stop-color="#d97e0e"/><stop offset="0.515" stop-color="#d97e0e"/><stop offset="0.536" stop-color="#d97e0e"/><stop offset="0.557" stop-color="#d97e0e"/><stop offset="0.577" stop-color="#d97e0e"/><stop offset="0.598" stop-color="#d97e0e"/><stop offset="0.619" stop-color="#d97e0e"/><stop offset="0.639" stop-color="#d97e0e"/><stop offset="0.660" stop-color="#d97e0e"/><stop offset="0.680" stop-color="#d97e0e"/><stop offset="0.701" stop-color="#d97e0e"/><stop offset="0.722" stop-color="#d97e0e"/><stop offset="0.732" stop-color="#d97e0e"/><stop offset="0.742" stop-color="#d97e0e"/><stop offset="0.753" stop-color="#d97e0e"/><stop offset="0.763" stop-color="#d97e0e"/><stop offset="0.773" stop-color="#d97e0e"/><stop offset="0.784" stop-color="#d97e0e"/><stop offset="0.794" stop-color="#d97e0e"/><stop offset="0.804" stop-color="#d97e0e"/><stop offset="0.814" stop-color="#d97e0e"/><stop offset="0.825" stop-color="#d97e0e"/><stop offset="0.835" stop-color="#d97e0e"/><stop offset="0.845" stop-color="#d97e0e"/><stop offset="0.856" stop-color="#d87d0e"/><stop offset="0.876" stop-color="#d77d0e"/><stop offset="0.897" stop-color="#d67b0e"/><stop offset="0.918" stop-color="#d57a0f"/><stop offset="0.938" stop-color="#d47a0f"/><stop offset="0.959" stop-color="#d3790f"/><stop offset="0.979" stop-color="#d3790f"/><stop offset="1.000" stop-color="#d3790f"/></linearGradient>
<linearGradient id="stall52" gradientUnits="userSpaceOnUse" x1="74" y1="0" x2="268" y2="0"><stop offset="0.000" stop-color="#c26d10"/><stop offset="0.021" stop-color="#c26d10"/><stop offset="0.041" stop-color="#c26d10"/><stop offset="0.062" stop-color="#c26d10"/><stop offset="0.082" stop-color="#c26d10"/><stop offset="0.103" stop-color="#c26d10"/><stop offset="0.124" stop-color="#c26d10"/><stop offset="0.144" stop-color="#c26d10"/><stop offset="0.165" stop-color="#c46e10"/><stop offset="0.186" stop-color="#c77010"/><stop offset="0.206" stop-color="#ca7210"/><stop offset="0.227" stop-color="#cc7310"/><stop offset="0.247" stop-color="#ce750f"/><stop offset="0.268" stop-color="#ce750f"/><stop offset="0.289" stop-color="#ce750f"/><stop offset="0.309" stop-color="#ce750f"/><stop offset="0.330" stop-color="#ce750f"/><stop offset="0.351" stop-color="#ce750f"/><stop offset="0.371" stop-color="#ce750f"/><stop offset="0.392" stop-color="#ce750f"/><stop offset="0.412" stop-color="#ce750f"/><stop offset="0.433" stop-color="#ce750f"/><stop offset="0.454" stop-color="#ce750f"/><stop offset="0.474" stop-color="#ce750f"/><stop offset="0.495" stop-color="#ce750f"/><stop offset="0.515" stop-color="#ce750f"/><stop offset="0.536" stop-color="#ce750f"/><stop offset="0.557" stop-color="#ce750f"/><stop offset="0.577" stop-color="#ce750f"/><stop offset="0.598" stop-color="#ce750f"/><stop offset="0.619" stop-color="#ce750f"/><stop offset="0.639" stop-color="#ce750f"/><stop offset="0.660" stop-color="#ce750f"/><stop offset="0.680" stop-color="#ce750f"/><stop offset="0.701" stop-color="#ce750f"/><stop offset="0.722" stop-color="#ce750f"/><stop offset="0.732" stop-color="#ce750f"/><stop offset="0.742" stop-color="#ce750f"/><stop offset="0.753" stop-color="#ce750f"/><stop offset="0.763" stop-color="#ce750f"/><stop offset="0.773" stop-color="#ce750f"/><stop offset="0.784" stop-color="#ce750f"/><stop offset="0.794" stop-color="#ce750f"/><stop offset="0.804" stop-color="#ce750f"/><stop offset="0.814" stop-color="#ce750f"/><stop offset="0.825" stop-color="#ce750f"/><stop offset="0.835" stop-color="#ce750f"/><stop offset="0.845" stop-color="#ce750f"/><stop offset="0.856" stop-color="#ce750f"/><stop offset="0.876" stop-color="#cd740f"/><stop offset="0.897" stop-color="#cb7310"/><stop offset="0.918" stop-color="#ca7210"/><stop offset="0.938" stop-color="#c97110"/><stop offset="0.959" stop-color="#c97110"/><stop offset="0.979" stop-color="#c97110"/><stop offset="1.000" stop-color="#c97110"/></linearGradient>
<linearGradient id="stall53" gradientUnits="userSpaceOnUse" x1="74" y1="0" x2="268" y2="0"><stop offset="0.000" stop-color="#b46610"/><stop offset="0.021" stop-color="#b46610"/><stop offset="0.041" stop-color="#b46610"/><stop offset="0.062" stop-color="#b46610"/><stop offset="0.082" stop-color="#b46610"/><stop offset="0.103" stop-color="#b46610"/><stop offset="0.124" stop-color="#b46610"/><stop offset="0.144" stop-color="#b46610"/><stop offset="0.165" stop-color="#b66710"/><stop offset="0.186" stop-color="#b96810"/><stop offset="0.206" stop-color="#bc6a10"/><stop offset="0.227" stop-color="#bf6c10"/><stop offset="0.247" stop-color="#c16d10"/><stop offset="0.268" stop-color="#c26d10"/><stop offset="0.289" stop-color="#c26d10"/><stop offset="0.309" stop-color="#c26d10"/><stop offset="0.330" stop-color="#c26d10"/><stop offset="0.351" stop-color="#c26d10"/><stop offset="0.371" stop-color="#c26d10"/><stop offset="0.392" stop-color="#c26d10"/><stop offset="0.412" stop-color="#c26d10"/><stop offset="0.433" stop-color="#c26d10"/><stop offset="0.454" stop-color="#c26d10"/><stop offset="0.474" stop-color="#c26d10"/><stop offset="0.495" stop-color="#c26d10"/><stop offset="0.515" stop-color="#c26d10"/><stop offset="0.536" stop-color="#c26d10"/><stop offset="0.557" stop-color="#c26d10"/><stop offset="0.577" stop-color="#c26d10"/><stop offset="0.598" stop-color="#c26d10"/><stop offset="0.619" stop-color="#c26d10"/><stop offset="0.639" stop-color="#c26d10"/><stop offset="0.660" stop-color="#c26d10"/><stop offset="0.680" stop-color="#c26d10"/><stop offset="0.701" stop-color="#c26d10"/><stop offset="0.722" stop-color="#c26d10"/><stop offset="0.732" stop-color="#c26d10"/><stop offset="0.742" stop-color="#c26d10"/><stop offset="0.753" stop-color="#c26d10"/><stop offset="0.763" stop-color="#c26d10"/><stop offset="0.773" stop-color="#c26d10"/><stop offset="0.784" stop-color="#c26d10"/><stop offset="0.794" stop-color="#c26d10"/><stop offset="0.804" stop-color="#c26d10"/><stop offset="0.814" stop-color="#c26d10"/><stop offset="0.825" stop-color="#c26d10"/><stop offset="0.835" stop-color="#c26d10"/><stop offset="0.845" stop-color="#c26d10"/><stop offset="0.856" stop-color="#c26d10"/><stop offset="0.876" stop-color="#c06c10"/><stop offset="0.897" stop-color="#be6b10"/><stop offset="0.918" stop-color="#bd6a10"/><stop offset="0.938" stop-color="#bc6a10"/><stop offset="0.959" stop-color="#bb6a10"/><stop offset="0.979" stop-color="#bb6a10"/><stop offset="1.000" stop-color="#bb6a10"/></linearGradient>
<linearGradient id="stall54" gradientUnits="userSpaceOnUse" x1="74" y1="0" x2="268" y2="0"><stop offset="0.000" stop-color="#a65f0f"/><stop offset="0.021" stop-color="#a65f0f"/><stop offset="0.041" stop-color="#a65f0f"/><stop offset="0.062" stop-color="#a65f0f"/><stop offset="0.082" stop-color="#a65f0f"/><stop offset="0.103" stop-color="#a65f0f"/><stop offset="0.124" stop-color="#a65f0f"/><stop offset="0.144" stop-color="#a65f0f"/><stop offset="0.165" stop-color="#a7600f"/><stop offset="0.186" stop-color="#aa610f"/><stop offset="0.206" stop-color="#ad630f"/><stop offset="0.227" stop-color="#b06410"/><stop offset="0.247" stop-color="#b36510"/><stop offset="0.268" stop-color="#b46610"/><stop offset="0.289" stop-color="#b56610"/><stop offset="0.309" stop-color="#b56610"/><stop offset="0.330" stop-color="#b56610"/><stop offset="0.351" stop-color="#b56610"/><stop offset="0.371" stop-color="#b56610"/><stop offset="0.392" stop-color="#b56610"/><stop offset="0.412" stop-color="#b56610"/><stop offset="0.433" stop-color="#b56610"/><stop offset="0.454" stop-color="#b56610"/><stop offset="0.474" stop-color="#b56610"/><stop offset="0.495" stop-color="#b56610"/><stop offset="0.515" stop-color="#b56610"/><stop offset="0.536" stop-color="#b56610"/><stop offset="0.557" stop-color="#b56610"/><stop offset="0.577" stop-color="#b56610"/><stop offset="0.598" stop-color="#b56610"/><stop offset="0.619" stop-color="#b56610"/><stop offset="0.639" stop-color="#b56610"/><stop offset="0.660" stop-color="#b56610"/><stop offset="0.680" stop-color="#b56610"/><stop offset="0.701" stop-color="#b56610"/><stop offset="0.722" stop-color="#b56610"/><stop offset="0.732" stop-color="#b56610"/><stop offset="0.742" stop-color="#b56610"/><stop offset="0.753" stop-color="#b56610"/><stop offset="0.763" stop-color="#b56610"/><stop offset="0.773" stop-color="#b56610"/><stop offset="0.784" stop-color="#b56610"/><stop offset="0.794" stop-color="#b56610"/><stop offset="0.804" stop-color="#b56610"/><stop offset="0.814" stop-color="#b56610"/><stop offset="0.825" stop-color="#b56610"/><stop offset="0.835" stop-color="#b56610"/><stop offset="0.845" stop-color="#b56610"/><stop offset="0.856" stop-color="#b46610"/><stop offset="0.876" stop-color="#b36510"/><stop offset="0.897" stop-color="#b16510"/><stop offset="0.918" stop-color="#af6410"/><stop offset="0.938" stop-color="#ae6310"/><stop offset="0.959" stop-color="#ae630f"/><stop offset="0.979" stop-color="#ae630f"/><stop offset="1.000" stop-color="#ae630f"/></linearGradient>
<linearGradient id="stall55" gradientUnits="userSpaceOnUse" x1="74" y1="0" x2="268" y2="0"><stop offset="0.000" stop-color="#99590f"/><stop offset="0.021" stop-color="#99590f"/><stop offset="0.041" stop-color="#99590f"/><stop offset="0.062" stop-color="#99590f"/><stop offset="0.082" stop-color="#99590f"/><stop offset="0.103" stop-color="#99590f"/><stop offset="0.124" stop-color="#99590f"/><stop offset="0.144" stop-color="#99580f"/><stop offset="0.165" stop-color="#99590f"/><stop offset="0.186" stop-color="#9a590f"/><stop offset="0.206" stop-color="#9c5a0f"/><stop offset="0.227" stop-color="#9f5b0f"/><stop offset="0.247" stop-color="#a35d0f"/><stop offset="0.268" stop-color="#a65f0f"/><stop offset="0.289" stop-color="#a8600f"/><stop offset="0.309" stop-color="#a9600f"/><stop offset="0.330" stop-color="#a9600f"/><stop offset="0.351" stop-color="#a9600f"/><stop offset="0.371" stop-color="#a9600f"/><stop offset="0.392" stop-color="#a9600f"/><stop offset="0.412" stop-color="#a9600f"/><stop offset="0.433" stop-color="#a9600f"/><stop offset="0.454" stop-color="#a9600f"/><stop offset="0.474" stop-color="#a9600f"/><stop offset="0.495" stop-color="#a9600f"/><stop offset="0.515" stop-color="#a9600f"/><stop offset="0.536" stop-color="#a9600f"/><stop offset="0.557" stop-color="#a9600f"/><stop offset="0.577" stop-color="#a9600f"/><stop offset="0.598" stop-color="#a9600f"/><stop offset="0.619" stop-color="#a9600f"/><stop offset="0.639" stop-color="#a9600f"/><stop offset="0.660" stop-color="#a9600f"/><stop offset="0.680" stop-color="#a9600f"/><stop offset="0.701" stop-color="#a9600f"/><stop offset="0.722" stop-color="#a9600f"/><stop offset="0.732" stop-color="#a9600f"/><stop offset="0.742" stop-color="#a9600f"/><stop offset="0.753" stop-color="#a9600f"/><stop offset="0.763" stop-color="#a9600f"/><stop offset="0.773" stop-color="#a9600f"/><stop offset="0.784" stop-color="#a9600f"/><stop offset="0.794" stop-color="#a9600f"/><stop offset="0.804" stop-color="#a9600f"/><stop offset="0.814" stop-color="#a9600f"/><stop offset="0.825" stop-color="#a9600f"/><stop offset="0.835" stop-color="#a9600f"/><stop offset="0.845" stop-color="#a9600f"/><stop offset="0.856" stop-color="#a8600f"/><stop offset="0.876" stop-color="#a75f0f"/><stop offset="0.897" stop-color="#a55e0f"/><stop offset="0.918" stop-color="#a35e0f"/><stop offset="0.938" stop-color="#a25d0f"/><stop offset="0.959" stop-color="#a15d0f"/><stop offset="0.979" stop-color="#a15d0f"/><stop offset="1.000" stop-color="#a15d0f"/></linearGradient>
<linearGradient id="stall56" gradientUnits="userSpaceOnUse" x1="74" y1="0" x2="268" y2="0"><stop offset="0.000" stop-color="#8c520f"/><stop offset="0.021" stop-color="#8c520f"/><stop offset="0.041" stop-color="#8c520f"/><stop offset="0.062" stop-color="#8c520f"/><stop offset="0.082" stop-color="#8c520f"/><stop offset="0.103" stop-color="#8c520f"/><stop offset="0.124" stop-color="#8c520f"/><stop offset="0.144" stop-color="#8b510f"/><stop offset="0.165" stop-color="#8a500f"/><stop offset="0.186" stop-color="#874f0e"/><stop offset="0.206" stop-color="#854e0e"/><stop offset="0.227" stop-color="#884f0e"/><stop offset="0.247" stop-color="#90540f"/><stop offset="0.268" stop-color="#97580f"/><stop offset="0.289" stop-color="#9c5a0f"/><stop offset="0.309" stop-color="#9e5b0f"/><stop offset="0.330" stop-color="#9e5b0f"/><stop offset="0.351" stop-color="#9f5b0f"/><stop offset="0.371" stop-color="#9f5b0f"/><stop offset="0.392" stop-color="#9f5b0f"/><stop offset="0.412" stop-color="#9f5b0f"/><stop offset="0.433" stop-color="#9f5b0f"/><stop offset="0.454" stop-color="#9f5b0f"/><stop offset="0.474" stop-color="#9f5b0f"/><stop offset="0.495" stop-color="#9f5b0f"/><stop offset="0.515" stop-color="#9f5b0f"/><stop offset="0.536" stop-color="#9f5b0f"/><stop offset="0.557" stop-color="#9f5b0f"/><stop offset="0.577" stop-color="#9f5b0f"/><stop offset="0.598" stop-color="#9f5b0f"/><stop offset="0.619" stop-color="#9f5b0f"/><stop offset="0.639" stop-color="#9f5b0f"/><stop offset="0.660" stop-color="#9f5b0f"/><stop offset="0.680" stop-color="#9f5b0f"/><stop offset="0.701" stop-color="#9f5b0f"/><stop offset="0.722" stop-color="#9f5b0f"/><stop offset="0.732" stop-color="#9f5b0f"/><stop offset="0.742" stop-color="#9f5b0f"/><stop offset="0.753" stop-color="#9f5b0f"/><stop offset="0.763" stop-color="#9f5b0f"/><stop offset="0.773" stop-color="#9f5b0f"/><stop offset="0.784" stop-color="#9f5b0f"/><stop offset="0.794" stop-color="#9f5b0f"/><stop offset="0.804" stop-color="#9f5b0f"/><stop offset="0.814" stop-color="#9f5b0f"/><stop offset="0.825" stop-color="#9f5b0f"/><stop offset="0.835" stop-color="#9f5b0f"/><stop offset="0.845" stop-color="#9e5b0f"/><stop offset="0.856" stop-color="#9e5b0f"/><stop offset="0.876" stop-color="#9c5a0f"/><stop offset="0.897" stop-color="#9a590f"/><stop offset="0.918" stop-color="#99580f"/><stop offset="0.938" stop-color="#97580f"/><stop offset="0.959" stop-color="#97570f"/><stop offset="0.979" stop-color="#97570f"/><stop offset="1.000" stop-color="#97570f"/></linearGradient>
<linearGradient id="stall57" gradientUnits="userSpaceOnUse" x1="74" y1="0" x2="268" y2="0"><stop offset="0.000" stop-color="#7b480e"/><stop offset="0.021" stop-color="#7b480e"/><stop offset="0.041" stop-color="#7b480e"/><stop offset="0.062" stop-color="#7b480e"/><stop offset="0.082" stop-color="#7b480e"/><stop offset="0.103" stop-color="#7b480e"/><stop offset="0.124" stop-color="#7a480e"/><stop offset="0.144" stop-color="#78470e"/><stop offset="0.165" stop-color="#75450e"/><stop offset="0.186" stop-color="#70430d"/><stop offset="0.206" stop-color="#6d410d"/><stop offset="0.227" stop-color="#70420d"/><stop offset="0.247" stop-color="#7a480e"/><stop offset="0.268" stop-color="#864f0e"/><stop offset="0.289" stop-color="#8f530f"/><stop offset="0.309" stop-color="#93560f"/><stop offset="0.330" stop-color="#95560f"/><stop offset="0.351" stop-color="#95560f"/><stop offset="0.371" stop-color="#95560f"/><stop offset="0.392" stop-color="#95560f"/><stop offset="0.412" stop-color="#95560f"/><stop offset="0.433" stop-color="#95560f"/><stop offset="0.454" stop-color="#95560f"/><stop offset="0.474" stop-color="#95560f"/><stop offset="0.495" stop-color="#95560f"/><stop offset="0.515" stop-color="#95560f"/><stop offset="0.536" stop-color="#95560f"/><stop offset="0.557" stop-color="#95560f"/><stop offset="0.577" stop-color="#95560f"/><stop offset="0.598" stop-color="#95560f"/><stop offset="0.619" stop-color="#95560f"/><stop offset="0.639" stop-color="#95560f"/><stop offset="0.660" stop-color="#95560f"/><stop offset="0.680" stop-color="#95560f"/><stop offset="0.701" stop-color="#95560f"/><stop offset="0.722" stop-color="#95560f"/><stop offset="0.732" stop-color="#95560f"/><stop offset="0.742" stop-color="#95560f"/><stop offset="0.753" stop-color="#95560f"/><stop offset="0.763" stop-color="#95560f"/><stop offset="0.773" stop-color="#95560f"/><stop offset="0.784" stop-color="#95560f"/><stop offset="0.794" stop-color="#95560f"/><stop offset="0.804" stop-color="#95560f"/><stop offset="0.814" stop-color="#95560f"/><stop offset="0.825" stop-color="#95560f"/><stop offset="0.835" stop-color="#95560f"/><stop offset="0.845" stop-color="#95560f"/><stop offset="0.856" stop-color="#94560f"/><stop offset="0.876" stop-color="#92550f"/><stop offset="0.897" stop-color="#90540f"/><stop offset="0.918" stop-color="#8d520f"/><stop offset="0.938" stop-color="#8a510f"/><stop offset="0.959" stop-color="#89500f"/><stop offset="0.979" stop-color="#89500f"/><stop offset="1.000" stop-color="#89500f"/></linearGradient>
<linearGradient id="stall58" gradientUnits="userSpaceOnUse" x1="74" y1="0" x2="268" y2="0"><stop offset="0.000" stop-color="#693f0d"/><stop offset="0.021" stop-color="#693f0d"/><stop offset="0.041" stop-color="#693f0d"/><stop offset="0.062" stop-color="#693f0d"/><stop offset="0.082" stop-color="#693f0d"/><stop offset="0.103" stop-color="#693f0d"/><stop offset="0.124" stop-color="#683e0d"/><stop offset="0.144" stop-color="#663d0d"/><stop offset="0.165" stop-color="#643c0d"/><stop offset="0.186" stop-color="#5f390d"/><stop offset="0.206" stop-color="#5c380d"/><stop offset="0.227" stop-color="#603a0d"/><stop offset="0.247" stop-color="#6b400d"/><stop offset="0.268" stop-color="#77460e"/><stop offset="0.289" stop-color="#804b0e"/><stop offset="0.309" stop-color="#844d0e"/><stop offset="0.330" stop-color="#854e0e"/><stop offset="0.351" stop-color="#864e0e"/><stop offset="0.371" stop-color="#864e0e"/><stop offset="0.392" stop-color="#864e0e"/><stop offset="0.412" stop-color="#864e0e"/><stop offset="0.433" stop-color="#864e0e"/><stop offset="0.454" stop-color="#864e0e"/><stop offset="0.474" stop-color="#864e0e"/><stop offset="0.495" stop-color="#864e0e"/><stop offset="0.515" stop-color="#864e0e"/><stop offset="0.536" stop-color="#864e0e"/><stop offset="0.557" stop-color="#864e0e"/><stop offset="0.577" stop-color="#864e0e"/><stop offset="0.598" stop-color="#864e0e"/><stop offset="0.619" stop-color="#864e0e"/><stop offset="0.639" stop-color="#864e0e"/><stop offset="0.660" stop-color="#864e0e"/><stop offset="0.680" stop-color="#864e0e"/><stop offset="0.701" stop-color="#864e0e"/><stop offset="0.722" stop-color="#864e0e"/><stop offset="0.732" stop-color="#864e0e"/><stop offset="0.742" stop-color="#864e0e"/><stop offset="0.753" stop-color="#864e0e"/><stop offset="0.763" stop-color="#864e0e"/><stop offset="0.773" stop-color="#864e0e"/><stop offset="0.784" stop-color="#864e0e"/><stop offset="0.794" stop-color="#864e0e"/><stop offset="0.804" stop-color="#864e0e"/><stop offset="0.814" stop-color="#864e0e"/><stop offset="0.825" stop-color="#864e0e"/><stop offset="0.835" stop-color="#864e0e"/><stop offset="0.845" stop-color="#854e0e"/><stop offset="0.856" stop-color="#844d0e"/><stop offset="0.876" stop-color="#824c0e"/><stop offset="0.897" stop-color="#7e4a0e"/><stop offset="0.918" stop-color="#7b480e"/><stop offset="0.938" stop-color="#79470e"/><stop offset="0.959" stop-color="#78470e"/><stop offset="0.979" stop-color="#78470e"/><stop offset="1.000" stop-color="#78470e"/></linearGradient>
<linearGradient id="stall59" gradientUnits="userSpaceOnUse" x1="74" y1="0" x2="268" y2="0"><stop offset="0.000" stop-color="#58350c"/><stop offset="0.021" stop-color="#58350c"/><stop offset="0.041" stop-color="#58350c"/><stop offset="0.062" stop-color="#58350c"/><stop offset="0.082" stop-color="#58350c"/><stop offset="0.103" stop-color="#58350c"/><stop offset="0.124" stop-color="#57350c"/><stop offset="0.144" stop-color="#56340c"/><stop offset="0.165" stop-color="#56340c"/><stop offset="0.186" stop-color="#55340c"/><stop offset="0.206" stop-color="#56340c"/><stop offset="0.227" stop-color="#5a370d"/><stop offset="0.247" stop-color="#633b0d"/><stop offset="0.268" stop-color="#6b400d"/><stop offset="0.289" stop-color="#70430d"/><stop offset="0.309" stop-color="#73440e"/><stop offset="0.330" stop-color="#74450e"/><stop offset="0.351" stop-color="#74450e"/><stop offset="0.371" stop-color="#74450e"/><stop offset="0.392" stop-color="#74450e"/><stop offset="0.412" stop-color="#74450e"/><stop offset="0.433" stop-color="#74450e"/><stop offset="0.454" stop-color="#74450e"/><stop offset="0.474" stop-color="#74450e"/><stop offset="0.495" stop-color="#74450e"/><stop offset="0.515" stop-color="#74450e"/><stop offset="0.536" stop-color="#74450e"/><stop offset="0.557" stop-color="#74450e"/><stop offset="0.577" stop-color="#74450e"/><stop offset="0.598" stop-color="#74450e"/><stop offset="0.619" stop-color="#74450e"/><stop offset="0.639" stop-color="#74450e"/><stop offset="0.660" stop-color="#74450e"/><stop offset="0.680" stop-color="#74450e"/><stop offset="0.701" stop-color="#74450e"/><stop offset="0.722" stop-color="#74450e"/><stop offset="0.732" stop-color="#74450e"/><stop offset="0.742" stop-color="#74450e"/><stop offset="0.753" stop-color="#74450e"/><stop offset="0.763" stop-color="#74450e"/><stop offset="0.773" stop-color="#74450e"/><stop offset="0.784" stop-color="#74450e"/><stop offset="0.794" stop-color="#74450e"/><stop offset="0.804" stop-color="#74450e"/><stop offset="0.814" stop-color="#74450e"/><stop offset="0.825" stop-color="#74450e"/><stop offset="0.835" stop-color="#74450e"/><stop offset="0.845" stop-color="#74440e"/><stop offset="0.856" stop-color="#73440e"/><stop offset="0.876" stop-color="#70420d"/><stop offset="0.897" stop-color="#6d410d"/><stop offset="0.918" stop-color="#693f0d"/><stop offset="0.938" stop-color="#673e0d"/><stop offset="0.959" stop-color="#663d0d"/><stop offset="0.979" stop-color="#663d0d"/><stop offset="1.000" stop-color="#663d0d"/></linearGradient>
<g id="fieldtall" filter="url(#vbtall)">
<rect x="74" y="224" width="194" height="2.3" fill="url(#stall0)"/>
<rect x="74" y="226.0" width="194" height="2.3" fill="url(#stall1)"/>
<rect x="74" y="228.0" width="194" height="2.3" fill="url(#stall2)"/>
<rect x="74" y="230.0" width="194" height="2.3" fill="url(#stall3)"/>
<rect x="74" y="232.0" width="194" height="2.3" fill="url(#stall4)"/>
<rect x="74" y="234.0" width="194" height="2.3" fill="url(#stall5)"/>
<rect x="74" y="236.0" width="194" height="2.3" fill="url(#stall6)"/>
<rect x="74" y="238.0" width="194" height="2.3" fill="url(#stall7)"/>
<rect x="74" y="240.0" width="194" height="2.3" fill="url(#stall8)"/>
<rect x="74" y="242.0" width="194" height="2.3" fill="url(#stall9)"/>
<rect x="74" y="244.0" width="194" height="2.3" fill="url(#stall10)"/>
<rect x="74" y="246.0" width="194" height="2.3" fill="url(#stall11)"/>
<rect x="74" y="248.0" width="194" height="2.3" fill="url(#stall12)"/>
<rect x="74" y="250.0" width="194" height="2.3" fill="url(#stall13)"/>
<rect x="74" y="252.0" width="194" height="2.3" fill="url(#stall14)"/>
<rect x="74" y="254.0" width="194" height="2.3" fill="url(#stall15)"/>
<rect x="74" y="256.0" width="194" height="2.3" fill="url(#stall16)"/>
<rect x="74" y="258.0" width="194" height="2.3" fill="url(#stall17)"/>
<rect x="74" y="260.0" width="194" height="2.3" fill="url(#stall18)"/>
<rect x="74" y="262.0" width="194" height="2.3" fill="url(#stall19)"/>
<rect x="74" y="264.0" width="194" height="2.3" fill="url(#stall20)"/>
<rect x="74" y="266.0" width="194" height="2.3" fill="url(#stall21)"/>
<rect x="74" y="268.0" width="194" height="2.3" fill="url(#stall22)"/>
<rect x="74" y="270.0" width="194" height="2.3" fill="url(#stall23)"/>
<rect x="74" y="272.0" width="194" height="2.3" fill="url(#stall24)"/>
<rect x="74" y="274.0" width="194" height="2.3" fill="url(#stall25)"/>
<rect x="74" y="276.0" width="194" height="2.3" fill="url(#stall26)"/>
<rect x="74" y="278.0" width="194" height="2.3" fill="url(#stall27)"/>
<rect x="74" y="280.0" width="194" height="2.3" fill="url(#stall28)"/>
<rect x="74" y="282.0" width="194" height="2.3" fill="url(#stall29)"/>
<rect x="74" y="284.0" width="194" height="2.3" fill="url(#stall30)"/>
<rect x="74" y="286.0" width="194" height="2.3" fill="url(#stall31)"/>
<rect x="74" y="288.0" width="194" height="2.3" fill="url(#stall32)"/>
<rect x="74" y="290.0" width="194" height="2.3" fill="url(#stall33)"/>
<rect x="74" y="292.0" width="194" height="2.3" fill="url(#stall34)"/>
<rect x="74" y="294.0" width="194" height="2.3" fill="url(#stall35)"/>
<rect x="74" y="296.0" width="194" height="2.3" fill="url(#stall36)"/>
<rect x="74" y="298.0" width="194" height="2.3" fill="url(#stall37)"/>
<rect x="74" y="300.0" width="194" height="2.3" fill="url(#stall38)"/>
<rect x="74" y="302.0" width="194" height="2.3" fill="url(#stall39)"/>
<rect x="74" y="304.0" width="194" height="2.3" fill="url(#stall40)"/>
<rect x="74" y="306.0" width="194" height="2.3" fill="url(#stall41)"/>
<rect x="74" y="308.0" width="194" height="2.3" fill="url(#stall42)"/>
<rect x="74" y="310.0" width="194" height="2.3" fill="url(#stall43)"/>
<rect x="74" y="312.0" width="194" height="2.3" fill="url(#stall44)"/>
<rect x="74" y="314.0" width="194" height="2.3" fill="url(#stall45)"/>
<rect x="74" y="316.0" width="194" height="2.3" fill="url(#stall46)"/>
<rect x="74" y="318.0" width="194" height="2.3" fill="url(#stall47)"/>
<rect x="74" y="320.0" width="194" height="2.3" fill="url(#stall48)"/>
<rect x="74" y="322.0" width="194" height="2.3" fill="url(#stall49)"/>
<rect x="74" y="324.0" width="194" height="2.3" fill="url(#stall50)"/>
<rect x="74" y="326.0" width="194" height="2.3" fill="url(#stall51)"/>
<rect x="74" y="328.0" width="194" height="2.3" fill="url(#stall52)"/>
<rect x="74" y="330.0" width="194" height="2.3" fill="url(#stall53)"/>
<rect x="74" y="332.0" width="194" height="2.3" fill="url(#stall54)"/>
<rect x="74" y="334.0" width="194" height="2.3" fill="url(#stall55)"/>
<rect x="74" y="336.0" width="194" height="2.3" fill="url(#stall56)"/>
<rect x="74" y="338.0" width="194" height="2.3" fill="url(#stall57)"/>
<rect x="74" y="340.0" width="194" height="2.3" fill="url(#stall58)"/>
<rect x="74" y="342.0" width="194" height="2.3" fill="url(#stall59)"/>
</g>
<linearGradient id="edark" gradientUnits="userSpaceOnUse" x1="0" y1="118" x2="0" y2="147"><stop offset="0" stop-color="#5a3510" stop-opacity="0"/><stop offset="0.6" stop-color="#5a3510" stop-opacity="0.22"/><stop offset="1" stop-color="#4a2a0a" stop-opacity="0.6"/></linearGradient>
<linearGradient id="cb121" gradientUnits="userSpaceOnUse" x1="0" y1="10.80" x2="0" y2="162.00"><stop offset="0.0000" stop-color="#1f6b2b"/><stop offset="0.1000" stop-color="#3f9a3c"/><stop offset="0.2000" stop-color="#86d468"/><stop offset="0.2700" stop-color="#aaf08a"/><stop offset="0.3600" stop-color="#d2ee72"/><stop offset="0.4700" stop-color="#f0e25c"/><stop offset="0.5600" stop-color="#f2d048"/><stop offset="0.6600" stop-color="#eeaa20"/><stop offset="0.7700" stop-color="#dd8810"/><stop offset="0.8900" stop-color="#a86012"/><stop offset="1.0000" stop-color="#4e3010"/></linearGradient>
<linearGradient id="cb122" gradientUnits="userSpaceOnUse" x1="0" y1="10.40" x2="0" y2="161.20"><stop offset="0.0000" stop-color="#1f6b2b"/><stop offset="0.1000" stop-color="#3f9a3c"/><stop offset="0.2000" stop-color="#86d468"/><stop offset="0.2700" stop-color="#aaf08a"/><stop offset="0.3600" stop-color="#d2ee72"/><stop offset="0.4700" stop-color="#f0e25c"/><stop offset="0.5600" stop-color="#f2d048"/><stop offset="0.6600" stop-color="#eeaa20"/><stop offset="0.7700" stop-color="#dd8810"/><stop offset="0.8900" stop-color="#a86012"/><stop offset="1.0000" stop-color="#4e3010"/></linearGradient>
<linearGradient id="cb123" gradientUnits="userSpaceOnUse" x1="0" y1="204.50" x2="0" y2="353.90"><stop offset="0.0000" stop-color="#1f6b2b"/><stop offset="0.1000" stop-color="#3f9a3c"/><stop offset="0.2000" stop-color="#86d468"/><stop offset="0.2700" stop-color="#aaf08a"/><stop offset="0.3600" stop-color="#d2ee72"/><stop offset="0.4700" stop-color="#f0e25c"/><stop offset="0.5600" stop-color="#f2d048"/><stop offset="0.6600" stop-color="#eeaa20"/><stop offset="0.7700" stop-color="#dd8810"/><stop offset="0.8900" stop-color="#a86012"/><stop offset="1.0000" stop-color="#4e3010"/></linearGradient>
<linearGradient id="cb124" gradientUnits="userSpaceOnUse" x1="0" y1="211.20" x2="0" y2="357.90"><stop offset="0.0000" stop-color="#1f6b2b"/><stop offset="0.1000" stop-color="#3f9a3c"/><stop offset="0.2000" stop-color="#86d468"/><stop offset="0.2700" stop-color="#aaf08a"/><stop offset="0.3600" stop-color="#d2ee72"/><stop offset="0.4700" stop-color="#f0e25c"/><stop offset="0.5600" stop-color="#f2d048"/><stop offset="0.6600" stop-color="#eeaa20"/><stop offset="0.7700" stop-color="#dd8810"/><stop offset="0.8900" stop-color="#a86012"/><stop offset="1.0000" stop-color="#4e3010"/></linearGradient>
<linearGradient id="cb125" gradientUnits="userSpaceOnUse" x1="0" y1="386.10" x2="0" y2="538.20"><stop offset="0.0000" stop-color="#1f6b2b"/><stop offset="0.1000" stop-color="#3f9a3c"/><stop offset="0.2000" stop-color="#86d468"/><stop offset="0.2700" stop-color="#aaf08a"/><stop offset="0.3600" stop-color="#d2ee72"/><stop offset="0.4700" stop-color="#f0e25c"/><stop offset="0.5600" stop-color="#f2d048"/><stop offset="0.6600" stop-color="#eeaa20"/><stop offset="0.7700" stop-color="#dd8810"/><stop offset="0.8900" stop-color="#a86012"/><stop offset="1.0000" stop-color="#4e3010"/></linearGradient>
</defs>
<rect x="0" y="0" width="685" height="563" fill="#fff"/>
<rect x="2.5" y="10" width="331.5" height="177.1" fill="#fafaf8"/>
<rect x="352" y="10" width="330.5" height="176.6" fill="#fafaf8"/>
<rect x="2.5" y="200.9" width="331.8" height="178" fill="#fafaf8"/>
<rect x="352" y="205.9" width="330.5" height="176.7" fill="#fafaf8"/>
<rect x="189.2" y="385.8" width="333.5" height="168.5" fill="#fafaf8"/>
<rect x="338" y="9" width="24.5" height="15.3" fill="#fff"/>
<text x="30.00" y="130.30" font-family='"Liberation Serif", serif' font-size="9.9" fill="#333" text-anchor="middle" textLength="12.99" lengthAdjust="spacingAndGlyphs">100</text>
<text x="88.20" y="149.80" font-family='"Liberation Serif", serif' font-size="9.9" fill="#333" text-anchor="middle" textLength="4.33" lengthAdjust="spacingAndGlyphs">0</text>
<text x="139.80" y="170.70" font-family='"Liberation Serif", serif' font-size="9.9" fill="#333" text-anchor="middle" textLength="15.88" lengthAdjust="spacingAndGlyphs">-100</text>
<text x="165.00" y="172.00" font-family='"Liberation Serif", serif' font-size="9.9" fill="#333" text-anchor="middle" textLength="15.88" lengthAdjust="spacingAndGlyphs">-100</text>
<text x="198.10" y="165.30" font-family='"Liberation Serif", serif' font-size="9.9" fill="#333" text-anchor="middle" textLength="11.55" lengthAdjust="spacingAndGlyphs">-50</text>
<text x="236.80" y="156.60" font-family='"Liberation Serif", serif' font-size="9.9" fill="#333" text-anchor="middle" textLength="4.33" lengthAdjust="spacingAndGlyphs">0</text>
<text x="273.00" y="150.30" font-family='"Liberation Serif", serif' font-size="9.9" fill="#333" text-anchor="middle" textLength="8.66" lengthAdjust="spacingAndGlyphs">50</text>
<text x="302.50" y="143.50" font-family='"Liberation Serif", serif' font-size="9.9" fill="#333" text-anchor="middle" textLength="12.99" lengthAdjust="spacingAndGlyphs">100</text>
<text x="64.8" y="156.9" font-family='"Liberation Serif", serif' font-size="11" font-style="italic" fill="#333" text-anchor="middle" transform="rotate(21 64.8 156.9)">Y(μm)</text>
<text x="228.8" y="169.75" font-family='"Liberation Serif", serif' font-size="10" fill="#333" text-anchor="middle" transform="rotate(-5 228.8 169.75)">X(μm)</text>
<text x="382.00" y="132.80" font-family='"Liberation Serif", serif' font-size="9.9" fill="#333" text-anchor="middle" textLength="12.99" lengthAdjust="spacingAndGlyphs">100</text>
<text x="438.60" y="149.30" font-family='"Liberation Serif", serif' font-size="9.9" fill="#333" text-anchor="middle" textLength="4.33" lengthAdjust="spacingAndGlyphs">0</text>
<text x="489.50" y="169.50" font-family='"Liberation Serif", serif' font-size="9.9" fill="#333" text-anchor="middle" textLength="15.88" lengthAdjust="spacingAndGlyphs">-100</text>
<text x="513.80" y="171.30" font-family='"Liberation Serif", serif' font-size="9.9" fill="#333" text-anchor="middle" textLength="15.88" lengthAdjust="spacingAndGlyphs">-100</text>
<text x="549.30" y="163.10" font-family='"Liberation Serif", serif' font-size="9.9" fill="#333" text-anchor="middle" textLength="11.55" lengthAdjust="spacingAndGlyphs">-50</text>
<text x="586.80" y="155.00" font-family='"Liberation Serif", serif' font-size="9.9" fill="#333" text-anchor="middle" textLength="4.33" lengthAdjust="spacingAndGlyphs">0</text>
<text x="624.20" y="149.10" font-family='"Liberation Serif", serif' font-size="9.9" fill="#333" text-anchor="middle" textLength="8.66" lengthAdjust="spacingAndGlyphs">50</text>
<text x="653.20" y="144.20" font-family='"Liberation Serif", serif' font-size="9.9" fill="#333" text-anchor="middle" textLength="12.99" lengthAdjust="spacingAndGlyphs">100</text>
<text x="425.2" y="165.4" font-family='"Liberation Serif", serif' font-size="11" font-style="italic" fill="#333" text-anchor="middle" transform="rotate(21 425.2 165.4)">Y(μm)</text>
<text x="587.45" y="169" font-family='"Liberation Serif", serif' font-size="10" fill="#333" text-anchor="middle" transform="rotate(-5 587.45 169)">X(μm)</text>
<text x="31.00" y="323.30" font-family='"Liberation Serif", serif' font-size="9.9" fill="#333" text-anchor="middle" textLength="12.99" lengthAdjust="spacingAndGlyphs">100</text>
<text x="88.80" y="340.70" font-family='"Liberation Serif", serif' font-size="9.9" fill="#333" text-anchor="middle" textLength="4.33" lengthAdjust="spacingAndGlyphs">0</text>
<text x="139.80" y="360.70" font-family='"Liberation Serif", serif' font-size="9.9" fill="#333" text-anchor="middle" textLength="15.88" lengthAdjust="spacingAndGlyphs">-100</text>
<text x="165.00" y="362.30" font-family='"Liberation Serif", serif' font-size="9.9" fill="#333" text-anchor="middle" textLength="15.88" lengthAdjust="spacingAndGlyphs">-100</text>
<text x="200.50" y="355.80" font-family='"Liberation Serif", serif' font-size="9.9" fill="#333" text-anchor="middle" textLength="11.55" lengthAdjust="spacingAndGlyphs">-50</text>
<text x="237.40" y="347.20" font-family='"Liberation Serif", serif' font-size="9.9" fill="#333" text-anchor="middle" textLength="4.33" lengthAdjust="spacingAndGlyphs">0</text>
<text x="273.50" y="341.00" font-family='"Liberation Serif", serif' font-size="9.9" fill="#333" text-anchor="middle" textLength="8.66" lengthAdjust="spacingAndGlyphs">50</text>
<text x="302.50" y="334.20" font-family='"Liberation Serif", serif' font-size="9.9" fill="#333" text-anchor="middle" textLength="12.99" lengthAdjust="spacingAndGlyphs">100</text>
<text x="77" y="353.2" font-family='"Liberation Serif", serif' font-size="11" font-style="italic" fill="#333" text-anchor="middle" transform="rotate(21 77 353.2)">Y(μm)</text>
<text x="229.85" y="361.1" font-family='"Liberation Serif", serif' font-size="10" fill="#333" text-anchor="middle" transform="rotate(-5 229.85 361.1)">X(μm)</text>
<text x="380.50" y="328.30" font-family='"Liberation Serif", serif' font-size="9.9" fill="#333" text-anchor="middle" textLength="12.99" lengthAdjust="spacingAndGlyphs">100</text>
<text x="439.60" y="345.30" font-family='"Liberation Serif", serif' font-size="9.9" fill="#333" text-anchor="middle" textLength="4.33" lengthAdjust="spacingAndGlyphs">0</text>
<text x="488.20" y="363.80" font-family='"Liberation Serif", serif' font-size="9.9" fill="#333" text-anchor="middle" textLength="15.88" lengthAdjust="spacingAndGlyphs">-100</text>
<text x="516.90" y="366.60" font-family='"Liberation Serif", serif' font-size="9.9" fill="#333" text-anchor="middle" textLength="15.88" lengthAdjust="spacingAndGlyphs">-100</text>
<text x="551.50" y="359.90" font-family='"Liberation Serif", serif' font-size="9.9" fill="#333" text-anchor="middle" textLength="11.55" lengthAdjust="spacingAndGlyphs">-50</text>
<text x="588.00" y="353.10" font-family='"Liberation Serif", serif' font-size="9.9" fill="#333" text-anchor="middle" textLength="4.33" lengthAdjust="spacingAndGlyphs">0</text>
<text x="625.80" y="345.80" font-family='"Liberation Serif", serif' font-size="9.9" fill="#333" text-anchor="middle" textLength="8.66" lengthAdjust="spacingAndGlyphs">50</text>
<text x="654.60" y="339.60" font-family='"Liberation Serif", serif' font-size="9.9" fill="#333" text-anchor="middle" textLength="12.99" lengthAdjust="spacingAndGlyphs">100</text>
<text x="425.2" y="359" font-family='"Liberation Serif", serif' font-size="11" font-style="italic" fill="#333" text-anchor="middle" transform="rotate(21 425.2 359)">Y(μm)</text>
<text x="592.8" y="367.15" font-family='"Liberation Serif", serif' font-size="10" fill="#333" text-anchor="middle" transform="rotate(-5 592.8 367.15)">X(μm)</text>
<text x="218.30" y="507.10" font-family='"Liberation Serif", serif' font-size="9.9" fill="#333" text-anchor="middle" textLength="12.99" lengthAdjust="spacingAndGlyphs">100</text>
<text x="277.20" y="525.70" font-family='"Liberation Serif", serif' font-size="9.9" fill="#333" text-anchor="middle" textLength="4.33" lengthAdjust="spacingAndGlyphs">0</text>
<text x="327.20" y="544.30" font-family='"Liberation Serif", serif' font-size="9.9" fill="#333" text-anchor="middle" textLength="15.88" lengthAdjust="spacingAndGlyphs">-100</text>
<text x="355.60" y="545.10" font-family='"Liberation Serif", serif' font-size="9.9" fill="#333" text-anchor="middle" textLength="15.88" lengthAdjust="spacingAndGlyphs">-100</text>
<text x="389.60" y="538.80" font-family='"Liberation Serif", serif' font-size="9.9" fill="#333" text-anchor="middle" textLength="11.55" lengthAdjust="spacingAndGlyphs">-50</text>
<text x="425.10" y="531.30" font-family='"Liberation Serif", serif' font-size="9.9" fill="#333" text-anchor="middle" textLength="4.33" lengthAdjust="spacingAndGlyphs">0</text>
<text x="463.10" y="525.70" font-family='"Liberation Serif", serif' font-size="9.9" fill="#333" text-anchor="middle" textLength="8.66" lengthAdjust="spacingAndGlyphs">50</text>
<text x="490.60" y="518.80" font-family='"Liberation Serif", serif' font-size="9.9" fill="#333" text-anchor="middle" textLength="12.99" lengthAdjust="spacingAndGlyphs">100</text>
<text x="264" y="538.4" font-family='"Liberation Serif", serif' font-size="11" font-style="italic" fill="#333" text-anchor="middle" transform="rotate(21 264 538.4)">Y(μm)</text>
<text x="432.95" y="545.05" font-family='"Liberation Serif", serif' font-size="10" fill="#333" text-anchor="middle" transform="rotate(-5 432.95 545.05)">X(μm)</text>
<line x1="39.5" y1="39.4" x2="152" y2="17" stroke="#e2e2e2" stroke-width="0.6" />
<line x1="39.5" y1="76" x2="152" y2="53" stroke="#e2e2e2" stroke-width="0.6" />
<line x1="39.5" y1="113" x2="152" y2="90" stroke="#e2e2e2" stroke-width="0.6" />
<line x1="152" y1="17" x2="152" y2="97" stroke="#e2e2e2" stroke-width="0.6" />
<line x1="152" y1="17" x2="302" y2="44" stroke="#e2e2e2" stroke-width="0.6" />
<line x1="302" y1="44" x2="302" y2="134" stroke="#e2e2e2" stroke-width="0.6" />
<line x1="152" y1="97" x2="302" y2="125" stroke="#e2e2e2" stroke-width="0.6" />
<line x1="95" y1="28" x2="95" y2="108" stroke="#e2e2e2" stroke-width="0.5" />
<line x1="227" y1="30" x2="227" y2="112" stroke="#e2e2e2" stroke-width="0.5" />
<line x1="39.5" y1="39.4" x2="39.5" y2="124.5" stroke="#b5b5b5" stroke-width="0.7" />
<line x1="37" y1="38.7" x2="39.5" y2="38.7" stroke="#999" stroke-width="0.6" />
<text x="34.60" y="41.97" font-family='"Liberation Serif", serif' font-size="9.9" fill="#333" text-anchor="end" textLength="11.55" lengthAdjust="spacingAndGlyphs">-50</text>
<line x1="37" y1="76.2" x2="39.5" y2="76.2" stroke="#999" stroke-width="0.6" />
<text x="34.60" y="79.47" font-family='"Liberation Serif", serif' font-size="9.9" fill="#333" text-anchor="end" textLength="15.88" lengthAdjust="spacingAndGlyphs">-100</text>
<line x1="37" y1="113.3" x2="39.5" y2="113.3" stroke="#999" stroke-width="0.6" />
<text x="34.60" y="116.57" font-family='"Liberation Serif", serif' font-size="9.9" fill="#333" text-anchor="end" textLength="15.88" lengthAdjust="spacingAndGlyphs">-150</text>
<line x1="39.5" y1="124.5" x2="152.3" y2="162" stroke="#b5b5b5" stroke-width="0.7" />
<line x1="152.3" y1="162" x2="302" y2="133.9" stroke="#b5b5b5" stroke-width="0.7" />
<g clip-path="url(#clipshort)"><use href="#fieldshort"/></g>
<line x1="227.5" y1="415.0" x2="340" y2="392.6" stroke="#e2e2e2" stroke-width="0.6" />
<line x1="227.5" y1="451.6" x2="340" y2="428.6" stroke="#e2e2e2" stroke-width="0.6" />
<line x1="227.5" y1="488.6" x2="340" y2="465.6" stroke="#e2e2e2" stroke-width="0.6" />
<line x1="340" y1="392.6" x2="340" y2="472.6" stroke="#e2e2e2" stroke-width="0.6" />
<line x1="340" y1="392.6" x2="490" y2="419.6" stroke="#e2e2e2" stroke-width="0.6" />
<line x1="490" y1="419.6" x2="490" y2="509.6" stroke="#e2e2e2" stroke-width="0.6" />
<line x1="340" y1="472.6" x2="490" y2="500.6" stroke="#e2e2e2" stroke-width="0.6" />
<line x1="283" y1="403.6" x2="283" y2="483.6" stroke="#e2e2e2" stroke-width="0.5" />
<line x1="415" y1="405.6" x2="415" y2="487.6" stroke="#e2e2e2" stroke-width="0.5" />
<line x1="227.5" y1="415.0" x2="227.5" y2="500.1" stroke="#b5b5b5" stroke-width="0.7" />
<line x1="225" y1="413.6" x2="227.5" y2="413.6" stroke="#999" stroke-width="0.6" />
<text x="222.60" y="416.87" font-family='"Liberation Serif", serif' font-size="9.9" fill="#333" text-anchor="end" textLength="11.55" lengthAdjust="spacingAndGlyphs">-50</text>
<line x1="225" y1="453.40000000000003" x2="227.5" y2="453.40000000000003" stroke="#999" stroke-width="0.6" />
<text x="222.60" y="456.67" font-family='"Liberation Serif", serif' font-size="9.9" fill="#333" text-anchor="end" textLength="15.88" lengthAdjust="spacingAndGlyphs">-100</text>
<line x1="225" y1="494.0" x2="227.5" y2="494.0" stroke="#999" stroke-width="0.6" />
<text x="222.60" y="497.27" font-family='"Liberation Serif", serif' font-size="9.9" fill="#333" text-anchor="end" textLength="15.88" lengthAdjust="spacingAndGlyphs">-150</text>
<line x1="227.5" y1="500.1" x2="340.3" y2="537.6" stroke="#b5b5b5" stroke-width="0.7" />
<line x1="340.3" y1="537.6" x2="490" y2="509.5" stroke="#b5b5b5" stroke-width="0.7" />
<g transform="translate(188,375.6)"><g clip-path="url(#clipe)"><use href="#fieldshort"/><rect x="70" y="110" width="200" height="40" fill="url(#edark)"/></g></g>
<line x1="39.5" y1="233.7" x2="152" y2="212" stroke="#e2e2e2" stroke-width="0.6" />
<line x1="39.5" y1="252" x2="152" y2="230" stroke="#e2e2e2" stroke-width="0.6" />
<line x1="39.5" y1="273" x2="152" y2="251" stroke="#e2e2e2" stroke-width="0.6" />
<line x1="39.5" y1="294" x2="152" y2="272" stroke="#e2e2e2" stroke-width="0.6" />
<line x1="152" y1="212" x2="152" y2="294" stroke="#e2e2e2" stroke-width="0.6" />
<line x1="152" y1="212" x2="302" y2="240" stroke="#e2e2e2" stroke-width="0.6" />
<line x1="302" y1="240" x2="302" y2="325" stroke="#e2e2e2" stroke-width="0.6" />
<line x1="152" y1="294" x2="302" y2="320" stroke="#e2e2e2" stroke-width="0.6" />
<line x1="39.5" y1="233.7" x2="39.5" y2="317" stroke="#b5b5b5" stroke-width="0.7" />
<line x1="37" y1="251.2" x2="39.5" y2="251.2" stroke="#999" stroke-width="0.6" />
<text x="34.60" y="254.47" font-family='"Liberation Serif", serif' font-size="9.9" fill="#333" text-anchor="end" textLength="15.88" lengthAdjust="spacingAndGlyphs">-100</text>
<line x1="37" y1="272" x2="39.5" y2="272" stroke="#999" stroke-width="0.6" />
<text x="34.60" y="275.27" font-family='"Liberation Serif", serif' font-size="9.9" fill="#333" text-anchor="end" textLength="15.88" lengthAdjust="spacingAndGlyphs">-120</text>
<line x1="37" y1="293.7" x2="39.5" y2="293.7" stroke="#999" stroke-width="0.6" />
<text x="34.60" y="296.97" font-family='"Liberation Serif", serif' font-size="9.9" fill="#333" text-anchor="end" textLength="15.88" lengthAdjust="spacingAndGlyphs">-140</text>
<line x1="39.5" y1="317" x2="152.3" y2="352.4" stroke="#b5b5b5" stroke-width="0.7" />
<line x1="152.3" y1="352.4" x2="303" y2="325.5" stroke="#b5b5b5" stroke-width="0.7" />
<g clip-path="url(#cliptall)"><use href="#fieldtall"/></g>
<line x1="389.8" y1="41.19999999999999" x2="502.3" y2="19.5" stroke="#e2e2e2" stroke-width="0.6" />
<line x1="389.8" y1="59.5" x2="502.3" y2="37.5" stroke="#e2e2e2" stroke-width="0.6" />
<line x1="389.8" y1="80.5" x2="502.3" y2="58.5" stroke="#e2e2e2" stroke-width="0.6" />
<line x1="389.8" y1="101.5" x2="502.3" y2="79.5" stroke="#e2e2e2" stroke-width="0.6" />
<line x1="502.3" y1="19.5" x2="502.3" y2="101.5" stroke="#e2e2e2" stroke-width="0.6" />
<line x1="502.3" y1="19.5" x2="652.3" y2="47.5" stroke="#e2e2e2" stroke-width="0.6" />
<line x1="652.3" y1="47.5" x2="652.3" y2="132.5" stroke="#e2e2e2" stroke-width="0.6" />
<line x1="502.3" y1="101.5" x2="652.3" y2="127.5" stroke="#e2e2e2" stroke-width="0.6" />
<line x1="389.8" y1="41.19999999999999" x2="389.8" y2="124.5" stroke="#b5b5b5" stroke-width="0.7" />
<line x1="387.3" y1="57.400000000000006" x2="389.8" y2="57.400000000000006" stroke="#999" stroke-width="0.6" />
<text x="384.90" y="60.67" font-family='"Liberation Serif", serif' font-size="9.9" fill="#333" text-anchor="end" textLength="15.88" lengthAdjust="spacingAndGlyphs">-100</text>
<line x1="387.3" y1="77.39999999999998" x2="389.8" y2="77.39999999999998" stroke="#999" stroke-width="0.6" />
<text x="384.90" y="80.67" font-family='"Liberation Serif", serif' font-size="9.9" fill="#333" text-anchor="end" textLength="15.88" lengthAdjust="spacingAndGlyphs">-120</text>
<line x1="387.3" y1="97.5" x2="389.8" y2="97.5" stroke="#999" stroke-width="0.6" />
<text x="384.90" y="100.77" font-family='"Liberation Serif", serif' font-size="9.9" fill="#333" text-anchor="end" textLength="15.88" lengthAdjust="spacingAndGlyphs">-140</text>
<line x1="387.3" y1="118.0" x2="389.8" y2="118.0" stroke="#999" stroke-width="0.6" />
<text x="384.90" y="121.27" font-family='"Liberation Serif", serif' font-size="9.9" fill="#333" text-anchor="end" textLength="15.88" lengthAdjust="spacingAndGlyphs">-160</text>
<line x1="389.8" y1="124.5" x2="502.6" y2="159.89999999999998" stroke="#b5b5b5" stroke-width="0.7" />
<line x1="502.6" y1="159.89999999999998" x2="653.3" y2="133.0" stroke="#b5b5b5" stroke-width="0.7" />
<g transform="translate(350.8,-193.4)"><g clip-path="url(#cliptall)"><use href="#fieldtall"/></g></g>
<line x1="389.5" y1="238.7" x2="502" y2="217" stroke="#e2e2e2" stroke-width="0.6" />
<line x1="389.5" y1="257" x2="502" y2="235" stroke="#e2e2e2" stroke-width="0.6" />
<line x1="389.5" y1="278" x2="502" y2="256" stroke="#e2e2e2" stroke-width="0.6" />
<line x1="389.5" y1="299" x2="502" y2="277" stroke="#e2e2e2" stroke-width="0.6" />
<line x1="502" y1="217" x2="502" y2="299" stroke="#e2e2e2" stroke-width="0.6" />
<line x1="502" y1="217" x2="652" y2="245" stroke="#e2e2e2" stroke-width="0.6" />
<line x1="652" y1="245" x2="652" y2="330" stroke="#e2e2e2" stroke-width="0.6" />
<line x1="502" y1="299" x2="652" y2="325" stroke="#e2e2e2" stroke-width="0.6" />
<line x1="389.5" y1="238.7" x2="389.5" y2="322" stroke="#b5b5b5" stroke-width="0.7" />
<line x1="387" y1="241.2" x2="389.5" y2="241.2" stroke="#999" stroke-width="0.6" />
<text x="384.60" y="244.47" font-family='"Liberation Serif", serif' font-size="9.9" fill="#333" text-anchor="end" textLength="11.55" lengthAdjust="spacingAndGlyphs">-80</text>
<line x1="387" y1="260" x2="389.5" y2="260" stroke="#999" stroke-width="0.6" />
<text x="384.60" y="263.27" font-family='"Liberation Serif", serif' font-size="9.9" fill="#333" text-anchor="end" textLength="15.88" lengthAdjust="spacingAndGlyphs">-100</text>
<line x1="387" y1="278" x2="389.5" y2="278" stroke="#999" stroke-width="0.6" />
<text x="384.60" y="281.27" font-family='"Liberation Serif", serif' font-size="9.9" fill="#333" text-anchor="end" textLength="15.88" lengthAdjust="spacingAndGlyphs">-120</text>
<line x1="387" y1="297" x2="389.5" y2="297" stroke="#999" stroke-width="0.6" />
<text x="384.60" y="300.27" font-family='"Liberation Serif", serif' font-size="9.9" fill="#333" text-anchor="end" textLength="15.88" lengthAdjust="spacingAndGlyphs">-140</text>
<line x1="387" y1="313.2" x2="389.5" y2="313.2" stroke="#999" stroke-width="0.6" />
<text x="384.60" y="316.47" font-family='"Liberation Serif", serif' font-size="9.9" fill="#333" text-anchor="end" textLength="15.88" lengthAdjust="spacingAndGlyphs">-160</text>
<line x1="389.5" y1="322" x2="502.3" y2="357.4" stroke="#b5b5b5" stroke-width="0.7" />
<line x1="502.3" y1="357.4" x2="653" y2="330.5" stroke="#b5b5b5" stroke-width="0.7" />
<g transform="translate(351,12.7) scale(1,0.967)"><g clip-path="url(#cliptall)"><use href="#fieldtall"/></g></g>
<text x="15.2" y="80.1" font-family='"Liberation Serif", serif' font-size="10.4" fill="#333" text-anchor="middle" transform="rotate(-90 15.2 80.1)">Oil Film Thickness (nm)</text>
<text x="365" y="83.4" font-family='"Liberation Serif", serif' font-size="10.4" fill="#333" text-anchor="middle" transform="rotate(-90 365 83.4)">Oil Film Thickness (nm)</text>
<text x="14.5" y="275.9" font-family='"Liberation Serif", serif' font-size="10.4" fill="#333" text-anchor="middle" transform="rotate(-90 14.5 275.9)">Oil Film Thickness (nm)</text>
<text x="366.2" y="283.4" font-family='"Liberation Serif", serif' font-size="10.15" fill="#333" text-anchor="middle" transform="rotate(-90 366.2 283.4)">Oil Film Thickness (nm)</text>
<text x="202.5" y="455.5" font-family='"Liberation Serif", serif' font-size="10.4" fill="#333" text-anchor="middle" transform="rotate(-90 202.5 455.5)">Oil Film Thickness (nm)</text>
<line x1="113" y1="25.7" x2="102.13725455430951" y2="47.5145297884768" stroke="#e0141c" stroke-width="1.15" />
<circle cx="102.14" cy="47.51" r="1.0" fill="#e0141c"/>
<circle cx="100.8" cy="50.2" r="2.4" fill="none" stroke="#e0141c" stroke-width="1.1"/>
<line x1="196.3" y1="25.5" x2="159.61527089606426" y2="100.7036946630683" stroke="#e0141c" stroke-width="1.15" />
<circle cx="159.62" cy="100.70" r="1.0" fill="#e0141c"/>
<circle cx="158.3" cy="103.4" r="2.4" fill="none" stroke="#e0141c" stroke-width="1.1"/>
<rect x="84.2" y="10.3" width="56.10" height="15.40" fill="#565656"/>
<text x="92.20" y="24.50" font-family='"Liberation Serif", serif' font-size="17.58" fill="#fff" textLength="39.20" lengthAdjust="spacingAndGlyphs">-80.82</text>
<rect x="165.8" y="10.3" width="59.90" height="15.20" fill="#565656"/>
<text x="172.50" y="24.50" font-family='"Liberation Serif", serif' font-size="17.58" fill="#fff" textLength="47.50" lengthAdjust="spacingAndGlyphs">-133.32</text>
<line x1="466.5" y1="25" x2="452.76767280967243" y2="34.4939546007203" stroke="#e0141c" stroke-width="1.15" />
<circle cx="452.77" cy="34.49" r="1.0" fill="#e0141c"/>
<circle cx="450.3" cy="36.2" r="2.4" fill="none" stroke="#e0141c" stroke-width="1.1"/>
<line x1="566.2" y1="25.3" x2="509.43639316507364" y2="98.62773101371893" stroke="#e0141c" stroke-width="1.15" />
<circle cx="509.44" cy="98.63" r="1.0" fill="#e0141c"/>
<circle cx="507.6" cy="101" r="2.4" fill="none" stroke="#e0141c" stroke-width="1.1"/>
<rect x="438.9" y="10.3" width="56.10" height="15.10" fill="#565656"/>
<text x="444.70" y="24.20" font-family='"Liberation Sans", sans-serif' font-size="16.76" fill="#fff" textLength="41.40" lengthAdjust="spacingAndGlyphs">-80.41</text>
<rect x="537" y="10.4" width="58.90" height="14.90" fill="#565656"/>
<text x="541.50" y="24.20" font-family='"Liberation Sans", sans-serif' font-size="16.76" fill="#fff" textLength="50.00" lengthAdjust="spacingAndGlyphs">-132.96</text>
<line x1="120" y1="217.5" x2="102.00861686721353" y2="227.7184069249321" stroke="#e0141c" stroke-width="1.15" />
<circle cx="102.01" cy="227.72" r="1.0" fill="#e0141c"/>
<circle cx="99.4" cy="229.2" r="2.4" fill="none" stroke="#e0141c" stroke-width="1.1"/>
<line x1="210.8" y1="216.6" x2="155.2268534556908" y2="295.5468434329279" stroke="#e0141c" stroke-width="1.15" />
<circle cx="155.23" cy="295.55" r="1.0" fill="#e0141c"/>
<circle cx="153.5" cy="298" r="2.4" fill="none" stroke="#e0141c" stroke-width="1.1"/>
<rect x="91.1" y="202" width="56.20" height="15.50" fill="#565656"/>
<text x="99.00" y="216.20" font-family='"Liberation Serif", serif' font-size="17.58" fill="#fff" textLength="40.50" lengthAdjust="spacingAndGlyphs">-81.40</text>
<rect x="181" y="201.8" width="59.20" height="14.80" fill="#565656"/>
<text x="187.50" y="216.00" font-family='"Liberation Serif", serif' font-size="17.58" fill="#fff" textLength="47.00" lengthAdjust="spacingAndGlyphs">-133.69</text>
<line x1="468.2" y1="221.2" x2="453.4495135660953" y2="234.21513508873946" stroke="#e0141c" stroke-width="1.15" />
<circle cx="453.45" cy="234.22" r="1.0" fill="#e0141c"/>
<circle cx="451.2" cy="236.2" r="2.4" fill="none" stroke="#e0141c" stroke-width="1.1"/>
<line x1="554" y1="221.5" x2="508.87511407656194" y2="294.6467636917401" stroke="#e0141c" stroke-width="1.15" />
<circle cx="508.88" cy="294.65" r="1.0" fill="#e0141c"/>
<circle cx="507.3" cy="297.2" r="2.4" fill="none" stroke="#e0141c" stroke-width="1.1"/>
<rect x="440" y="206.7" width="55.70" height="14.50" fill="#565656"/>
<text x="445.50" y="220.20" font-family='"Liberation Sans", sans-serif' font-size="15.92" fill="#fff" textLength="44.00" lengthAdjust="spacingAndGlyphs">-78.66</text>
<rect x="524.3" y="207.2" width="59.40" height="14.30" fill="#565656"/>
<text x="528.50" y="220.50" font-family='"Liberation Sans", sans-serif' font-size="15.78" fill="#fff" textLength="50.50" lengthAdjust="spacingAndGlyphs">-131.16</text>
<line x1="306.7" y1="401.9" x2="290.01144095002667" y2="422.08777304432255" stroke="#e0141c" stroke-width="1.15" />
<circle cx="290.01" cy="422.09" r="1.0" fill="#e0141c"/>
<circle cx="288.1" cy="424.4" r="2.4" fill="none" stroke="#e0141c" stroke-width="1.1"/>
<line x1="397.1" y1="401.9" x2="347.71986408285096" y2="478.87491775320296" stroke="#e0141c" stroke-width="1.15" />
<circle cx="347.72" cy="478.87" r="1.0" fill="#e0141c"/>
<circle cx="346.1" cy="481.4" r="2.4" fill="none" stroke="#e0141c" stroke-width="1.1"/>
<rect x="278.2" y="386.7" width="55.40" height="15.20" fill="#565656"/>
<text x="285.50" y="400.60" font-family='"Liberation Serif", serif' font-size="17.27" fill="#fff" textLength="40.50" lengthAdjust="spacingAndGlyphs">-76.59</text>
<rect x="366.9" y="386.7" width="59.40" height="15.20" fill="#565656"/>
<text x="373.00" y="400.60" font-family='"Liberation Serif", serif' font-size="17.27" fill="#fff" textLength="48.00" lengthAdjust="spacingAndGlyphs">-127.76</text>
<rect x="310.5" y="10.8" width="4.0" height="151.20" fill="url(#cb121)"/>
<line x1="314.5" y1="28.1" x2="315.7" y2="28.1" stroke="#555" stroke-width="0.5" />
<text x="315.70" y="31.40" font-family='"Liberation Serif", serif' font-size="9.9" fill="#333" text-anchor="start" textLength="11.55" lengthAdjust="spacingAndGlyphs">-80</text>
<line x1="314.5" y1="60.2" x2="315.7" y2="60.2" stroke="#555" stroke-width="0.5" />
<text x="315.70" y="63.50" font-family='"Liberation Serif", serif' font-size="9.9" fill="#333" text-anchor="start" textLength="15.88" lengthAdjust="spacingAndGlyphs">-100</text>
<line x1="314.5" y1="93" x2="315.7" y2="93" stroke="#555" stroke-width="0.5" />
<text x="315.70" y="96.30" font-family='"Liberation Serif", serif' font-size="9.9" fill="#333" text-anchor="start" textLength="15.88" lengthAdjust="spacingAndGlyphs">-120</text>
<line x1="314.5" y1="125.2" x2="315.7" y2="125.2" stroke="#555" stroke-width="0.5" />
<text x="315.70" y="128.50" font-family='"Liberation Serif", serif' font-size="9.9" fill="#333" text-anchor="start" textLength="15.88" lengthAdjust="spacingAndGlyphs">-140</text>
<line x1="314.5" y1="158" x2="315.7" y2="158" stroke="#555" stroke-width="0.5" />
<text x="315.70" y="161.30" font-family='"Liberation Serif", serif' font-size="9.9" fill="#333" text-anchor="start" textLength="15.88" lengthAdjust="spacingAndGlyphs">-160</text>
<rect x="661.2" y="10.4" width="3.6" height="150.80" fill="url(#cb122)"/>
<line x1="664.8000000000001" y1="27.1" x2="666.0000000000001" y2="27.1" stroke="#555" stroke-width="0.5" />
<text x="666.00" y="30.40" font-family='"Liberation Serif", serif' font-size="9.9" fill="#333" text-anchor="start" textLength="11.55" lengthAdjust="spacingAndGlyphs">-90</text>
<line x1="664.8000000000001" y1="45" x2="666.0000000000001" y2="45" stroke="#555" stroke-width="0.5" />
<text x="666.00" y="48.30" font-family='"Liberation Serif", serif' font-size="9.9" fill="#333" text-anchor="start" textLength="15.88" lengthAdjust="spacingAndGlyphs">-100</text>
<line x1="664.8000000000001" y1="63" x2="666.0000000000001" y2="63" stroke="#555" stroke-width="0.5" />
<text x="666.00" y="66.30" font-family='"Liberation Serif", serif' font-size="9.9" fill="#333" text-anchor="start" textLength="15.56" lengthAdjust="spacingAndGlyphs">-110</text>
<line x1="664.8000000000001" y1="82" x2="666.0000000000001" y2="82" stroke="#555" stroke-width="0.5" />
<text x="666.00" y="85.30" font-family='"Liberation Serif", serif' font-size="9.9" fill="#333" text-anchor="start" textLength="15.88" lengthAdjust="spacingAndGlyphs">-120</text>
<line x1="664.8000000000001" y1="101" x2="666.0000000000001" y2="101" stroke="#555" stroke-width="0.5" />
<text x="666.00" y="104.30" font-family='"Liberation Serif", serif' font-size="9.9" fill="#333" text-anchor="start" textLength="15.88" lengthAdjust="spacingAndGlyphs">-130</text>
<line x1="664.8000000000001" y1="118.8" x2="666.0000000000001" y2="118.8" stroke="#555" stroke-width="0.5" />
<text x="666.00" y="122.10" font-family='"Liberation Serif", serif' font-size="9.9" fill="#333" text-anchor="start" textLength="15.88" lengthAdjust="spacingAndGlyphs">-140</text>
<line x1="664.8000000000001" y1="137.7" x2="666.0000000000001" y2="137.7" stroke="#555" stroke-width="0.5" />
<text x="666.00" y="141.00" font-family='"Liberation Serif", serif' font-size="9.9" fill="#333" text-anchor="start" textLength="15.88" lengthAdjust="spacingAndGlyphs">-150</text>
<line x1="664.8000000000001" y1="155.8" x2="666.0000000000001" y2="155.8" stroke="#555" stroke-width="0.5" />
<text x="666.00" y="159.10" font-family='"Liberation Serif", serif' font-size="9.9" fill="#333" text-anchor="start" textLength="15.88" lengthAdjust="spacingAndGlyphs">-160</text>
<rect x="310.7" y="204.5" width="3.8" height="149.40" fill="url(#cb123)"/>
<line x1="314.5" y1="221.2" x2="315.7" y2="221.2" stroke="#555" stroke-width="0.5" />
<text x="315.70" y="224.50" font-family='"Liberation Serif", serif' font-size="9.9" fill="#333" text-anchor="start" textLength="11.55" lengthAdjust="spacingAndGlyphs">-90</text>
<line x1="314.5" y1="239.6" x2="315.7" y2="239.6" stroke="#555" stroke-width="0.5" />
<text x="315.70" y="242.90" font-family='"Liberation Serif", serif' font-size="9.9" fill="#333" text-anchor="start" textLength="15.88" lengthAdjust="spacingAndGlyphs">-100</text>
<line x1="314.5" y1="259.3" x2="315.7" y2="259.3" stroke="#555" stroke-width="0.5" />
<text x="315.70" y="262.60" font-family='"Liberation Serif", serif' font-size="9.9" fill="#333" text-anchor="start" textLength="15.56" lengthAdjust="spacingAndGlyphs">-110</text>
<line x1="314.5" y1="278.2" x2="315.7" y2="278.2" stroke="#555" stroke-width="0.5" />
<text x="315.70" y="281.50" font-family='"Liberation Serif", serif' font-size="9.9" fill="#333" text-anchor="start" textLength="15.88" lengthAdjust="spacingAndGlyphs">-120</text>
<line x1="314.5" y1="297.7" x2="315.7" y2="297.7" stroke="#555" stroke-width="0.5" />
<text x="315.70" y="301.00" font-family='"Liberation Serif", serif' font-size="9.9" fill="#333" text-anchor="start" textLength="15.88" lengthAdjust="spacingAndGlyphs">-130</text>
<line x1="314.5" y1="316.9" x2="315.7" y2="316.9" stroke="#555" stroke-width="0.5" />
<text x="315.70" y="320.20" font-family='"Liberation Serif", serif' font-size="9.9" fill="#333" text-anchor="start" textLength="15.88" lengthAdjust="spacingAndGlyphs">-140</text>
<line x1="314.5" y1="335.5" x2="315.7" y2="335.5" stroke="#555" stroke-width="0.5" />
<text x="315.70" y="338.80" font-family='"Liberation Serif", serif' font-size="9.9" fill="#333" text-anchor="start" textLength="15.88" lengthAdjust="spacingAndGlyphs">-150</text>
<rect x="661.5" y="211.2" width="3.4" height="146.70" fill="url(#cb124)"/>
<line x1="664.9" y1="216" x2="666.1" y2="216" stroke="#555" stroke-width="0.5" />
<text x="666.10" y="219.30" font-family='"Liberation Serif", serif' font-size="9.9" fill="#333" text-anchor="start" textLength="11.55" lengthAdjust="spacingAndGlyphs">-80</text>
<line x1="664.9" y1="249" x2="666.1" y2="249" stroke="#555" stroke-width="0.5" />
<text x="666.10" y="252.30" font-family='"Liberation Serif", serif' font-size="9.9" fill="#333" text-anchor="start" textLength="15.88" lengthAdjust="spacingAndGlyphs">-100</text>
<line x1="664.9" y1="282.8" x2="666.1" y2="282.8" stroke="#555" stroke-width="0.5" />
<text x="666.10" y="286.10" font-family='"Liberation Serif", serif' font-size="9.9" fill="#333" text-anchor="start" textLength="15.88" lengthAdjust="spacingAndGlyphs">-120</text>
<line x1="664.9" y1="316.6" x2="666.1" y2="316.6" stroke="#555" stroke-width="0.5" />
<text x="666.10" y="319.90" font-family='"Liberation Serif", serif' font-size="9.9" fill="#333" text-anchor="start" textLength="15.88" lengthAdjust="spacingAndGlyphs">-140</text>
<line x1="664.9" y1="351.2" x2="666.1" y2="351.2" stroke="#555" stroke-width="0.5" />
<text x="666.10" y="354.50" font-family='"Liberation Serif", serif' font-size="9.9" fill="#333" text-anchor="start" textLength="15.88" lengthAdjust="spacingAndGlyphs">-160</text>
<rect x="498.7" y="386.1" width="3.8" height="152.10" fill="url(#cb125)"/>
<line x1="502.5" y1="407.5" x2="503.7" y2="407.5" stroke="#555" stroke-width="0.5" />
<text x="503.70" y="410.80" font-family='"Liberation Serif", serif' font-size="9.9" fill="#333" text-anchor="start" textLength="11.55" lengthAdjust="spacingAndGlyphs">-80</text>
<line x1="502.5" y1="442.4" x2="503.7" y2="442.4" stroke="#555" stroke-width="0.5" />
<text x="503.70" y="445.70" font-family='"Liberation Serif", serif' font-size="9.9" fill="#333" text-anchor="start" textLength="15.88" lengthAdjust="spacingAndGlyphs">-100</text>
<line x1="502.5" y1="477.2" x2="503.7" y2="477.2" stroke="#555" stroke-width="0.5" />
<text x="503.70" y="480.50" font-family='"Liberation Serif", serif' font-size="9.9" fill="#333" text-anchor="start" textLength="15.88" lengthAdjust="spacingAndGlyphs">-120</text>
<line x1="502.5" y1="511.9" x2="503.7" y2="511.9" stroke="#555" stroke-width="0.5" />
<text x="503.70" y="515.20" font-family='"Liberation Serif", serif' font-size="9.9" fill="#333" text-anchor="start" textLength="15.88" lengthAdjust="spacingAndGlyphs">-140</text>
<text x="11.20" y="23.50" font-family='"Liberation Serif", serif' font-size="18" fill="#111" text-anchor="start" >(a)</text>
<text x="340.60" y="23.50" font-family='"Liberation Serif", serif' font-size="18" fill="#111" text-anchor="start" >(b)</text>
<text x="10.60" y="201.80" font-family='"Liberation Serif", serif' font-size="18" fill="#111" text-anchor="start" >(c)</text>
<text x="341.00" y="198.70" font-family='"Liberation Serif", serif' font-size="18" fill="#111" text-anchor="start" >(d)</text>
<text x="157.20" y="397.90" font-family='"Liberation Serif", serif' font-size="18" fill="#111" text-anchor="start" >(e)</text>
<line x1="1.75" y1="0.9" x2="685" y2="0.9" stroke="#000" stroke-width="1.75" stroke-dasharray="6.3 5.35" stroke-dashoffset="0"/>
<line x1="6.1" y1="556.2" x2="685" y2="556.2" stroke="#000" stroke-width="1.75" stroke-dasharray="6.3 5.35" stroke-dashoffset="0"/>
<line x1="1.45" y1="3.1" x2="1.45" y2="556" stroke="#000" stroke-width="1.75" stroke-dasharray="6.3 5.35" stroke-dashoffset="0"/>
<line x1="684.1" y1="5.3" x2="684.1" y2="556" stroke="#000" stroke-width="1.75" stroke-dasharray="6.3 5.35" stroke-dashoffset="0"/>
</svg>
</body></html>
